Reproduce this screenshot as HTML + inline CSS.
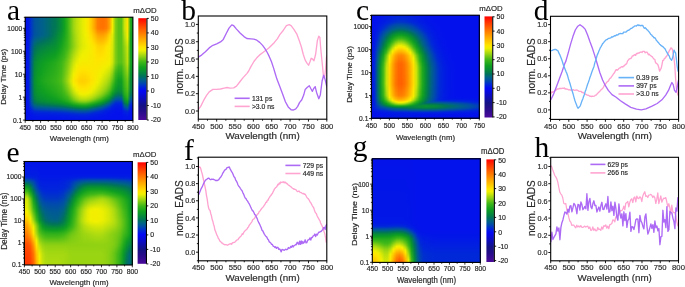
<!DOCTYPE html>
<html><head><meta charset="utf-8"><style>
html,body{margin:0;padding:0;background:#fff;}
body{width:685px;height:287px;position:relative;overflow:hidden;font-family:"Liberation Sans", sans-serif;}
.hm{position:absolute;overflow:hidden;}
.hm div{position:absolute;left:0;width:100%;height:1px;}
svg{position:absolute;left:0;top:0;will-change:transform;}
</style></head><body>
<div class="hm" style="left:25px;top:17px;width:108px;height:104px"><div style="top:0px;background:linear-gradient(90deg,#0311ec 0.5px,#0219e5 3.5px,#0039c3 6.5px,#0052a0 9.5px,#005996 12.5px,#005d8e 15.5px,#006287 18.5px,#00677a 21.5px,#006d6c 24.5px,#00725d 27.5px,#017853 30.5px,#048444 33.5px,#089034 36.5px,#11a120 39.5px,#34b21a 42.5px,#64c415 45.5px,#9ad512 48.5px,#badf0d 51.5px,#cfe608 54.5px,#e4ec03 57.5px,#f3ee00 60.5px,#ffe200 63.5px,#ffc800 66.5px,#ffa600 69.5px,#ff7e00 72.5px,#ff7300 75.5px,#ff7200 78.5px,#ff7c00 81.5px,#ffa100 84.5px,#f5ec00 87.5px,#83cd13 90.5px,#5ac016 93.5px,#59c016 96.5px,#c7e30a 99.5px,#ffe400 102.5px,#26ab1c 105.5px,#10a020 107.5px)"></div><div style="top:1px;background:linear-gradient(90deg,#0311ec 0.5px,#0219e5 3.5px,#0039c3 6.5px,#0052a0 9.5px,#005996 12.5px,#005d8e 15.5px,#006287 18.5px,#00677a 21.5px,#006d6c 24.5px,#00725d 27.5px,#017853 30.5px,#048444 33.5px,#089034 36.5px,#11a120 39.5px,#34b21a 42.5px,#64c415 45.5px,#9ad512 48.5px,#badf0d 51.5px,#cfe608 54.5px,#e4ec03 57.5px,#f3ee00 60.5px,#ffe200 63.5px,#ffc800 66.5px,#ffa600 69.5px,#ff7e00 72.5px,#ff7300 75.5px,#ff7200 78.5px,#ff7c00 81.5px,#ffa100 84.5px,#f5ec00 87.5px,#83cd13 90.5px,#5ac016 93.5px,#59c016 96.5px,#c7e30a 99.5px,#ffe400 102.5px,#26ab1c 105.5px,#10a020 107.5px)"></div><div style="top:2px;background:linear-gradient(90deg,#0311ec 0.5px,#0219e5 3.5px,#0039c3 6.5px,#0052a0 9.5px,#005996 12.5px,#005d8e 15.5px,#006287 18.5px,#00677a 21.5px,#006d6c 24.5px,#00725d 27.5px,#017853 30.5px,#048444 33.5px,#089034 36.5px,#11a120 39.5px,#34b21a 42.5px,#64c415 45.5px,#9ad512 48.5px,#badf0d 51.5px,#cfe608 54.5px,#e4ec03 57.5px,#f3ee00 60.5px,#ffe200 63.5px,#ffc800 66.5px,#ffa600 69.5px,#ff7e00 72.5px,#ff7300 75.5px,#ff7200 78.5px,#ff7c00 81.5px,#ffa100 84.5px,#f5ec00 87.5px,#83cd13 90.5px,#5ac016 93.5px,#59c016 96.5px,#c7e30a 99.5px,#ffe400 102.5px,#26ab1c 105.5px,#10a020 107.5px)"></div><div style="top:3px;background:linear-gradient(90deg,#0311ec 0.5px,#0219e5 3.5px,#0039c3 6.5px,#0052a0 9.5px,#005996 12.5px,#005d8e 15.5px,#006287 18.5px,#00677a 21.5px,#006d6c 24.5px,#00725d 27.5px,#017853 30.5px,#048444 33.5px,#089034 36.5px,#11a120 39.5px,#34b21a 42.5px,#64c415 45.5px,#9ad512 48.5px,#badf0d 51.5px,#cfe608 54.5px,#e4ec03 57.5px,#f3ee00 60.5px,#ffe200 63.5px,#ffc800 66.5px,#ffa600 69.5px,#ff7e00 72.5px,#ff7300 75.5px,#ff7200 78.5px,#ff7c00 81.5px,#ffa100 84.5px,#f5ec00 87.5px,#83cd13 90.5px,#5ac016 93.5px,#59c016 96.5px,#c7e30a 99.5px,#ffe400 102.5px,#26ab1c 105.5px,#10a020 107.5px)"></div><div style="top:4px;background:linear-gradient(90deg,#0311ec 0.5px,#0219e5 3.5px,#0039c3 6.5px,#0052a0 9.5px,#005996 12.5px,#005d8e 15.5px,#006287 18.5px,#00677a 21.5px,#006d6c 24.5px,#00725d 27.5px,#017853 30.5px,#048444 33.5px,#089034 36.5px,#11a120 39.5px,#34b21a 42.5px,#64c415 45.5px,#9ad512 48.5px,#badf0d 51.5px,#cfe608 54.5px,#e4ec03 57.5px,#f3ee00 60.5px,#ffe200 63.5px,#ffc800 66.5px,#ffa600 69.5px,#ff7e00 72.5px,#ff7300 75.5px,#ff7200 78.5px,#ff7c00 81.5px,#ffa100 84.5px,#f5ec00 87.5px,#83cd13 90.5px,#5ac016 93.5px,#59c016 96.5px,#c7e30a 99.5px,#ffe400 102.5px,#26ab1c 105.5px,#10a020 107.5px)"></div><div style="top:5px;background:linear-gradient(90deg,#0311ec 0.5px,#0219e5 3.5px,#0039c3 6.5px,#0052a0 9.5px,#005996 12.5px,#005d8e 15.5px,#006287 18.5px,#00677a 21.5px,#006d6c 24.5px,#00725d 27.5px,#017853 30.5px,#048444 33.5px,#089034 36.5px,#11a120 39.5px,#34b21a 42.5px,#64c415 45.5px,#9ad512 48.5px,#badf0d 51.5px,#cfe608 54.5px,#e4ec03 57.5px,#f3ee00 60.5px,#ffe200 63.5px,#ffc800 66.5px,#ffa600 69.5px,#ff7e00 72.5px,#ff7300 75.5px,#ff7200 78.5px,#ff7c00 81.5px,#ffa100 84.5px,#f5ec00 87.5px,#83cd13 90.5px,#5ac016 93.5px,#59c016 96.5px,#c7e30a 99.5px,#ffe400 102.5px,#26ab1c 105.5px,#10a020 107.5px)"></div><div style="top:6px;background:linear-gradient(90deg,#0311ec 0.5px,#0219e5 3.5px,#0039c3 6.5px,#0052a0 9.5px,#005996 12.5px,#005d8e 15.5px,#006287 18.5px,#00677a 21.5px,#006d6c 24.5px,#00725d 27.5px,#017853 30.5px,#048444 33.5px,#089034 36.5px,#11a120 39.5px,#34b21a 42.5px,#64c415 45.5px,#9ad512 48.5px,#badf0d 51.5px,#cfe608 54.5px,#e4ec03 57.5px,#f3ee00 60.5px,#ffe200 63.5px,#ffc800 66.5px,#ffa600 69.5px,#ff7e00 72.5px,#ff7300 75.5px,#ff7200 78.5px,#ff7c00 81.5px,#ffa100 84.5px,#f5ec00 87.5px,#83cd13 90.5px,#5ac016 93.5px,#59c016 96.5px,#c7e30a 99.5px,#ffe400 102.5px,#26ab1c 105.5px,#10a020 107.5px)"></div><div style="top:7px;background:linear-gradient(90deg,#0311ec 0.5px,#0219e5 3.5px,#0039c3 6.5px,#0052a0 9.5px,#005996 12.5px,#005d8e 15.5px,#006287 18.5px,#00677a 21.5px,#006d6c 24.5px,#00725d 27.5px,#017853 30.5px,#048444 33.5px,#089034 36.5px,#11a120 39.5px,#34b21a 42.5px,#64c415 45.5px,#9ad512 48.5px,#badf0d 51.5px,#cfe608 54.5px,#e4ec03 57.5px,#f3ee00 60.5px,#ffe200 63.5px,#ffc800 66.5px,#ffa600 69.5px,#ff7e00 72.5px,#ff7300 75.5px,#ff7200 78.5px,#ff7c00 81.5px,#ffa100 84.5px,#f5ec00 87.5px,#83cd13 90.5px,#5ac016 93.5px,#59c016 96.5px,#c7e30a 99.5px,#ffe400 102.5px,#26ab1c 105.5px,#10a020 107.5px)"></div><div style="top:8px;background:linear-gradient(90deg,#0311ec 0.5px,#0219e5 3.5px,#0039c3 6.5px,#0052a0 9.5px,#005996 12.5px,#005d8e 15.5px,#006287 18.5px,#00677a 21.5px,#006d6c 24.5px,#00725d 27.5px,#017853 30.5px,#048444 33.5px,#089034 36.5px,#11a120 39.5px,#34b21a 42.5px,#64c415 45.5px,#9ad512 48.5px,#badf0d 51.5px,#cfe608 54.5px,#e4ec03 57.5px,#f3ee00 60.5px,#ffe200 63.5px,#ffc800 66.5px,#ffa600 69.5px,#ff7e00 72.5px,#ff7300 75.5px,#ff7200 78.5px,#ff7c00 81.5px,#ffa100 84.5px,#f5ec00 87.5px,#83cd13 90.5px,#5ac016 93.5px,#59c016 96.5px,#c7e30a 99.5px,#ffe400 102.5px,#26ab1c 105.5px,#10a020 107.5px)"></div><div style="top:9px;background:linear-gradient(90deg,#0311ec 0.5px,#0219e5 3.5px,#0039c3 6.5px,#0052a0 9.5px,#005996 12.5px,#005d8e 15.5px,#006287 18.5px,#00677a 21.5px,#006d6c 24.5px,#00725d 27.5px,#017853 30.5px,#048444 33.5px,#089034 36.5px,#11a120 39.5px,#34b21a 42.5px,#64c415 45.5px,#9ad512 48.5px,#badf0d 51.5px,#cfe608 54.5px,#e4ec03 57.5px,#f3ee00 60.5px,#ffe200 63.5px,#ffc800 66.5px,#ffa600 69.5px,#ff7e00 72.5px,#ff7300 75.5px,#ff7200 78.5px,#ff7c00 81.5px,#ffa100 84.5px,#f5ec00 87.5px,#83cd13 90.5px,#5ac016 93.5px,#59c016 96.5px,#c7e30a 99.5px,#ffe400 102.5px,#25ab1c 105.5px,#10a020 107.5px)"></div><div style="top:10px;background:linear-gradient(90deg,#0311ec 0.5px,#0219e5 3.5px,#0039c3 6.5px,#0052a0 9.5px,#005996 12.5px,#005d8e 15.5px,#006287 18.5px,#00677a 21.5px,#006d6c 24.5px,#00725d 27.5px,#017853 30.5px,#048443 33.5px,#089034 36.5px,#11a120 39.5px,#34b21a 42.5px,#64c415 45.5px,#9ad512 48.5px,#badf0e 51.5px,#cfe608 54.5px,#e4ec03 57.5px,#f3ee00 60.5px,#ffe200 63.5px,#ffc800 66.5px,#ffa600 69.5px,#ff7e00 72.5px,#ff7400 75.5px,#ff7300 78.5px,#ff7d00 81.5px,#ffa200 84.5px,#f5ec00 87.5px,#83cd13 90.5px,#5ac016 93.5px,#59c016 96.5px,#c7e30a 99.5px,#ffe400 102.5px,#25ab1c 105.5px,#10a020 107.5px)"></div><div style="top:11px;background:linear-gradient(90deg,#0311ec 0.5px,#0219e5 3.5px,#0039c3 6.5px,#0052a0 9.5px,#005996 12.5px,#005d8e 15.5px,#006287 18.5px,#00677a 21.5px,#006d6c 24.5px,#00725c 27.5px,#027953 30.5px,#048443 33.5px,#089033 36.5px,#12a120 39.5px,#34b21a 42.5px,#64c315 45.5px,#9ad512 48.5px,#badf0e 51.5px,#cfe608 54.5px,#e3ec03 57.5px,#f3ee00 60.5px,#ffe200 63.5px,#ffc900 66.5px,#ffa800 69.5px,#ff8000 72.5px,#ff7600 75.5px,#ff7500 78.5px,#ff7f00 81.5px,#ffa500 84.5px,#f4ed00 87.5px,#83cd13 90.5px,#5ac016 93.5px,#59c016 96.5px,#c6e30b 99.5px,#fee500 102.5px,#25aa1d 105.5px,#10a020 107.5px)"></div><div style="top:12px;background:linear-gradient(90deg,#0311ec 0.5px,#0219e5 3.5px,#0039c3 6.5px,#0052a0 9.5px,#005996 12.5px,#005d8e 15.5px,#006287 18.5px,#00677a 21.5px,#006d6b 24.5px,#00725c 27.5px,#027a51 30.5px,#048541 33.5px,#089132 36.5px,#13a120 39.5px,#35b21a 42.5px,#63c315 45.5px,#98d412 48.5px,#b9df0e 51.5px,#cfe608 54.5px,#e3ec03 57.5px,#f3ee00 60.5px,#ffe300 63.5px,#ffcb00 66.5px,#ffab00 69.5px,#ff8500 72.5px,#ff7b00 75.5px,#ff7b00 78.5px,#ff8600 81.5px,#ffab00 84.5px,#f3ee00 87.5px,#83cd13 90.5px,#5ac016 93.5px,#59c016 96.5px,#c4e20b 99.5px,#fde600 102.5px,#23aa1d 105.5px,#109f21 107.5px)"></div><div style="top:13px;background:linear-gradient(90deg,#0311ec 0.5px,#0219e5 3.5px,#0039c3 6.5px,#0052a0 9.5px,#005996 12.5px,#005d8e 15.5px,#006287 18.5px,#00677a 21.5px,#006d6b 24.5px,#00735b 27.5px,#027b50 30.5px,#058640 33.5px,#099231 36.5px,#14a21f 39.5px,#35b21a 42.5px,#63c316 45.5px,#97d412 48.5px,#b8de0e 51.5px,#cee508 54.5px,#e3ec03 57.5px,#f2ee00 60.5px,#ffe400 63.5px,#ffce00 66.5px,#ffb000 69.5px,#ff8c00 72.5px,#ff8100 75.5px,#ff8200 78.5px,#ff8d00 81.5px,#ffb200 84.5px,#f2ef00 87.5px,#82cd13 90.5px,#5ac016 93.5px,#59c016 96.5px,#c1e10c 99.5px,#fbe700 102.5px,#22a91d 105.5px,#0f9e22 107.5px)"></div><div style="top:14px;background:linear-gradient(90deg,#0311ec 0.5px,#0219e5 3.5px,#0039c3 6.5px,#0052a0 9.5px,#005996 12.5px,#005d8e 15.5px,#006287 18.5px,#00677a 21.5px,#006d6b 24.5px,#00735a 27.5px,#027c4e 30.5px,#05883e 33.5px,#099330 36.5px,#15a21f 39.5px,#35b31a 42.5px,#62c316 45.5px,#96d412 48.5px,#b7de0e 51.5px,#cee509 54.5px,#e2ec03 57.5px,#f2ef00 60.5px,#fde500 63.5px,#ffd000 66.5px,#ffb400 69.5px,#ff9200 72.5px,#ff8800 75.5px,#ff8900 78.5px,#ff9500 81.5px,#ffba00 84.5px,#f0f000 87.5px,#82cd13 90.5px,#5ac016 93.5px,#59c016 96.5px,#bee00d 99.5px,#f9e900 102.5px,#20a81d 105.5px,#0f9d23 107.5px)"></div><div style="top:15px;background:linear-gradient(90deg,#0311ec 0.5px,#0219e5 3.5px,#0039c3 6.5px,#0052a0 9.5px,#005996 12.5px,#005d8e 15.5px,#006287 18.5px,#00677a 21.5px,#006d6b 24.5px,#007459 27.5px,#037d4d 30.5px,#05893c 33.5px,#0a942f 36.5px,#16a31f 39.5px,#35b31a 42.5px,#61c316 45.5px,#94d312 48.5px,#b6de0f 51.5px,#cee509 54.5px,#e2ec04 57.5px,#f1ef00 60.5px,#fce600 63.5px,#ffd300 66.5px,#ffb800 69.5px,#ff9800 72.5px,#ff8e00 75.5px,#ff9000 78.5px,#ff9d00 81.5px,#ffc100 84.5px,#ecef01 87.5px,#82cd13 90.5px,#5ac016 93.5px,#59c016 96.5px,#bbdf0d 99.5px,#f7ea00 102.5px,#1ea71e 105.5px,#0e9c25 107.5px)"></div><div style="top:16px;background:linear-gradient(90deg,#0311ec 0.5px,#0219e5 3.5px,#0039c3 6.5px,#0052a0 9.5px,#005996 12.5px,#005d8e 15.5px,#006287 18.5px,#00677a 21.5px,#006d6b 24.5px,#017459 27.5px,#037e4b 30.5px,#068a3b 33.5px,#0a952e 36.5px,#17a31f 39.5px,#36b31a 42.5px,#61c316 45.5px,#93d312 48.5px,#b5dd0f 51.5px,#cde509 54.5px,#e1eb04 57.5px,#f1ef00 60.5px,#fbe700 63.5px,#ffd500 66.5px,#ffbc00 69.5px,#ff9e00 72.5px,#ff9500 75.5px,#ff9700 78.5px,#ffa500 81.5px,#ffc800 84.5px,#e8ed02 87.5px,#82cd13 90.5px,#5ac016 93.5px,#59c016 96.5px,#b8de0e 99.5px,#f6ec00 102.5px,#1ca61e 105.5px,#0e9b26 107.5px)"></div><div style="top:17px;background:linear-gradient(90deg,#0311ec 0.5px,#0219e5 3.5px,#0039c2 6.5px,#0052a0 9.5px,#005995 12.5px,#005e8e 15.5px,#006287 18.5px,#00687a 21.5px,#006d6a 24.5px,#017558 27.5px,#037f4a 30.5px,#068b39 33.5px,#0b962c 36.5px,#18a41f 39.5px,#36b31a 42.5px,#60c216 45.5px,#92d212 48.5px,#b4dd0f 51.5px,#cde509 54.5px,#e1eb04 57.5px,#f0f000 60.5px,#fae800 63.5px,#ffd800 66.5px,#ffc000 69.5px,#ffa500 72.5px,#ff9b00 75.5px,#ff9e00 78.5px,#ffad00 81.5px,#ffcf00 84.5px,#e4ec03 87.5px,#82cd13 90.5px,#5ac016 93.5px,#59c016 96.5px,#b5de0f 99.5px,#f4ed00 102.5px,#1ba51e 105.5px,#0d9a27 107.5px)"></div><div style="top:18px;background:linear-gradient(90deg,#0311ec 0.5px,#0219e5 3.5px,#003ac1 6.5px,#00549e 9.5px,#005a93 12.5px,#005f8c 15.5px,#006484 18.5px,#006977 21.5px,#006e68 24.5px,#017656 27.5px,#038148 30.5px,#068d37 33.5px,#0b972b 36.5px,#19a51e 39.5px,#36b31a 42.5px,#60c216 45.5px,#91d212 48.5px,#b3dd0f 51.5px,#cde509 54.5px,#e0eb04 57.5px,#f0f000 60.5px,#fae800 63.5px,#ffda00 66.5px,#ffc300 69.5px,#ffaa00 72.5px,#ffa100 75.5px,#ffa400 78.5px,#ffb300 81.5px,#ffd400 84.5px,#e1eb04 87.5px,#82cd13 90.5px,#5ac016 93.5px,#59c016 96.5px,#b2dd0f 99.5px,#f2ee00 102.5px,#1aa51e 105.5px,#0d9a27 107.5px)"></div><div style="top:19px;background:linear-gradient(90deg,#0311ec 0.5px,#0219e5 3.5px,#003cbf 6.5px,#00569a 9.5px,#005d8f 12.5px,#006288 15.5px,#00667f 18.5px,#006b71 21.5px,#007063 24.5px,#017853 27.5px,#048246 30.5px,#078e36 33.5px,#0c982a 36.5px,#1ba51e 39.5px,#37b31a 42.5px,#60c216 45.5px,#90d212 48.5px,#b2dd0f 51.5px,#cde509 54.5px,#e0eb04 57.5px,#eff000 60.5px,#f9e900 63.5px,#ffdc00 66.5px,#ffc700 69.5px,#ffaf00 72.5px,#ffa600 75.5px,#ffa900 78.5px,#ffb800 81.5px,#ffd700 84.5px,#dfeb04 87.5px,#82cd13 90.5px,#5ac016 93.5px,#59c016 96.5px,#afdc10 99.5px,#f1ef00 102.5px,#19a51e 105.5px,#0d9a28 107.5px)"></div><div style="top:20px;background:linear-gradient(90deg,#0311ec 0.5px,#0219e5 3.5px,#003ebc 6.5px,#005896 9.5px,#00608a 12.5px,#006582 15.5px,#006878 18.5px,#006d6b 21.5px,#00725d 24.5px,#027a50 27.5px,#048443 30.5px,#078f35 33.5px,#0c9929 36.5px,#1ca61e 39.5px,#38b419 42.5px,#61c216 45.5px,#8fd112 48.5px,#b2dc10 51.5px,#cce509 54.5px,#e0eb04 57.5px,#eeef00 60.5px,#f8e900 63.5px,#ffde00 66.5px,#ffca00 69.5px,#ffb300 72.5px,#ffab00 75.5px,#ffae00 78.5px,#ffbd00 81.5px,#ffda00 84.5px,#deeb04 87.5px,#82cd13 90.5px,#5ac016 93.5px,#59c016 96.5px,#addb10 99.5px,#eeef01 102.5px,#19a51e 105.5px,#0d9a28 107.5px)"></div><div style="top:21px;background:linear-gradient(90deg,#0311ec 0.5px,#021ae5 3.5px,#0041b9 6.5px,#005b92 9.5px,#006385 12.5px,#00677b 15.5px,#006b71 18.5px,#006f64 21.5px,#017459 24.5px,#027d4d 27.5px,#048541 30.5px,#089033 33.5px,#0d9a27 36.5px,#1ea71e 39.5px,#38b419 42.5px,#61c316 45.5px,#8fd112 48.5px,#b1dc10 51.5px,#cce509 54.5px,#dfeb04 57.5px,#eeef01 60.5px,#f7ea00 63.5px,#ffe000 66.5px,#ffcc00 69.5px,#ffb700 72.5px,#ffaf00 75.5px,#ffb300 78.5px,#ffc100 81.5px,#ffdc00 84.5px,#deea05 87.5px,#82cd13 90.5px,#5ac016 93.5px,#59c016 96.5px,#aada10 99.5px,#eaee02 102.5px,#19a41f 105.5px,#0d9a28 107.5px)"></div><div style="top:22px;background:linear-gradient(90deg,#0311ec 0.5px,#021ae4 3.5px,#0043b6 6.5px,#005e8e 9.5px,#00667f 12.5px,#006a74 15.5px,#006d6a 18.5px,#00715e 21.5px,#017755 24.5px,#037f4a 27.5px,#05873f 30.5px,#099132 33.5px,#0e9b26 36.5px,#1fa81d 39.5px,#39b519 42.5px,#61c316 45.5px,#8ed112 48.5px,#b0dc10 51.5px,#cce509 54.5px,#dfeb04 57.5px,#edef01 60.5px,#f7eb00 63.5px,#ffe200 66.5px,#ffcf00 69.5px,#ffbb00 72.5px,#ffb400 75.5px,#ffb700 78.5px,#ffc500 81.5px,#ffde00 84.5px,#ddea05 87.5px,#82cd13 90.5px,#5ac016 93.5px,#59c016 96.5px,#a7d911 99.5px,#e5ed03 102.5px,#19a41f 105.5px,#0d9a28 107.5px)"></div><div style="top:23px;background:linear-gradient(90deg,#0311ec 0.5px,#021ae4 3.5px,#0045b3 6.5px,#00608a 9.5px,#006878 12.5px,#006c6d 15.5px,#006f63 18.5px,#007459 21.5px,#027a52 24.5px,#038148 27.5px,#05893d 30.5px,#099230 33.5px,#0e9c24 36.5px,#21a81d 39.5px,#3ab519 42.5px,#61c316 45.5px,#8dd112 48.5px,#b0dc10 51.5px,#cce509 54.5px,#dfeb04 57.5px,#ecef01 60.5px,#f6eb00 63.5px,#ffe300 66.5px,#ffd200 69.5px,#ffbf00 72.5px,#ffb800 75.5px,#ffbc00 78.5px,#ffca00 81.5px,#ffe100 84.5px,#dcea05 87.5px,#82cd13 90.5px,#5ac016 93.5px,#59c016 96.5px,#a4d811 99.5px,#e1eb04 102.5px,#19a41f 105.5px,#0d9a28 107.5px)"></div><div style="top:24px;background:linear-gradient(90deg,#0311ec 0.5px,#021ae4 3.5px,#0048b0 6.5px,#006385 9.5px,#006b71 12.5px,#006e66 15.5px,#00725c 18.5px,#017755 21.5px,#027c4e 24.5px,#048345 27.5px,#068a3a 30.5px,#0a942f 33.5px,#0f9d23 36.5px,#22a91d 39.5px,#3bb519 42.5px,#62c316 45.5px,#8dd113 48.5px,#afdc10 51.5px,#cce509 54.5px,#dfeb04 57.5px,#ebef01 60.5px,#f5ec00 63.5px,#fee500 66.5px,#ffd500 69.5px,#ffc300 72.5px,#ffbd00 75.5px,#ffc000 78.5px,#ffce00 81.5px,#ffe300 84.5px,#dbe905 87.5px,#82cd13 90.5px,#5ac016 93.5px,#59c016 96.5px,#a2d711 99.5px,#ddea05 102.5px,#19a41f 105.5px,#0d9a28 107.5px)"></div><div style="top:25px;background:linear-gradient(90deg,#0311ec 0.5px,#021be4 3.5px,#0049ae 6.5px,#006580 9.5px,#006d6a 12.5px,#00715f 15.5px,#017558 18.5px,#027a51 21.5px,#037f4a 24.5px,#048542 27.5px,#068c38 30.5px,#0a952e 33.5px,#0f9f22 36.5px,#24aa1d 39.5px,#3bb619 42.5px,#62c316 45.5px,#8cd013 48.5px,#aedb10 51.5px,#cce509 54.5px,#deea04 57.5px,#ebee01 60.5px,#f5ec00 63.5px,#fde600 66.5px,#ffd800 69.5px,#ffc700 72.5px,#ffc100 75.5px,#ffc500 78.5px,#ffd300 81.5px,#fee500 84.5px,#dae905 87.5px,#82cd13 90.5px,#5ac016 93.5px,#59c016 96.5px,#9fd611 99.5px,#d9e906 102.5px,#18a41f 105.5px,#0d9a28 107.5px)"></div><div style="top:26px;background:linear-gradient(90deg,#0311ec 0.5px,#021be4 3.5px,#004bac 6.5px,#00677b 9.5px,#006f63 12.5px,#00745a 15.5px,#017854 18.5px,#027d4d 21.5px,#048147 24.5px,#05873f 27.5px,#078d37 30.5px,#0b962c 33.5px,#10a020 36.5px,#25ab1c 39.5px,#3cb619 42.5px,#62c316 45.5px,#8bd013 48.5px,#aedb10 51.5px,#cbe509 54.5px,#deea05 57.5px,#eaee02 60.5px,#f4ed00 63.5px,#fbe700 66.5px,#ffdb00 69.5px,#ffcb00 72.5px,#ffc500 75.5px,#ffc900 78.5px,#ffd700 81.5px,#fce600 84.5px,#d9e906 87.5px,#82cd13 90.5px,#5ac016 93.5px,#59c016 96.5px,#9cd611 99.5px,#d5e807 102.5px,#18a41f 105.5px,#0d9a28 107.5px)"></div><div style="top:27px;background:linear-gradient(90deg,#0311ec 0.5px,#021be3 3.5px,#004caa 6.5px,#006975 9.5px,#00725d 12.5px,#017756 15.5px,#027b50 18.5px,#037f49 21.5px,#048443 24.5px,#05893c 27.5px,#078e35 30.5px,#0c972b 33.5px,#12a120 36.5px,#27ab1c 39.5px,#3db619 42.5px,#62c316 45.5px,#8bd013 48.5px,#addb10 51.5px,#cbe509 54.5px,#deea05 57.5px,#e9ee02 60.5px,#f3ed00 63.5px,#fae800 66.5px,#ffde00 69.5px,#ffcf00 72.5px,#ffca00 75.5px,#ffce00 78.5px,#ffdb00 81.5px,#fbe700 84.5px,#d8e906 87.5px,#82cd13 90.5px,#5ac016 93.5px,#59c016 96.5px,#99d512 99.5px,#d1e608 102.5px,#18a41f 105.5px,#0d9a28 107.5px)"></div><div style="top:28px;background:linear-gradient(90deg,#0311ec 0.5px,#021be3 3.5px,#004da8 6.5px,#006b6f 9.5px,#017558 12.5px,#027a51 15.5px,#037e4c 18.5px,#048245 21.5px,#05873f 24.5px,#068c39 27.5px,#089034 30.5px,#0c9829 33.5px,#14a21f 36.5px,#28ac1c 39.5px,#3db718 42.5px,#63c316 45.5px,#8ad013 48.5px,#addb10 51.5px,#cbe409 54.5px,#ddea05 57.5px,#e8ee02 60.5px,#f3ee00 63.5px,#f9e900 66.5px,#ffe100 69.5px,#ffd300 72.5px,#ffce00 75.5px,#ffd200 78.5px,#ffe000 81.5px,#f9e900 84.5px,#d7e806 87.5px,#82cd13 90.5px,#5ac016 93.5px,#59c016 96.5px,#96d412 99.5px,#cde509 102.5px,#18a41f 105.5px,#0d9a28 107.5px)"></div><div style="top:29px;background:linear-gradient(90deg,#0311ec 0.5px,#021ce3 3.5px,#004ea6 6.5px,#006d6a 9.5px,#017754 12.5px,#027c4e 15.5px,#038148 18.5px,#048542 21.5px,#05893c 24.5px,#078d36 27.5px,#099132 30.5px,#0d9928 33.5px,#16a31f 36.5px,#2aad1c 39.5px,#3eb718 42.5px,#64c315 45.5px,#8ad013 48.5px,#addb10 51.5px,#cce509 54.5px,#deea05 57.5px,#e8ee02 60.5px,#f2ee00 63.5px,#f8ea00 66.5px,#ffe300 69.5px,#ffd600 72.5px,#ffd200 75.5px,#ffd600 78.5px,#ffe300 81.5px,#f8ea00 84.5px,#d7e806 87.5px,#82cd13 90.5px,#5ac016 93.5px,#59c016 96.5px,#94d312 99.5px,#c9e40a 102.5px,#18a41f 105.5px,#0d9a28 107.5px)"></div><div style="top:30px;background:linear-gradient(90deg,#0311ec 0.5px,#021ce3 3.5px,#0050a4 6.5px,#006f65 9.5px,#027a51 12.5px,#037f4a 15.5px,#048344 18.5px,#05873e 21.5px,#068c39 24.5px,#078f34 27.5px,#099330 30.5px,#0d9b26 33.5px,#18a41f 36.5px,#2cae1b 39.5px,#40b818 42.5px,#66c415 45.5px,#8dd113 48.5px,#afdc10 51.5px,#cee509 54.5px,#dfeb04 57.5px,#e9ee02 60.5px,#f2ee00 63.5px,#f7ea00 66.5px,#ffe400 69.5px,#ffd800 72.5px,#ffd400 75.5px,#ffd800 78.5px,#fee500 81.5px,#f7ea00 84.5px,#d6e807 87.5px,#82cd13 90.5px,#5ac016 93.5px,#59c016 96.5px,#92d212 99.5px,#c7e30a 102.5px,#18a41f 105.5px,#0d9a28 107.5px)"></div><div style="top:31px;background:linear-gradient(90deg,#0311ec 0.5px,#021ce3 3.5px,#0051a3 6.5px,#007061 9.5px,#027c4f 12.5px,#038147 15.5px,#048541 18.5px,#058a3b 21.5px,#078d36 24.5px,#089132 27.5px,#0a942e 30.5px,#0e9c24 33.5px,#1aa51e 36.5px,#2eaf1b 39.5px,#43b918 42.5px,#6ac515 45.5px,#91d212 48.5px,#b2dd0f 51.5px,#d0e608 54.5px,#e1eb04 57.5px,#eaee01 60.5px,#f2ee00 63.5px,#f7ea00 66.5px,#ffe400 69.5px,#ffd900 72.5px,#ffd600 75.5px,#ffda00 78.5px,#fee500 81.5px,#f7eb00 84.5px,#d5e807 87.5px,#82cd13 90.5px,#5ac016 93.5px,#59c016 96.5px,#91d212 99.5px,#c6e30a 102.5px,#18a41f 105.5px,#0d9a28 107.5px)"></div><div style="top:32px;background:linear-gradient(90deg,#0311ec 0.5px,#021ce3 3.5px,#0051a1 6.5px,#00725d 9.5px,#037e4c 12.5px,#048345 15.5px,#05873e 18.5px,#068c38 21.5px,#088f34 24.5px,#099230 27.5px,#0b962c 30.5px,#0f9e23 33.5px,#1da61e 36.5px,#30b01b 39.5px,#47ba18 42.5px,#6ec715 45.5px,#95d312 48.5px,#b6de0f 51.5px,#d3e707 54.5px,#e3ec03 57.5px,#ecef01 60.5px,#f3ee00 63.5px,#f8ea00 66.5px,#fee500 69.5px,#ffda00 72.5px,#ffd700 75.5px,#ffdb00 78.5px,#fde600 81.5px,#f6eb00 84.5px,#d5e807 87.5px,#82cd13 90.5px,#5ac016 93.5px,#59c016 96.5px,#90d212 99.5px,#c5e30b 102.5px,#18a41f 105.5px,#0d9a28 107.5px)"></div><div style="top:33px;background:linear-gradient(90deg,#0311ec 0.5px,#021ce3 3.5px,#0052a0 6.5px,#00735a 9.5px,#037f49 12.5px,#048542 15.5px,#058a3b 18.5px,#078d36 21.5px,#089132 24.5px,#0a942e 27.5px,#0c972a 30.5px,#109f21 33.5px,#1fa71e 36.5px,#32b11a 39.5px,#4bbb17 42.5px,#71c814 45.5px,#99d512 48.5px,#b9df0e 51.5px,#d6e806 54.5px,#e6ed03 57.5px,#eeef01 60.5px,#f3ee00 63.5px,#f8ea00 66.5px,#fee500 69.5px,#ffdb00 72.5px,#ffd800 75.5px,#ffdd00 78.5px,#fde600 81.5px,#f6eb00 84.5px,#d4e707 87.5px,#82cd13 90.5px,#5ac016 93.5px,#59c016 96.5px,#8ed112 99.5px,#c4e20b 102.5px,#18a41f 105.5px,#0d9a28 107.5px)"></div><div style="top:34px;background:linear-gradient(90deg,#0311ec 0.5px,#021ce3 3.5px,#00539e 6.5px,#017558 9.5px,#048147 12.5px,#05873f 15.5px,#068c38 18.5px,#088f34 21.5px,#099230 24.5px,#0b962c 27.5px,#0d9928 30.5px,#11a120 33.5px,#21a91d 36.5px,#34b21a 39.5px,#4ebd17 42.5px,#75c914 45.5px,#9dd611 48.5px,#bde00d 51.5px,#d9e906 54.5px,#e8ed02 57.5px,#eff000 60.5px,#f3ed00 63.5px,#f8ea00 66.5px,#fee500 69.5px,#ffdc00 72.5px,#ffda00 75.5px,#ffde00 78.5px,#fce600 81.5px,#f6eb00 84.5px,#d4e707 87.5px,#82cd13 90.5px,#5ac016 93.5px,#59c016 96.5px,#8dd113 99.5px,#c3e20b 102.5px,#18a41f 105.5px,#0d9a28 107.5px)"></div><div style="top:35px;background:linear-gradient(90deg,#0311ec 0.5px,#021ce3 3.5px,#00549d 6.5px,#017756 9.5px,#048344 12.5px,#05893c 15.5px,#078d36 18.5px,#089132 21.5px,#0a942e 24.5px,#0c972a 27.5px,#0d9b26 30.5px,#14a21f 33.5px,#24aa1d 36.5px,#36b31a 39.5px,#52be17 42.5px,#79ca14 45.5px,#a1d711 48.5px,#c1e10c 51.5px,#dcea05 54.5px,#eaee01 57.5px,#f0f000 60.5px,#f4ed00 63.5px,#f8ea00 66.5px,#fee500 69.5px,#ffdd00 72.5px,#ffdb00 75.5px,#ffdf00 78.5px,#fbe700 81.5px,#f6ec00 84.5px,#d3e707 87.5px,#82cd13 90.5px,#5ac016 93.5px,#59c016 96.5px,#8cd013 99.5px,#c2e20b 102.5px,#18a41f 105.5px,#0d9a28 107.5px)"></div><div style="top:36px;background:linear-gradient(90deg,#0311ec 0.5px,#021ce3 3.5px,#00559b 6.5px,#017853 9.5px,#048542 12.5px,#068b39 15.5px,#088f34 18.5px,#099230 21.5px,#0b962c 24.5px,#0c9928 27.5px,#0e9c24 30.5px,#17a31f 33.5px,#26ab1c 36.5px,#38b419 39.5px,#55bf16 42.5px,#7dcb14 45.5px,#a5d811 48.5px,#c4e20b 51.5px,#dfeb04 54.5px,#ecef01 57.5px,#f1ef00 60.5px,#f4ed00 63.5px,#f8ea00 66.5px,#fde500 69.5px,#ffde00 72.5px,#ffdd00 75.5px,#ffe100 78.5px,#fbe700 81.5px,#f5ec00 84.5px,#d3e707 87.5px,#82cd13 90.5px,#5ac016 93.5px,#59c016 96.5px,#8ad013 99.5px,#c1e10c 102.5px,#18a41f 105.5px,#0d9a28 107.5px)"></div><div style="top:37px;background:linear-gradient(90deg,#0311ec 0.5px,#021ce3 3.5px,#00569a 6.5px,#027a51 9.5px,#05873f 12.5px,#068d37 15.5px,#089132 18.5px,#0a942e 21.5px,#0c972a 24.5px,#0d9b26 27.5px,#0f9e22 30.5px,#19a51e 33.5px,#28ac1c 36.5px,#3ab519 39.5px,#59c016 42.5px,#80cd13 45.5px,#a9da10 48.5px,#c8e30a 51.5px,#e2eb04 54.5px,#eff000 57.5px,#f1ef00 60.5px,#f4ed00 63.5px,#f8ea00 66.5px,#fde600 69.5px,#ffdf00 72.5px,#ffde00 75.5px,#ffe200 78.5px,#fae800 81.5px,#f5ec00 84.5px,#d2e707 87.5px,#82cd13 90.5px,#5ac016 93.5px,#59c016 96.5px,#89cf13 99.5px,#c0e10c 102.5px,#18a41f 105.5px,#0d9a28 107.5px)"></div><div style="top:38px;background:linear-gradient(90deg,#0311ec 0.5px,#021ce3 3.5px,#005798 6.5px,#027c4f 9.5px,#05893c 12.5px,#078e35 15.5px,#099230 18.5px,#0b962c 21.5px,#0c9928 24.5px,#0e9c25 27.5px,#10a020 30.5px,#1ca61e 33.5px,#2bad1c 36.5px,#3cb619 39.5px,#5dc116 42.5px,#84ce13 45.5px,#addb10 48.5px,#cbe409 51.5px,#e4ec03 54.5px,#f0f000 57.5px,#f2ee00 60.5px,#f5ec00 63.5px,#f8e900 66.5px,#fde600 69.5px,#ffe000 72.5px,#ffdf00 75.5px,#ffe300 78.5px,#fae800 81.5px,#f5ec00 84.5px,#d2e707 87.5px,#82cd13 90.5px,#5ac016 93.5px,#59c016 96.5px,#88cf13 99.5px,#bfe10c 102.5px,#18a41f 105.5px,#0d9a28 107.5px)"></div><div style="top:39px;background:linear-gradient(90deg,#0311ec 0.5px,#011ce2 3.5px,#005897 6.5px,#037d4c 9.5px,#068b3a 12.5px,#089033 15.5px,#0a942e 18.5px,#0c972a 21.5px,#0d9b26 24.5px,#0f9e23 27.5px,#13a120 30.5px,#1fa71e 33.5px,#2dae1b 36.5px,#3eb718 39.5px,#60c216 42.5px,#88cf13 45.5px,#b1dc10 48.5px,#cfe608 51.5px,#e7ed02 54.5px,#f1ef00 57.5px,#f3ee00 60.5px,#f5ec00 63.5px,#f8e900 66.5px,#fde600 69.5px,#ffe100 72.5px,#ffe100 75.5px,#ffe400 78.5px,#f9e800 81.5px,#f4ec00 84.5px,#d2e608 87.5px,#82cd13 90.5px,#5ac016 93.5px,#59c016 96.5px,#86cf13 99.5px,#bee00c 102.5px,#18a41f 105.5px,#0d9a28 107.5px)"></div><div style="top:40px;background:linear-gradient(90deg,#0311ec 0.5px,#011ce2 3.5px,#005995 6.5px,#037f4a 9.5px,#068c37 12.5px,#099132 15.5px,#0b962c 18.5px,#0d9928 21.5px,#0e9c24 24.5px,#10a021 27.5px,#15a31f 30.5px,#21a91d 33.5px,#2fb01b 36.5px,#41b818 39.5px,#64c315 42.5px,#8cd013 45.5px,#b5de0f 48.5px,#d2e707 51.5px,#eaee01 54.5px,#f2ef00 57.5px,#f3ee00 60.5px,#f5ec00 63.5px,#f8e900 66.5px,#fce600 69.5px,#ffe200 72.5px,#ffe200 75.5px,#fee500 78.5px,#f9e900 81.5px,#f4ed00 84.5px,#d1e608 87.5px,#82cd13 90.5px,#5ac016 93.5px,#59c016 96.5px,#85ce13 99.5px,#bde00d 102.5px,#18a41f 105.5px,#0d9a28 107.5px)"></div><div style="top:41px;background:linear-gradient(90deg,#0311ec 0.5px,#011ce2 3.5px,#005a94 6.5px,#038148 9.5px,#078e36 12.5px,#099330 15.5px,#0c972a 18.5px,#0d9b26 21.5px,#0f9e22 24.5px,#12a120 27.5px,#18a41f 30.5px,#24aa1d 33.5px,#32b11a 36.5px,#45ba18 39.5px,#67c515 42.5px,#8fd112 45.5px,#b9df0e 48.5px,#d6e807 51.5px,#edef01 54.5px,#f3ee00 57.5px,#f4ed00 60.5px,#f6eb00 63.5px,#f8e900 66.5px,#fce600 69.5px,#ffe300 72.5px,#ffe400 75.5px,#fde600 78.5px,#f8e900 81.5px,#f4ed00 84.5px,#d1e608 87.5px,#82cd13 90.5px,#5ac016 93.5px,#59c016 96.5px,#84ce13 99.5px,#bce00d 102.5px,#18a41f 105.5px,#0d9a28 107.5px)"></div><div style="top:42px;background:linear-gradient(90deg,#0311ec 0.5px,#011ce2 3.5px,#005b92 6.5px,#048245 9.5px,#088f34 12.5px,#0a952e 15.5px,#0c9928 18.5px,#0e9c24 21.5px,#10a020 24.5px,#15a31f 27.5px,#1ba61e 30.5px,#27ab1c 33.5px,#34b21a 36.5px,#49bb17 39.5px,#6bc615 42.5px,#93d312 45.5px,#bde00d 48.5px,#d9e906 51.5px,#f0f000 54.5px,#f3ed00 57.5px,#f4ed00 60.5px,#f6eb00 63.5px,#f9e900 66.5px,#fce700 69.5px,#ffe400 72.5px,#fee500 75.5px,#fce700 78.5px,#f8ea00 81.5px,#f4ed00 84.5px,#d0e608 87.5px,#82cd13 90.5px,#5ac016 93.5px,#59c016 96.5px,#83cd13 99.5px,#bbe00d 102.5px,#18a41f 105.5px,#0d9a28 107.5px)"></div><div style="top:43px;background:linear-gradient(90deg,#0311ec 0.5px,#011ce2 3.5px,#005c91 6.5px,#048443 9.5px,#089132 12.5px,#0b962c 15.5px,#0d9b26 18.5px,#0f9e22 21.5px,#12a120 24.5px,#18a41f 27.5px,#1ea71e 30.5px,#29ad1c 33.5px,#36b31a 36.5px,#4dbc17 39.5px,#6ec715 42.5px,#97d412 45.5px,#c1e10c 48.5px,#ddea05 51.5px,#f1ef00 54.5px,#f4ed00 57.5px,#f5ec00 60.5px,#f6eb00 63.5px,#f9e900 66.5px,#fce700 69.5px,#ffe400 72.5px,#fde500 75.5px,#fbe700 78.5px,#f7ea00 81.5px,#f3ed00 84.5px,#d0e608 87.5px,#82cd13 90.5px,#5ac016 93.5px,#59c016 96.5px,#81cd13 99.5px,#bbdf0d 102.5px,#18a41f 105.5px,#0d9a28 107.5px)"></div><div style="top:44px;background:linear-gradient(90deg,#0311ec 0.5px,#011ce2 3.5px,#005d8f 6.5px,#058641 9.5px,#099231 12.5px,#0c982a 15.5px,#0e9c25 18.5px,#10a020 21.5px,#15a31f 24.5px,#1ba61e 27.5px,#21a91d 30.5px,#2cae1b 33.5px,#39b419 36.5px,#51bd17 39.5px,#72c814 42.5px,#9ad512 45.5px,#c4e20b 48.5px,#e0eb04 51.5px,#f2ee00 54.5px,#f5ec00 57.5px,#f5ec00 60.5px,#f7eb00 63.5px,#f9e900 66.5px,#fbe700 69.5px,#fee500 72.5px,#fce600 75.5px,#fae800 78.5px,#f7eb00 81.5px,#f3ee00 84.5px,#cfe608 87.5px,#82cd13 90.5px,#5ac016 93.5px,#59c016 96.5px,#80cd13 99.5px,#badf0e 102.5px,#18a41f 105.5px,#0d9a28 107.5px)"></div><div style="top:45px;background:linear-gradient(90deg,#0311ec 0.5px,#011ce2 3.5px,#005e8e 6.5px,#05873f 9.5px,#0a942f 12.5px,#0c9928 15.5px,#0f9e23 18.5px,#12a120 21.5px,#18a41f 24.5px,#1ea71e 27.5px,#24aa1d 30.5px,#2eaf1b 33.5px,#3bb519 36.5px,#54be17 39.5px,#75c914 42.5px,#9ed611 45.5px,#c8e40a 48.5px,#e4ec03 51.5px,#f3ed00 54.5px,#f6eb00 57.5px,#f6eb00 60.5px,#f7ea00 63.5px,#f9e900 66.5px,#fbe700 69.5px,#fde500 72.5px,#fbe700 75.5px,#f9e900 78.5px,#f6eb00 81.5px,#f2ee00 84.5px,#cde509 87.5px,#81cd13 90.5px,#58c016 93.5px,#58c016 96.5px,#7ecc14 99.5px,#b8de0e 102.5px,#17a41f 105.5px,#0d9928 107.5px)"></div><div style="top:46px;background:linear-gradient(90deg,#0311ec 0.5px,#011ce2 3.5px,#005e8d 6.5px,#05883d 9.5px,#0a942e 12.5px,#0d9a27 15.5px,#0f9f22 18.5px,#14a21f 21.5px,#1aa51e 24.5px,#1fa81d 27.5px,#26ab1c 30.5px,#30b01b 33.5px,#3cb619 36.5px,#57bf16 39.5px,#78ca14 42.5px,#a1d711 45.5px,#cce509 48.5px,#e8ed02 51.5px,#f4ec00 54.5px,#f7ea00 57.5px,#f7ea00 60.5px,#f8ea00 63.5px,#f9e900 66.5px,#fbe700 69.5px,#fde600 72.5px,#fae800 75.5px,#f8ea00 78.5px,#f5ec00 81.5px,#f1ef00 84.5px,#cae40a 87.5px,#7dcc14 90.5px,#54be17 93.5px,#53be17 96.5px,#7ccb14 99.5px,#b5de0f 102.5px,#16a31f 105.5px,#0c9929 107.5px)"></div><div style="top:47px;background:linear-gradient(90deg,#0311ec 0.5px,#011ce2 3.5px,#005e8d 6.5px,#05893c 9.5px,#0a952d 12.5px,#0d9a27 15.5px,#109f21 18.5px,#15a21f 21.5px,#1ba51e 24.5px,#21a81d 27.5px,#27ab1c 30.5px,#31b01b 33.5px,#3db619 36.5px,#58c016 39.5px,#7bcb14 42.5px,#a4d811 45.5px,#cfe608 48.5px,#ebef01 51.5px,#f6eb00 54.5px,#f8e900 57.5px,#f8e900 60.5px,#f9e900 63.5px,#fae800 66.5px,#fbe700 69.5px,#fce600 72.5px,#fae800 75.5px,#f7eb00 78.5px,#f4ed00 81.5px,#eef000 84.5px,#c4e20b 87.5px,#77ca14 90.5px,#4ebc17 93.5px,#4dbc17 96.5px,#79ca14 99.5px,#b1dc10 102.5px,#14a21f 105.5px,#0c982a 107.5px)"></div><div style="top:48px;background:linear-gradient(90deg,#0311ec 0.5px,#011ce2 3.5px,#005e8d 6.5px,#05893c 9.5px,#0b962d 12.5px,#0e9b26 15.5px,#10a020 18.5px,#16a31f 21.5px,#1ca61e 24.5px,#22a91d 27.5px,#28ac1c 30.5px,#32b11a 33.5px,#3db718 36.5px,#5ac016 39.5px,#7dcc14 42.5px,#a7d911 45.5px,#d2e707 48.5px,#eff000 51.5px,#f7ea00 54.5px,#fae800 57.5px,#fae800 60.5px,#fae800 63.5px,#fae800 66.5px,#fbe700 69.5px,#fbe700 72.5px,#f9e900 75.5px,#f5ec00 78.5px,#f2ee00 81.5px,#e9ee02 84.5px,#bee10c 87.5px,#71c815 90.5px,#47ba18 93.5px,#47ba18 96.5px,#75c914 99.5px,#addb10 102.5px,#12a120 105.5px,#0b972b 107.5px)"></div><div style="top:49px;background:linear-gradient(90deg,#0311ec 0.5px,#011ce2 3.5px,#005f8c 6.5px,#068a3b 9.5px,#0b962c 12.5px,#0e9c25 15.5px,#11a020 18.5px,#17a31f 21.5px,#1da61e 24.5px,#23a91d 27.5px,#29ac1c 30.5px,#33b11a 33.5px,#3eb718 36.5px,#5cc116 39.5px,#7fcc13 42.5px,#aada10 45.5px,#d6e807 48.5px,#f1ef00 51.5px,#f9e900 54.5px,#fbe700 57.5px,#fbe700 60.5px,#fbe800 63.5px,#fbe800 66.5px,#fbe700 69.5px,#fbe700 72.5px,#f8ea00 75.5px,#f4ed00 78.5px,#f1ef00 81.5px,#e4ec03 84.5px,#b9df0e 87.5px,#6ac615 90.5px,#40b818 93.5px,#40b818 96.5px,#72c814 99.5px,#a9da11 102.5px,#10a020 105.5px,#0b952d 107.5px)"></div><div style="top:50px;background:linear-gradient(90deg,#0311ec 0.5px,#011ce2 3.5px,#005f8c 6.5px,#068a3a 9.5px,#0b972b 12.5px,#0e9c25 15.5px,#12a120 18.5px,#18a41f 21.5px,#1ea71e 24.5px,#24aa1d 27.5px,#2aad1c 30.5px,#34b21a 33.5px,#3fb718 36.5px,#5ec116 39.5px,#81cd13 42.5px,#addb10 45.5px,#d9e906 48.5px,#f2ee00 51.5px,#fae800 54.5px,#fde600 57.5px,#fce600 60.5px,#fce700 63.5px,#fbe700 66.5px,#fbe700 69.5px,#fae800 72.5px,#f7ea00 75.5px,#f3ed00 78.5px,#eeef00 81.5px,#dfeb04 84.5px,#b3dd0f 87.5px,#64c415 90.5px,#3cb619 93.5px,#3db619 96.5px,#6fc715 99.5px,#a4d811 102.5px,#0f9f22 105.5px,#0a942e 107.5px)"></div><div style="top:51px;background:linear-gradient(90deg,#0311ec 0.5px,#011ce2 3.5px,#005f8c 6.5px,#068b39 9.5px,#0c972b 12.5px,#0e9d24 15.5px,#13a120 18.5px,#19a41f 21.5px,#1fa71e 24.5px,#24aa1d 27.5px,#2bad1c 30.5px,#34b21a 33.5px,#3fb818 36.5px,#5fc216 39.5px,#84ce13 42.5px,#b0dc10 45.5px,#dcea05 48.5px,#f4ed00 51.5px,#fbe700 54.5px,#fee500 57.5px,#fde500 60.5px,#fce600 63.5px,#fbe700 66.5px,#fbe800 69.5px,#fae800 72.5px,#f6eb00 75.5px,#f2ee00 78.5px,#eaee01 81.5px,#dae905 84.5px,#addb10 87.5px,#5ec216 90.5px,#39b419 93.5px,#39b519 96.5px,#6cc615 99.5px,#a0d711 102.5px,#0f9d23 105.5px,#0a932f 107.5px)"></div><div style="top:52px;background:linear-gradient(90deg,#0311ec 0.5px,#011ce2 3.5px,#005f8c 6.5px,#068c39 9.5px,#0c982a 12.5px,#0f9d23 15.5px,#14a21f 18.5px,#1aa51e 21.5px,#20a81d 24.5px,#25ab1c 27.5px,#2cae1b 30.5px,#35b31a 33.5px,#40b818 36.5px,#61c316 39.5px,#86ce13 42.5px,#b2dd0f 45.5px,#e0eb04 48.5px,#f5ec00 51.5px,#fde600 54.5px,#ffe400 57.5px,#ffe400 60.5px,#fde500 63.5px,#fce700 66.5px,#fbe800 69.5px,#f9e900 72.5px,#f5ec00 75.5px,#f1ef00 78.5px,#e6ed02 81.5px,#d5e807 84.5px,#a7d911 87.5px,#57bf16 90.5px,#35b21a 93.5px,#36b31a 96.5px,#68c515 99.5px,#9cd511 102.5px,#0e9c24 105.5px,#099231 107.5px)"></div><div style="top:53px;background:linear-gradient(90deg,#0311ec 0.5px,#011ce2 3.5px,#005f8b 6.5px,#068c38 9.5px,#0c9829 12.5px,#0f9e23 15.5px,#15a21f 18.5px,#1ba51e 21.5px,#21a81d 24.5px,#26ab1c 27.5px,#2dae1b 30.5px,#36b31a 33.5px,#42b918 36.5px,#63c316 39.5px,#88cf13 42.5px,#b5de0f 45.5px,#e3ec03 48.5px,#f6eb00 51.5px,#fee500 54.5px,#ffe200 57.5px,#ffe300 60.5px,#fee500 63.5px,#fce600 66.5px,#fae800 69.5px,#f8e900 72.5px,#f4ed00 75.5px,#eff000 78.5px,#e2ec03 81.5px,#d0e608 84.5px,#a1d711 87.5px,#51bd17 90.5px,#31b11a 93.5px,#32b11a 96.5px,#65c415 99.5px,#97d412 102.5px,#0e9b26 105.5px,#099132 107.5px)"></div><div style="top:54px;background:linear-gradient(90deg,#0311ec 0.5px,#011ce2 3.5px,#005f8b 6.5px,#068c37 9.5px,#0c9929 12.5px,#0f9e22 15.5px,#15a31f 18.5px,#1ca61e 21.5px,#22a91d 24.5px,#27ac1c 27.5px,#2eaf1b 30.5px,#37b31a 33.5px,#43b918 36.5px,#64c415 39.5px,#8bd013 42.5px,#b8de0e 45.5px,#e6ed02 48.5px,#f7ea00 51.5px,#ffe300 54.5px,#ffe000 57.5px,#ffe100 60.5px,#ffe400 63.5px,#fde600 66.5px,#fae800 69.5px,#f8ea00 72.5px,#f3ed00 75.5px,#ecef01 78.5px,#deea04 81.5px,#cbe509 84.5px,#9bd512 87.5px,#4bbb17 90.5px,#2daf1b 93.5px,#2faf1b 96.5px,#62c316 99.5px,#93d312 102.5px,#0d9a27 105.5px,#089033 107.5px)"></div><div style="top:55px;background:linear-gradient(90deg,#0311ec 0.5px,#011ce2 3.5px,#00608b 6.5px,#068d37 9.5px,#0d9928 12.5px,#0f9f21 15.5px,#16a31f 18.5px,#1da61e 21.5px,#23a91d 24.5px,#28ac1c 27.5px,#2eaf1b 30.5px,#38b419 33.5px,#44b918 36.5px,#66c415 39.5px,#8dd113 42.5px,#bbdf0d 45.5px,#e9ee02 48.5px,#f9e900 51.5px,#ffe100 54.5px,#ffde00 57.5px,#ffdf00 60.5px,#ffe200 63.5px,#fde500 66.5px,#fae800 69.5px,#f7ea00 72.5px,#f2ee00 75.5px,#e9ee02 78.5px,#dae905 81.5px,#c6e30a 84.5px,#95d312 87.5px,#44b918 90.5px,#2aad1c 93.5px,#2bae1b 96.5px,#5fc216 99.5px,#8fd112 102.5px,#0c9929 105.5px,#078f35 107.5px)"></div><div style="top:56px;background:linear-gradient(90deg,#0311ec 0.5px,#011ce2 3.5px,#00608b 6.5px,#078d36 9.5px,#0d9a27 12.5px,#109f21 15.5px,#17a41f 18.5px,#1ea71e 21.5px,#24aa1d 24.5px,#29ad1c 27.5px,#2fb01b 30.5px,#39b419 33.5px,#46ba18 36.5px,#68c515 39.5px,#8fd112 42.5px,#bde00d 45.5px,#edef01 48.5px,#fae800 51.5px,#ffdf00 54.5px,#ffdc00 57.5px,#ffde00 60.5px,#ffe100 63.5px,#fee500 66.5px,#fae800 69.5px,#f7eb00 72.5px,#f2ef00 75.5px,#e5ed03 78.5px,#d6e806 81.5px,#c1e10c 84.5px,#8fd112 87.5px,#3fb718 90.5px,#26ab1c 93.5px,#27ac1c 96.5px,#5bc116 99.5px,#8ad013 102.5px,#0c972a 105.5px,#078e36 107.5px)"></div><div style="top:57px;background:linear-gradient(90deg,#0311ec 0.5px,#011ce2 3.5px,#00608a 6.5px,#078e36 9.5px,#0d9a27 12.5px,#10a020 15.5px,#18a41f 18.5px,#1fa71e 21.5px,#25aa1d 24.5px,#2aad1c 27.5px,#30b01b 30.5px,#39b519 33.5px,#47ba18 36.5px,#69c515 39.5px,#91d212 42.5px,#c0e10c 45.5px,#f0f000 48.5px,#fbe700 51.5px,#ffde00 54.5px,#ffda00 57.5px,#ffdc00 60.5px,#ffe000 63.5px,#fee500 66.5px,#fae800 69.5px,#f6eb00 72.5px,#f1ef00 75.5px,#e2ec03 78.5px,#d2e708 81.5px,#bce00d 84.5px,#89cf13 87.5px,#3bb619 90.5px,#22a91d 93.5px,#24aa1d 96.5px,#58c016 99.5px,#86cf13 102.5px,#0b962c 105.5px,#068d37 107.5px)"></div><div style="top:58px;background:linear-gradient(90deg,#0311ec 0.5px,#011ce2 3.5px,#00608a 6.5px,#078e35 9.5px,#0d9b26 12.5px,#11a020 15.5px,#19a51e 18.5px,#20a81d 21.5px,#25ab1c 24.5px,#2bae1b 27.5px,#31b11a 30.5px,#3ab519 33.5px,#48bb17 36.5px,#6bc615 39.5px,#94d312 42.5px,#c3e20b 45.5px,#f1ef00 48.5px,#fde600 51.5px,#ffdc00 54.5px,#ffd800 57.5px,#ffda00 60.5px,#ffde00 63.5px,#fee400 66.5px,#fae800 69.5px,#f6ec00 72.5px,#f0f000 75.5px,#dfeb04 78.5px,#cee509 81.5px,#b7de0e 84.5px,#82cd13 87.5px,#38b419 90.5px,#1ea71e 93.5px,#20a81d 96.5px,#55bf17 99.5px,#82cd13 102.5px,#0b952d 105.5px,#068b39 107.5px)"></div><div style="top:59px;background:linear-gradient(90deg,#0311ec 0.5px,#011ce2 3.5px,#00608a 6.5px,#078f35 9.5px,#0e9b26 12.5px,#12a120 15.5px,#1aa51e 18.5px,#21a81d 21.5px,#26ab1c 24.5px,#2cae1b 27.5px,#32b11a 30.5px,#3bb619 33.5px,#49bb17 36.5px,#6dc615 39.5px,#96d412 42.5px,#c6e30b 45.5px,#f2ee00 48.5px,#fee500 51.5px,#ffda00 54.5px,#ffd600 57.5px,#ffd800 60.5px,#ffdd00 63.5px,#ffe400 66.5px,#fae800 69.5px,#f5ec00 72.5px,#edef01 75.5px,#dcea05 78.5px,#cae40a 81.5px,#b2dd0f 84.5px,#7ccb14 87.5px,#35b21a 90.5px,#1ba51e 93.5px,#1da61e 96.5px,#52be17 99.5px,#7dcc14 102.5px,#0a942f 105.5px,#068a3b 107.5px)"></div><div style="top:60px;background:linear-gradient(90deg,#0311ec 0.5px,#011ce2 3.5px,#006189 6.5px,#078f34 9.5px,#0e9c25 12.5px,#13a120 15.5px,#1ba61e 18.5px,#22a91d 21.5px,#27ac1c 24.5px,#2daf1b 27.5px,#33b21a 30.5px,#3cb619 33.5px,#4bbb17 36.5px,#6ec715 39.5px,#98d412 42.5px,#c8e40a 45.5px,#f3ed00 48.5px,#ffe400 51.5px,#ffd800 54.5px,#ffd500 57.5px,#ffd700 60.5px,#ffdc00 63.5px,#ffe400 66.5px,#fae800 69.5px,#f4ed00 72.5px,#eaee01 75.5px,#d8e906 78.5px,#c6e30b 81.5px,#addb10 84.5px,#76c914 87.5px,#31b11a 90.5px,#17a31f 93.5px,#19a51e 96.5px,#4ebd17 99.5px,#79ca14 102.5px,#099330 105.5px,#05893d 107.5px)"></div><div style="top:61px;background:linear-gradient(90deg,#0311ec 0.5px,#011ce2 3.5px,#006189 6.5px,#088f34 9.5px,#0e9c24 12.5px,#14a21f 15.5px,#1ca61e 18.5px,#23a91d 21.5px,#28ac1c 24.5px,#2eaf1b 27.5px,#34b21a 30.5px,#3db619 33.5px,#4cbc17 36.5px,#70c715 39.5px,#9ad512 42.5px,#cbe409 45.5px,#f5ec00 48.5px,#ffe200 51.5px,#ffd600 54.5px,#ffd300 57.5px,#ffd500 60.5px,#ffdb00 63.5px,#ffe300 66.5px,#fae800 69.5px,#f4ed00 72.5px,#e8ed02 75.5px,#d5e807 78.5px,#c2e20c 81.5px,#a8d911 84.5px,#70c715 87.5px,#2eaf1b 90.5px,#13a21f 93.5px,#16a31f 96.5px,#4bbc17 99.5px,#75c914 102.5px,#099131 105.5px,#05873f 107.5px)"></div><div style="top:62px;background:linear-gradient(90deg,#0311ec 0.5px,#011ce2 3.5px,#006189 6.5px,#089033 9.5px,#0e9d24 12.5px,#15a21f 15.5px,#1da71e 18.5px,#24aa1d 21.5px,#29ad1c 24.5px,#2fb01b 27.5px,#35b31a 30.5px,#3eb718 33.5px,#4dbc17 36.5px,#72c814 39.5px,#9dd611 42.5px,#cee509 45.5px,#f6eb00 48.5px,#ffe000 51.5px,#ffd400 54.5px,#ffd100 57.5px,#ffd300 60.5px,#ffd900 63.5px,#ffe200 66.5px,#fae800 69.5px,#f3ee00 72.5px,#e5ed03 75.5px,#d2e708 78.5px,#bde00d 81.5px,#a2d811 84.5px,#6ac515 87.5px,#2aad1c 90.5px,#10a020 93.5px,#12a120 96.5px,#48bb17 99.5px,#70c815 102.5px,#089033 105.5px,#058641 107.5px)"></div><div style="top:63px;background:linear-gradient(90deg,#0311ec 0.5px,#011ce2 3.5px,#006189 6.5px,#089033 9.5px,#0f9d23 12.5px,#15a31f 15.5px,#1ea71e 18.5px,#24aa1d 21.5px,#2aad1c 24.5px,#30b01b 27.5px,#36b31a 30.5px,#3eb718 33.5px,#4ebd17 36.5px,#73c814 39.5px,#9ed611 42.5px,#cfe608 45.5px,#f7eb00 48.5px,#ffdf00 51.5px,#ffd300 54.5px,#ffd000 57.5px,#ffd200 60.5px,#ffd900 63.5px,#ffe200 66.5px,#f9e800 69.5px,#f2ee00 72.5px,#e3ec03 75.5px,#cee508 78.5px,#b9df0e 81.5px,#9dd611 84.5px,#63c315 87.5px,#27ab1c 90.5px,#0f9e23 93.5px,#109f21 96.5px,#45b918 99.5px,#6cc615 102.5px,#088f34 105.5px,#048443 107.5px)"></div><div style="top:64px;background:linear-gradient(90deg,#0311ec 0.5px,#011ce2 3.5px,#006189 6.5px,#089033 9.5px,#0f9d23 12.5px,#15a31f 15.5px,#1ea71e 18.5px,#24aa1d 21.5px,#2aad1c 24.5px,#30b01b 27.5px,#36b31a 30.5px,#3eb718 33.5px,#4ebc17 36.5px,#72c814 39.5px,#9dd611 42.5px,#cfe608 45.5px,#f6eb00 48.5px,#ffdf00 51.5px,#ffd300 54.5px,#ffd000 57.5px,#ffd200 60.5px,#ffd900 63.5px,#ffe300 66.5px,#f9e900 69.5px,#f1ef00 72.5px,#dfeb04 75.5px,#cae409 78.5px,#b5dd0f 81.5px,#97d412 84.5px,#5cc116 87.5px,#23aa1d 90.5px,#0e9c25 93.5px,#0f9e23 96.5px,#41b818 99.5px,#69c515 102.5px,#078e35 105.5px,#048344 107.5px)"></div><div style="top:65px;background:linear-gradient(90deg,#0311ec 0.5px,#011ce2 3.5px,#006189 6.5px,#089034 9.5px,#0e9d24 12.5px,#14a21f 15.5px,#1da61e 18.5px,#23a91d 21.5px,#29ac1c 24.5px,#2faf1b 27.5px,#35b21a 30.5px,#3db619 33.5px,#4bbc17 36.5px,#6fc715 39.5px,#9ad512 42.5px,#cbe409 45.5px,#f5ec00 48.5px,#ffe200 51.5px,#ffd500 54.5px,#ffd200 57.5px,#ffd400 60.5px,#ffdb00 63.5px,#ffe400 66.5px,#f7ea00 69.5px,#f0f000 72.5px,#dbea05 75.5px,#c6e30a 78.5px,#b0dc10 81.5px,#91d212 84.5px,#55bf17 87.5px,#20a81d 90.5px,#0d9a27 93.5px,#0e9c24 96.5px,#3fb818 99.5px,#66c415 102.5px,#078e36 105.5px,#048245 107.5px)"></div><div style="top:66px;background:linear-gradient(90deg,#0311ec 0.5px,#011ce2 3.5px,#006189 6.5px,#088f34 9.5px,#0e9c25 12.5px,#13a21f 15.5px,#1ba61e 18.5px,#21a91d 21.5px,#27ac1c 24.5px,#2daf1b 27.5px,#33b21a 30.5px,#3bb619 33.5px,#48bb17 36.5px,#6bc615 39.5px,#95d312 42.5px,#c5e30b 45.5px,#f3ee00 48.5px,#ffe400 51.5px,#ffd800 54.5px,#ffd500 57.5px,#ffd700 60.5px,#ffdd00 63.5px,#fde600 66.5px,#f6eb00 69.5px,#ecef01 72.5px,#d7e806 75.5px,#c2e20c 78.5px,#abda10 81.5px,#8bd013 84.5px,#4dbc17 87.5px,#1da61e 90.5px,#0c9928 93.5px,#0e9b26 96.5px,#3db718 99.5px,#64c315 102.5px,#068d37 105.5px,#048246 107.5px)"></div><div style="top:67px;background:linear-gradient(90deg,#0311ec 0.5px,#011ce2 3.5px,#00608a 6.5px,#078f35 9.5px,#0e9c25 12.5px,#12a120 15.5px,#1aa51e 18.5px,#20a81d 21.5px,#26ab1c 24.5px,#2cae1b 27.5px,#32b11a 30.5px,#3ab519 33.5px,#45ba18 36.5px,#68c515 39.5px,#90d212 42.5px,#c0e10c 45.5px,#f1f000 48.5px,#fce600 51.5px,#ffdb00 54.5px,#ffd800 57.5px,#ffda00 60.5px,#ffe000 63.5px,#fbe700 66.5px,#f4ec00 69.5px,#e8ed02 72.5px,#d3e707 75.5px,#bde00d 78.5px,#a5d911 81.5px,#85ce13 84.5px,#45ba18 87.5px,#19a51e 90.5px,#0c982a 93.5px,#0d9a27 96.5px,#3cb619 99.5px,#61c316 102.5px,#068c38 105.5px,#038147 107.5px)"></div><div style="top:68px;background:linear-gradient(90deg,#0311ec 0.5px,#011ce2 3.5px,#00608a 6.5px,#078e35 9.5px,#0d9b26 12.5px,#10a020 15.5px,#18a41f 18.5px,#1ea71e 21.5px,#24aa1d 24.5px,#2aad1c 27.5px,#30b01b 30.5px,#38b419 33.5px,#42b918 36.5px,#64c415 39.5px,#8bd013 42.5px,#bbdf0d 45.5px,#ecef01 48.5px,#fae800 51.5px,#ffde00 54.5px,#ffdb00 57.5px,#ffdc00 60.5px,#ffe200 63.5px,#fae800 66.5px,#f3ee00 69.5px,#e3ec03 72.5px,#cee608 75.5px,#b8df0e 78.5px,#a0d711 81.5px,#7ecc14 84.5px,#3eb718 87.5px,#16a31f 90.5px,#0b962c 93.5px,#0c9929 96.5px,#3ab519 99.5px,#5fc216 102.5px,#068c38 105.5px,#038049 107.5px)"></div><div style="top:69px;background:linear-gradient(90deg,#0311ec 0.5px,#011ce2 3.5px,#00608a 6.5px,#078e36 9.5px,#0d9a27 12.5px,#109f21 15.5px,#17a31f 18.5px,#1da61e 21.5px,#23a91d 24.5px,#28ac1c 27.5px,#2eaf1b 30.5px,#36b31a 33.5px,#40b818 36.5px,#60c216 39.5px,#87cf13 42.5px,#b5de0f 45.5px,#e6ed03 48.5px,#f8ea00 51.5px,#ffe100 54.5px,#ffde00 57.5px,#ffdf00 60.5px,#fee500 63.5px,#f8e900 66.5px,#f1ef00 69.5px,#dfeb04 72.5px,#cae40a 75.5px,#b4dd0f 78.5px,#9ad512 81.5px,#77ca14 84.5px,#3ab519 87.5px,#12a120 90.5px,#0a942e 93.5px,#0c972a 96.5px,#38b419 99.5px,#5cc116 102.5px,#068b3a 105.5px,#037f4a 107.5px)"></div><div style="top:70px;background:linear-gradient(90deg,#0311ec 0.5px,#011ce2 3.5px,#00608b 6.5px,#078d37 9.5px,#0d9a28 12.5px,#0f9f22 15.5px,#15a21f 18.5px,#1ba61e 21.5px,#21a81d 24.5px,#27ab1c 27.5px,#2dae1b 30.5px,#35b21a 33.5px,#3eb718 36.5px,#5cc116 39.5px,#82cd13 42.5px,#b0dc10 45.5px,#dfeb04 48.5px,#f6eb00 51.5px,#ffe400 54.5px,#ffe100 57.5px,#ffe200 60.5px,#fce600 63.5px,#f7eb00 66.5px,#eff000 69.5px,#dae905 72.5px,#c5e30b 75.5px,#aedb10 78.5px,#94d312 81.5px,#70c715 84.5px,#35b21a 87.5px,#0f9f22 90.5px,#099230 93.5px,#0b962c 96.5px,#36b31a 99.5px,#59c016 102.5px,#058a3b 105.5px,#037e4c 107.5px)"></div><div style="top:71px;background:linear-gradient(90deg,#0311ec 0.5px,#011ce2 3.5px,#005f8b 6.5px,#068d37 9.5px,#0c9929 12.5px,#0f9e23 15.5px,#13a21f 18.5px,#19a51e 21.5px,#1fa81d 24.5px,#25ab1c 27.5px,#2bae1b 30.5px,#33b21a 33.5px,#3cb619 36.5px,#58c016 39.5px,#7dcb14 42.5px,#aada10 45.5px,#d9e906 48.5px,#f3ed00 51.5px,#fde600 54.5px,#ffe400 57.5px,#fee500 60.5px,#fbe800 63.5px,#f5ec00 66.5px,#ebee01 69.5px,#d5e807 72.5px,#c0e10c 75.5px,#a9da11 78.5px,#8dd112 81.5px,#68c515 84.5px,#2fb01b 87.5px,#0e9c25 90.5px,#089033 93.5px,#0a942f 96.5px,#34b21a 99.5px,#56bf16 102.5px,#05883d 105.5px,#027d4d 107.5px)"></div><div style="top:72px;background:linear-gradient(90deg,#0311ec 0.5px,#011ce2 3.5px,#005f8c 6.5px,#068c38 9.5px,#0c9829 12.5px,#0e9d24 15.5px,#12a120 18.5px,#18a41f 21.5px,#1da71e 24.5px,#23aa1d 27.5px,#29ad1c 30.5px,#31b11a 33.5px,#3bb519 36.5px,#54be17 39.5px,#77ca14 42.5px,#a4d811 45.5px,#d3e707 48.5px,#f1ef00 51.5px,#fae800 54.5px,#fde600 57.5px,#fce600 60.5px,#f9e900 63.5px,#f3ee00 66.5px,#e6ed03 69.5px,#d0e608 72.5px,#bbdf0d 75.5px,#a2d811 78.5px,#86ce13 81.5px,#60c216 84.5px,#29ad1c 87.5px,#0c9929 90.5px,#078e36 93.5px,#099231 96.5px,#32b11a 99.5px,#53be17 102.5px,#05873f 105.5px,#027b50 107.5px)"></div><div style="top:73px;background:linear-gradient(90deg,#0311ec 0.5px,#011ce2 3.5px,#005f8c 6.5px,#068b39 9.5px,#0c972a 12.5px,#0e9c25 15.5px,#10a020 18.5px,#16a31f 21.5px,#1ca61e 24.5px,#21a91d 27.5px,#27ac1c 30.5px,#30b01b 33.5px,#39b419 36.5px,#50bd17 39.5px,#72c814 42.5px,#9ed611 45.5px,#cce509 48.5px,#ecef01 51.5px,#f8ea00 54.5px,#fbe800 57.5px,#fae800 60.5px,#f6eb00 63.5px,#f1ef00 66.5px,#e0eb04 69.5px,#cbe409 72.5px,#b5de0f 75.5px,#9cd511 78.5px,#7ecc14 81.5px,#56bf16 84.5px,#23a91d 87.5px,#0b952d 90.5px,#068b3a 93.5px,#088f34 96.5px,#30b01b 99.5px,#4fbd17 102.5px,#048542 105.5px,#027952 107.5px)"></div><div style="top:74px;background:linear-gradient(90deg,#0311ec 0.5px,#011ce2 3.5px,#005f8d 6.5px,#068a3a 9.5px,#0b972b 12.5px,#0e9b26 15.5px,#0f9f21 18.5px,#14a21f 21.5px,#1aa51e 24.5px,#20a81d 27.5px,#25ab1c 30.5px,#2eaf1b 33.5px,#37b31a 36.5px,#4bbc17 39.5px,#6cc615 42.5px,#97d412 45.5px,#c5e30b 48.5px,#e5ed03 51.5px,#f5ec00 54.5px,#f8ea00 57.5px,#f7ea00 60.5px,#f4ed00 63.5px,#edef01 66.5px,#dae905 69.5px,#c4e20b 72.5px,#aedb10 75.5px,#94d312 78.5px,#75c914 81.5px,#4bbc17 84.5px,#1ca61e 87.5px,#099132 90.5px,#058640 93.5px,#068c38 96.5px,#2dae1b 99.5px,#4bbc17 102.5px,#048345 105.5px,#017755 107.5px)"></div><div style="top:75px;background:linear-gradient(90deg,#0311ec 0.5px,#011ce2 3.5px,#005e8d 6.5px,#05893b 9.5px,#0b962c 12.5px,#0d9a27 15.5px,#0f9e23 18.5px,#12a120 21.5px,#18a41f 24.5px,#1da71e 27.5px,#23aa1d 30.5px,#2bae1b 33.5px,#34b21a 36.5px,#46ba18 39.5px,#66c415 42.5px,#90d212 45.5px,#bee00d 48.5px,#ddea05 51.5px,#f2ee00 54.5px,#f5ec00 57.5px,#f5ec00 60.5px,#f2ef00 63.5px,#e6ed02 66.5px,#d4e707 69.5px,#bde00d 72.5px,#a7d911 75.5px,#8bd013 78.5px,#6ac615 81.5px,#3fb818 84.5px,#13a21f 87.5px,#068d37 90.5px,#048147 93.5px,#05873f 96.5px,#2aad1c 99.5px,#47ba18 102.5px,#038049 105.5px,#007459 107.5px)"></div><div style="top:76px;background:linear-gradient(90deg,#0311ec 0.5px,#011ce2 3.5px,#005e8e 6.5px,#05883d 9.5px,#0a952e 12.5px,#0c9928 15.5px,#0e9d24 18.5px,#10a020 21.5px,#15a31f 24.5px,#1ba61e 27.5px,#21a91d 30.5px,#29ad1c 33.5px,#32b11a 36.5px,#41b818 39.5px,#60c216 42.5px,#89cf13 45.5px,#b6de0f 48.5px,#d5e807 51.5px,#eef000 54.5px,#f3ee00 57.5px,#f2ee00 60.5px,#edef01 63.5px,#dfeb04 66.5px,#cce509 69.5px,#b5de0f 72.5px,#9ed611 75.5px,#81cd13 78.5px,#5ec216 81.5px,#37b419 84.5px,#0e9c24 87.5px,#058640 90.5px,#027b4f 93.5px,#048147 96.5px,#26ab1c 99.5px,#41b818 102.5px,#027c4d 105.5px,#007160 107.5px)"></div><div style="top:77px;background:linear-gradient(90deg,#0311ec 0.5px,#011ce2 3.5px,#005d8f 6.5px,#05873f 9.5px,#0a942f 12.5px,#0c982a 15.5px,#0e9b26 18.5px,#0f9e22 21.5px,#13a120 24.5px,#19a41f 27.5px,#1ea71e 30.5px,#26ab1c 33.5px,#2fb01b 36.5px,#3db718 39.5px,#58c016 42.5px,#81cd13 45.5px,#addb10 48.5px,#cce509 51.5px,#e5ed03 54.5px,#eeef00 57.5px,#edef01 60.5px,#e5ec03 63.5px,#d6e806 66.5px,#c3e20b 69.5px,#acdb10 72.5px,#93d312 75.5px,#75c914 78.5px,#50bd17 81.5px,#2eaf1b 84.5px,#0b962b 87.5px,#037e4b 90.5px,#017558 93.5px,#027b50 96.5px,#21a91d 99.5px,#3db718 102.5px,#017853 105.5px,#006d69 107.5px)"></div><div style="top:78px;background:linear-gradient(90deg,#0311ec 0.5px,#021ce3 3.5px,#005c90 6.5px,#058641 9.5px,#099231 12.5px,#0b962c 15.5px,#0d9a28 18.5px,#0e9d24 21.5px,#10a020 24.5px,#16a31f 27.5px,#1ba61e 30.5px,#23aa1d 33.5px,#2cae1b 36.5px,#3ab519 39.5px,#50bd17 42.5px,#78ca14 45.5px,#a3d811 48.5px,#c2e20c 51.5px,#dbe905 54.5px,#e4ec03 57.5px,#e3ec03 60.5px,#dbe905 63.5px,#cde509 66.5px,#b9df0e 69.5px,#a0d711 72.5px,#87cf13 75.5px,#67c515 78.5px,#3fb818 81.5px,#24aa1d 84.5px,#089034 87.5px,#017657 90.5px,#006e67 93.5px,#00735b 96.5px,#1ca61e 99.5px,#39b519 102.5px,#00735a 105.5px,#006975 107.5px)"></div><div style="top:79px;background:linear-gradient(90deg,#0311ec 0.5px,#021ce3 3.5px,#005c91 6.5px,#048443 9.5px,#089132 12.5px,#0a952e 15.5px,#0c982a 18.5px,#0e9b26 21.5px,#0f9e22 24.5px,#12a120 27.5px,#18a41f 30.5px,#20a81d 33.5px,#29ac1c 36.5px,#35b31a 39.5px,#48ba17 42.5px,#6ec715 45.5px,#98d412 48.5px,#b7de0e 51.5px,#d0e608 54.5px,#d9e906 57.5px,#d9e906 60.5px,#d0e608 63.5px,#c1e10c 66.5px,#addb10 69.5px,#93d312 72.5px,#78ca14 75.5px,#57bf16 78.5px,#35b21a 81.5px,#17a41f 84.5px,#05873f 87.5px,#006e68 90.5px,#00687a 93.5px,#006c6d 96.5px,#16a31f 99.5px,#34b21a 102.5px,#006f66 105.5px,#006582 107.5px)"></div><div style="top:80px;background:linear-gradient(90deg,#0311ec 0.5px,#021ce3 3.5px,#005b93 6.5px,#048245 9.5px,#088f34 12.5px,#0a9330 15.5px,#0b962c 18.5px,#0d9928 21.5px,#0e9c25 24.5px,#109f21 27.5px,#14a21f 30.5px,#1ca61e 33.5px,#25aa1d 36.5px,#31b11a 39.5px,#3fb818 42.5px,#64c415 45.5px,#8dd112 48.5px,#acdb10 51.5px,#c5e20b 54.5px,#cee509 57.5px,#cee509 60.5px,#c5e20b 63.5px,#b5de0f 66.5px,#9fd711 69.5px,#84ce13 72.5px,#68c515 75.5px,#44b918 78.5px,#29ac1c 81.5px,#0e9d24 84.5px,#037d4d 87.5px,#00667e 90.5px,#00608a 93.5px,#006580 96.5px,#109f21 99.5px,#2eaf1b 102.5px,#006a74 105.5px,#005e8d 107.5px)"></div><div style="top:81px;background:linear-gradient(90deg,#0311ec 0.5px,#021be3 3.5px,#005a94 6.5px,#038148 9.5px,#078d36 12.5px,#099132 15.5px,#0a942e 18.5px,#0c972b 21.5px,#0d9a27 24.5px,#0f9d23 27.5px,#11a020 30.5px,#18a41f 33.5px,#21a81d 36.5px,#2dae1b 39.5px,#3bb519 42.5px,#5ac016 45.5px,#82cd13 48.5px,#a1d711 51.5px,#b9df0e 54.5px,#c2e20b 57.5px,#c2e20b 60.5px,#b9df0e 63.5px,#a7d911 66.5px,#90d212 69.5px,#73c814 72.5px,#56bf16 75.5px,#37b419 78.5px,#1ca61e 81.5px,#0a952d 84.5px,#00735a 87.5px,#005d8f 90.5px,#005798 93.5px,#005c90 96.5px,#0d9b26 99.5px,#28ac1c 102.5px,#006484 105.5px,#005798 107.5px)"></div><div style="top:82px;background:linear-gradient(90deg,#0311ec 0.5px,#021be3 3.5px,#005897 6.5px,#037e4b 9.5px,#068b39 12.5px,#078f34 15.5px,#099231 18.5px,#0a952d 21.5px,#0c982a 24.5px,#0d9b26 27.5px,#0f9e23 30.5px,#13a21f 33.5px,#1ba61e 36.5px,#27ac1c 39.5px,#35b21a 42.5px,#4ebd17 45.5px,#76c914 48.5px,#93d312 51.5px,#acdb10 54.5px,#b4dd0f 57.5px,#b4dd0f 60.5px,#aada10 63.5px,#96d412 66.5px,#7dcb14 69.5px,#5ec216 72.5px,#40b818 75.5px,#2aad1c 78.5px,#0f9e22 81.5px,#068c38 84.5px,#006b71 87.5px,#00549e 90.5px,#004fa6 93.5px,#00539e 96.5px,#0b952d 99.5px,#1fa81d 102.5px,#005c90 105.5px,#0050a3 107.5px)"></div><div style="top:83px;background:linear-gradient(90deg,#0311ec 0.5px,#021be4 3.5px,#00569a 6.5px,#027b50 9.5px,#05883e 12.5px,#068c38 15.5px,#078f34 18.5px,#099231 21.5px,#0a952e 24.5px,#0c972a 27.5px,#0d9a27 30.5px,#0f9e22 33.5px,#15a21f 36.5px,#20a81d 39.5px,#2daf1b 42.5px,#40b818 45.5px,#65c415 48.5px,#82cd13 51.5px,#9ad512 54.5px,#a2d811 57.5px,#a2d811 60.5px,#96d412 63.5px,#80cd13 66.5px,#65c415 69.5px,#45ba18 72.5px,#31b11a 75.5px,#1aa51e 78.5px,#0a952d 81.5px,#038049 84.5px,#006287 87.5px,#004bac 90.5px,#0046b3 93.5px,#004bac 96.5px,#088f34 99.5px,#15a21f 102.5px,#00549d 105.5px,#0049af 107.5px)"></div><div style="top:84px;background:linear-gradient(90deg,#0311ec 0.5px,#021ae4 3.5px,#00549d 6.5px,#017755 9.5px,#048344 12.5px,#05883e 15.5px,#068b39 18.5px,#078e36 21.5px,#089132 24.5px,#0a932f 27.5px,#0b962c 30.5px,#0d9a27 33.5px,#0f9e22 36.5px,#18a41f 39.5px,#24aa1d 42.5px,#36b31a 45.5px,#51bd17 48.5px,#6cc615 51.5px,#83cd13 54.5px,#8bd013 57.5px,#8bd013 60.5px,#7ecc14 63.5px,#66c415 66.5px,#48bb17 69.5px,#32b11a 72.5px,#20a81d 75.5px,#0e9c25 78.5px,#068a3a 81.5px,#00735b 84.5px,#005798 87.5px,#003fbb 90.5px,#0039c3 93.5px,#003fbb 96.5px,#05873f 99.5px,#0e9c25 102.5px,#004ca9 105.5px,#003ebd 107.5px)"></div><div style="top:85px;background:linear-gradient(90deg,#0311ec 0.5px,#021ae4 3.5px,#0051a2 6.5px,#00725b 9.5px,#037e4c 12.5px,#048246 15.5px,#048541 18.5px,#05893d 21.5px,#068c38 24.5px,#078e35 27.5px,#099132 30.5px,#0a952e 33.5px,#0c9929 36.5px,#0f9e22 39.5px,#19a41f 42.5px,#29ad1c 45.5px,#3cb619 48.5px,#52be17 51.5px,#67c515 54.5px,#6fc715 57.5px,#6fc715 60.5px,#60c216 63.5px,#46ba18 66.5px,#32b11a 69.5px,#20a81d 72.5px,#0f9e22 75.5px,#089132 78.5px,#027c4e 81.5px,#006977 84.5px,#004da8 87.5px,#0033ca 90.5px,#002ed0 93.5px,#0033ca 96.5px,#037d4d 99.5px,#0a942e 102.5px,#0043b7 105.5px,#0033ca 107.5px)"></div><div style="top:86px;background:linear-gradient(90deg,#0311ec 0.5px,#0219e5 3.5px,#004ea7 6.5px,#006e68 9.5px,#017755 12.5px,#027b4f 15.5px,#037e4b 18.5px,#048147 21.5px,#048443 24.5px,#05873e 27.5px,#068b3a 30.5px,#078e35 33.5px,#099231 36.5px,#0c972a 39.5px,#0f9d23 42.5px,#1ba51e 45.5px,#2cae1b 48.5px,#38b419 51.5px,#46ba18 54.5px,#4dbc17 57.5px,#4dbc17 60.5px,#3eb718 63.5px,#2fb01b 66.5px,#1ea71e 69.5px,#0f9d23 72.5px,#099330 75.5px,#048443 78.5px,#006f64 81.5px,#005d8e 84.5px,#0042b8 87.5px,#0029d7 90.5px,#0026da 93.5px,#0029d7 96.5px,#00725b 99.5px,#068b3a 102.5px,#0037c5 105.5px,#0029d6 107.5px)"></div><div style="top:87px;background:linear-gradient(90deg,#0311ec 0.5px,#0218e6 3.5px,#004aad 6.5px,#006877 9.5px,#007061 12.5px,#00735a 15.5px,#017656 18.5px,#027952 21.5px,#027c4e 24.5px,#037f4b 27.5px,#048247 30.5px,#048541 33.5px,#058a3b 36.5px,#088f34 39.5px,#0a952e 42.5px,#0e9c24 45.5px,#19a51e 48.5px,#25aa1d 51.5px,#2faf1b 54.5px,#32b11a 57.5px,#32b11a 60.5px,#29ac1c 63.5px,#19a51e 66.5px,#0e9b26 69.5px,#089132 72.5px,#058641 75.5px,#017558 78.5px,#006582 81.5px,#0052a1 84.5px,#0035c8 87.5px,#0123dc 90.5px,#0121de 93.5px,#0123dc 96.5px,#006a74 99.5px,#037e4b 102.5px,#002dd2 105.5px,#0124dc 107.5px)"></div><div style="top:88px;background:linear-gradient(90deg,#0311ec 0.5px,#0218e6 3.5px,#0043b6 6.5px,#006287 9.5px,#006a74 12.5px,#006c6d 15.5px,#006e67 18.5px,#007061 21.5px,#00725c 24.5px,#017558 27.5px,#017755 30.5px,#027b50 33.5px,#037f4a 36.5px,#048442 39.5px,#068b3a 42.5px,#099231 45.5px,#0d9a27 48.5px,#10a020 51.5px,#18a41f 54.5px,#1ba61e 57.5px,#1ba61e 60.5px,#12a120 63.5px,#0c982a 66.5px,#078e35 69.5px,#048246 72.5px,#017656 75.5px,#006976 78.5px,#005897 81.5px,#0047b1 84.5px,#002ad6 87.5px,#011fe0 90.5px,#011de2 93.5px,#011fe0 96.5px,#00608b 99.5px,#00725d 102.5px,#0026da 105.5px,#011fe0 107.5px)"></div><div style="top:89px;background:linear-gradient(90deg,#0311ec 0.5px,#0217e7 3.5px,#003cc0 6.5px,#005a94 9.5px,#006287 12.5px,#006582 15.5px,#00667d 18.5px,#006878 21.5px,#006a73 24.5px,#006c6e 27.5px,#006e68 30.5px,#007061 33.5px,#00735a 36.5px,#017854 39.5px,#037e4c 42.5px,#058641 45.5px,#078e36 48.5px,#099330 51.5px,#0c972b 54.5px,#0c9929 57.5px,#0c9929 60.5px,#0a932f 63.5px,#068a3b 66.5px,#037e4b 69.5px,#00725b 72.5px,#006974 75.5px,#005d8f 78.5px,#004ca9 81.5px,#0039c3 84.5px,#0123dc 87.5px,#021be3 90.5px,#021ae4 93.5px,#021be3 96.5px,#00559c 99.5px,#00687a 102.5px,#0121de 105.5px,#021ce3 107.5px)"></div><div style="top:90px;background:linear-gradient(90deg,#0311ed 0.5px,#0216e8 3.5px,#0034ca 6.5px,#0052a1 9.5px,#005896 12.5px,#005b92 15.5px,#005d8f 18.5px,#005f8c 21.5px,#006189 24.5px,#006385 27.5px,#006581 30.5px,#00677b 33.5px,#006975 36.5px,#006d6b 39.5px,#007160 42.5px,#017755 45.5px,#037f4b 48.5px,#048443 51.5px,#05893c 54.5px,#068b3a 57.5px,#068a3a 60.5px,#048443 63.5px,#027952 66.5px,#006f64 69.5px,#00667d 72.5px,#005d8f 75.5px,#0051a3 78.5px,#003fbb 81.5px,#002dd2 84.5px,#011fe0 87.5px,#0218e6 90.5px,#0218e6 93.5px,#0219e6 96.5px,#004bab 99.5px,#005c91 102.5px,#011de2 105.5px,#0219e5 107.5px)"></div><div style="top:91px;background:linear-gradient(90deg,#0311ed 0.5px,#0215e9 3.5px,#002cd3 6.5px,#0049ae 9.5px,#004fa5 12.5px,#0051a1 15.5px,#00539f 18.5px,#00559c 21.5px,#005699 24.5px,#005897 27.5px,#005a94 30.5px,#005c90 33.5px,#005f8c 36.5px,#006386 39.5px,#00667e 42.5px,#006b71 45.5px,#007062 48.5px,#007459 51.5px,#017854 54.5px,#027952 57.5px,#027952 60.5px,#00735a 63.5px,#006b70 66.5px,#006385 69.5px,#005995 72.5px,#0051a3 75.5px,#0045b4 78.5px,#0032cc 81.5px,#0025db 84.5px,#021be3 87.5px,#0216e7 90.5px,#0216e8 93.5px,#0217e7 96.5px,#003ebc 99.5px,#0051a3 102.5px,#021ae4 105.5px,#0217e7 107.5px)"></div><div style="top:92px;background:linear-gradient(90deg,#0311ed 0.5px,#0214e9 3.5px,#0026da 6.5px,#003ebd 9.5px,#0046b3 12.5px,#0048af 15.5px,#004aad 18.5px,#004bab 21.5px,#004da9 24.5px,#004ea7 27.5px,#004fa4 30.5px,#0051a1 33.5px,#00539e 36.5px,#005699 39.5px,#005a94 42.5px,#005f8c 45.5px,#006483 48.5px,#00677a 51.5px,#006a73 54.5px,#006b70 57.5px,#006b70 60.5px,#00677d 63.5px,#005e8d 66.5px,#00559b 69.5px,#004da8 72.5px,#0045b4 75.5px,#0036c6 78.5px,#0027d9 81.5px,#0120df 84.5px,#0219e6 87.5px,#0215e9 90.5px,#0214e9 93.5px,#0215e9 96.5px,#0032cc 99.5px,#0046b3 102.5px,#0218e6 105.5px,#0215e8 107.5px)"></div><div style="top:93px;background:linear-gradient(90deg,#0311ed 0.5px,#0313ea 3.5px,#0121de 6.5px,#0032cb 9.5px,#0039c3 12.5px,#003bc0 15.5px,#003dbe 18.5px,#003fbb 21.5px,#0041b9 24.5px,#0043b7 27.5px,#0045b4 30.5px,#0047b1 33.5px,#0049ae 36.5px,#004caa 39.5px,#004fa6 42.5px,#0052a0 45.5px,#005799 48.5px,#005a93 51.5px,#005d8f 54.5px,#005e8e 57.5px,#005e8e 60.5px,#005995 63.5px,#0051a2 66.5px,#004aad 69.5px,#0040ba 72.5px,#0036c7 75.5px,#002ad5 78.5px,#0122dd 81.5px,#021ce3 84.5px,#0217e7 87.5px,#0314ea 90.5px,#0313ea 93.5px,#0314ea 96.5px,#0028d8 99.5px,#0037c5 102.5px,#0216e8 105.5px,#0214e9 107.5px)"></div><div style="top:94px;background:linear-gradient(90deg,#0311ed 0.5px,#0313eb 3.5px,#011ee1 6.5px,#0029d7 9.5px,#002ed1 12.5px,#002fcf 15.5px,#0031cd 18.5px,#0032cb 21.5px,#0034c9 24.5px,#0035c7 27.5px,#0037c5 30.5px,#0039c3 33.5px,#003bc0 36.5px,#003fbc 39.5px,#0042b7 42.5px,#0048b0 45.5px,#004bab 48.5px,#004ea7 51.5px,#0050a3 54.5px,#0051a2 57.5px,#0051a2 60.5px,#004da9 63.5px,#0045b4 66.5px,#003bc0 69.5px,#0032cc 72.5px,#002ad5 75.5px,#0123dc 78.5px,#011de1 81.5px,#0219e5 84.5px,#0215e9 87.5px,#0313ea 90.5px,#0313eb 93.5px,#0313ea 96.5px,#0122dd 99.5px,#002bd4 102.5px,#0214e9 105.5px,#0313ea 107.5px)"></div><div style="top:95px;background:linear-gradient(90deg,#0311ed 0.5px,#0312eb 3.5px,#021be4 6.5px,#0123dc 9.5px,#0026da 12.5px,#0027d9 15.5px,#0027d9 18.5px,#0028d8 21.5px,#0029d6 24.5px,#002ad5 27.5px,#002cd4 30.5px,#002dd2 33.5px,#002fcf 36.5px,#0032cc 39.5px,#0034c8 42.5px,#0039c3 45.5px,#003dbe 48.5px,#0041b9 51.5px,#0043b6 54.5px,#0044b4 57.5px,#0044b5 60.5px,#003fbc 63.5px,#0036c6 66.5px,#002ed0 69.5px,#0027d9 72.5px,#0123dc 75.5px,#011fe0 78.5px,#021ae4 81.5px,#0217e7 84.5px,#0314ea 87.5px,#0312eb 90.5px,#0312eb 93.5px,#0312eb 96.5px,#011ee1 99.5px,#0024db 102.5px,#0313ea 105.5px,#0312eb 107.5px)"></div><div style="top:96px;background:linear-gradient(90deg,#0311ed 0.5px,#0312eb 3.5px,#0218e6 6.5px,#011fe0 9.5px,#0121de 12.5px,#0121de 15.5px,#0122dd 18.5px,#0122dd 21.5px,#0123dc 24.5px,#0124dc 27.5px,#0024db 30.5px,#0025db 33.5px,#0026da 36.5px,#0027d9 39.5px,#0029d7 42.5px,#002cd3 45.5px,#0030ce 48.5px,#0032cb 51.5px,#0035c8 54.5px,#0035c7 57.5px,#0035c7 60.5px,#0031cd 63.5px,#002ad5 66.5px,#0025da 69.5px,#0122de 72.5px,#011fe0 75.5px,#021be3 78.5px,#0218e6 81.5px,#0215e8 84.5px,#0313ea 87.5px,#0312eb 90.5px,#0312ec 93.5px,#0312eb 96.5px,#021be4 99.5px,#011fe0 102.5px,#0313eb 105.5px,#0312eb 107.5px)"></div><div style="top:97px;background:linear-gradient(90deg,#0311ed 0.5px,#0312ec 3.5px,#0216e7 6.5px,#021be3 9.5px,#011de2 12.5px,#011de1 15.5px,#011ee1 18.5px,#011ee1 21.5px,#011fe0 24.5px,#011fe0 27.5px,#011fdf 30.5px,#0120df 33.5px,#0121de 36.5px,#0122dd 39.5px,#0123dc 42.5px,#0024db 45.5px,#0026da 48.5px,#0028d8 51.5px,#0029d7 54.5px,#002ad6 57.5px,#002ad6 60.5px,#0027d9 63.5px,#0123dc 66.5px,#0120df 69.5px,#011de1 72.5px,#021be3 75.5px,#0218e6 78.5px,#0216e8 81.5px,#0314ea 84.5px,#0312eb 87.5px,#0311ec 90.5px,#0311ec 93.5px,#0311ec 96.5px,#0218e6 99.5px,#021ce3 102.5px,#0312eb 105.5px,#0312ec 107.5px)"></div><div style="top:98px;background:linear-gradient(90deg,#0311ed 0.5px,#0311ec 3.5px,#0215e9 6.5px,#0219e6 9.5px,#021ae5 12.5px,#021ae4 15.5px,#021ae4 18.5px,#021be4 21.5px,#021be3 24.5px,#021be3 27.5px,#021ce3 30.5px,#011ce2 33.5px,#011de2 36.5px,#011de1 39.5px,#011ee0 42.5px,#011fdf 45.5px,#0121de 48.5px,#0122dd 51.5px,#0123dd 54.5px,#0123dc 57.5px,#0123dc 60.5px,#0121de 63.5px,#011ee0 66.5px,#011ce2 69.5px,#021ae4 72.5px,#0218e6 75.5px,#0216e7 78.5px,#0214e9 81.5px,#0313ea 84.5px,#0312eb 87.5px,#0311ec 90.5px,#0311ec 93.5px,#0311ec 96.5px,#0216e8 99.5px,#0219e5 102.5px,#0312ec 105.5px,#0311ec 107.5px)"></div><div style="top:99px;background:linear-gradient(90deg,#0311ed 0.5px,#0311ec 3.5px,#0314ea 6.5px,#0216e7 9.5px,#0217e7 12.5px,#0218e6 15.5px,#0218e6 18.5px,#0218e6 21.5px,#0218e6 24.5px,#0219e5 27.5px,#0219e5 30.5px,#0219e5 33.5px,#021ae5 36.5px,#021ae4 39.5px,#021be4 42.5px,#021ce3 45.5px,#011de2 48.5px,#011de1 51.5px,#011ee1 54.5px,#011ee1 57.5px,#011ee1 60.5px,#011de2 63.5px,#021be3 66.5px,#0219e5 69.5px,#0218e6 72.5px,#0216e8 75.5px,#0215e9 78.5px,#0313ea 81.5px,#0312eb 84.5px,#0311ec 87.5px,#0311ec 90.5px,#0311ec 93.5px,#0311ec 96.5px,#0215e9 99.5px,#0217e7 102.5px,#0311ec 105.5px,#0311ec 107.5px)"></div><div style="top:100px;background:linear-gradient(90deg,#0311ed 0.5px,#0311ec 3.5px,#0313ea 6.5px,#0215e9 9.5px,#0216e8 12.5px,#0216e8 15.5px,#0216e8 18.5px,#0216e8 21.5px,#0216e7 24.5px,#0217e7 27.5px,#0217e7 30.5px,#0217e7 33.5px,#0217e7 36.5px,#0218e6 39.5px,#0218e6 42.5px,#0219e5 45.5px,#021ae5 48.5px,#021ae4 51.5px,#021be4 54.5px,#021be4 57.5px,#021be4 60.5px,#021ae4 63.5px,#0218e6 66.5px,#0217e7 69.5px,#0216e8 72.5px,#0215e9 75.5px,#0314ea 78.5px,#0313eb 81.5px,#0312eb 84.5px,#0311ec 87.5px,#0311ec 90.5px,#0311ec 93.5px,#0311ec 96.5px,#0314ea 99.5px,#0215e9 102.5px,#0311ec 105.5px,#0311ec 107.5px)"></div><div style="top:101px;background:linear-gradient(90deg,#0311ed 0.5px,#0311ec 3.5px,#0312eb 6.5px,#0314ea 9.5px,#0214e9 12.5px,#0214e9 15.5px,#0215e9 18.5px,#0215e9 21.5px,#0215e9 24.5px,#0215e9 27.5px,#0215e9 30.5px,#0215e8 33.5px,#0216e8 36.5px,#0216e8 39.5px,#0216e8 42.5px,#0217e7 45.5px,#0217e7 48.5px,#0218e6 51.5px,#0218e6 54.5px,#0218e6 57.5px,#0218e6 60.5px,#0217e7 63.5px,#0216e8 66.5px,#0215e8 69.5px,#0214e9 72.5px,#0314ea 75.5px,#0313eb 78.5px,#0312eb 81.5px,#0312ec 84.5px,#0311ec 87.5px,#0311ec 90.5px,#0311ec 93.5px,#0311ec 96.5px,#0313eb 99.5px,#0314ea 102.5px,#0311ec 105.5px,#0311ec 107.5px)"></div><div style="top:102px;background:linear-gradient(90deg,#0311ed 0.5px,#0311ec 3.5px,#0312eb 6.5px,#0313ea 9.5px,#0313ea 12.5px,#0313ea 15.5px,#0314ea 18.5px,#0314ea 21.5px,#0314ea 24.5px,#0314ea 27.5px,#0314ea 30.5px,#0214e9 33.5px,#0214e9 36.5px,#0214e9 39.5px,#0215e9 42.5px,#0215e9 45.5px,#0215e8 48.5px,#0216e8 51.5px,#0216e8 54.5px,#0216e8 57.5px,#0216e8 60.5px,#0216e8 63.5px,#0215e9 66.5px,#0314ea 69.5px,#0313ea 72.5px,#0313eb 75.5px,#0312eb 78.5px,#0312ec 81.5px,#0311ec 84.5px,#0311ec 87.5px,#0311ec 90.5px,#0311ec 93.5px,#0311ec 96.5px,#0312eb 99.5px,#0313ea 102.5px,#0311ec 105.5px,#0311ec 107.5px)"></div><div style="top:103px;background:linear-gradient(90deg,#0311ed 0.5px,#0311ec 3.5px,#0312ec 6.5px,#0312eb 9.5px,#0313eb 12.5px,#0313eb 15.5px,#0313eb 18.5px,#0313eb 21.5px,#0313ea 24.5px,#0313ea 27.5px,#0313ea 30.5px,#0313ea 33.5px,#0313ea 36.5px,#0313ea 39.5px,#0314ea 42.5px,#0314ea 45.5px,#0214e9 48.5px,#0214e9 51.5px,#0215e9 54.5px,#0215e9 57.5px,#0215e9 60.5px,#0214e9 63.5px,#0314ea 66.5px,#0313ea 69.5px,#0313eb 72.5px,#0312eb 75.5px,#0312eb 78.5px,#0311ec 81.5px,#0311ec 84.5px,#0311ec 87.5px,#0311ec 90.5px,#0311ec 93.5px,#0311ec 96.5px,#0312eb 99.5px,#0312eb 102.5px,#0311ec 105.5px,#0311ec 107.5px)"></div></div><div class="hm" style="left:371px;top:15px;width:109px;height:104px"><div style="top:0px;background:linear-gradient(90deg,#0311ec 0.5px,#0311ec 3.5px,#0312eb 6.5px,#0214e9 9.5px,#0217e7 12.5px,#0219e5 15.5px,#021ce3 18.5px,#011ee1 21.5px,#0120df 24.5px,#0121de 27.5px,#0121de 30.5px,#0121de 33.5px,#011fe0 36.5px,#011de1 39.5px,#021be3 42.5px,#0219e5 45.5px,#0217e7 48.5px,#0215e8 51.5px,#0314ea 54.5px,#0313eb 57.5px,#0312eb 60.5px,#0311ec 63.5px,#0311ec 66.5px,#0311ec 69.5px,#0311ec 72.5px,#0311ec 75.5px,#0311ed 78.5px,#0311ed 81.5px,#0311ed 84.5px,#0311ed 87.5px,#0311ed 90.5px,#0311ed 93.5px,#0311ed 96.5px,#0311ed 99.5px,#0311ed 102.5px,#0311ed 105.5px,#0311ed 108.5px)"></div><div style="top:1px;background:linear-gradient(90deg,#0311ec 0.5px,#0311ec 3.5px,#0313eb 6.5px,#0215e9 9.5px,#0217e7 12.5px,#021ae4 15.5px,#011de2 18.5px,#0120df 21.5px,#0122dd 24.5px,#0123dc 27.5px,#0123dc 30.5px,#0123dd 33.5px,#0121de 36.5px,#011fe0 39.5px,#011de2 42.5px,#021ae4 45.5px,#0218e6 48.5px,#0216e8 51.5px,#0214e9 54.5px,#0313ea 57.5px,#0312eb 60.5px,#0312ec 63.5px,#0311ec 66.5px,#0311ec 69.5px,#0311ec 72.5px,#0311ec 75.5px,#0311ec 78.5px,#0311ed 81.5px,#0311ed 84.5px,#0311ed 87.5px,#0311ed 90.5px,#0311ed 93.5px,#0311ed 96.5px,#0311ed 99.5px,#0311ed 102.5px,#0311ed 105.5px,#0311ed 108.5px)"></div><div style="top:2px;background:linear-gradient(90deg,#0311ec 0.5px,#0311ec 3.5px,#0313ea 6.5px,#0215e8 9.5px,#0218e6 12.5px,#021be3 15.5px,#011ee0 18.5px,#0122de 21.5px,#0024db 24.5px,#0026da 27.5px,#0026da 30.5px,#0025db 33.5px,#0123dc 36.5px,#0121de 39.5px,#011ee1 42.5px,#021be3 45.5px,#0219e5 48.5px,#0217e7 51.5px,#0215e9 54.5px,#0313ea 57.5px,#0312eb 60.5px,#0312ec 63.5px,#0311ec 66.5px,#0311ec 69.5px,#0311ec 72.5px,#0311ec 75.5px,#0311ec 78.5px,#0311ed 81.5px,#0311ed 84.5px,#0311ed 87.5px,#0311ed 90.5px,#0311ed 93.5px,#0311ed 96.5px,#0311ed 99.5px,#0311ed 102.5px,#0311ed 105.5px,#0311ed 108.5px)"></div><div style="top:3px;background:linear-gradient(90deg,#0311ec 0.5px,#0311ec 3.5px,#0313ea 6.5px,#0216e8 9.5px,#0219e5 12.5px,#011ce2 15.5px,#0120df 18.5px,#0123dc 21.5px,#0026da 24.5px,#0028d8 27.5px,#0028d8 30.5px,#0027d9 33.5px,#0025db 36.5px,#0122dd 39.5px,#0120df 42.5px,#011de2 45.5px,#021ae4 48.5px,#0217e7 51.5px,#0215e8 54.5px,#0314ea 57.5px,#0313eb 60.5px,#0312eb 63.5px,#0311ec 66.5px,#0311ec 69.5px,#0311ec 72.5px,#0311ec 75.5px,#0311ec 78.5px,#0311ed 81.5px,#0311ed 84.5px,#0311ed 87.5px,#0311ed 90.5px,#0311ed 93.5px,#0311ed 96.5px,#0311ed 99.5px,#0311ed 102.5px,#0311ed 105.5px,#0311ed 108.5px)"></div><div style="top:4px;background:linear-gradient(90deg,#0311ec 0.5px,#0311ec 3.5px,#0314ea 6.5px,#0217e7 9.5px,#021ae4 12.5px,#011de1 15.5px,#0121de 18.5px,#0025da 21.5px,#0028d8 24.5px,#002bd4 27.5px,#002bd4 30.5px,#002ad6 33.5px,#0027d9 36.5px,#0024db 39.5px,#0121de 42.5px,#011ee1 45.5px,#021be4 48.5px,#0218e6 51.5px,#0216e8 54.5px,#0314ea 57.5px,#0313eb 60.5px,#0312eb 63.5px,#0311ec 66.5px,#0311ec 69.5px,#0311ec 72.5px,#0311ec 75.5px,#0311ec 78.5px,#0311ed 81.5px,#0311ed 84.5px,#0311ed 87.5px,#0311ed 90.5px,#0311ed 93.5px,#0311ed 96.5px,#0311ed 99.5px,#0311ed 102.5px,#0311ed 105.5px,#0311ed 108.5px)"></div><div style="top:5px;background:linear-gradient(90deg,#0311ec 0.5px,#0311ec 3.5px,#0314ea 6.5px,#0217e7 9.5px,#021be4 12.5px,#011fe0 15.5px,#0123dc 18.5px,#0027d9 21.5px,#002bd4 24.5px,#002ed0 27.5px,#002ed0 30.5px,#002dd2 33.5px,#0029d6 36.5px,#0026da 39.5px,#0122dd 42.5px,#011fe0 45.5px,#021be3 48.5px,#0219e6 51.5px,#0216e8 54.5px,#0214e9 57.5px,#0313ea 60.5px,#0312eb 63.5px,#0311ec 66.5px,#0311ec 69.5px,#0311ec 72.5px,#0311ec 75.5px,#0311ec 78.5px,#0311ed 81.5px,#0311ed 84.5px,#0311ed 87.5px,#0311ed 90.5px,#0311ed 93.5px,#0311ed 96.5px,#0311ed 99.5px,#0311ed 102.5px,#0311ed 105.5px,#0311ed 108.5px)"></div><div style="top:6px;background:linear-gradient(90deg,#0311ec 0.5px,#0311ec 3.5px,#0214e9 6.5px,#0218e6 9.5px,#021be3 12.5px,#0120df 15.5px,#0024db 18.5px,#0029d6 21.5px,#002fd0 24.5px,#0032cc 27.5px,#0032cc 30.5px,#0030ce 33.5px,#002cd2 36.5px,#0028d8 39.5px,#0124dc 42.5px,#0120df 45.5px,#011ce2 48.5px,#0219e5 51.5px,#0217e7 54.5px,#0215e9 57.5px,#0313ea 60.5px,#0312eb 63.5px,#0311ec 66.5px,#0311ec 69.5px,#0311ec 72.5px,#0311ec 75.5px,#0311ec 78.5px,#0311ed 81.5px,#0311ed 84.5px,#0311ed 87.5px,#0311ed 90.5px,#0311ed 93.5px,#0311ed 96.5px,#0311ed 99.5px,#0311ed 102.5px,#0311ed 105.5px,#0311ed 108.5px)"></div><div style="top:7px;background:linear-gradient(90deg,#0311ec 0.5px,#0311ec 3.5px,#0215e9 6.5px,#0218e6 9.5px,#011de2 12.5px,#0122de 15.5px,#0027d9 18.5px,#002ed1 21.5px,#0034c9 24.5px,#0037c5 27.5px,#0037c5 30.5px,#0035c7 33.5px,#0031cc 36.5px,#002cd3 39.5px,#0026da 42.5px,#0122dd 45.5px,#011ee1 48.5px,#021ae4 51.5px,#0217e7 54.5px,#0215e9 57.5px,#0313ea 60.5px,#0312eb 63.5px,#0312ec 66.5px,#0311ec 69.5px,#0311ec 72.5px,#0311ec 75.5px,#0311ec 78.5px,#0311ed 81.5px,#0311ed 84.5px,#0311ed 87.5px,#0311ed 90.5px,#0311ed 93.5px,#0311ed 96.5px,#0311ed 99.5px,#0311ed 102.5px,#0311ed 105.5px,#0311ed 108.5px)"></div><div style="top:8px;background:linear-gradient(90deg,#0311ec 0.5px,#0312ec 3.5px,#0215e8 6.5px,#021ae4 9.5px,#011fe0 12.5px,#0025db 15.5px,#002dd2 18.5px,#0036c6 21.5px,#003dbd 24.5px,#0041b8 27.5px,#0042b8 30.5px,#003fbb 33.5px,#003ac1 36.5px,#0034c9 39.5px,#002cd3 42.5px,#0026da 45.5px,#0121de 48.5px,#011ce2 51.5px,#0219e5 54.5px,#0216e8 57.5px,#0214e9 60.5px,#0313eb 63.5px,#0312eb 66.5px,#0311ec 69.5px,#0311ec 72.5px,#0311ec 75.5px,#0311ec 78.5px,#0311ec 81.5px,#0311ed 84.5px,#0311ed 87.5px,#0311ed 90.5px,#0311ed 93.5px,#0311ed 96.5px,#0311ed 99.5px,#0311ed 102.5px,#0311ed 105.5px,#0311ed 108.5px)"></div><div style="top:9px;background:linear-gradient(90deg,#0311ec 0.5px,#0312eb 3.5px,#0216e7 6.5px,#021ce3 9.5px,#0122dd 12.5px,#002ad6 15.5px,#0035c8 18.5px,#003fbb 21.5px,#0048b0 24.5px,#004bac 27.5px,#004bab 30.5px,#0049ae 33.5px,#0044b4 36.5px,#003dbe 39.5px,#0034ca 42.5px,#002ad5 45.5px,#0124dc 48.5px,#011fe0 51.5px,#021ae4 54.5px,#0217e7 57.5px,#0215e9 60.5px,#0313ea 63.5px,#0312eb 66.5px,#0311ec 69.5px,#0311ec 72.5px,#0311ec 75.5px,#0311ec 78.5px,#0311ec 81.5px,#0311ed 84.5px,#0311ed 87.5px,#0311ed 90.5px,#0311ed 93.5px,#0311ed 96.5px,#0311ed 99.5px,#0311ed 102.5px,#0311ed 105.5px,#0311ed 108.5px)"></div><div style="top:10px;background:linear-gradient(90deg,#0311ec 0.5px,#0312eb 3.5px,#0217e7 6.5px,#011ee1 9.5px,#0025db 12.5px,#0030cf 15.5px,#003dbe 18.5px,#0048af 21.5px,#004ea6 24.5px,#0051a1 27.5px,#0052a1 30.5px,#0050a4 33.5px,#004caa 36.5px,#0046b3 39.5px,#003bc0 42.5px,#0030ce 45.5px,#0027d9 48.5px,#0121de 51.5px,#021ce3 54.5px,#0218e6 57.5px,#0215e8 60.5px,#0314ea 63.5px,#0312eb 66.5px,#0312ec 69.5px,#0311ec 72.5px,#0311ec 75.5px,#0311ec 78.5px,#0311ec 81.5px,#0311ed 84.5px,#0311ed 87.5px,#0311ed 90.5px,#0311ed 93.5px,#0311ed 96.5px,#0311ed 99.5px,#0311ed 102.5px,#0311ed 105.5px,#0311ed 108.5px)"></div><div style="top:11px;background:linear-gradient(90deg,#0311ec 0.5px,#0312eb 3.5px,#0218e6 6.5px,#0120df 9.5px,#0028d8 12.5px,#0035c7 15.5px,#0044b5 18.5px,#004ea7 21.5px,#00549c 24.5px,#005897 27.5px,#005996 30.5px,#00569a 33.5px,#0052a1 36.5px,#004caa 39.5px,#0043b7 42.5px,#0036c6 45.5px,#002bd4 48.5px,#0123dc 51.5px,#011ee1 54.5px,#0219e5 57.5px,#0216e8 60.5px,#0314ea 63.5px,#0313eb 66.5px,#0312ec 69.5px,#0311ec 72.5px,#0311ec 75.5px,#0311ec 78.5px,#0311ec 81.5px,#0311ed 84.5px,#0311ed 87.5px,#0311ed 90.5px,#0311ed 93.5px,#0311ed 96.5px,#0311ed 99.5px,#0311ed 102.5px,#0311ed 105.5px,#0311ed 108.5px)"></div><div style="top:12px;background:linear-gradient(90deg,#0311ec 0.5px,#0313eb 3.5px,#0219e5 6.5px,#0122de 9.5px,#002cd3 12.5px,#003bc0 15.5px,#004aac 18.5px,#00539e 21.5px,#005b93 24.5px,#005f8c 27.5px,#005f8b 30.5px,#005d90 33.5px,#005897 36.5px,#0051a2 39.5px,#0049ae 42.5px,#003cbf 45.5px,#002fcf 48.5px,#0025da 51.5px,#011fe0 54.5px,#021ae4 57.5px,#0217e7 60.5px,#0214e9 63.5px,#0313eb 66.5px,#0312eb 69.5px,#0311ec 72.5px,#0311ec 75.5px,#0311ec 78.5px,#0311ec 81.5px,#0311ed 84.5px,#0311ed 87.5px,#0311ed 90.5px,#0311ed 93.5px,#0311ed 96.5px,#0311ed 99.5px,#0311ed 102.5px,#0311ed 105.5px,#0311ed 108.5px)"></div><div style="top:13px;background:linear-gradient(90deg,#0311ec 0.5px,#0313eb 3.5px,#021ae4 6.5px,#0123dc 9.5px,#0030ce 12.5px,#0041b8 15.5px,#004fa5 18.5px,#005995 21.5px,#006188 24.5px,#006580 27.5px,#00667f 30.5px,#006385 33.5px,#005e8e 36.5px,#005699 39.5px,#004ea7 42.5px,#0043b7 45.5px,#0034c9 48.5px,#0028d8 51.5px,#0121de 54.5px,#021be3 57.5px,#0218e6 60.5px,#0215e9 63.5px,#0313ea 66.5px,#0312eb 69.5px,#0311ec 72.5px,#0311ec 75.5px,#0311ec 78.5px,#0311ec 81.5px,#0311ec 84.5px,#0311ed 87.5px,#0311ed 90.5px,#0311ed 93.5px,#0311ed 96.5px,#0311ed 99.5px,#0311ed 102.5px,#0311ed 105.5px,#0311ed 108.5px)"></div><div style="top:14px;background:linear-gradient(90deg,#0311ec 0.5px,#0313ea 3.5px,#021be3 6.5px,#0026da 9.5px,#0036c7 12.5px,#0048af 15.5px,#00549c 18.5px,#00608b 21.5px,#00687a 24.5px,#006b6f 27.5px,#006c6e 30.5px,#006974 33.5px,#006582 36.5px,#005d8f 39.5px,#00539f 42.5px,#0049ae 45.5px,#003ac2 48.5px,#002cd3 51.5px,#0123dd 54.5px,#011de2 57.5px,#0218e6 60.5px,#0215e8 63.5px,#0313ea 66.5px,#0312eb 69.5px,#0311ec 72.5px,#0311ec 75.5px,#0311ec 78.5px,#0311ec 81.5px,#0311ec 84.5px,#0311ed 87.5px,#0311ed 90.5px,#0311ed 93.5px,#0311ed 96.5px,#0311ed 99.5px,#0311ed 102.5px,#0311ed 105.5px,#0311ed 108.5px)"></div><div style="top:15px;background:linear-gradient(90deg,#0311ec 0.5px,#0314ea 3.5px,#011de2 6.5px,#0029d7 9.5px,#003cbe 12.5px,#004ea7 15.5px,#005c91 18.5px,#00677a 21.5px,#006f64 24.5px,#007459 27.5px,#017459 30.5px,#00715e 33.5px,#006c6d 36.5px,#006582 39.5px,#005a93 42.5px,#004fa5 45.5px,#0042b8 48.5px,#0031cc 51.5px,#0025da 54.5px,#011fe0 57.5px,#021ae5 60.5px,#0216e8 63.5px,#0314ea 66.5px,#0312eb 69.5px,#0312ec 72.5px,#0311ec 75.5px,#0311ec 78.5px,#0311ec 81.5px,#0311ec 84.5px,#0311ed 87.5px,#0311ed 90.5px,#0311ed 93.5px,#0311ed 96.5px,#0311ed 99.5px,#0311ed 102.5px,#0311ed 105.5px,#0311ed 108.5px)"></div><div style="top:16px;background:linear-gradient(90deg,#0311ec 0.5px,#0314ea 3.5px,#011ee0 6.5px,#002ed1 9.5px,#0044b5 12.5px,#00549d 15.5px,#006385 18.5px,#006e66 21.5px,#017853 24.5px,#037e4b 27.5px,#037f4a 30.5px,#027b4f 33.5px,#007459 36.5px,#006b6f 39.5px,#006288 42.5px,#00559c 45.5px,#0049af 48.5px,#0037c5 51.5px,#0028d8 54.5px,#0120df 57.5px,#021be4 60.5px,#0217e7 63.5px,#0214e9 66.5px,#0313eb 69.5px,#0312ec 72.5px,#0311ec 75.5px,#0311ec 78.5px,#0311ec 81.5px,#0311ec 84.5px,#0311ed 87.5px,#0311ed 90.5px,#0311ed 93.5px,#0311ed 96.5px,#0311ed 99.5px,#0311ed 102.5px,#0311ed 105.5px,#0311ed 108.5px)"></div><div style="top:17px;background:linear-gradient(90deg,#0311ec 0.5px,#0214e9 3.5px,#0120df 6.5px,#0033cb 9.5px,#004aad 12.5px,#005a94 15.5px,#006975 18.5px,#017656 21.5px,#048246 24.5px,#05893c 27.5px,#058a3b 30.5px,#048541 33.5px,#037d4c 36.5px,#00725c 39.5px,#006879 42.5px,#005b92 45.5px,#004da7 48.5px,#003dbe 51.5px,#002cd2 54.5px,#0122dd 57.5px,#011ce2 60.5px,#0218e6 63.5px,#0215e9 66.5px,#0313ea 69.5px,#0312eb 72.5px,#0311ec 75.5px,#0311ec 78.5px,#0311ec 81.5px,#0311ec 84.5px,#0311ed 87.5px,#0311ed 90.5px,#0311ed 93.5px,#0311ed 96.5px,#0311ed 99.5px,#0311ed 102.5px,#0311ed 105.5px,#0311ed 108.5px)"></div><div style="top:18px;background:linear-gradient(90deg,#0311ec 0.5px,#0215e9 3.5px,#0122dd 6.5px,#0038c5 9.5px,#004ea7 12.5px,#00608b 15.5px,#006f65 18.5px,#037f4a 21.5px,#068c38 24.5px,#099231 27.5px,#099230 30.5px,#078f35 33.5px,#05873f 36.5px,#027a50 39.5px,#006d69 42.5px,#006189 45.5px,#0052a0 48.5px,#0043b6 51.5px,#0031cd 54.5px,#0024db 57.5px,#011de1 60.5px,#0218e6 63.5px,#0215e8 66.5px,#0313ea 69.5px,#0312eb 72.5px,#0311ec 75.5px,#0311ec 78.5px,#0311ec 81.5px,#0311ec 84.5px,#0311ed 87.5px,#0311ed 90.5px,#0311ed 93.5px,#0311ed 96.5px,#0311ed 99.5px,#0311ed 102.5px,#0311ed 105.5px,#0311ed 108.5px)"></div><div style="top:19px;background:linear-gradient(90deg,#0311ec 0.5px,#0215e9 3.5px,#0123dc 6.5px,#003cbf 9.5px,#0052a0 12.5px,#006580 15.5px,#017557 18.5px,#05883e 21.5px,#0a942f 24.5px,#0d9a27 27.5px,#0d9b27 30.5px,#0b972b 33.5px,#088f34 36.5px,#048345 39.5px,#00735a 42.5px,#00667e 45.5px,#005799 48.5px,#0049af 51.5px,#0035c8 54.5px,#0026da 57.5px,#011ee0 60.5px,#0219e5 63.5px,#0216e8 66.5px,#0313ea 69.5px,#0312eb 72.5px,#0311ec 75.5px,#0311ec 78.5px,#0311ec 81.5px,#0311ec 84.5px,#0311ed 87.5px,#0311ed 90.5px,#0311ed 93.5px,#0311ed 96.5px,#0311ed 99.5px,#0311ed 102.5px,#0311ed 105.5px,#0311ed 108.5px)"></div><div style="top:20px;background:linear-gradient(90deg,#0311ec 0.5px,#0216e8 3.5px,#0025db 6.5px,#0041b8 9.5px,#005799 12.5px,#006a74 15.5px,#027d4d 18.5px,#088f34 21.5px,#0e9b26 24.5px,#14a21f 27.5px,#15a21f 30.5px,#0f9e22 33.5px,#0b962c 36.5px,#068b3a 39.5px,#027a51 42.5px,#006b71 45.5px,#005b91 48.5px,#004caa 51.5px,#0039c3 54.5px,#0028d8 57.5px,#0120df 60.5px,#021ae4 63.5px,#0216e8 66.5px,#0314ea 69.5px,#0312eb 72.5px,#0311ec 75.5px,#0311ec 78.5px,#0311ec 81.5px,#0311ec 84.5px,#0311ec 87.5px,#0311ed 90.5px,#0311ed 93.5px,#0311ed 96.5px,#0311ed 99.5px,#0311ed 102.5px,#0311ed 105.5px,#0311ed 108.5px)"></div><div style="top:21px;background:linear-gradient(90deg,#0311ec 0.5px,#0216e8 3.5px,#0027d9 6.5px,#0046b3 9.5px,#005b93 12.5px,#006e67 15.5px,#048344 18.5px,#0b962c 21.5px,#15a21f 24.5px,#22a91d 27.5px,#23aa1d 30.5px,#1ba51e 33.5px,#0f9d23 36.5px,#099132 39.5px,#038147 42.5px,#006f64 45.5px,#00608a 48.5px,#004fa4 51.5px,#003dbe 54.5px,#002bd4 57.5px,#0121de 60.5px,#021be4 63.5px,#0217e7 66.5px,#0314ea 69.5px,#0312eb 72.5px,#0311ec 75.5px,#0311ec 78.5px,#0311ec 81.5px,#0311ec 84.5px,#0311ec 87.5px,#0311ed 90.5px,#0311ed 93.5px,#0311ed 96.5px,#0311ed 99.5px,#0311ed 102.5px,#0311ed 105.5px,#0311ed 108.5px)"></div><div style="top:22px;background:linear-gradient(90deg,#0311ec 0.5px,#0216e7 3.5px,#0028d7 6.5px,#0049ae 9.5px,#005f8c 12.5px,#00725c 15.5px,#068a3b 18.5px,#0e9c25 21.5px,#21a91d 24.5px,#2fb01b 27.5px,#31b01b 30.5px,#28ac1c 33.5px,#17a41f 36.5px,#0c972b 39.5px,#05873e 42.5px,#00745a 45.5px,#006483 48.5px,#00539f 51.5px,#0041b9 54.5px,#002ed1 57.5px,#0122dd 60.5px,#021be3 63.5px,#0217e7 66.5px,#0214e9 69.5px,#0313eb 72.5px,#0312ec 75.5px,#0311ec 78.5px,#0311ec 81.5px,#0311ec 84.5px,#0311ec 87.5px,#0311ed 90.5px,#0311ed 93.5px,#0311ed 96.5px,#0311ed 99.5px,#0311ed 102.5px,#0311ed 105.5px,#0311ed 108.5px)"></div><div style="top:23px;background:linear-gradient(90deg,#0311ec 0.5px,#0217e7 3.5px,#002bd5 6.5px,#004caa 9.5px,#006386 12.5px,#017755 15.5px,#089034 18.5px,#14a21f 21.5px,#2eaf1b 24.5px,#3db619 27.5px,#3eb718 30.5px,#35b21a 33.5px,#23aa1d 36.5px,#0f9d24 39.5px,#078d36 42.5px,#027952 45.5px,#00687a 48.5px,#00569a 51.5px,#0045b4 54.5px,#0030ce 57.5px,#0123dc 60.5px,#011ce2 63.5px,#0217e7 66.5px,#0214e9 69.5px,#0313eb 72.5px,#0312ec 75.5px,#0311ec 78.5px,#0311ec 81.5px,#0311ec 84.5px,#0311ec 87.5px,#0311ed 90.5px,#0311ed 93.5px,#0311ed 96.5px,#0311ed 99.5px,#0311ed 102.5px,#0311ed 105.5px,#0311ed 108.5px)"></div><div style="top:24px;background:linear-gradient(90deg,#0311ec 0.5px,#0217e7 3.5px,#002dd2 6.5px,#004fa5 9.5px,#00667e 12.5px,#027c4e 15.5px,#0a952e 18.5px,#1fa71e 21.5px,#3ab519 24.5px,#53be17 27.5px,#56bf16 30.5px,#44b918 33.5px,#2faf1b 36.5px,#15a31f 39.5px,#099230 42.5px,#037e4b 45.5px,#006b70 48.5px,#005995 51.5px,#0049af 54.5px,#0033ca 57.5px,#0024db 60.5px,#011de2 63.5px,#0218e6 66.5px,#0215e9 69.5px,#0313eb 72.5px,#0312ec 75.5px,#0311ec 78.5px,#0311ec 81.5px,#0311ec 84.5px,#0311ec 87.5px,#0311ed 90.5px,#0311ed 93.5px,#0311ed 96.5px,#0311ed 99.5px,#0311ed 102.5px,#0311ed 105.5px,#0311ed 108.5px)"></div><div style="top:25px;background:linear-gradient(90deg,#0311ec 0.5px,#0217e6 3.5px,#002fcf 6.5px,#0051a1 9.5px,#006975 12.5px,#048246 15.5px,#0d9a27 18.5px,#2aad1c 21.5px,#4dbc17 24.5px,#6cc615 27.5px,#6fc715 30.5px,#5cc116 33.5px,#3bb519 36.5px,#20a81d 39.5px,#0c972a 42.5px,#048344 45.5px,#006e67 48.5px,#005c90 51.5px,#004bab 54.5px,#0036c7 57.5px,#0026da 60.5px,#011ee1 63.5px,#0218e6 66.5px,#0215e9 69.5px,#0313ea 72.5px,#0312eb 75.5px,#0311ec 78.5px,#0311ec 81.5px,#0311ec 84.5px,#0311ec 87.5px,#0311ed 90.5px,#0311ed 93.5px,#0311ed 96.5px,#0311ed 99.5px,#0311ed 102.5px,#0311ed 105.5px,#0311ed 108.5px)"></div><div style="top:26px;background:linear-gradient(90deg,#0311ec 0.5px,#0218e6 3.5px,#0032cc 6.5px,#00549d 9.5px,#006c6d 12.5px,#05873f 15.5px,#0f9f21 18.5px,#35b21a 21.5px,#65c415 24.5px,#85ce13 27.5px,#88cf13 30.5px,#74c914 33.5px,#4dbc17 36.5px,#2aad1c 39.5px,#0e9c24 42.5px,#05893d 45.5px,#00715e 48.5px,#00608b 51.5px,#004da8 54.5px,#0038c3 57.5px,#0027d9 60.5px,#011ee0 63.5px,#0219e5 66.5px,#0215e8 69.5px,#0313ea 72.5px,#0312eb 75.5px,#0311ec 78.5px,#0311ec 81.5px,#0311ec 84.5px,#0311ec 87.5px,#0311ed 90.5px,#0311ed 93.5px,#0311ed 96.5px,#0311ed 99.5px,#0311ed 102.5px,#0311ed 105.5px,#0311ed 108.5px)"></div><div style="top:27px;background:linear-gradient(90deg,#0311ec 0.5px,#0218e6 3.5px,#0034c9 6.5px,#005799 9.5px,#006f64 12.5px,#068c38 15.5px,#17a41f 18.5px,#40b818 21.5px,#7ccb14 24.5px,#9ed611 27.5px,#a1d711 30.5px,#8cd013 33.5px,#63c315 36.5px,#35b21a 39.5px,#12a120 42.5px,#078d36 45.5px,#017557 48.5px,#006386 51.5px,#0050a4 54.5px,#003bc0 57.5px,#0028d8 60.5px,#011fe0 63.5px,#0219e5 66.5px,#0215e8 69.5px,#0313ea 72.5px,#0312eb 75.5px,#0311ec 78.5px,#0311ec 81.5px,#0311ec 84.5px,#0311ec 87.5px,#0311ed 90.5px,#0311ed 93.5px,#0311ed 96.5px,#0311ed 99.5px,#0311ed 102.5px,#0311ed 105.5px,#0311ed 108.5px)"></div><div style="top:28px;background:linear-gradient(90deg,#0311ec 0.5px,#0219e5 3.5px,#0037c6 6.5px,#005a94 9.5px,#00725c 12.5px,#089033 15.5px,#20a81d 18.5px,#54bf17 21.5px,#93d312 24.5px,#b7de0e 27.5px,#badf0d 30.5px,#a4d811 33.5px,#79ca14 36.5px,#3fb818 39.5px,#1ba61e 42.5px,#099131 45.5px,#027952 48.5px,#00667f 51.5px,#0052a0 54.5px,#003ebd 57.5px,#002ad6 60.5px,#0120df 63.5px,#021ae5 66.5px,#0216e8 69.5px,#0313ea 72.5px,#0312eb 75.5px,#0311ec 78.5px,#0311ec 81.5px,#0311ec 84.5px,#0311ec 87.5px,#0311ed 90.5px,#0311ed 93.5px,#0311ed 96.5px,#0311ed 99.5px,#0311ed 102.5px,#0311ed 105.5px,#0311ed 108.5px)"></div><div style="top:29px;background:linear-gradient(90deg,#0311ec 0.5px,#0219e5 3.5px,#0039c3 6.5px,#005c90 9.5px,#017656 12.5px,#0a942e 15.5px,#2aad1c 18.5px,#69c515 21.5px,#abda10 24.5px,#cfe608 27.5px,#d2e707 30.5px,#bce00d 33.5px,#90d212 36.5px,#53be17 39.5px,#24aa1d 42.5px,#0b962d 45.5px,#037e4c 48.5px,#006878 51.5px,#00549d 54.5px,#0041b9 57.5px,#002cd3 60.5px,#0121de 63.5px,#021ae4 66.5px,#0216e8 69.5px,#0314ea 72.5px,#0312eb 75.5px,#0311ec 78.5px,#0311ec 81.5px,#0311ec 84.5px,#0311ec 87.5px,#0311ed 90.5px,#0311ed 93.5px,#0311ed 96.5px,#0311ed 99.5px,#0311ed 102.5px,#0311ed 105.5px,#0311ed 108.5px)"></div><div style="top:30px;background:linear-gradient(90deg,#0311ec 0.5px,#021ae5 3.5px,#003cbf 6.5px,#00608b 9.5px,#027a50 12.5px,#0c9829 15.5px,#33b21a 18.5px,#7fcc14 21.5px,#c2e20c 24.5px,#e7ed02 27.5px,#eaee01 30.5px,#d3e707 33.5px,#a7d911 36.5px,#67c515 39.5px,#2eaf1b 42.5px,#0d9a27 45.5px,#048245 48.5px,#006b70 51.5px,#005798 54.5px,#0044b4 57.5px,#002ed0 60.5px,#0122dd 63.5px,#021be3 66.5px,#0216e7 69.5px,#0314ea 72.5px,#0312eb 75.5px,#0311ec 78.5px,#0311ec 81.5px,#0311ec 84.5px,#0311ec 87.5px,#0311ed 90.5px,#0311ed 93.5px,#0311ed 96.5px,#0311ed 99.5px,#0311ed 102.5px,#0311ed 105.5px,#0311ed 108.5px)"></div><div style="top:31px;background:linear-gradient(90deg,#0312ec 0.5px,#021ae4 3.5px,#0040ba 6.5px,#006385 9.5px,#037f4a 12.5px,#0e9d24 15.5px,#3eb718 18.5px,#94d312 21.5px,#d9e906 24.5px,#f5ec00 27.5px,#f6eb00 30.5px,#ebee01 33.5px,#bde00d 36.5px,#7ccb14 39.5px,#38b419 42.5px,#0f9f21 45.5px,#05873e 48.5px,#006e66 51.5px,#005b93 54.5px,#0048af 57.5px,#0031cc 60.5px,#0123dc 63.5px,#021ce3 66.5px,#0217e7 69.5px,#0214e9 72.5px,#0312eb 75.5px,#0311ec 78.5px,#0311ec 81.5px,#0311ec 84.5px,#0311ec 87.5px,#0311ec 90.5px,#0311ed 93.5px,#0311ed 96.5px,#0311ed 99.5px,#0311ed 102.5px,#0311ed 105.5px,#0311ed 108.5px)"></div><div style="top:32px;background:linear-gradient(90deg,#0312ec 0.5px,#021be3 3.5px,#0044b5 6.5px,#00667d 9.5px,#048443 12.5px,#13a21f 15.5px,#4fbd17 18.5px,#aada10 21.5px,#f0f000 24.5px,#fee500 27.5px,#ffe400 30.5px,#f6eb00 33.5px,#d3e707 36.5px,#92d212 39.5px,#44b918 42.5px,#17a31f 45.5px,#068c37 48.5px,#00725d 51.5px,#005e8d 54.5px,#004bab 57.5px,#0034c8 60.5px,#0025db 63.5px,#011de2 66.5px,#0218e6 69.5px,#0214e9 72.5px,#0313eb 75.5px,#0312ec 78.5px,#0311ec 81.5px,#0311ec 84.5px,#0311ec 87.5px,#0311ec 90.5px,#0311ed 93.5px,#0311ed 96.5px,#0311ed 99.5px,#0311ed 102.5px,#0311ed 105.5px,#0311ed 108.5px)"></div><div style="top:33px;background:linear-gradient(90deg,#0312ec 0.5px,#021ce3 3.5px,#0047b1 6.5px,#006975 9.5px,#05893c 12.5px,#1ca61e 15.5px,#62c316 18.5px,#c0e10c 21.5px,#f8ea00 24.5px,#ffda00 27.5px,#ffd900 30.5px,#ffe400 33.5px,#e9ee02 36.5px,#a7d911 39.5px,#57bf16 42.5px,#1fa81d 45.5px,#089133 48.5px,#017656 51.5px,#006288 54.5px,#004ea7 57.5px,#0038c4 60.5px,#0026da 63.5px,#011ee1 66.5px,#0218e6 69.5px,#0215e9 72.5px,#0313ea 75.5px,#0312eb 78.5px,#0311ec 81.5px,#0311ec 84.5px,#0311ec 87.5px,#0311ec 90.5px,#0311ed 93.5px,#0311ed 96.5px,#0311ed 99.5px,#0311ed 102.5px,#0311ed 105.5px,#0311ed 108.5px)"></div><div style="top:34px;background:linear-gradient(90deg,#0312eb 0.5px,#011ce2 3.5px,#004aad 6.5px,#006c6c 9.5px,#078e36 12.5px,#25aa1d 15.5px,#75c914 18.5px,#d5e707 21.5px,#ffe300 24.5px,#ffcf00 27.5px,#ffcd00 30.5px,#ffd900 33.5px,#f5ec00 36.5px,#bce00d 39.5px,#6ac515 42.5px,#28ac1c 45.5px,#0a952e 48.5px,#027a50 51.5px,#006581 54.5px,#0050a3 57.5px,#003bc0 60.5px,#0028d8 63.5px,#011fe0 66.5px,#0219e5 69.5px,#0215e8 72.5px,#0313ea 75.5px,#0312eb 78.5px,#0311ec 81.5px,#0311ec 84.5px,#0311ec 87.5px,#0311ec 90.5px,#0311ed 93.5px,#0311ed 96.5px,#0311ed 99.5px,#0311ed 102.5px,#0311ed 105.5px,#0311ed 108.5px)"></div><div style="top:35px;background:linear-gradient(90deg,#0312eb 0.5px,#011de1 3.5px,#004ca9 6.5px,#006f64 9.5px,#099231 12.5px,#2daf1b 15.5px,#89cf13 18.5px,#eaee02 21.5px,#ffd800 24.5px,#ffc300 27.5px,#ffc100 30.5px,#ffce00 33.5px,#fde500 36.5px,#d0e608 39.5px,#7dcc14 42.5px,#31b11a 45.5px,#0c9929 48.5px,#037f4a 51.5px,#006879 54.5px,#00539e 57.5px,#003fbc 60.5px,#002ad6 63.5px,#0120df 66.5px,#021ae5 69.5px,#0216e8 72.5px,#0313ea 75.5px,#0312eb 78.5px,#0311ec 81.5px,#0311ec 84.5px,#0311ec 87.5px,#0311ec 90.5px,#0311ed 93.5px,#0311ed 96.5px,#0311ed 99.5px,#0311ed 102.5px,#0311ed 105.5px,#0311ed 108.5px)"></div><div style="top:36px;background:linear-gradient(90deg,#0312eb 0.5px,#011ee1 3.5px,#004fa5 6.5px,#00735b 9.5px,#0b962c 12.5px,#36b31a 15.5px,#9dd611 18.5px,#f5ec00 21.5px,#ffcd00 24.5px,#ffb800 27.5px,#ffb600 30.5px,#ffc300 33.5px,#ffdc00 36.5px,#e5ec03 39.5px,#90d212 42.5px,#3ab519 45.5px,#0f9d23 48.5px,#048344 51.5px,#006b71 54.5px,#00569a 57.5px,#0042b7 60.5px,#002dd2 63.5px,#0121de 66.5px,#021ae4 69.5px,#0216e8 72.5px,#0314ea 75.5px,#0312eb 78.5px,#0311ec 81.5px,#0311ec 84.5px,#0311ec 87.5px,#0311ec 90.5px,#0311ed 93.5px,#0311ed 96.5px,#0311ed 99.5px,#0311ed 102.5px,#0311ed 105.5px,#0311ed 108.5px)"></div><div style="top:37px;background:linear-gradient(90deg,#0312eb 0.5px,#011fe0 3.5px,#0051a1 6.5px,#017756 9.5px,#0d9a28 12.5px,#3fb818 15.5px,#b0dc10 18.5px,#fde600 21.5px,#ffc100 24.5px,#ffac00 27.5px,#ffaa00 30.5px,#ffb700 33.5px,#ffd100 36.5px,#f3ed00 39.5px,#a4d811 42.5px,#46ba18 45.5px,#13a120 48.5px,#05883e 51.5px,#006e68 54.5px,#005995 57.5px,#0046b2 60.5px,#002fcf 63.5px,#0122dd 66.5px,#021be3 69.5px,#0217e7 72.5px,#0314ea 75.5px,#0312eb 78.5px,#0311ec 81.5px,#0311ec 84.5px,#0311ec 87.5px,#0311ec 90.5px,#0311ec 93.5px,#0311ed 96.5px,#0311ed 99.5px,#0311ed 102.5px,#0311ed 105.5px,#0311ed 108.5px)"></div><div style="top:38px;background:linear-gradient(90deg,#0312eb 0.5px,#0120df 3.5px,#00549d 6.5px,#027b50 9.5px,#0f9e23 12.5px,#50bd17 15.5px,#c3e20b 18.5px,#ffdd00 21.5px,#ffb600 24.5px,#ff9f00 27.5px,#ff9d00 30.5px,#ffac00 33.5px,#ffc600 36.5px,#fae800 39.5px,#b7de0e 42.5px,#57c016 45.5px,#1aa51e 48.5px,#068c37 51.5px,#007160 54.5px,#005c90 57.5px,#0049ae 60.5px,#0032cc 63.5px,#0123dc 66.5px,#021ce3 69.5px,#0217e7 72.5px,#0214e9 75.5px,#0313eb 78.5px,#0312ec 81.5px,#0311ec 84.5px,#0311ec 87.5px,#0311ec 90.5px,#0311ec 93.5px,#0311ed 96.5px,#0311ed 99.5px,#0311ed 102.5px,#0311ed 105.5px,#0311ed 108.5px)"></div><div style="top:39px;background:linear-gradient(90deg,#0312eb 0.5px,#0120df 3.5px,#005699 6.5px,#037f4b 9.5px,#13a21f 12.5px,#61c316 15.5px,#d6e807 18.5px,#ffd300 21.5px,#ffab00 24.5px,#ff9300 27.5px,#ff9100 30.5px,#ffa000 33.5px,#ffbc00 36.5px,#ffe000 39.5px,#c9e40a 42.5px,#68c515 45.5px,#22a91d 48.5px,#089033 51.5px,#007459 54.5px,#005f8b 57.5px,#004bab 60.5px,#0035c8 63.5px,#0025db 66.5px,#011de2 69.5px,#0218e6 72.5px,#0215e9 75.5px,#0313eb 78.5px,#0312ec 81.5px,#0311ec 84.5px,#0311ec 87.5px,#0311ec 90.5px,#0311ec 93.5px,#0311ed 96.5px,#0311ed 99.5px,#0311ed 102.5px,#0311ed 105.5px,#0311ed 108.5px)"></div><div style="top:40px;background:linear-gradient(90deg,#0312eb 0.5px,#0121de 3.5px,#005996 6.5px,#048246 9.5px,#1aa51e 12.5px,#6fc715 15.5px,#e5ed03 18.5px,#ffcb00 21.5px,#ffa200 24.5px,#ff8a00 27.5px,#ff8700 30.5px,#ff9600 33.5px,#ffb300 36.5px,#ffd800 39.5px,#d9e906 42.5px,#77ca14 45.5px,#29ac1c 48.5px,#0a932f 51.5px,#017755 54.5px,#006287 57.5px,#004ea7 60.5px,#0037c5 63.5px,#0026da 66.5px,#011ee1 69.5px,#0218e6 72.5px,#0215e9 75.5px,#0313ea 78.5px,#0312eb 81.5px,#0311ec 84.5px,#0311ec 87.5px,#0311ec 90.5px,#0311ec 93.5px,#0311ed 96.5px,#0311ed 99.5px,#0311ed 102.5px,#0311ed 105.5px,#0311ed 108.5px)"></div><div style="top:41px;background:linear-gradient(90deg,#0312eb 0.5px,#0122dd 3.5px,#005b93 6.5px,#048542 9.5px,#1ea71e 12.5px,#78ca14 15.5px,#eeef00 18.5px,#ffc600 21.5px,#ff9d00 24.5px,#ff8500 27.5px,#ff8200 30.5px,#ff9100 33.5px,#ffae00 36.5px,#ffd400 39.5px,#e2ec04 42.5px,#80cc13 45.5px,#2daf1b 48.5px,#0b952d 51.5px,#027a51 54.5px,#006484 57.5px,#004fa5 60.5px,#003ac2 63.5px,#0027d9 66.5px,#011ee0 69.5px,#0219e5 72.5px,#0215e8 75.5px,#0313ea 78.5px,#0312eb 81.5px,#0311ec 84.5px,#0311ec 87.5px,#0311ec 90.5px,#0311ec 93.5px,#0311ed 96.5px,#0311ed 99.5px,#0311ed 102.5px,#0311ed 105.5px,#0311ed 108.5px)"></div><div style="top:42px;background:linear-gradient(90deg,#0312eb 0.5px,#0122dd 3.5px,#005c90 6.5px,#05873f 9.5px,#22a91d 12.5px,#80cc13 15.5px,#f2ee00 18.5px,#ffc200 21.5px,#ff9900 24.5px,#ff8100 27.5px,#ff7e00 30.5px,#ff8d00 33.5px,#ffaa00 36.5px,#ffd000 39.5px,#e9ee02 42.5px,#87cf13 45.5px,#31b11a 48.5px,#0c972a 51.5px,#027c4e 54.5px,#00667f 57.5px,#0051a2 60.5px,#003cbf 63.5px,#0028d8 66.5px,#011fe0 69.5px,#0219e5 72.5px,#0216e8 75.5px,#0313ea 78.5px,#0312eb 81.5px,#0311ec 84.5px,#0311ec 87.5px,#0311ec 90.5px,#0311ec 93.5px,#0311ed 96.5px,#0311ed 99.5px,#0311ed 102.5px,#0311ed 105.5px,#0311ed 108.5px)"></div><div style="top:43px;background:linear-gradient(90deg,#0313eb 0.5px,#0123dc 3.5px,#005e8e 6.5px,#05893c 9.5px,#26ab1c 12.5px,#87cf13 15.5px,#f5ec00 18.5px,#ffbe00 21.5px,#ff9500 24.5px,#ff7d00 27.5px,#ff7a00 30.5px,#ff8900 33.5px,#ffa600 36.5px,#ffcc00 39.5px,#f0f000 42.5px,#8fd212 45.5px,#35b31a 48.5px,#0d9928 51.5px,#037e4b 54.5px,#00677b 57.5px,#0052a0 60.5px,#003ebd 63.5px,#002ad6 66.5px,#0120df 69.5px,#021ae5 72.5px,#0216e8 75.5px,#0313ea 78.5px,#0312eb 81.5px,#0311ec 84.5px,#0311ec 87.5px,#0311ec 90.5px,#0311ec 93.5px,#0311ec 96.5px,#0311ed 99.5px,#0311ed 102.5px,#0311ed 105.5px,#0311ed 108.5px)"></div><div style="top:44px;background:linear-gradient(90deg,#0313eb 0.5px,#0124dc 3.5px,#00608b 6.5px,#068c38 9.5px,#29ad1c 12.5px,#8fd212 15.5px,#f8ea00 18.5px,#ffbb00 21.5px,#ff9100 24.5px,#ff7900 27.5px,#ff7700 30.5px,#ff8500 33.5px,#ffa200 36.5px,#ffc800 39.5px,#f3ed00 42.5px,#97d412 45.5px,#39b519 48.5px,#0e9b26 51.5px,#038048 54.5px,#006977 57.5px,#00549d 60.5px,#0040ba 63.5px,#002bd4 66.5px,#0121df 69.5px,#021ae4 72.5px,#0216e8 75.5px,#0314ea 78.5px,#0312eb 81.5px,#0311ec 84.5px,#0311ec 87.5px,#0311ec 90.5px,#0311ec 93.5px,#0311ec 96.5px,#0311ed 99.5px,#0311ed 102.5px,#0311ed 105.5px,#0311ed 108.5px)"></div><div style="top:45px;background:linear-gradient(90deg,#0313eb 0.5px,#0024db 3.5px,#006188 6.5px,#078e36 9.5px,#2daf1b 12.5px,#97d412 15.5px,#fae800 18.5px,#ffb700 21.5px,#ff8d00 24.5px,#ff7500 27.5px,#ff7300 30.5px,#ff8100 33.5px,#ff9e00 36.5px,#ffc500 39.5px,#f6eb00 42.5px,#9fd711 45.5px,#3db718 48.5px,#0f9d23 51.5px,#048345 54.5px,#006a72 57.5px,#00569a 60.5px,#0042b7 63.5px,#002dd2 66.5px,#0121de 69.5px,#021be4 72.5px,#0217e7 75.5px,#0314ea 78.5px,#0312eb 81.5px,#0312ec 84.5px,#0311ec 87.5px,#0311ec 90.5px,#0311ec 93.5px,#0311ec 96.5px,#0311ed 99.5px,#0311ed 102.5px,#0311ed 105.5px,#0311ed 108.5px)"></div><div style="top:46px;background:linear-gradient(90deg,#0313eb 0.5px,#0025db 3.5px,#006386 6.5px,#088f34 9.5px,#31b11a 12.5px,#9fd711 15.5px,#fde600 18.5px,#ffb300 21.5px,#ff8900 24.5px,#ff7100 27.5px,#ff6f00 30.5px,#ff7d00 33.5px,#ff9a00 36.5px,#ffc100 39.5px,#f9e900 42.5px,#a7d911 45.5px,#42b918 48.5px,#109f21 51.5px,#048542 54.5px,#006c6e 57.5px,#005798 60.5px,#0044b5 63.5px,#002ed0 66.5px,#0122dd 69.5px,#021be3 72.5px,#0217e7 75.5px,#0214e9 78.5px,#0313eb 81.5px,#0312ec 84.5px,#0311ec 87.5px,#0311ec 90.5px,#0311ec 93.5px,#0311ec 96.5px,#0311ed 99.5px,#0311ed 102.5px,#0311ed 105.5px,#0311ed 108.5px)"></div><div style="top:47px;background:linear-gradient(90deg,#0313ea 0.5px,#0025da 3.5px,#006483 6.5px,#099132 9.5px,#35b31a 12.5px,#a7d911 15.5px,#ffe300 18.5px,#ffaf00 21.5px,#ff8500 24.5px,#ff6d00 27.5px,#ff6b00 30.5px,#ff7900 33.5px,#ff9600 36.5px,#ffbd00 39.5px,#fbe700 42.5px,#afdc10 45.5px,#4abb17 48.5px,#12a120 51.5px,#05873e 54.5px,#006d69 57.5px,#005995 60.5px,#0047b2 63.5px,#0030ce 66.5px,#0123dc 69.5px,#021ce3 72.5px,#0217e7 75.5px,#0214e9 78.5px,#0313eb 81.5px,#0312ec 84.5px,#0311ec 87.5px,#0311ec 90.5px,#0311ec 93.5px,#0311ec 96.5px,#0311ed 99.5px,#0311ed 102.5px,#0311ed 105.5px,#0311ed 108.5px)"></div><div style="top:48px;background:linear-gradient(90deg,#0313ea 0.5px,#0026da 3.5px,#00667f 6.5px,#0a9330 9.5px,#39b419 12.5px,#aedc10 15.5px,#ffdf00 18.5px,#ffac00 21.5px,#ff8100 24.5px,#ff6900 27.5px,#ff6700 30.5px,#ff7600 33.5px,#ff9200 36.5px,#ffba00 39.5px,#fee500 42.5px,#b6de0e 45.5px,#51bd17 48.5px,#16a31f 51.5px,#058a3b 54.5px,#006f65 57.5px,#005b92 60.5px,#0049af 63.5px,#0032cc 66.5px,#0124dc 69.5px,#011ce2 72.5px,#0218e6 75.5px,#0215e9 78.5px,#0313eb 81.5px,#0312eb 84.5px,#0311ec 87.5px,#0311ec 90.5px,#0311ec 93.5px,#0311ec 96.5px,#0311ed 99.5px,#0311ed 102.5px,#0311ed 105.5px,#0311ed 108.5px)"></div><div style="top:49px;background:linear-gradient(90deg,#0313ea 0.5px,#0027d9 3.5px,#00677c 6.5px,#0a942e 9.5px,#3cb619 12.5px,#b3dd0f 15.5px,#ffdd00 18.5px,#ffa900 21.5px,#ff7f00 24.5px,#ff6800 27.5px,#ff6600 30.5px,#ff7400 33.5px,#ff9100 36.5px,#ffb800 39.5px,#ffe300 42.5px,#bbdf0d 45.5px,#56bf16 48.5px,#19a41f 51.5px,#068b39 54.5px,#007061 57.5px,#005c90 60.5px,#004aad 63.5px,#0033ca 66.5px,#0025db 69.5px,#011de2 72.5px,#0218e6 75.5px,#0215e9 78.5px,#0313ea 81.5px,#0312eb 84.5px,#0311ec 87.5px,#0311ec 90.5px,#0311ec 93.5px,#0311ec 96.5px,#0311ed 99.5px,#0311ed 102.5px,#0311ed 105.5px,#0311ed 108.5px)"></div><div style="top:50px;background:linear-gradient(90deg,#0313ea 0.5px,#0027d9 3.5px,#006879 6.5px,#0b962c 9.5px,#3eb718 12.5px,#b7de0e 15.5px,#ffdc00 18.5px,#ffa800 21.5px,#ff7f00 24.5px,#ff6700 27.5px,#ff6500 30.5px,#ff7400 33.5px,#ff9000 36.5px,#ffb600 39.5px,#ffe200 42.5px,#bfe10c 45.5px,#5ac016 48.5px,#1ba51e 51.5px,#068d37 54.5px,#00715e 57.5px,#005e8e 60.5px,#004bac 63.5px,#0035c8 66.5px,#0025da 69.5px,#011de1 72.5px,#0218e6 75.5px,#0215e9 78.5px,#0313ea 81.5px,#0312eb 84.5px,#0311ec 87.5px,#0311ec 90.5px,#0311ec 93.5px,#0311ec 96.5px,#0311ec 99.5px,#0311ed 102.5px,#0311ed 105.5px,#0311ed 108.5px)"></div><div style="top:51px;background:linear-gradient(90deg,#0313ea 0.5px,#0028d8 3.5px,#006977 6.5px,#0b972b 9.5px,#40b818 12.5px,#badf0d 15.5px,#ffdb00 18.5px,#ffa700 21.5px,#ff7e00 24.5px,#ff6700 27.5px,#ff6500 30.5px,#ff7300 33.5px,#ff8f00 36.5px,#ffb500 39.5px,#ffe100 42.5px,#c2e20c 45.5px,#5ec216 48.5px,#1da71e 51.5px,#078e36 54.5px,#00735b 57.5px,#005f8c 60.5px,#004caa 63.5px,#0036c6 66.5px,#0026da 69.5px,#011ee1 72.5px,#0219e5 75.5px,#0215e8 78.5px,#0313ea 81.5px,#0312eb 84.5px,#0311ec 87.5px,#0311ec 90.5px,#0311ec 93.5px,#0311ec 96.5px,#0311ec 99.5px,#0311ed 102.5px,#0311ed 105.5px,#0311ed 108.5px)"></div><div style="top:52px;background:linear-gradient(90deg,#0313ea 0.5px,#0028d8 3.5px,#006975 6.5px,#0c982a 9.5px,#44b918 12.5px,#bde00d 15.5px,#ffd900 18.5px,#ffa700 21.5px,#ff7d00 24.5px,#ff6700 27.5px,#ff6500 30.5px,#ff7300 33.5px,#ff8e00 36.5px,#ffb400 39.5px,#ffdf00 42.5px,#c5e30b 45.5px,#61c316 48.5px,#1fa81d 51.5px,#088f34 54.5px,#007459 57.5px,#00608a 60.5px,#004da8 63.5px,#0038c4 66.5px,#0027d9 69.5px,#011fe0 72.5px,#0219e5 75.5px,#0216e8 78.5px,#0313ea 81.5px,#0312eb 84.5px,#0311ec 87.5px,#0311ec 90.5px,#0311ec 93.5px,#0311ec 96.5px,#0311ec 99.5px,#0311ed 102.5px,#0311ed 105.5px,#0311ed 108.5px)"></div><div style="top:53px;background:linear-gradient(90deg,#0313ea 0.5px,#0028d8 3.5px,#006a73 6.5px,#0c9829 9.5px,#45ba18 12.5px,#bfe10c 15.5px,#ffd900 18.5px,#ffa600 21.5px,#ff7d00 24.5px,#ff6600 27.5px,#ff6400 30.5px,#ff7200 33.5px,#ff8e00 36.5px,#ffb400 39.5px,#ffdf00 42.5px,#c7e30a 45.5px,#63c315 48.5px,#20a81d 51.5px,#089034 54.5px,#017558 57.5px,#006189 60.5px,#004da7 63.5px,#0038c3 66.5px,#0027d9 69.5px,#011fe0 72.5px,#0219e5 75.5px,#0216e8 78.5px,#0313ea 81.5px,#0312eb 84.5px,#0311ec 87.5px,#0311ec 90.5px,#0311ec 93.5px,#0311ec 96.5px,#0311ec 99.5px,#0311ed 102.5px,#0311ed 105.5px,#0311ed 108.5px)"></div><div style="top:54px;background:linear-gradient(90deg,#0313ea 0.5px,#0028d8 3.5px,#006a73 6.5px,#0c9929 9.5px,#46ba18 12.5px,#c0e10c 15.5px,#ffd800 18.5px,#ffa600 21.5px,#ff7d00 24.5px,#ff6600 27.5px,#ff6400 30.5px,#ff7200 33.5px,#ff8e00 36.5px,#ffb400 39.5px,#ffde00 42.5px,#c7e30a 45.5px,#64c415 48.5px,#20a81d 51.5px,#089034 54.5px,#017558 57.5px,#006189 60.5px,#004ea7 63.5px,#0039c3 66.5px,#0027d9 69.5px,#011fe0 72.5px,#0219e5 75.5px,#0216e8 78.5px,#0314ea 81.5px,#0312eb 84.5px,#0311ec 87.5px,#0311ec 90.5px,#0311ec 93.5px,#0311ec 96.5px,#0311ec 99.5px,#0311ed 102.5px,#0311ed 105.5px,#0311ed 108.5px)"></div><div style="top:55px;background:linear-gradient(90deg,#0313ea 0.5px,#0028d8 3.5px,#006a73 6.5px,#0c9929 9.5px,#46ba18 12.5px,#c0e10c 15.5px,#ffd800 18.5px,#ffa500 21.5px,#ff7d00 24.5px,#ff6600 27.5px,#ff6400 30.5px,#ff7200 33.5px,#ff8d00 36.5px,#ffb300 39.5px,#ffde00 42.5px,#c7e30a 45.5px,#64c415 48.5px,#20a81d 51.5px,#089033 54.5px,#017558 57.5px,#006189 60.5px,#004ea7 63.5px,#0039c3 66.5px,#0027d9 69.5px,#011fe0 72.5px,#0219e5 75.5px,#0216e8 78.5px,#0314ea 81.5px,#0312eb 84.5px,#0311ec 87.5px,#0311ec 90.5px,#0311ec 93.5px,#0311ec 96.5px,#0311ec 99.5px,#0311ed 102.5px,#0311ed 105.5px,#0311ed 108.5px)"></div><div style="top:56px;background:linear-gradient(90deg,#0313ea 0.5px,#0028d8 3.5px,#006a73 6.5px,#0c9929 9.5px,#46ba18 12.5px,#c0e10c 15.5px,#ffd800 18.5px,#ffa500 21.5px,#ff7c00 24.5px,#ff6600 27.5px,#ff6300 30.5px,#ff7100 33.5px,#ff8d00 36.5px,#ffb300 39.5px,#ffde00 42.5px,#c8e30a 45.5px,#64c415 48.5px,#21a81d 51.5px,#089033 54.5px,#017558 57.5px,#006189 60.5px,#004ea7 63.5px,#0039c3 66.5px,#0027d9 69.5px,#011fe0 72.5px,#0219e5 75.5px,#0216e8 78.5px,#0314ea 81.5px,#0312eb 84.5px,#0311ec 87.5px,#0311ec 90.5px,#0311ec 93.5px,#0311ec 96.5px,#0311ec 99.5px,#0311ed 102.5px,#0311ed 105.5px,#0311ed 108.5px)"></div><div style="top:57px;background:linear-gradient(90deg,#0313ea 0.5px,#0028d8 3.5px,#006a73 6.5px,#0c9929 9.5px,#47ba18 12.5px,#c0e10c 15.5px,#ffd800 18.5px,#ffa500 21.5px,#ff7c00 24.5px,#ff6500 27.5px,#ff6300 30.5px,#ff7100 33.5px,#ff8d00 36.5px,#ffb300 39.5px,#ffde00 42.5px,#c8e40a 45.5px,#65c415 48.5px,#21a81d 51.5px,#089033 54.5px,#017558 57.5px,#006189 60.5px,#004ea7 63.5px,#0039c3 66.5px,#0027d9 69.5px,#011fe0 72.5px,#0219e5 75.5px,#0216e8 78.5px,#0314ea 81.5px,#0312eb 84.5px,#0311ec 87.5px,#0311ec 90.5px,#0311ec 93.5px,#0311ec 96.5px,#0311ec 99.5px,#0311ed 102.5px,#0311ed 105.5px,#0311ed 108.5px)"></div><div style="top:58px;background:linear-gradient(90deg,#0313ea 0.5px,#0028d8 3.5px,#006a73 6.5px,#0c9929 9.5px,#47ba18 12.5px,#c1e10c 15.5px,#ffd800 18.5px,#ffa500 21.5px,#ff7c00 24.5px,#ff6500 27.5px,#ff6300 30.5px,#ff7100 33.5px,#ff8d00 36.5px,#ffb300 39.5px,#ffde00 42.5px,#c8e40a 45.5px,#65c415 48.5px,#21a81d 51.5px,#089033 54.5px,#017558 57.5px,#006189 60.5px,#004ea7 63.5px,#0039c3 66.5px,#0027d9 69.5px,#011fe0 72.5px,#0219e5 75.5px,#0216e8 78.5px,#0314ea 81.5px,#0312eb 84.5px,#0311ec 87.5px,#0311ec 90.5px,#0311ec 93.5px,#0311ec 96.5px,#0311ec 99.5px,#0311ed 102.5px,#0311ed 105.5px,#0311ed 108.5px)"></div><div style="top:59px;background:linear-gradient(90deg,#0313ea 0.5px,#0028d8 3.5px,#006a73 6.5px,#0c9929 9.5px,#47ba17 12.5px,#c1e10c 15.5px,#ffd700 18.5px,#ffa500 21.5px,#ff7b00 24.5px,#ff6500 27.5px,#ff6300 30.5px,#ff7100 33.5px,#ff8c00 36.5px,#ffb300 39.5px,#ffdd00 42.5px,#c9e40a 45.5px,#65c415 48.5px,#21a81d 51.5px,#089033 54.5px,#017558 57.5px,#006189 60.5px,#004ea7 63.5px,#0039c3 66.5px,#0027d9 69.5px,#011fe0 72.5px,#0219e5 75.5px,#0216e8 78.5px,#0314ea 81.5px,#0312eb 84.5px,#0311ec 87.5px,#0311ec 90.5px,#0311ec 93.5px,#0311ec 96.5px,#0311ec 99.5px,#0311ed 102.5px,#0311ed 105.5px,#0311ed 108.5px)"></div><div style="top:60px;background:linear-gradient(90deg,#0313ea 0.5px,#0028d7 3.5px,#006a73 6.5px,#0c9929 9.5px,#48ba17 12.5px,#c1e10c 15.5px,#ffd700 18.5px,#ffa400 21.5px,#ff7b00 24.5px,#ff6400 27.5px,#ff6200 30.5px,#ff7000 33.5px,#ff8c00 36.5px,#ffb200 39.5px,#ffdd00 42.5px,#c9e40a 45.5px,#66c415 48.5px,#21a91d 51.5px,#089033 54.5px,#017558 57.5px,#006189 60.5px,#004ea7 63.5px,#0039c3 66.5px,#0027d9 69.5px,#011fe0 72.5px,#0219e5 75.5px,#0216e8 78.5px,#0314ea 81.5px,#0312eb 84.5px,#0311ec 87.5px,#0311ec 90.5px,#0311ec 93.5px,#0311ec 96.5px,#0311ec 99.5px,#0311ed 102.5px,#0311ed 105.5px,#0311ed 108.5px)"></div><div style="top:61px;background:linear-gradient(90deg,#0313ea 0.5px,#0028d7 3.5px,#006a72 6.5px,#0c9928 9.5px,#48ba17 12.5px,#c2e20c 15.5px,#ffd700 18.5px,#ffa400 21.5px,#ff7b00 24.5px,#ff6400 27.5px,#ff6200 30.5px,#ff7000 33.5px,#ff8c00 36.5px,#ffb200 39.5px,#ffdd00 42.5px,#c9e40a 45.5px,#66c415 48.5px,#21a91d 51.5px,#089033 54.5px,#017558 57.5px,#006189 60.5px,#004ea7 63.5px,#0039c3 66.5px,#0027d9 69.5px,#011fe0 72.5px,#0219e5 75.5px,#0216e8 78.5px,#0314ea 81.5px,#0312eb 84.5px,#0311ec 87.5px,#0311ec 90.5px,#0311ec 93.5px,#0311ec 96.5px,#0311ec 99.5px,#0311ed 102.5px,#0311ed 105.5px,#0311ed 108.5px)"></div><div style="top:62px;background:linear-gradient(90deg,#0313ea 0.5px,#0028d7 3.5px,#006a72 6.5px,#0c9928 9.5px,#48bb17 12.5px,#c2e20b 15.5px,#ffd700 18.5px,#ffa400 21.5px,#ff7b00 24.5px,#ff6400 27.5px,#ff6200 30.5px,#ff7000 33.5px,#ff8b00 36.5px,#ffb200 39.5px,#ffdd00 42.5px,#cae40a 45.5px,#66c415 48.5px,#21a91d 51.5px,#089033 54.5px,#017558 57.5px,#006188 60.5px,#004ea7 63.5px,#0039c3 66.5px,#0027d9 69.5px,#011fe0 72.5px,#0219e5 75.5px,#0216e8 78.5px,#0314ea 81.5px,#0312eb 84.5px,#0311ec 87.5px,#0311ec 90.5px,#0311ec 93.5px,#0311ec 96.5px,#0311ec 99.5px,#0311ed 102.5px,#0311ed 105.5px,#0311ed 108.5px)"></div><div style="top:63px;background:linear-gradient(90deg,#0313ea 0.5px,#0028d7 3.5px,#006a72 6.5px,#0d9928 9.5px,#48bb17 12.5px,#c2e20b 15.5px,#ffd700 18.5px,#ffa400 21.5px,#ff7a00 24.5px,#ff6400 27.5px,#ff6200 30.5px,#ff7000 33.5px,#ff8b00 36.5px,#ffb200 39.5px,#ffdd00 42.5px,#cae40a 45.5px,#66c415 48.5px,#21a91d 51.5px,#089033 54.5px,#017558 57.5px,#006188 60.5px,#004ea7 63.5px,#0039c3 66.5px,#0027d9 69.5px,#011fe0 72.5px,#0219e5 75.5px,#0216e8 78.5px,#0314ea 81.5px,#0312eb 84.5px,#0311ec 87.5px,#0311ec 90.5px,#0311ec 93.5px,#0311ec 96.5px,#0311ec 99.5px,#0311ed 102.5px,#0311ed 105.5px,#0311ed 108.5px)"></div><div style="top:64px;background:linear-gradient(90deg,#0313ea 0.5px,#0029d7 3.5px,#006a72 6.5px,#0d9928 9.5px,#49bb17 12.5px,#c3e20b 15.5px,#ffd700 18.5px,#ffa300 21.5px,#ff7a00 24.5px,#ff6300 27.5px,#ff6100 30.5px,#ff6f00 33.5px,#ff8b00 36.5px,#ffb200 39.5px,#ffdd00 42.5px,#cae409 45.5px,#67c415 48.5px,#22a91d 51.5px,#089033 54.5px,#017558 57.5px,#006188 60.5px,#004ea7 63.5px,#0039c3 66.5px,#0027d9 69.5px,#011fe0 72.5px,#0219e5 75.5px,#0216e8 78.5px,#0314ea 81.5px,#0312eb 84.5px,#0311ec 87.5px,#0311ec 90.5px,#0311ec 93.5px,#0311ec 96.5px,#0311ec 99.5px,#0311ed 102.5px,#0311ed 105.5px,#0311ed 108.5px)"></div><div style="top:65px;background:linear-gradient(90deg,#0313ea 0.5px,#0029d7 3.5px,#006a72 6.5px,#0d9928 9.5px,#49bb17 12.5px,#c3e20b 15.5px,#ffd600 18.5px,#ffa300 21.5px,#ff7a00 24.5px,#ff6300 27.5px,#ff6100 30.5px,#ff6f00 33.5px,#ff8b00 36.5px,#ffb100 39.5px,#ffdc00 42.5px,#cbe409 45.5px,#67c515 48.5px,#22a91d 51.5px,#089033 54.5px,#017558 57.5px,#006188 60.5px,#004ea7 63.5px,#0039c3 66.5px,#0027d9 69.5px,#011fe0 72.5px,#0219e5 75.5px,#0216e8 78.5px,#0314ea 81.5px,#0312eb 84.5px,#0311ec 87.5px,#0311ec 90.5px,#0311ec 93.5px,#0311ec 96.5px,#0311ec 99.5px,#0311ed 102.5px,#0311ed 105.5px,#0311ed 108.5px)"></div><div style="top:66px;background:linear-gradient(90deg,#0313ea 0.5px,#0029d7 3.5px,#006a72 6.5px,#0d9928 9.5px,#49bb17 12.5px,#c3e20b 15.5px,#ffd600 18.5px,#ffa300 21.5px,#ff7a00 24.5px,#ff6300 27.5px,#ff6100 30.5px,#ff6f00 33.5px,#ff8a00 36.5px,#ffb100 39.5px,#ffdc00 42.5px,#cbe409 45.5px,#67c515 48.5px,#22a91d 51.5px,#089033 54.5px,#017557 57.5px,#006188 60.5px,#004ea7 63.5px,#0039c3 66.5px,#0027d9 69.5px,#011fe0 72.5px,#0219e5 75.5px,#0216e8 78.5px,#0314ea 81.5px,#0312eb 84.5px,#0311ec 87.5px,#0311ec 90.5px,#0311ec 93.5px,#0311ec 96.5px,#0311ec 99.5px,#0311ed 102.5px,#0311ed 105.5px,#0311ed 108.5px)"></div><div style="top:67px;background:linear-gradient(90deg,#0313ea 0.5px,#0029d7 3.5px,#006a72 6.5px,#0d9928 9.5px,#49bb17 12.5px,#c4e20b 15.5px,#ffd600 18.5px,#ffa300 21.5px,#ff7900 24.5px,#ff6300 27.5px,#ff6000 30.5px,#ff6f00 33.5px,#ff8a00 36.5px,#ffb100 39.5px,#ffdc00 42.5px,#cbe509 45.5px,#67c515 48.5px,#22a91d 51.5px,#089033 54.5px,#017557 57.5px,#006188 60.5px,#004ea7 63.5px,#0039c3 66.5px,#0027d9 69.5px,#011fe0 72.5px,#0219e5 75.5px,#0216e8 78.5px,#0314ea 81.5px,#0312eb 84.5px,#0311ec 87.5px,#0311ec 90.5px,#0311ec 93.5px,#0311ec 96.5px,#0311ec 99.5px,#0311ed 102.5px,#0311ed 105.5px,#0311ed 108.5px)"></div><div style="top:68px;background:linear-gradient(90deg,#0313ea 0.5px,#0029d7 3.5px,#006a72 6.5px,#0d9928 9.5px,#49bb17 12.5px,#c4e20b 15.5px,#ffd600 18.5px,#ffa300 21.5px,#ff7900 24.5px,#ff6300 27.5px,#ff6000 30.5px,#ff6e00 33.5px,#ff8a00 36.5px,#ffb100 39.5px,#ffdc00 42.5px,#cbe509 45.5px,#68c515 48.5px,#22a91d 51.5px,#089033 54.5px,#017557 57.5px,#006188 60.5px,#004ea7 63.5px,#0039c3 66.5px,#0027d9 69.5px,#011fe0 72.5px,#0219e5 75.5px,#0216e8 78.5px,#0314ea 81.5px,#0312eb 84.5px,#0311ec 87.5px,#0311ec 90.5px,#0311ec 93.5px,#0311ec 96.5px,#0311ec 99.5px,#0311ed 102.5px,#0311ed 105.5px,#0311ed 108.5px)"></div><div style="top:69px;background:linear-gradient(90deg,#0313ea 0.5px,#0028d7 3.5px,#006a72 6.5px,#0d9928 9.5px,#48bb17 12.5px,#c2e20b 15.5px,#ffd700 18.5px,#ffa400 21.5px,#ff7a00 24.5px,#ff6400 27.5px,#ff6100 30.5px,#ff7000 33.5px,#ff8b00 36.5px,#ffb200 39.5px,#ffdd00 42.5px,#cae409 45.5px,#66c415 48.5px,#21a91d 51.5px,#089033 54.5px,#017558 57.5px,#006188 60.5px,#004ea7 63.5px,#0039c3 66.5px,#0027d9 69.5px,#011fe0 72.5px,#0219e5 75.5px,#0216e8 78.5px,#0314ea 81.5px,#0312eb 84.5px,#0311ec 87.5px,#0311ec 90.5px,#0311ec 93.5px,#0311ec 96.5px,#0311ec 99.5px,#0311ed 102.5px,#0311ed 105.5px,#0311ed 108.5px)"></div><div style="top:70px;background:linear-gradient(90deg,#0313ea 0.5px,#0028d8 3.5px,#006a73 6.5px,#0c9929 9.5px,#46ba18 12.5px,#c0e10c 15.5px,#ffd800 18.5px,#ffa500 21.5px,#ff7c00 24.5px,#ff6600 27.5px,#ff6400 30.5px,#ff7200 33.5px,#ff8d00 36.5px,#ffb300 39.5px,#ffde00 42.5px,#c8e30a 45.5px,#64c415 48.5px,#20a81d 51.5px,#089033 54.5px,#017558 57.5px,#006189 60.5px,#004ea7 63.5px,#0039c3 66.5px,#0027d9 69.5px,#011fe0 72.5px,#0219e5 75.5px,#0216e8 78.5px,#0314ea 81.5px,#0312eb 84.5px,#0311ec 87.5px,#0311ec 90.5px,#0311ec 93.5px,#0311ec 96.5px,#0311ec 99.5px,#0311ed 102.5px,#0311ed 105.5px,#0311ed 108.5px)"></div><div style="top:71px;background:linear-gradient(90deg,#0313ea 0.5px,#0028d8 3.5px,#006a74 6.5px,#0c9829 9.5px,#44b918 12.5px,#bde00d 15.5px,#ffda00 18.5px,#ffa700 21.5px,#ff7f00 24.5px,#ff6800 27.5px,#ff6600 30.5px,#ff7400 33.5px,#ff8f00 36.5px,#ffb500 39.5px,#ffe000 42.5px,#c5e20b 45.5px,#62c316 48.5px,#1fa81d 51.5px,#088f34 54.5px,#017459 57.5px,#006189 60.5px,#004da8 63.5px,#0038c4 66.5px,#0027d9 69.5px,#011fe0 72.5px,#0219e5 75.5px,#0216e8 78.5px,#0313ea 81.5px,#0312eb 84.5px,#0311ec 87.5px,#0311ec 90.5px,#0311ec 93.5px,#0311ec 96.5px,#0311ec 99.5px,#0311ed 102.5px,#0311ed 105.5px,#0311ed 108.5px)"></div><div style="top:72px;background:linear-gradient(90deg,#0313ea 0.5px,#0028d8 3.5px,#006975 6.5px,#0c982a 9.5px,#42b918 12.5px,#badf0d 15.5px,#ffdb00 18.5px,#ffaa00 21.5px,#ff8100 24.5px,#ff6b00 27.5px,#ff6900 30.5px,#ff7600 33.5px,#ff9200 36.5px,#ffb700 39.5px,#ffe100 42.5px,#c2e20c 45.5px,#5fc216 48.5px,#1ea71e 51.5px,#078f35 54.5px,#007459 57.5px,#00608a 60.5px,#004da8 63.5px,#0038c4 66.5px,#0027d9 69.5px,#011fe0 72.5px,#0219e5 75.5px,#0216e8 78.5px,#0313ea 81.5px,#0312eb 84.5px,#0311ec 87.5px,#0311ec 90.5px,#0311ec 93.5px,#0311ec 96.5px,#0311ec 99.5px,#0311ed 102.5px,#0311ed 105.5px,#0311ed 108.5px)"></div><div style="top:73px;background:linear-gradient(90deg,#0313ea 0.5px,#0028d8 3.5px,#006976 6.5px,#0c972b 9.5px,#40b818 12.5px,#b8de0e 15.5px,#ffdd00 18.5px,#ffac00 21.5px,#ff8300 24.5px,#ff6d00 27.5px,#ff6b00 30.5px,#ff7900 33.5px,#ff9400 36.5px,#ffb900 39.5px,#ffe300 42.5px,#bfe10c 45.5px,#5dc116 48.5px,#1da71e 51.5px,#078e35 54.5px,#00735a 57.5px,#00608a 60.5px,#004da8 63.5px,#0038c4 66.5px,#0027d9 69.5px,#011fe0 72.5px,#0219e5 75.5px,#0216e8 78.5px,#0313ea 81.5px,#0312eb 84.5px,#0311ec 87.5px,#0311ec 90.5px,#0311ec 93.5px,#0311ec 96.5px,#0311ec 99.5px,#0311ed 102.5px,#0311ed 105.5px,#0311ed 108.5px)"></div><div style="top:74px;background:linear-gradient(90deg,#0313ea 0.5px,#0028d8 3.5px,#006976 6.5px,#0b972b 9.5px,#3eb718 12.5px,#b5dd0f 15.5px,#ffdf00 18.5px,#ffae00 21.5px,#ff8600 24.5px,#ff6f00 27.5px,#ff6d00 30.5px,#ff7b00 33.5px,#ff9600 36.5px,#ffbb00 39.5px,#fee400 42.5px,#bce00d 45.5px,#5ac016 48.5px,#1ca61e 51.5px,#078e36 54.5px,#00735b 57.5px,#00608b 60.5px,#004da9 63.5px,#0038c5 66.5px,#0027d9 69.5px,#011fe0 72.5px,#0219e5 75.5px,#0216e8 78.5px,#0313ea 81.5px,#0312eb 84.5px,#0311ec 87.5px,#0311ec 90.5px,#0311ec 93.5px,#0311ec 96.5px,#0311ec 99.5px,#0311ed 102.5px,#0311ed 105.5px,#0311ed 108.5px)"></div><div style="top:75px;background:linear-gradient(90deg,#0313ea 0.5px,#0028d8 3.5px,#006877 6.5px,#0b962c 9.5px,#3db718 12.5px,#b2dd10 15.5px,#ffe000 18.5px,#ffb000 21.5px,#ff8800 24.5px,#ff7200 27.5px,#ff7000 30.5px,#ff7d00 33.5px,#ff9800 36.5px,#ffbd00 39.5px,#fde500 42.5px,#b9df0e 45.5px,#58c016 48.5px,#1ba61e 51.5px,#078e36 54.5px,#00735b 57.5px,#005f8c 60.5px,#004ca9 63.5px,#0037c5 66.5px,#0027d9 69.5px,#011ee0 72.5px,#0219e5 75.5px,#0216e8 78.5px,#0313ea 81.5px,#0312eb 84.5px,#0311ec 87.5px,#0311ec 90.5px,#0311ec 93.5px,#0311ec 96.5px,#0311ec 99.5px,#0311ed 102.5px,#0311ed 105.5px,#0311ed 108.5px)"></div><div style="top:76px;background:linear-gradient(90deg,#0313ea 0.5px,#0027d8 3.5px,#006878 6.5px,#0b962c 9.5px,#3cb619 12.5px,#afdc10 15.5px,#ffe200 18.5px,#ffb200 21.5px,#ff8a00 24.5px,#ff7400 27.5px,#ff7200 30.5px,#ff8000 33.5px,#ff9a00 36.5px,#ffbf00 39.5px,#fce600 42.5px,#b6de0e 45.5px,#55bf16 48.5px,#1aa51e 51.5px,#078d37 54.5px,#00725c 57.5px,#005f8c 60.5px,#004caa 63.5px,#0037c5 66.5px,#0026d9 69.5px,#011ee0 72.5px,#0219e5 75.5px,#0216e8 78.5px,#0313ea 81.5px,#0312eb 84.5px,#0311ec 87.5px,#0311ec 90.5px,#0311ec 93.5px,#0311ec 96.5px,#0311ec 99.5px,#0311ed 102.5px,#0311ed 105.5px,#0311ed 108.5px)"></div><div style="top:77px;background:linear-gradient(90deg,#0313ea 0.5px,#0027d9 3.5px,#006879 6.5px,#0b952d 9.5px,#3bb519 12.5px,#acdb10 15.5px,#ffe400 18.5px,#ffb400 21.5px,#ff8d00 24.5px,#ff7700 27.5px,#ff7500 30.5px,#ff8200 33.5px,#ff9d00 36.5px,#ffc000 39.5px,#fbe700 42.5px,#b4dd0f 45.5px,#53be17 48.5px,#19a51e 51.5px,#068d37 54.5px,#00725d 57.5px,#005f8d 60.5px,#004caa 63.5px,#0037c6 66.5px,#0026d9 69.5px,#011ee0 72.5px,#0219e5 75.5px,#0216e8 78.5px,#0313ea 81.5px,#0312eb 84.5px,#0311ec 87.5px,#0311ec 90.5px,#0311ec 93.5px,#0311ec 96.5px,#0311ec 99.5px,#0311ed 102.5px,#0311ed 105.5px,#0311ed 108.5px)"></div><div style="top:78px;background:linear-gradient(90deg,#0313ea 0.5px,#0027d9 3.5px,#00687a 6.5px,#0a952e 9.5px,#39b519 12.5px,#a9da10 15.5px,#fee500 18.5px,#ffb600 21.5px,#ff8f00 24.5px,#ff7900 27.5px,#ff7700 30.5px,#ff8400 33.5px,#ff9f00 36.5px,#ffc200 39.5px,#fae800 42.5px,#b1dc10 45.5px,#51bd17 48.5px,#18a41f 51.5px,#068c38 54.5px,#00715e 57.5px,#005e8d 60.5px,#004caa 63.5px,#0036c6 66.5px,#0026da 69.5px,#011ee1 72.5px,#0219e5 75.5px,#0215e8 78.5px,#0313ea 81.5px,#0312eb 84.5px,#0311ec 87.5px,#0311ec 90.5px,#0311ec 93.5px,#0311ec 96.5px,#0311ec 99.5px,#0311ed 102.5px,#0311ed 105.5px,#0311ed 108.5px)"></div><div style="top:79px;background:linear-gradient(90deg,#0313ea 0.5px,#0027d9 3.5px,#00677b 6.5px,#0a942e 9.5px,#38b419 12.5px,#a6d911 15.5px,#fde600 18.5px,#ffb800 21.5px,#ff9100 24.5px,#ff7c00 27.5px,#ff7a00 30.5px,#ff8700 33.5px,#ffa100 36.5px,#ffc400 39.5px,#f9e900 42.5px,#aedb10 45.5px,#4ebd17 48.5px,#17a41f 51.5px,#068c38 54.5px,#00715f 57.5px,#005e8e 60.5px,#004bab 63.5px,#0036c6 66.5px,#0026da 69.5px,#011ee1 72.5px,#0219e5 75.5px,#0215e8 78.5px,#0313ea 81.5px,#0312eb 84.5px,#0311ec 87.5px,#0311ec 90.5px,#0311ec 93.5px,#0311ec 96.5px,#0311ec 99.5px,#0311ec 102.5px,#0311ec 105.5px,#0311ec 108.5px)"></div><div style="top:80px;background:linear-gradient(90deg,#0313ea 0.5px,#0027d9 3.5px,#00677c 6.5px,#0a932f 9.5px,#36b31a 12.5px,#a1d711 15.5px,#fbe700 18.5px,#ffbb00 21.5px,#ff9500 24.5px,#ff8000 27.5px,#ff7e00 30.5px,#ff8b00 33.5px,#ffa500 36.5px,#ffc700 39.5px,#f7eb00 42.5px,#a9da11 45.5px,#4abb17 48.5px,#15a31f 51.5px,#068b3a 54.5px,#007060 57.5px,#005d8f 60.5px,#004bab 63.5px,#0036c7 66.5px,#0026da 69.5px,#011ee1 72.5px,#0219e5 75.5px,#0215e8 78.5px,#0313ea 81.5px,#0312eb 84.5px,#0311ec 87.5px,#0311ec 90.5px,#0311ec 93.5px,#0311ec 96.5px,#0311ec 99.5px,#0311ec 102.5px,#0311ec 105.5px,#0311ec 108.5px)"></div><div style="top:81px;background:linear-gradient(90deg,#0313ea 0.5px,#0026d9 3.5px,#006580 6.5px,#099132 9.5px,#31b01b 12.5px,#94d312 15.5px,#f6ec00 18.5px,#ffc300 21.5px,#ff9f00 24.5px,#ff8a00 27.5px,#ff8800 30.5px,#ff9500 33.5px,#ffae00 36.5px,#ffcf00 39.5px,#f2ef00 42.5px,#9cd511 45.5px,#40b818 48.5px,#11a020 51.5px,#05883d 54.5px,#006f65 57.5px,#005c91 60.5px,#004aad 63.5px,#0035c8 66.5px,#0025da 69.5px,#011ee1 72.5px,#0219e5 75.5px,#0215e8 78.5px,#0313ea 81.5px,#0312eb 84.5px,#0312ec 87.5px,#0311ec 90.5px,#0311ec 93.5px,#0311ec 96.5px,#0311ec 99.5px,#0311ec 102.5px,#0311ec 105.5px,#0311ec 108.5px)"></div><div style="top:82px;background:linear-gradient(90deg,#0313ea 0.5px,#0026da 3.5px,#006484 6.5px,#078f35 9.5px,#2bad1c 12.5px,#86ce13 15.5px,#eff000 18.5px,#ffcd00 21.5px,#ffaa00 24.5px,#ff9600 27.5px,#ff9400 30.5px,#ffa100 33.5px,#ffb900 36.5px,#ffd900 39.5px,#e4ec03 42.5px,#8dd113 45.5px,#39b519 48.5px,#0f9d23 51.5px,#048541 54.5px,#006d6a 57.5px,#005a94 60.5px,#0049af 63.5px,#0033ca 66.5px,#0025db 69.5px,#011de1 72.5px,#0218e6 75.5px,#0215e8 78.5px,#0314ea 81.5px,#0313ea 84.5px,#0313eb 87.5px,#0312eb 90.5px,#0312eb 93.5px,#0312eb 96.5px,#0312eb 99.5px,#0312eb 102.5px,#0312ec 105.5px,#0312ec 108.5px)"></div><div style="top:83px;background:linear-gradient(90deg,#0313ea 0.5px,#0025db 3.5px,#006287 6.5px,#068c38 9.5px,#24aa1d 12.5px,#77ca14 15.5px,#deea05 18.5px,#ffd600 21.5px,#ffb500 24.5px,#ffa200 27.5px,#ffa000 30.5px,#ffac00 33.5px,#ffc300 36.5px,#ffe200 39.5px,#d3e707 42.5px,#7ecc14 45.5px,#32b11a 48.5px,#0d9b27 51.5px,#048245 54.5px,#006b6f 57.5px,#005896 60.5px,#0047b1 63.5px,#0032cc 66.5px,#0024db 69.5px,#011de2 72.5px,#0219e5 75.5px,#0216e7 78.5px,#0216e8 81.5px,#0215e8 84.5px,#0215e9 87.5px,#0215e9 90.5px,#0214e9 93.5px,#0214e9 96.5px,#0314ea 99.5px,#0313ea 102.5px,#0313ea 105.5px,#0313eb 108.5px)"></div><div style="top:84px;background:linear-gradient(90deg,#0313eb 0.5px,#0024db 3.5px,#00608b 6.5px,#05893d 9.5px,#1ea71e 12.5px,#67c415 15.5px,#cbe409 18.5px,#ffe100 21.5px,#ffc100 24.5px,#ffaf00 27.5px,#ffae00 30.5px,#ffb900 33.5px,#ffce00 36.5px,#f9e900 39.5px,#c0e10c 42.5px,#6dc715 45.5px,#2bae1b 48.5px,#0c972a 51.5px,#037f4a 54.5px,#006a74 57.5px,#005799 60.5px,#0045b4 63.5px,#0030ce 66.5px,#0024db 69.5px,#011ee0 72.5px,#011ce2 75.5px,#021be3 78.5px,#021be4 81.5px,#021ae4 84.5px,#0219e5 87.5px,#0219e5 90.5px,#0218e6 93.5px,#0217e7 96.5px,#0217e7 99.5px,#0216e8 102.5px,#0215e8 105.5px,#0215e9 108.5px)"></div><div style="top:85px;background:linear-gradient(90deg,#0313eb 0.5px,#0123dc 3.5px,#005d90 6.5px,#048444 9.5px,#14a21f 12.5px,#4fbd17 15.5px,#afdc10 18.5px,#f6eb00 21.5px,#ffd200 24.5px,#ffc100 27.5px,#ffc000 30.5px,#ffca00 33.5px,#ffdf00 36.5px,#ebef01 39.5px,#a5d811 42.5px,#55bf16 45.5px,#21a81d 48.5px,#099330 51.5px,#027a50 54.5px,#00677c 57.5px,#00549d 60.5px,#0043b6 63.5px,#0032cb 66.5px,#002ad5 69.5px,#0027d9 72.5px,#0025da 75.5px,#0024db 78.5px,#0123dc 81.5px,#0122dd 84.5px,#0121df 87.5px,#011fe0 90.5px,#011ee1 93.5px,#011de2 96.5px,#021ce3 99.5px,#021ae4 102.5px,#0219e5 105.5px,#0218e6 108.5px)"></div><div style="top:86px;background:linear-gradient(90deg,#0313eb 0.5px,#0122dd 3.5px,#005897 6.5px,#027c4e 9.5px,#0d9a27 12.5px,#36b31a 15.5px,#87cf13 18.5px,#d4e707 21.5px,#fae800 24.5px,#ffdb00 27.5px,#ffd900 30.5px,#ffe300 33.5px,#f2ee00 36.5px,#c0e10c 39.5px,#7dcc14 42.5px,#39b519 45.5px,#12a120 48.5px,#068c38 51.5px,#007459 54.5px,#006286 57.5px,#00539f 60.5px,#0049ae 63.5px,#0044b5 66.5px,#0040bb 69.5px,#003cbf 72.5px,#0038c4 75.5px,#0035c8 78.5px,#0032cb 81.5px,#002fcf 84.5px,#002cd3 87.5px,#0029d7 90.5px,#0027d9 93.5px,#0025db 96.5px,#0123dd 99.5px,#0120df 102.5px,#011ee0 105.5px,#011de2 108.5px)"></div><div style="top:87px;background:linear-gradient(90deg,#0312eb 0.5px,#0121df 3.5px,#00539e 6.5px,#017558 9.5px,#099231 12.5px,#23aa1d 15.5px,#5cc116 18.5px,#a4d811 21.5px,#d9e906 24.5px,#f2ee00 27.5px,#f3ed00 30.5px,#e7ed02 33.5px,#c4e20b 36.5px,#91d212 39.5px,#53be17 42.5px,#26ab1c 45.5px,#0c9829 48.5px,#048344 51.5px,#006f64 54.5px,#006288 57.5px,#005c90 60.5px,#005a94 63.5px,#005798 66.5px,#00549d 69.5px,#0051a2 72.5px,#004ea7 75.5px,#004bab 78.5px,#0048b0 81.5px,#0044b5 84.5px,#0040ba 87.5px,#003bc0 90.5px,#0037c6 93.5px,#0032cb 96.5px,#002dd1 99.5px,#0028d7 102.5px,#0025da 105.5px,#0123dc 108.5px)"></div><div style="top:88px;background:linear-gradient(90deg,#0312eb 0.5px,#0120df 3.5px,#004fa6 6.5px,#006e68 9.5px,#05893c 12.5px,#10a020 15.5px,#38b419 18.5px,#72c814 21.5px,#a4d811 24.5px,#bfe10c 27.5px,#c2e20c 30.5px,#b1dc10 33.5px,#90d212 36.5px,#61c316 39.5px,#34b21a 42.5px,#13a120 45.5px,#088f34 48.5px,#027d4d 51.5px,#00725c 54.5px,#006e66 57.5px,#006d6b 60.5px,#006b6f 63.5px,#006975 66.5px,#00667e 69.5px,#006287 72.5px,#005e8e 75.5px,#005a94 78.5px,#005799 81.5px,#00539f 84.5px,#0050a4 87.5px,#004caa 90.5px,#0048af 93.5px,#0043b7 96.5px,#003cbf 99.5px,#0035c7 102.5px,#002fcf 105.5px,#002bd4 108.5px)"></div><div style="top:89px;background:linear-gradient(90deg,#0312eb 0.5px,#0121df 3.5px,#004aae 6.5px,#00677b 9.5px,#037e4c 12.5px,#0a952d 15.5px,#1fa71e 18.5px,#3eb718 21.5px,#69c515 24.5px,#82cd13 27.5px,#84ce13 30.5px,#75c914 33.5px,#57bf16 36.5px,#36b31a 39.5px,#1ba61e 42.5px,#0b972b 45.5px,#05883d 48.5px,#048246 51.5px,#038147 54.5px,#037f4a 57.5px,#037d4c 60.5px,#027b4f 63.5px,#017854 66.5px,#00735b 69.5px,#006e66 72.5px,#006a72 75.5px,#00677c 78.5px,#006485 81.5px,#005f8c 84.5px,#005b93 87.5px,#005699 90.5px,#0052a0 93.5px,#004ea7 96.5px,#0049af 99.5px,#0041b9 102.5px,#0039c2 105.5px,#0034c9 108.5px)"></div><div style="top:90px;background:linear-gradient(90deg,#0312eb 0.5px,#0122dd 3.5px,#0041b9 6.5px,#005d90 9.5px,#007063 12.5px,#048442 15.5px,#0b972b 18.5px,#19a51e 21.5px,#2daf1b 24.5px,#38b419 27.5px,#39b519 30.5px,#32b11a 33.5px,#25aa1d 36.5px,#12a120 39.5px,#0b972b 42.5px,#078d36 45.5px,#068b39 48.5px,#068c38 51.5px,#078d37 54.5px,#068b39 57.5px,#05893c 60.5px,#05873f 63.5px,#048345 66.5px,#037d4d 69.5px,#017755 72.5px,#00725d 75.5px,#006e68 78.5px,#006a72 81.5px,#00667d 84.5px,#006287 87.5px,#005d8e 90.5px,#005896 93.5px,#00539e 96.5px,#004ea6 99.5px,#0049af 102.5px,#0040ba 105.5px,#003bc1 108.5px)"></div><div style="top:91px;background:linear-gradient(90deg,#0312eb 0.5px,#0123dd 3.5px,#003bc0 6.5px,#0051a2 9.5px,#006288 12.5px,#007062 15.5px,#038048 18.5px,#078e35 21.5px,#0c972b 24.5px,#0e9c25 27.5px,#0e9c24 30.5px,#0d9928 33.5px,#0a942e 36.5px,#078e35 39.5px,#068c38 42.5px,#068c38 45.5px,#078d37 48.5px,#078e35 51.5px,#089034 54.5px,#078e36 57.5px,#068c38 60.5px,#058a3b 63.5px,#058641 66.5px,#038049 69.5px,#027a51 72.5px,#007459 75.5px,#007063 78.5px,#006c6e 81.5px,#006879 84.5px,#006484 87.5px,#005f8c 90.5px,#005a94 93.5px,#00559c 96.5px,#004fa4 99.5px,#004aad 102.5px,#0042b8 105.5px,#003cbf 108.5px)"></div><div style="top:92px;background:linear-gradient(90deg,#0312eb 0.5px,#0121de 3.5px,#0037c6 6.5px,#0048b0 9.5px,#0051a1 12.5px,#005e8d 15.5px,#006975 18.5px,#00725c 21.5px,#027a50 24.5px,#037f4a 27.5px,#038049 30.5px,#037e4b 33.5px,#037e4b 36.5px,#048147 39.5px,#048344 42.5px,#048542 45.5px,#05873f 48.5px,#05883d 51.5px,#058a3b 54.5px,#05883e 57.5px,#048541 60.5px,#048344 63.5px,#037f49 66.5px,#027a51 69.5px,#017459 72.5px,#006f63 75.5px,#006c6e 78.5px,#006878 81.5px,#006582 84.5px,#00608a 87.5px,#005b92 90.5px,#005699 93.5px,#0052a1 96.5px,#004ca9 99.5px,#0046b2 102.5px,#003ebc 105.5px,#0039c3 108.5px)"></div><div style="top:93px;background:linear-gradient(90deg,#0312eb 0.5px,#011fe0 3.5px,#002fcf 6.5px,#003dbe 9.5px,#0047b1 12.5px,#004ea7 15.5px,#00569a 18.5px,#005f8d 21.5px,#006582 24.5px,#00677a 27.5px,#006976 30.5px,#006c6e 33.5px,#006f65 36.5px,#00735a 39.5px,#017558 42.5px,#017756 45.5px,#017854 48.5px,#027a52 51.5px,#027b50 54.5px,#027952 57.5px,#017755 60.5px,#017558 63.5px,#00725c 66.5px,#006e67 69.5px,#006a72 72.5px,#00667d 75.5px,#006386 78.5px,#005f8c 81.5px,#005b92 84.5px,#005799 87.5px,#00539f 90.5px,#004fa6 93.5px,#004bac 96.5px,#0045b4 99.5px,#003dbe 102.5px,#0036c7 105.5px,#0031cd 108.5px)"></div><div style="top:94px;background:linear-gradient(90deg,#0311ec 0.5px,#021ce3 3.5px,#0027d9 6.5px,#0031cd 9.5px,#0038c4 12.5px,#0040bb 15.5px,#004aad 18.5px,#0050a3 21.5px,#00559b 24.5px,#005897 27.5px,#005996 30.5px,#005c90 33.5px,#00608a 36.5px,#006483 39.5px,#00667f 42.5px,#00677c 45.5px,#00687a 48.5px,#006877 51.5px,#006975 54.5px,#006879 57.5px,#00677c 60.5px,#00667f 63.5px,#006485 66.5px,#00608b 69.5px,#005c91 72.5px,#005897 75.5px,#00549d 78.5px,#0051a2 81.5px,#004ea7 84.5px,#004bac 87.5px,#0047b1 90.5px,#0042b8 93.5px,#003cbe 96.5px,#0037c6 99.5px,#0030cd 102.5px,#002bd4 105.5px,#0027d8 108.5px)"></div><div style="top:95px;background:linear-gradient(90deg,#0311ec 0.5px,#0219e6 3.5px,#0120df 6.5px,#0025da 9.5px,#0029d7 12.5px,#0030ce 15.5px,#0039c3 18.5px,#0041b8 21.5px,#0048b1 24.5px,#004aad 27.5px,#004aad 30.5px,#004bab 33.5px,#004ea7 36.5px,#0051a2 39.5px,#0052a0 42.5px,#00539f 45.5px,#00549e 48.5px,#00559c 51.5px,#00559b 54.5px,#00549d 57.5px,#00539f 60.5px,#0052a0 63.5px,#0050a3 66.5px,#004da8 69.5px,#004aac 72.5px,#0047b1 75.5px,#0043b6 78.5px,#0040bb 81.5px,#003cbf 84.5px,#0038c4 87.5px,#0034c9 90.5px,#0030ce 93.5px,#002cd3 96.5px,#0028d8 99.5px,#0025da 102.5px,#0123dd 105.5px,#0121de 108.5px)"></div><div style="top:96px;background:linear-gradient(90deg,#0311ec 0.5px,#0216e8 3.5px,#021be4 6.5px,#011ee1 9.5px,#0120df 12.5px,#0123dc 15.5px,#0027d8 18.5px,#002cd2 21.5px,#0031cd 24.5px,#0033ca 27.5px,#0033ca 30.5px,#0034ca 33.5px,#0037c6 36.5px,#003ac2 39.5px,#003bc0 42.5px,#003cbf 45.5px,#003dbd 48.5px,#003ebc 51.5px,#003fbb 54.5px,#003ebd 57.5px,#003cbe 60.5px,#003bc0 63.5px,#0039c3 66.5px,#0036c6 69.5px,#0033ca 72.5px,#0030ce 75.5px,#002dd1 78.5px,#002bd5 81.5px,#0028d8 84.5px,#0026d9 87.5px,#0025db 90.5px,#0123dc 93.5px,#0122de 96.5px,#0120df 99.5px,#011ee1 102.5px,#011ce2 105.5px,#021be3 108.5px)"></div><div style="top:97px;background:linear-gradient(90deg,#0311ec 0.5px,#0314ea 3.5px,#0216e7 6.5px,#0218e6 9.5px,#021ae4 12.5px,#021be3 15.5px,#011de2 18.5px,#011fe0 21.5px,#0120df 24.5px,#0121de 27.5px,#0122dd 30.5px,#0123dc 33.5px,#0024db 36.5px,#0025da 39.5px,#0026da 42.5px,#0026d9 45.5px,#0027d9 48.5px,#0027d9 51.5px,#0027d9 54.5px,#0027d9 57.5px,#0026d9 60.5px,#0026da 63.5px,#0025db 66.5px,#0124dc 69.5px,#0123dd 72.5px,#0121de 75.5px,#0120df 78.5px,#011fe0 81.5px,#011ee0 84.5px,#011de1 87.5px,#011ce2 90.5px,#021be3 93.5px,#021be4 96.5px,#0219e5 99.5px,#0218e6 102.5px,#0217e7 105.5px,#0217e7 108.5px)"></div><div style="top:98px;background:linear-gradient(90deg,#0311ec 0.5px,#0312eb 3.5px,#0314ea 6.5px,#0215e9 9.5px,#0216e8 12.5px,#0217e7 15.5px,#0218e6 18.5px,#021ae5 21.5px,#021ae4 24.5px,#021be3 27.5px,#021be3 30.5px,#021be3 33.5px,#021ce3 36.5px,#011ce2 39.5px,#011ce2 42.5px,#011ce2 45.5px,#011ce2 48.5px,#011de2 51.5px,#011de2 54.5px,#011ce2 57.5px,#011ce2 60.5px,#021ce3 63.5px,#021ce3 66.5px,#021be3 69.5px,#021ae4 72.5px,#021ae5 75.5px,#0219e5 78.5px,#0219e6 81.5px,#0218e6 84.5px,#0217e6 87.5px,#0217e7 90.5px,#0216e7 93.5px,#0216e8 96.5px,#0215e8 99.5px,#0215e9 102.5px,#0214e9 105.5px,#0314ea 108.5px)"></div><div style="top:99px;background:linear-gradient(90deg,#0311ec 0.5px,#0311ec 3.5px,#0312eb 6.5px,#0314ea 9.5px,#0215e9 12.5px,#0216e8 15.5px,#0217e7 18.5px,#0218e6 21.5px,#0219e5 24.5px,#0219e5 27.5px,#0219e5 30.5px,#0219e5 33.5px,#0219e5 36.5px,#0218e6 39.5px,#0218e6 42.5px,#0217e7 45.5px,#0217e7 48.5px,#0217e7 51.5px,#0217e7 54.5px,#0216e7 57.5px,#0216e8 60.5px,#0216e8 63.5px,#0216e8 66.5px,#0216e8 69.5px,#0215e8 72.5px,#0215e9 75.5px,#0215e9 78.5px,#0214e9 81.5px,#0214e9 84.5px,#0314ea 87.5px,#0314ea 90.5px,#0313ea 93.5px,#0313ea 96.5px,#0313ea 99.5px,#0313eb 102.5px,#0312eb 105.5px,#0312eb 108.5px)"></div><div style="top:100px;background:linear-gradient(90deg,#0311ec 0.5px,#0311ec 3.5px,#0312eb 6.5px,#0313ea 9.5px,#0214e9 12.5px,#0215e8 15.5px,#0216e7 18.5px,#0217e7 21.5px,#0218e6 24.5px,#0218e6 27.5px,#0218e6 30.5px,#0218e6 33.5px,#0218e6 36.5px,#0217e7 39.5px,#0216e8 42.5px,#0215e8 45.5px,#0215e9 48.5px,#0214e9 51.5px,#0313ea 54.5px,#0313ea 57.5px,#0313ea 60.5px,#0313ea 63.5px,#0313ea 66.5px,#0313eb 69.5px,#0313eb 72.5px,#0312eb 75.5px,#0312eb 78.5px,#0312eb 81.5px,#0312eb 84.5px,#0312eb 87.5px,#0312eb 90.5px,#0312eb 93.5px,#0312ec 96.5px,#0312ec 99.5px,#0311ec 102.5px,#0311ec 105.5px,#0311ec 108.5px)"></div><div style="top:101px;background:linear-gradient(90deg,#0311ec 0.5px,#0311ec 3.5px,#0312eb 6.5px,#0313ea 9.5px,#0314ea 12.5px,#0215e9 15.5px,#0216e8 18.5px,#0216e7 21.5px,#0217e7 24.5px,#0217e7 27.5px,#0217e7 30.5px,#0217e7 33.5px,#0217e7 36.5px,#0216e8 39.5px,#0215e8 42.5px,#0215e9 45.5px,#0314ea 48.5px,#0313ea 51.5px,#0313eb 54.5px,#0312eb 57.5px,#0312eb 60.5px,#0312ec 63.5px,#0312ec 66.5px,#0311ec 69.5px,#0311ec 72.5px,#0311ec 75.5px,#0311ec 78.5px,#0311ec 81.5px,#0311ec 84.5px,#0311ec 87.5px,#0311ec 90.5px,#0311ec 93.5px,#0311ec 96.5px,#0311ec 99.5px,#0311ec 102.5px,#0311ec 105.5px,#0311ec 108.5px)"></div><div style="top:102px;background:linear-gradient(90deg,#0311ed 0.5px,#0311ec 3.5px,#0312ec 6.5px,#0313eb 9.5px,#0313ea 12.5px,#0214e9 15.5px,#0215e9 18.5px,#0215e8 21.5px,#0216e8 24.5px,#0216e8 27.5px,#0216e8 30.5px,#0216e8 33.5px,#0216e8 36.5px,#0215e8 39.5px,#0215e9 42.5px,#0214e9 45.5px,#0313ea 48.5px,#0313eb 51.5px,#0312eb 54.5px,#0312eb 57.5px,#0311ec 60.5px,#0311ec 63.5px,#0311ec 66.5px,#0311ec 69.5px,#0311ec 72.5px,#0311ec 75.5px,#0311ec 78.5px,#0311ec 81.5px,#0311ec 84.5px,#0311ec 87.5px,#0311ec 90.5px,#0311ec 93.5px,#0311ec 96.5px,#0311ec 99.5px,#0311ec 102.5px,#0311ec 105.5px,#0311ec 108.5px)"></div><div style="top:103px;background:linear-gradient(90deg,#0311ed 0.5px,#0311ec 3.5px,#0311ec 6.5px,#0312eb 9.5px,#0313eb 12.5px,#0313ea 15.5px,#0214e9 18.5px,#0215e9 21.5px,#0215e9 24.5px,#0215e8 27.5px,#0215e8 30.5px,#0215e9 33.5px,#0215e9 36.5px,#0214e9 39.5px,#0314ea 42.5px,#0313ea 45.5px,#0313ea 48.5px,#0312eb 51.5px,#0312eb 54.5px,#0312ec 57.5px,#0311ec 60.5px,#0311ec 63.5px,#0311ec 66.5px,#0311ec 69.5px,#0311ec 72.5px,#0311ec 75.5px,#0311ec 78.5px,#0311ec 81.5px,#0311ec 84.5px,#0311ec 87.5px,#0311ec 90.5px,#0311ec 93.5px,#0311ec 96.5px,#0311ec 99.5px,#0311ec 102.5px,#0311ec 105.5px,#0311ed 108.5px)"></div></div><div class="hm" style="left:24px;top:161px;width:109px;height:104px"><div style="top:0px;background:linear-gradient(90deg,#0314ea 0.5px,#0314ea 3.5px,#0314ea 6.5px,#0314ea 9.5px,#0314ea 12.5px,#0313ea 15.5px,#0313ea 18.5px,#0313ea 21.5px,#0313ea 24.5px,#0313ea 27.5px,#0313ea 30.5px,#0313ea 33.5px,#0313ea 36.5px,#0313ea 39.5px,#0313ea 42.5px,#0313ea 45.5px,#0313ea 48.5px,#0313ea 51.5px,#0313ea 54.5px,#0313ea 57.5px,#0313ea 60.5px,#0313ea 63.5px,#0313ea 66.5px,#0313ea 69.5px,#0313ea 72.5px,#0313ea 75.5px,#0313ea 78.5px,#0313ea 81.5px,#0313ea 84.5px,#0313ea 87.5px,#0313ea 90.5px,#0313ea 93.5px,#0313ea 96.5px,#0313ea 99.5px,#0313ea 102.5px,#0313ea 105.5px,#0313ea 108.5px)"></div><div style="top:1px;background:linear-gradient(90deg,#0215e9 0.5px,#0215e9 3.5px,#0215e9 6.5px,#0215e9 9.5px,#0214e9 12.5px,#0314ea 15.5px,#0314ea 18.5px,#0314ea 21.5px,#0314ea 24.5px,#0314ea 27.5px,#0314ea 30.5px,#0314ea 33.5px,#0314ea 36.5px,#0314ea 39.5px,#0314ea 42.5px,#0314ea 45.5px,#0314ea 48.5px,#0314ea 51.5px,#0314ea 54.5px,#0314ea 57.5px,#0314ea 60.5px,#0314ea 63.5px,#0314ea 66.5px,#0314ea 69.5px,#0314ea 72.5px,#0314ea 75.5px,#0314ea 78.5px,#0314ea 81.5px,#0314ea 84.5px,#0314ea 87.5px,#0314ea 90.5px,#0314ea 93.5px,#0314ea 96.5px,#0314ea 99.5px,#0314ea 102.5px,#0314ea 105.5px,#0314ea 108.5px)"></div><div style="top:2px;background:linear-gradient(90deg,#0215e9 0.5px,#0215e9 3.5px,#0215e9 6.5px,#0215e9 9.5px,#0215e9 12.5px,#0214e9 15.5px,#0314ea 18.5px,#0314ea 21.5px,#0314ea 24.5px,#0314ea 27.5px,#0314ea 30.5px,#0314ea 33.5px,#0314ea 36.5px,#0314ea 39.5px,#0314ea 42.5px,#0314ea 45.5px,#0314ea 48.5px,#0314ea 51.5px,#0314ea 54.5px,#0314ea 57.5px,#0314ea 60.5px,#0314ea 63.5px,#0314ea 66.5px,#0314ea 69.5px,#0314ea 72.5px,#0314ea 75.5px,#0314ea 78.5px,#0314ea 81.5px,#0314ea 84.5px,#0314ea 87.5px,#0314ea 90.5px,#0314ea 93.5px,#0314ea 96.5px,#0314ea 99.5px,#0314ea 102.5px,#0314ea 105.5px,#0314ea 108.5px)"></div><div style="top:3px;background:linear-gradient(90deg,#0216e8 0.5px,#0216e8 3.5px,#0216e8 6.5px,#0216e8 9.5px,#0216e8 12.5px,#0215e9 15.5px,#0214e9 18.5px,#0214e9 21.5px,#0214e9 24.5px,#0214e9 27.5px,#0214e9 30.5px,#0214e9 33.5px,#0214e9 36.5px,#0214e9 39.5px,#0214e9 42.5px,#0214e9 45.5px,#0214e9 48.5px,#0214e9 51.5px,#0214e9 54.5px,#0214e9 57.5px,#0214e9 60.5px,#0214e9 63.5px,#0214e9 66.5px,#0214e9 69.5px,#0214e9 72.5px,#0214e9 75.5px,#0214e9 78.5px,#0214e9 81.5px,#0214e9 84.5px,#0214e9 87.5px,#0214e9 90.5px,#0214e9 93.5px,#0214e9 96.5px,#0214e9 99.5px,#0214e9 102.5px,#0214e9 105.5px,#0214e9 108.5px)"></div><div style="top:4px;background:linear-gradient(90deg,#0216e7 0.5px,#0216e7 3.5px,#0216e7 6.5px,#0216e7 9.5px,#0216e8 12.5px,#0215e9 15.5px,#0215e9 18.5px,#0214e9 21.5px,#0214e9 24.5px,#0214e9 27.5px,#0214e9 30.5px,#0214e9 33.5px,#0214e9 36.5px,#0214e9 39.5px,#0214e9 42.5px,#0214e9 45.5px,#0214e9 48.5px,#0214e9 51.5px,#0214e9 54.5px,#0214e9 57.5px,#0214e9 60.5px,#0214e9 63.5px,#0214e9 66.5px,#0214e9 69.5px,#0214e9 72.5px,#0214e9 75.5px,#0214e9 78.5px,#0214e9 81.5px,#0214e9 84.5px,#0214e9 87.5px,#0214e9 90.5px,#0214e9 93.5px,#0214e9 96.5px,#0214e9 99.5px,#0214e9 102.5px,#0214e9 105.5px,#0214e9 108.5px)"></div><div style="top:5px;background:linear-gradient(90deg,#0217e7 0.5px,#0217e7 3.5px,#0217e7 6.5px,#0217e7 9.5px,#0217e7 12.5px,#0215e8 15.5px,#0215e9 18.5px,#0215e9 21.5px,#0215e9 24.5px,#0215e9 27.5px,#0215e9 30.5px,#0215e9 33.5px,#0215e9 36.5px,#0215e9 39.5px,#0215e9 42.5px,#0215e9 45.5px,#0215e9 48.5px,#0215e9 51.5px,#0215e9 54.5px,#0215e9 57.5px,#0215e9 60.5px,#0215e9 63.5px,#0215e9 66.5px,#0215e9 69.5px,#0215e9 72.5px,#0215e9 75.5px,#0215e9 78.5px,#0215e9 81.5px,#0215e9 84.5px,#0215e9 87.5px,#0215e9 90.5px,#0215e9 93.5px,#0215e9 96.5px,#0215e9 99.5px,#0215e9 102.5px,#0215e9 105.5px,#0215e9 108.5px)"></div><div style="top:6px;background:linear-gradient(90deg,#0218e6 0.5px,#0218e6 3.5px,#0218e6 6.5px,#0218e6 9.5px,#0217e6 12.5px,#0216e8 15.5px,#0215e9 18.5px,#0215e9 21.5px,#0215e9 24.5px,#0215e9 27.5px,#0215e9 30.5px,#0215e9 33.5px,#0215e9 36.5px,#0215e9 39.5px,#0215e9 42.5px,#0215e9 45.5px,#0215e9 48.5px,#0215e9 51.5px,#0215e9 54.5px,#0215e9 57.5px,#0215e9 60.5px,#0215e9 63.5px,#0215e9 66.5px,#0215e9 69.5px,#0215e9 72.5px,#0215e9 75.5px,#0215e9 78.5px,#0215e9 81.5px,#0215e9 84.5px,#0215e9 87.5px,#0215e9 90.5px,#0215e9 93.5px,#0215e9 96.5px,#0215e9 99.5px,#0215e9 102.5px,#0215e9 105.5px,#0215e9 108.5px)"></div><div style="top:7px;background:linear-gradient(90deg,#0218e6 0.5px,#0218e6 3.5px,#0218e6 6.5px,#0218e6 9.5px,#0218e6 12.5px,#0216e8 15.5px,#0215e8 18.5px,#0215e8 21.5px,#0215e8 24.5px,#0215e8 27.5px,#0215e8 30.5px,#0215e8 33.5px,#0215e8 36.5px,#0215e8 39.5px,#0215e8 42.5px,#0215e8 45.5px,#0215e8 48.5px,#0215e8 51.5px,#0215e8 54.5px,#0215e8 57.5px,#0215e8 60.5px,#0215e8 63.5px,#0215e8 66.5px,#0215e8 69.5px,#0215e8 72.5px,#0215e8 75.5px,#0215e8 78.5px,#0215e8 81.5px,#0215e8 84.5px,#0215e8 87.5px,#0215e8 90.5px,#0215e8 93.5px,#0215e8 96.5px,#0215e8 99.5px,#0215e8 102.5px,#0215e8 105.5px,#0215e8 108.5px)"></div><div style="top:8px;background:linear-gradient(90deg,#0219e5 0.5px,#0219e5 3.5px,#0219e5 6.5px,#0219e5 9.5px,#0219e5 12.5px,#0216e7 15.5px,#0216e8 18.5px,#0216e8 21.5px,#0216e8 24.5px,#0216e8 27.5px,#0216e8 30.5px,#0216e8 33.5px,#0216e8 36.5px,#0216e8 39.5px,#0216e8 42.5px,#0216e8 45.5px,#0216e8 48.5px,#0216e8 51.5px,#0216e8 54.5px,#0216e8 57.5px,#0216e8 60.5px,#0216e8 63.5px,#0216e8 66.5px,#0216e8 69.5px,#0216e8 72.5px,#0216e8 75.5px,#0216e8 78.5px,#0216e8 81.5px,#0216e8 84.5px,#0216e8 87.5px,#0216e8 90.5px,#0216e8 93.5px,#0216e8 96.5px,#0216e8 99.5px,#0216e8 102.5px,#0216e8 105.5px,#0216e8 108.5px)"></div><div style="top:9px;background:linear-gradient(90deg,#0219e5 0.5px,#0219e5 3.5px,#0219e5 6.5px,#0219e5 9.5px,#0219e5 12.5px,#0217e7 15.5px,#0216e8 18.5px,#0216e8 21.5px,#0216e8 24.5px,#0216e8 27.5px,#0216e8 30.5px,#0216e8 33.5px,#0216e8 36.5px,#0216e8 39.5px,#0216e8 42.5px,#0216e8 45.5px,#0216e8 48.5px,#0216e8 51.5px,#0216e8 54.5px,#0216e8 57.5px,#0216e8 60.5px,#0216e8 63.5px,#0216e8 66.5px,#0216e8 69.5px,#0216e8 72.5px,#0216e8 75.5px,#0216e8 78.5px,#0216e8 81.5px,#0216e8 84.5px,#0216e8 87.5px,#0216e8 90.5px,#0216e8 93.5px,#0216e8 96.5px,#0216e8 99.5px,#0216e8 102.5px,#0216e8 105.5px,#0216e8 108.5px)"></div><div style="top:10px;background:linear-gradient(90deg,#021ae4 0.5px,#021ae4 3.5px,#021ae4 6.5px,#021ae4 9.5px,#021ae4 12.5px,#0217e7 15.5px,#0216e7 18.5px,#0216e7 21.5px,#0216e7 24.5px,#0216e7 27.5px,#0216e7 30.5px,#0216e7 33.5px,#0216e7 36.5px,#0216e7 39.5px,#0216e7 42.5px,#0216e7 45.5px,#0216e7 48.5px,#0216e7 51.5px,#0216e7 54.5px,#0216e7 57.5px,#0216e7 60.5px,#0216e7 63.5px,#0216e7 66.5px,#0216e7 69.5px,#0216e7 72.5px,#0216e7 75.5px,#0216e7 78.5px,#0216e7 81.5px,#0216e7 84.5px,#0216e7 87.5px,#0216e7 90.5px,#0216e7 93.5px,#0216e7 96.5px,#0216e7 99.5px,#0216e7 102.5px,#0216e7 105.5px,#0216e7 108.5px)"></div><div style="top:11px;background:linear-gradient(90deg,#021be4 0.5px,#021be4 3.5px,#021be4 6.5px,#021be4 9.5px,#021ae4 12.5px,#0218e6 15.5px,#0217e7 18.5px,#0217e7 21.5px,#0217e7 24.5px,#0217e7 27.5px,#0217e7 30.5px,#0217e7 33.5px,#0217e7 36.5px,#0217e7 39.5px,#0217e7 42.5px,#0217e7 45.5px,#0217e7 48.5px,#0217e7 51.5px,#0217e7 54.5px,#0217e7 57.5px,#0217e7 60.5px,#0217e7 63.5px,#0217e7 66.5px,#0217e7 69.5px,#0217e7 72.5px,#0217e7 75.5px,#0217e7 78.5px,#0217e7 81.5px,#0217e7 84.5px,#0217e7 87.5px,#0217e7 90.5px,#0217e7 93.5px,#0217e7 96.5px,#0217e7 99.5px,#0217e7 102.5px,#0217e7 105.5px,#0217e7 108.5px)"></div><div style="top:12px;background:linear-gradient(90deg,#021be3 0.5px,#021be3 3.5px,#021be3 6.5px,#021be3 9.5px,#021be3 12.5px,#0218e6 15.5px,#0217e7 18.5px,#0217e7 21.5px,#0217e7 24.5px,#0217e7 27.5px,#0217e7 30.5px,#0217e7 33.5px,#0217e7 36.5px,#0217e7 39.5px,#0217e7 42.5px,#0217e7 45.5px,#0217e7 48.5px,#0217e7 51.5px,#0217e7 54.5px,#0217e7 57.5px,#0217e7 60.5px,#0217e7 63.5px,#0217e7 66.5px,#0217e7 69.5px,#0217e7 72.5px,#0217e7 75.5px,#0217e7 78.5px,#0217e7 81.5px,#0217e7 84.5px,#0217e7 87.5px,#0217e7 90.5px,#0217e7 93.5px,#0217e7 96.5px,#0217e7 99.5px,#0217e7 102.5px,#0217e7 105.5px,#0217e7 108.5px)"></div><div style="top:13px;background:linear-gradient(90deg,#011ce2 0.5px,#011ce2 3.5px,#011ce2 6.5px,#011ce2 9.5px,#021ce3 12.5px,#0218e6 15.5px,#0217e7 18.5px,#0217e7 21.5px,#0217e7 24.5px,#0217e7 27.5px,#0217e7 30.5px,#0217e7 33.5px,#0217e7 36.5px,#0217e7 39.5px,#0217e7 42.5px,#0217e7 45.5px,#0217e6 48.5px,#0218e6 51.5px,#0218e6 54.5px,#0218e6 57.5px,#0218e6 60.5px,#0218e6 63.5px,#0218e6 66.5px,#0218e6 69.5px,#0218e6 72.5px,#0218e6 75.5px,#0218e6 78.5px,#0218e6 81.5px,#0218e6 84.5px,#0218e6 87.5px,#0218e6 90.5px,#0218e6 93.5px,#0218e6 96.5px,#0218e6 99.5px,#0218e6 102.5px,#0218e6 105.5px,#0218e6 108.5px)"></div><div style="top:14px;background:linear-gradient(90deg,#011ee1 0.5px,#011ee1 3.5px,#011ee1 6.5px,#011de1 9.5px,#011de2 12.5px,#0219e5 15.5px,#0218e6 18.5px,#0218e6 21.5px,#0218e6 24.5px,#0218e6 27.5px,#0218e6 30.5px,#0218e6 33.5px,#0218e6 36.5px,#0218e6 39.5px,#0218e6 42.5px,#0218e6 45.5px,#0218e6 48.5px,#0219e5 51.5px,#0219e5 54.5px,#0219e5 57.5px,#0219e5 60.5px,#021ae5 63.5px,#021ae5 66.5px,#021ae5 69.5px,#021ae5 72.5px,#021ae5 75.5px,#021ae5 78.5px,#021ae5 81.5px,#021ae5 84.5px,#0219e5 87.5px,#0219e5 90.5px,#0219e5 93.5px,#0219e5 96.5px,#0219e5 99.5px,#0219e5 102.5px,#0219e5 105.5px,#0219e5 108.5px)"></div><div style="top:15px;background:linear-gradient(90deg,#0122dd 0.5px,#0122dd 3.5px,#0121de 6.5px,#0120df 9.5px,#011ee1 12.5px,#021ae5 15.5px,#0218e6 18.5px,#0218e6 21.5px,#0218e6 24.5px,#0218e6 27.5px,#0218e6 30.5px,#0218e6 33.5px,#0218e6 36.5px,#0219e5 39.5px,#0219e5 42.5px,#021ae5 45.5px,#021ae4 48.5px,#021be3 51.5px,#021ce3 54.5px,#011de2 57.5px,#011de2 60.5px,#011de1 63.5px,#011de1 66.5px,#011de1 69.5px,#011de1 72.5px,#011de1 75.5px,#011de1 78.5px,#011de1 81.5px,#011de1 84.5px,#011de2 87.5px,#011de2 90.5px,#011de2 93.5px,#011ce2 96.5px,#011ce2 99.5px,#021ce3 102.5px,#021be3 105.5px,#021be3 108.5px)"></div><div style="top:16px;background:linear-gradient(90deg,#0029d7 0.5px,#0028d8 3.5px,#0026d9 6.5px,#0123dc 9.5px,#0120df 12.5px,#021ae4 15.5px,#0219e5 18.5px,#0219e5 21.5px,#0219e5 24.5px,#0219e5 27.5px,#0219e5 30.5px,#0219e5 33.5px,#0219e5 36.5px,#021ae4 39.5px,#021be3 42.5px,#021ce3 45.5px,#011de1 48.5px,#011fe0 51.5px,#0121de 54.5px,#0122dd 57.5px,#0123dc 60.5px,#0024db 63.5px,#0024db 66.5px,#0024db 69.5px,#0024db 72.5px,#0024db 75.5px,#0024db 78.5px,#0024db 81.5px,#0024db 84.5px,#0124dc 87.5px,#0123dc 90.5px,#0123dd 93.5px,#0122dd 96.5px,#0121de 99.5px,#0121de 102.5px,#0120df 105.5px,#0120df 108.5px)"></div><div style="top:17px;background:linear-gradient(90deg,#0036c6 0.5px,#0036c7 3.5px,#0031cd 6.5px,#0029d7 9.5px,#0123dd 12.5px,#021ce3 15.5px,#021ae4 18.5px,#021ae4 21.5px,#021ae4 24.5px,#021ae4 27.5px,#021ae4 30.5px,#021ae4 33.5px,#021be4 36.5px,#021ce3 39.5px,#011de1 42.5px,#011fe0 45.5px,#0122dd 48.5px,#0025db 51.5px,#0028d8 54.5px,#002cd3 57.5px,#002fcf 60.5px,#0030ce 63.5px,#0031cd 66.5px,#0031cd 69.5px,#0031cd 72.5px,#0031cd 75.5px,#0031cd 78.5px,#0031cd 81.5px,#0031cd 84.5px,#002fcf 87.5px,#002ed1 90.5px,#002cd3 93.5px,#002bd4 96.5px,#0029d6 99.5px,#0028d8 102.5px,#0026da 105.5px,#0026da 108.5px)"></div><div style="top:18px;background:linear-gradient(90deg,#0047b1 0.5px,#0046b3 3.5px,#003fbc 6.5px,#0032cc 9.5px,#0026da 12.5px,#011de2 15.5px,#021be3 18.5px,#021be3 21.5px,#021be3 24.5px,#021be3 27.5px,#021be3 30.5px,#021be3 33.5px,#011ce2 36.5px,#011ee1 39.5px,#0120df 42.5px,#0123dc 45.5px,#0027d9 48.5px,#002dd1 51.5px,#0034c9 54.5px,#003bc0 57.5px,#003fbb 60.5px,#0042b8 63.5px,#0043b6 66.5px,#0043b6 69.5px,#0043b6 72.5px,#0043b6 75.5px,#0043b6 78.5px,#0043b6 81.5px,#0042b7 84.5px,#0040ba 87.5px,#003ebd 90.5px,#003bc0 93.5px,#0039c2 96.5px,#0037c5 99.5px,#0034c9 102.5px,#0031cd 105.5px,#0030ce 108.5px)"></div><div style="top:19px;background:linear-gradient(90deg,#0052a0 0.5px,#0052a1 3.5px,#004bab 6.5px,#003bc0 9.5px,#0029d6 12.5px,#011fe0 15.5px,#011ce2 18.5px,#011ce2 21.5px,#011ce2 24.5px,#011ce2 27.5px,#011ce2 30.5px,#011ce2 33.5px,#011ee1 36.5px,#011fdf 39.5px,#0123dd 42.5px,#0027d9 45.5px,#002ed1 48.5px,#0038c4 51.5px,#0041b8 54.5px,#004aae 57.5px,#004da8 60.5px,#004fa5 63.5px,#0050a3 66.5px,#0050a3 69.5px,#0050a3 72.5px,#0050a3 75.5px,#0050a3 78.5px,#0050a3 81.5px,#004fa4 84.5px,#004ea7 87.5px,#004caa 90.5px,#004aad 93.5px,#0048af 96.5px,#0046b3 99.5px,#0042b8 102.5px,#003dbe 105.5px,#003cbf 108.5px)"></div><div style="top:20px;background:linear-gradient(90deg,#005e8d 0.5px,#005d8f 3.5px,#00549c 6.5px,#0045b4 9.5px,#002ed1 12.5px,#0120df 15.5px,#011de1 18.5px,#011de1 21.5px,#011de1 24.5px,#011de1 27.5px,#011de1 30.5px,#011de1 33.5px,#011fe0 36.5px,#0121de 39.5px,#0025db 42.5px,#002ad5 45.5px,#0035c8 48.5px,#0042b8 51.5px,#004caa 54.5px,#00539f 57.5px,#005897 60.5px,#005a93 63.5px,#005c91 66.5px,#005c91 69.5px,#005c91 72.5px,#005c91 75.5px,#005c91 78.5px,#005b92 81.5px,#005a93 84.5px,#005897 87.5px,#00569a 90.5px,#00549e 93.5px,#0051a1 96.5px,#004fa5 99.5px,#004ca9 102.5px,#0049af 105.5px,#0048b0 108.5px)"></div><div style="top:21px;background:linear-gradient(90deg,#006a74 0.5px,#006877 3.5px,#005e8e 6.5px,#004caa 9.5px,#0032cb 12.5px,#0122de 15.5px,#011ee0 18.5px,#011ee1 21.5px,#011ee1 24.5px,#011ee1 27.5px,#011ee1 30.5px,#011ee1 33.5px,#0120df 36.5px,#0122dd 39.5px,#0027d9 42.5px,#002dd1 45.5px,#003ac1 48.5px,#004aad 51.5px,#00539f 54.5px,#005c91 57.5px,#006287 60.5px,#006581 63.5px,#00667d 66.5px,#00667d 69.5px,#00667d 72.5px,#00667d 75.5px,#00667e 78.5px,#006680 81.5px,#006483 84.5px,#006287 87.5px,#005f8b 90.5px,#005d8f 93.5px,#005a93 96.5px,#005898 99.5px,#00549d 102.5px,#0050a3 105.5px,#004ea6 108.5px)"></div><div style="top:22px;background:linear-gradient(90deg,#017459 0.5px,#00725b 3.5px,#00677c 6.5px,#0051a2 9.5px,#0036c7 12.5px,#0123dc 15.5px,#011fe0 18.5px,#011fe0 21.5px,#011fe0 24.5px,#011fe0 27.5px,#011fe0 30.5px,#011fe0 33.5px,#0121de 36.5px,#0124dc 39.5px,#0028d8 42.5px,#0030cf 45.5px,#003fbb 48.5px,#004fa6 51.5px,#005a94 54.5px,#006483 57.5px,#006a73 60.5px,#006d6a 63.5px,#006f65 66.5px,#006f64 69.5px,#006f64 72.5px,#006f64 75.5px,#006f66 78.5px,#006e69 81.5px,#006c6d 84.5px,#006a73 87.5px,#00687a 90.5px,#006580 93.5px,#006386 96.5px,#00608b 99.5px,#005c90 102.5px,#005798 105.5px,#00549d 108.5px)"></div><div style="top:23px;background:linear-gradient(90deg,#038147 0.5px,#037f4a 3.5px,#006e67 6.5px,#00569a 9.5px,#003ac2 12.5px,#0025db 15.5px,#0120df 18.5px,#0120df 21.5px,#0120df 24.5px,#0120df 27.5px,#0120df 30.5px,#0120df 33.5px,#0122dd 36.5px,#0024db 39.5px,#0029d7 42.5px,#0031cd 45.5px,#0043b6 48.5px,#00539e 51.5px,#006189 54.5px,#006b71 57.5px,#00715f 60.5px,#017656 63.5px,#027953 66.5px,#027952 69.5px,#027952 72.5px,#027952 75.5px,#017853 78.5px,#017656 81.5px,#007459 84.5px,#00715f 87.5px,#006e66 90.5px,#006c6d 93.5px,#006974 96.5px,#00677c 99.5px,#006484 102.5px,#005e8e 105.5px,#005a94 108.5px)"></div><div style="top:24px;background:linear-gradient(90deg,#078e36 0.5px,#068c39 3.5px,#017656 6.5px,#005b92 9.5px,#003dbd 12.5px,#0026d9 15.5px,#0121de 18.5px,#0121de 21.5px,#0121de 24.5px,#0121de 27.5px,#0121de 30.5px,#0121de 33.5px,#0123dd 36.5px,#0025da 39.5px,#002ad5 42.5px,#0033cb 45.5px,#0047b1 48.5px,#005897 51.5px,#00667d 54.5px,#00715f 57.5px,#027a51 60.5px,#038049 63.5px,#048344 66.5px,#048344 69.5px,#048344 72.5px,#048344 75.5px,#048245 78.5px,#038049 81.5px,#037d4d 84.5px,#027a52 87.5px,#017656 90.5px,#00735b 93.5px,#007062 96.5px,#006d6a 99.5px,#006a74 102.5px,#006582 105.5px,#00608a 108.5px)"></div><div style="top:25px;background:linear-gradient(90deg,#0c972a 0.5px,#0b952d 3.5px,#037f4a 6.5px,#006189 9.5px,#0041b8 12.5px,#0028d8 15.5px,#0123dd 18.5px,#0122de 21.5px,#0122de 24.5px,#0122de 27.5px,#0122de 30.5px,#0122de 33.5px,#0124dc 36.5px,#0026da 39.5px,#002cd3 42.5px,#0035c8 45.5px,#004aad 48.5px,#005d8f 51.5px,#006b6f 54.5px,#017854 57.5px,#048345 60.5px,#058a3b 63.5px,#068d37 66.5px,#078d37 69.5px,#078d37 72.5px,#078d37 75.5px,#068c38 78.5px,#05893c 81.5px,#058640 84.5px,#048246 87.5px,#037e4b 90.5px,#027b50 93.5px,#017755 96.5px,#00735a 99.5px,#006f64 102.5px,#006a74 105.5px,#006581 108.5px)"></div><div style="top:26px;background:linear-gradient(90deg,#11a020 0.5px,#0f9e23 3.5px,#05883e 6.5px,#00667f 9.5px,#0046b2 12.5px,#002bd4 15.5px,#0124dc 18.5px,#0123dd 21.5px,#0123dd 24.5px,#0123dd 27.5px,#0123dd 30.5px,#0123dd 33.5px,#0025db 36.5px,#0027d9 39.5px,#002ed0 42.5px,#0038c4 45.5px,#004da8 48.5px,#006287 51.5px,#007060 54.5px,#037f49 57.5px,#068b3a 60.5px,#089132 63.5px,#0a942e 66.5px,#0a942e 69.5px,#0a952e 72.5px,#0a952e 75.5px,#0a942f 78.5px,#099132 81.5px,#078e35 84.5px,#068b3a 87.5px,#058740 90.5px,#048245 93.5px,#037e4b 96.5px,#027a51 99.5px,#017558 102.5px,#006e67 105.5px,#006976 108.5px)"></div><div style="top:27px;background:linear-gradient(90deg,#1fa81d 0.5px,#1aa51e 3.5px,#088f34 6.5px,#006a73 9.5px,#004bac 12.5px,#002fcf 15.5px,#0025da 18.5px,#0124dc 21.5px,#0124dc 24.5px,#0124dc 27.5px,#0124dc 30.5px,#0124dc 33.5px,#0026da 36.5px,#0029d7 39.5px,#0031cc 42.5px,#003cbe 45.5px,#0051a1 48.5px,#00677c 51.5px,#017656 54.5px,#058640 57.5px,#099132 60.5px,#0c972b 63.5px,#0d9b26 66.5px,#0e9b26 69.5px,#0e9b26 72.5px,#0e9c25 75.5px,#0d9b26 78.5px,#0c982a 81.5px,#0a952e 84.5px,#099132 87.5px,#078e36 90.5px,#058a3b 93.5px,#048541 96.5px,#038048 99.5px,#027b50 102.5px,#00725c 105.5px,#006c6c 108.5px)"></div><div style="top:28px;background:linear-gradient(90deg,#2cae1b 0.5px,#27ac1c 3.5px,#0b952d 6.5px,#006f65 9.5px,#004fa5 12.5px,#0033ca 15.5px,#0027d9 18.5px,#0025da 21.5px,#0025db 24.5px,#0025db 27.5px,#0025db 30.5px,#0025da 33.5px,#0027d9 36.5px,#002cd4 39.5px,#0035c7 42.5px,#0042b7 45.5px,#00569a 48.5px,#006b6f 51.5px,#027d4d 54.5px,#068d37 57.5px,#0b962b 60.5px,#0e9d24 63.5px,#11a020 66.5px,#12a120 69.5px,#13a120 72.5px,#14a21f 75.5px,#12a120 78.5px,#0f9e22 81.5px,#0d9b26 84.5px,#0c972b 87.5px,#0a932f 90.5px,#089033 93.5px,#068c38 96.5px,#058640 99.5px,#038048 102.5px,#017755 105.5px,#006f63 108.5px)"></div><div style="top:29px;background:linear-gradient(90deg,#38b419 0.5px,#33b11a 3.5px,#0d9b26 6.5px,#007459 9.5px,#00539e 12.5px,#0038c4 15.5px,#002ad6 18.5px,#0027d9 21.5px,#0026d9 24.5px,#0026d9 27.5px,#0026d9 30.5px,#0027d9 33.5px,#0029d7 36.5px,#002ed0 39.5px,#003ac2 42.5px,#0049af 45.5px,#005b92 48.5px,#007062 51.5px,#048345 54.5px,#099231 57.5px,#0e9c25 60.5px,#14a21f 63.5px,#1ba51e 66.5px,#1ca61e 69.5px,#1ea71e 72.5px,#1fa71e 75.5px,#1ea71e 78.5px,#18a41f 81.5px,#12a120 84.5px,#0e9d24 87.5px,#0c9928 90.5px,#0a952d 93.5px,#089132 96.5px,#068c38 99.5px,#048542 102.5px,#027b50 105.5px,#00725b 108.5px)"></div><div style="top:30px;background:linear-gradient(90deg,#45ba18 0.5px,#3eb718 3.5px,#11a120 6.5px,#027a51 9.5px,#005896 12.5px,#003dbe 15.5px,#002dd2 18.5px,#0028d8 21.5px,#0028d8 24.5px,#0028d8 27.5px,#0028d8 30.5px,#0028d8 33.5px,#002cd4 36.5px,#0031cd 39.5px,#003ebc 42.5px,#004da8 45.5px,#006189 48.5px,#017557 51.5px,#05893c 54.5px,#0b972b 57.5px,#11a020 60.5px,#1da61e 63.5px,#24aa1d 66.5px,#26ab1c 69.5px,#28ac1c 72.5px,#2aad1c 75.5px,#29ac1c 78.5px,#23aa1d 81.5px,#1da61e 84.5px,#15a21f 87.5px,#0f9e22 90.5px,#0d9a27 93.5px,#0b962c 96.5px,#089033 99.5px,#058a3b 102.5px,#037f4a 105.5px,#017657 108.5px)"></div><div style="top:31px;background:linear-gradient(90deg,#5ac016 0.5px,#51bd17 3.5px,#1ca61e 6.5px,#038048 9.5px,#005d8f 12.5px,#0042b8 15.5px,#0030ce 18.5px,#002bd5 21.5px,#002ad6 24.5px,#002ad6 27.5px,#002ad6 30.5px,#002ad5 33.5px,#002ed0 36.5px,#0034c9 39.5px,#0043b6 42.5px,#0052a1 45.5px,#00667f 48.5px,#027b4f 51.5px,#078f35 54.5px,#0e9c25 57.5px,#1aa51e 60.5px,#25ab1c 63.5px,#2dae1b 66.5px,#2fb01b 69.5px,#32b11a 72.5px,#34b21a 75.5px,#34b21a 78.5px,#2eaf1b 81.5px,#27ac1c 84.5px,#1fa81d 87.5px,#17a31f 90.5px,#109f21 93.5px,#0d9a27 96.5px,#0a942e 99.5px,#078e36 102.5px,#048345 105.5px,#027952 108.5px)"></div><div style="top:32px;background:linear-gradient(90deg,#6ec715 0.5px,#65c415 3.5px,#26ab1c 6.5px,#058640 9.5px,#006287 12.5px,#0047b2 15.5px,#0033ca 18.5px,#002dd2 21.5px,#002cd3 24.5px,#002cd3 27.5px,#002cd3 30.5px,#002cd3 33.5px,#0030cd 36.5px,#0037c6 39.5px,#0048b0 42.5px,#00569a 45.5px,#006a73 48.5px,#048147 51.5px,#0a942f 54.5px,#11a120 57.5px,#22a91d 60.5px,#2eaf1b 63.5px,#36b31a 66.5px,#39b419 69.5px,#3cb619 72.5px,#3fb718 75.5px,#3fb718 78.5px,#39b419 81.5px,#32b11a 84.5px,#29ad1c 87.5px,#21a81d 90.5px,#18a41f 93.5px,#109f21 96.5px,#0c9929 99.5px,#099131 102.5px,#05873f 105.5px,#027c4e 108.5px)"></div><div style="top:33px;background:linear-gradient(90deg,#83cd13 0.5px,#79ca14 3.5px,#30b01b 6.5px,#068c37 9.5px,#00667e 12.5px,#004aad 15.5px,#0036c6 18.5px,#002fcf 21.5px,#002ed0 24.5px,#002ed0 27.5px,#002ed0 30.5px,#002fd0 33.5px,#0033ca 36.5px,#003ac2 39.5px,#004bab 42.5px,#005b93 45.5px,#006e67 48.5px,#05873f 51.5px,#0c9829 54.5px,#1aa51e 57.5px,#2bae1b 60.5px,#37b31a 63.5px,#3fb718 66.5px,#45b918 69.5px,#4bbc17 72.5px,#52be17 75.5px,#52be17 78.5px,#47ba17 81.5px,#3db619 84.5px,#34b21a 87.5px,#2aad1c 90.5px,#21a91d 93.5px,#17a31f 96.5px,#0e9d24 99.5px,#0b952d 102.5px,#068b3a 105.5px,#037f49 108.5px)"></div><div style="top:34px;background:linear-gradient(90deg,#97d412 0.5px,#8ed112 3.5px,#3ab519 6.5px,#099132 9.5px,#006a73 12.5px,#004da8 15.5px,#003ac2 18.5px,#0032cc 21.5px,#0031cd 24.5px,#0031cd 27.5px,#0031cd 30.5px,#0031cd 33.5px,#0035c7 36.5px,#003cbe 39.5px,#004ea7 42.5px,#005f8c 45.5px,#00735b 48.5px,#068d37 51.5px,#0f9d23 54.5px,#23a91d 57.5px,#34b21a 60.5px,#40b818 63.5px,#4fbd17 66.5px,#56bf16 69.5px,#5ec216 72.5px,#65c415 75.5px,#66c415 78.5px,#5cc116 81.5px,#4ebd17 84.5px,#3eb718 87.5px,#34b21a 90.5px,#2aad1c 93.5px,#1fa81d 96.5px,#12a120 99.5px,#0c9929 102.5px,#078e36 105.5px,#048345 108.5px)"></div><div style="top:35px;background:linear-gradient(90deg,#abda10 0.5px,#a1d711 3.5px,#48ba17 6.5px,#0b962c 9.5px,#006e69 12.5px,#0050a4 15.5px,#003dbe 18.5px,#0034c9 21.5px,#0033ca 24.5px,#0033ca 27.5px,#0033ca 30.5px,#0033ca 33.5px,#0038c4 36.5px,#003fbb 39.5px,#0051a3 42.5px,#006385 45.5px,#017854 48.5px,#099131 51.5px,#14a21f 54.5px,#2bae1b 57.5px,#3db619 60.5px,#50bd17 63.5px,#5fc216 66.5px,#68c515 69.5px,#70c815 72.5px,#79ca14 75.5px,#7acb14 78.5px,#70c715 81.5px,#62c316 84.5px,#4fbd17 87.5px,#3eb718 90.5px,#33b21a 93.5px,#28ac1c 96.5px,#19a51e 99.5px,#0e9c25 102.5px,#089132 105.5px,#058641 108.5px)"></div><div style="top:36px;background:linear-gradient(90deg,#bce00d 0.5px,#b3dd0f 3.5px,#59c016 6.5px,#0d9a27 9.5px,#00715e 12.5px,#00539f 15.5px,#0040ba 18.5px,#0037c5 21.5px,#0035c7 24.5px,#0035c7 27.5px,#0035c8 30.5px,#0035c7 33.5px,#003bc1 36.5px,#0042b7 39.5px,#00539e 42.5px,#00677c 45.5px,#027d4d 48.5px,#0b962c 51.5px,#1ca61e 54.5px,#33b21a 57.5px,#49bb17 60.5px,#5fc216 63.5px,#6fc715 66.5px,#79ca14 69.5px,#82cd13 72.5px,#8bd013 75.5px,#8dd113 78.5px,#82cd13 81.5px,#74c914 84.5px,#60c216 87.5px,#4cbc17 90.5px,#3cb619 93.5px,#2fb01b 96.5px,#20a81d 99.5px,#109f21 102.5px,#0a942f 105.5px,#05893d 108.5px)"></div><div style="top:37px;background:linear-gradient(90deg,#cbe409 0.5px,#c1e10c 3.5px,#68c515 6.5px,#0f9e22 9.5px,#017557 12.5px,#00569a 15.5px,#0044b5 18.5px,#003ac2 21.5px,#0038c4 24.5px,#0038c4 27.5px,#0038c4 30.5px,#0038c4 33.5px,#003dbd 36.5px,#0046b3 39.5px,#005699 42.5px,#006a73 45.5px,#048247 48.5px,#0d9a27 51.5px,#23aa1d 54.5px,#3bb519 57.5px,#57bf16 60.5px,#6ec715 63.5px,#7ecc14 66.5px,#88cf13 69.5px,#92d212 72.5px,#9bd512 75.5px,#9dd611 78.5px,#92d312 81.5px,#84ce13 84.5px,#70c715 87.5px,#5bc116 90.5px,#45ba18 93.5px,#36b31a 96.5px,#26ab1c 99.5px,#14a21f 102.5px,#0b962c 105.5px,#068b39 108.5px)"></div><div style="top:38px;background:linear-gradient(90deg,#d5e807 0.5px,#cbe509 3.5px,#73c814 6.5px,#14a21f 9.5px,#027a51 12.5px,#005995 15.5px,#0048b0 18.5px,#003dbd 21.5px,#003bc0 24.5px,#003bc0 27.5px,#003bc1 30.5px,#003bc0 33.5px,#0041b9 36.5px,#0049af 39.5px,#005995 42.5px,#006d6a 45.5px,#058640 48.5px,#0f9d23 51.5px,#2aad1c 54.5px,#42b918 57.5px,#63c315 60.5px,#7acb14 63.5px,#8bd013 66.5px,#95d312 69.5px,#9fd711 72.5px,#a8d911 75.5px,#aada10 78.5px,#9fd711 81.5px,#91d212 84.5px,#7ccb14 87.5px,#66c415 90.5px,#50bd17 93.5px,#3bb619 96.5px,#2bad1c 99.5px,#18a41f 102.5px,#0c982a 105.5px,#068d37 108.5px)"></div><div style="top:39px;background:linear-gradient(90deg,#dbea05 0.5px,#d1e608 3.5px,#7bcb14 6.5px,#19a51e 9.5px,#037e4c 12.5px,#005d90 15.5px,#004bab 18.5px,#0041b8 21.5px,#003fbb 24.5px,#003ebc 27.5px,#003ebc 30.5px,#003ebc 33.5px,#0044b5 36.5px,#004bab 39.5px,#005c90 42.5px,#007061 45.5px,#068a3b 48.5px,#11a020 51.5px,#2fb01b 54.5px,#4dbc17 57.5px,#6ec715 60.5px,#86ce13 63.5px,#97d412 66.5px,#a1d711 69.5px,#aada10 72.5px,#b2dd0f 75.5px,#b4dd0f 78.5px,#a9da10 81.5px,#9bd512 84.5px,#86ce13 87.5px,#6fc715 90.5px,#58c016 93.5px,#3fb818 96.5px,#2eaf1b 99.5px,#1ba61e 102.5px,#0c9929 105.5px,#078e36 108.5px)"></div><div style="top:40px;background:linear-gradient(90deg,#dfeb04 0.5px,#d5e707 3.5px,#81cd13 6.5px,#1ea71e 9.5px,#048246 12.5px,#00608a 15.5px,#004ea7 18.5px,#0046b3 21.5px,#0043b7 24.5px,#0042b8 27.5px,#0042b8 30.5px,#0042b8 33.5px,#0048b0 36.5px,#004da7 39.5px,#005f8b 42.5px,#00745a 45.5px,#078d36 48.5px,#16a31f 51.5px,#34b21a 54.5px,#56bf16 57.5px,#78ca14 60.5px,#90d212 63.5px,#a2d711 66.5px,#abdb10 69.5px,#b4dd0f 72.5px,#badf0d 75.5px,#bbdf0d 78.5px,#b1dc10 81.5px,#a2d811 84.5px,#8dd113 87.5px,#76ca14 90.5px,#5ec216 93.5px,#44b918 96.5px,#31b01b 99.5px,#1ea71e 102.5px,#0d9a27 105.5px,#078f35 108.5px)"></div><div style="top:41px;background:linear-gradient(90deg,#e1eb04 0.5px,#d7e806 3.5px,#86cf13 6.5px,#23a91d 9.5px,#058641 12.5px,#006485 15.5px,#0051a2 18.5px,#0049ae 21.5px,#0047b2 24.5px,#0046b3 27.5px,#0045b4 30.5px,#0046b3 33.5px,#004aad 36.5px,#0050a3 39.5px,#006386 42.5px,#017755 45.5px,#089033 48.5px,#1ba51e 51.5px,#39b419 54.5px,#5ec216 57.5px,#81cd13 60.5px,#9ad512 63.5px,#acdb10 66.5px,#b5de0f 69.5px,#bce00d 72.5px,#c1e10c 75.5px,#c1e10c 78.5px,#b7de0e 81.5px,#a9da11 84.5px,#94d312 87.5px,#7dcc14 90.5px,#64c315 93.5px,#48bb17 96.5px,#33b21a 99.5px,#20a81d 102.5px,#0d9a27 105.5px,#088f34 108.5px)"></div><div style="top:42px;background:linear-gradient(90deg,#e3ec03 0.5px,#d8e906 3.5px,#8bd013 6.5px,#28ac1c 9.5px,#058a3b 12.5px,#00667d 15.5px,#00549d 18.5px,#004caa 21.5px,#004aad 24.5px,#0049af 27.5px,#0048af 30.5px,#0049af 33.5px,#004ca9 36.5px,#0052a0 39.5px,#006580 42.5px,#027b50 45.5px,#0a932f 48.5px,#1fa81d 51.5px,#3db718 54.5px,#66c415 57.5px,#89d013 60.5px,#a4d811 63.5px,#b6de0f 66.5px,#bee00c 69.5px,#c4e20b 72.5px,#c8e40a 75.5px,#c7e30a 78.5px,#bde00d 81.5px,#afdc10 84.5px,#9ad512 87.5px,#83cd13 90.5px,#69c515 93.5px,#4dbc17 96.5px,#35b31a 99.5px,#22a91d 102.5px,#0e9b26 105.5px,#089033 108.5px)"></div><div style="top:43px;background:linear-gradient(90deg,#e5ed03 0.5px,#dae906 3.5px,#90d212 6.5px,#2cae1b 9.5px,#078d37 12.5px,#006976 15.5px,#005799 18.5px,#004fa6 21.5px,#004caa 24.5px,#004bab 27.5px,#004bac 30.5px,#004bac 33.5px,#004fa5 36.5px,#00559c 39.5px,#00687a 42.5px,#037f4b 45.5px,#0b962c 48.5px,#24aa1d 51.5px,#43b918 54.5px,#6fc715 57.5px,#92d212 60.5px,#addb10 63.5px,#bfe10c 66.5px,#c7e30a 69.5px,#cde509 72.5px,#cfe608 75.5px,#cde509 78.5px,#c3e20b 81.5px,#b5de0f 84.5px,#a0d711 87.5px,#89cf13 90.5px,#6dc715 93.5px,#51bd17 96.5px,#38b419 99.5px,#24aa1d 102.5px,#0e9c25 105.5px,#089132 108.5px)"></div><div style="top:44px;background:linear-gradient(90deg,#e7ed02 0.5px,#dbe905 3.5px,#94d312 6.5px,#31b01b 9.5px,#089033 12.5px,#006c6e 15.5px,#005a94 18.5px,#0051a2 21.5px,#004ea6 24.5px,#004da8 27.5px,#004da9 30.5px,#004da8 33.5px,#0051a2 36.5px,#005798 39.5px,#006a73 42.5px,#048246 45.5px,#0c9928 48.5px,#28ac1c 51.5px,#4bbc17 54.5px,#77ca14 57.5px,#9bd512 60.5px,#b7de0e 63.5px,#c9e40a 66.5px,#d0e608 69.5px,#d5e807 72.5px,#d6e807 75.5px,#d3e707 78.5px,#c9e40a 81.5px,#bbdf0d 84.5px,#a6d911 87.5px,#8ed112 90.5px,#72c814 93.5px,#55bf17 96.5px,#3ab519 99.5px,#26ab1c 102.5px,#0e9c24 105.5px,#099132 108.5px)"></div><div style="top:45px;background:linear-gradient(90deg,#e9ee02 0.5px,#dcea05 3.5px,#99d512 6.5px,#35b31a 9.5px,#0a932f 12.5px,#006e66 15.5px,#005d8f 18.5px,#00549d 21.5px,#0051a2 24.5px,#004fa5 27.5px,#004fa5 30.5px,#004fa5 33.5px,#00539e 36.5px,#005a94 39.5px,#006c6c 42.5px,#058641 45.5px,#0e9c25 48.5px,#2daf1b 51.5px,#53be17 54.5px,#7fcc14 57.5px,#a3d811 60.5px,#c0e10c 63.5px,#d2e707 66.5px,#d9e906 69.5px,#ddea05 72.5px,#ddea05 75.5px,#d9e906 78.5px,#cee608 81.5px,#c1e10c 84.5px,#acdb10 87.5px,#94d312 90.5px,#77ca14 93.5px,#59c016 96.5px,#3cb619 99.5px,#28ac1c 102.5px,#0f9d23 105.5px,#099231 108.5px)"></div><div style="top:46px;background:linear-gradient(90deg,#ecef01 0.5px,#deea04 3.5px,#9dd611 6.5px,#3ab519 9.5px,#0b962c 12.5px,#00715f 15.5px,#00608a 18.5px,#005699 21.5px,#00539f 24.5px,#0051a1 27.5px,#0051a2 30.5px,#0051a2 33.5px,#00569b 36.5px,#005c90 39.5px,#006f66 42.5px,#05893c 45.5px,#0f9f22 48.5px,#32b11a 51.5px,#5bc116 54.5px,#87cf13 57.5px,#acdb10 60.5px,#c9e40a 63.5px,#dbe905 66.5px,#e2ec04 69.5px,#e5ec03 72.5px,#e3ec03 75.5px,#deea04 78.5px,#d4e707 81.5px,#c6e30a 84.5px,#b2dd10 87.5px,#9ad512 90.5px,#7ccb14 93.5px,#5dc116 96.5px,#3eb718 99.5px,#2aad1c 102.5px,#0f9e23 105.5px,#099330 108.5px)"></div><div style="top:47px;background:linear-gradient(90deg,#eff000 0.5px,#e1eb04 3.5px,#a3d811 6.5px,#3eb718 9.5px,#0d9928 12.5px,#017459 15.5px,#006386 18.5px,#005995 21.5px,#00559b 24.5px,#00549e 27.5px,#00539f 30.5px,#00539e 33.5px,#005897 36.5px,#005f8c 39.5px,#00715f 42.5px,#068d37 45.5px,#12a120 48.5px,#36b31a 51.5px,#63c316 54.5px,#8ed112 57.5px,#b3dd0f 60.5px,#d1e608 63.5px,#e3ec03 66.5px,#eaee02 69.5px,#ecef01 72.5px,#e9ee02 75.5px,#e3ec03 78.5px,#d9e906 81.5px,#cbe509 84.5px,#b7de0e 87.5px,#9fd711 90.5px,#80cd13 93.5px,#61c316 96.5px,#40b818 99.5px,#2bae1b 102.5px,#0f9e22 105.5px,#0a932f 108.5px)"></div><div style="top:48px;background:linear-gradient(90deg,#f1ef00 0.5px,#e5ed03 3.5px,#a9da11 6.5px,#46ba18 9.5px,#0e9c25 12.5px,#017854 15.5px,#006580 18.5px,#005b92 21.5px,#005898 24.5px,#00559b 27.5px,#00559c 30.5px,#00559b 33.5px,#005a94 36.5px,#006188 39.5px,#00735a 42.5px,#078f34 45.5px,#16a31f 48.5px,#39b519 51.5px,#69c515 54.5px,#95d312 57.5px,#badf0e 60.5px,#d7e806 63.5px,#eaee01 66.5px,#f0f000 69.5px,#f1f000 72.5px,#eeef01 75.5px,#e7ed02 78.5px,#ddea05 81.5px,#d0e608 84.5px,#bbe00d 87.5px,#a4d811 90.5px,#84ce13 93.5px,#65c415 96.5px,#44b918 99.5px,#2daf1b 102.5px,#109f21 105.5px,#0a942f 108.5px)"></div><div style="top:49px;background:linear-gradient(90deg,#f4ed00 0.5px,#ebef01 3.5px,#afdc10 6.5px,#4ebc17 9.5px,#0f9f21 12.5px,#027b50 15.5px,#00687a 18.5px,#005e8e 21.5px,#005995 24.5px,#005798 27.5px,#005799 30.5px,#005799 33.5px,#005c91 36.5px,#006484 39.5px,#017657 42.5px,#089132 45.5px,#1aa51e 48.5px,#3cb619 51.5px,#6ec715 54.5px,#99d512 57.5px,#bee00c 60.5px,#dcea05 63.5px,#eef000 66.5px,#f1ef00 69.5px,#f2ee00 72.5px,#f0f000 75.5px,#eaee01 78.5px,#e0eb04 81.5px,#d2e707 84.5px,#bee00c 87.5px,#a7d911 90.5px,#88cf13 93.5px,#68c515 96.5px,#47ba18 99.5px,#2faf1b 102.5px,#10a020 105.5px,#0a942e 108.5px)"></div><div style="top:50px;background:linear-gradient(90deg,#f7ea00 0.5px,#f1ef00 3.5px,#b7de0e 6.5px,#56bf16 9.5px,#13a21f 12.5px,#037e4b 15.5px,#006a74 18.5px,#00608b 21.5px,#005b92 24.5px,#005996 27.5px,#005897 30.5px,#005896 33.5px,#005e8e 36.5px,#00667f 39.5px,#017854 42.5px,#099330 45.5px,#1ca61e 48.5px,#3eb718 51.5px,#71c814 54.5px,#9dd611 57.5px,#c1e10c 60.5px,#deeb04 63.5px,#f0f000 66.5px,#f2ee00 69.5px,#f3ee00 72.5px,#f1ef00 75.5px,#ecef01 78.5px,#e1eb04 81.5px,#d4e707 84.5px,#c0e10c 87.5px,#a9da10 90.5px,#8ad013 93.5px,#6ac615 96.5px,#49bb17 99.5px,#30b01b 102.5px,#11a020 105.5px,#0a952d 108.5px)"></div><div style="top:51px;background:linear-gradient(90deg,#fbe700 0.5px,#f5ec00 3.5px,#bfe10c 6.5px,#5ec216 9.5px,#18a41f 12.5px,#048147 15.5px,#006c6e 18.5px,#006288 21.5px,#005d8f 24.5px,#005a94 27.5px,#005995 30.5px,#005a94 33.5px,#00608b 36.5px,#00677a 39.5px,#027a51 42.5px,#0a942e 45.5px,#1ea71e 48.5px,#40b818 51.5px,#74c914 54.5px,#a0d711 57.5px,#c3e20b 60.5px,#e0eb04 63.5px,#f1f000 66.5px,#f3ee00 69.5px,#f3ee00 72.5px,#f1ef00 75.5px,#ecef01 78.5px,#e2ec04 81.5px,#d5e707 84.5px,#c1e10c 87.5px,#abda10 90.5px,#8cd013 93.5px,#6cc615 96.5px,#4cbc17 99.5px,#31b11a 102.5px,#12a120 105.5px,#0b962c 108.5px)"></div><div style="top:52px;background:linear-gradient(90deg,#ffe400 0.5px,#f9e900 3.5px,#c8e30a 6.5px,#67c415 9.5px,#1da71e 12.5px,#048542 15.5px,#006e68 18.5px,#006385 21.5px,#005e8d 24.5px,#005b91 27.5px,#005b93 30.5px,#005b92 33.5px,#006188 36.5px,#006975 39.5px,#027c4e 42.5px,#0b952d 45.5px,#20a81d 48.5px,#43b918 51.5px,#76c914 54.5px,#a2d711 57.5px,#c5e30b 60.5px,#e1eb04 63.5px,#f1ef00 66.5px,#f3ee00 69.5px,#f3ee00 72.5px,#f1ef00 75.5px,#ecef01 78.5px,#e2ec03 81.5px,#d5e807 84.5px,#c2e20b 87.5px,#acdb10 90.5px,#8ed112 93.5px,#6ec715 96.5px,#4ebc17 99.5px,#32b11a 102.5px,#13a120 105.5px,#0b962c 108.5px)"></div><div style="top:53px;background:linear-gradient(90deg,#ffde00 0.5px,#fce600 3.5px,#d1e608 6.5px,#6fc715 9.5px,#22a91d 12.5px,#05883e 15.5px,#007063 18.5px,#006581 21.5px,#00608a 24.5px,#005d8f 27.5px,#005c91 30.5px,#005c90 33.5px,#006386 36.5px,#006b70 39.5px,#037e4b 42.5px,#0b972b 45.5px,#22a91d 48.5px,#45ba18 51.5px,#78ca14 54.5px,#a4d811 57.5px,#c6e30a 60.5px,#e1eb04 63.5px,#f1ef00 66.5px,#f3ee00 69.5px,#f3ee00 72.5px,#f1ef00 75.5px,#ecef01 78.5px,#e2ec03 81.5px,#d5e807 84.5px,#c3e20b 87.5px,#addb10 90.5px,#8fd112 93.5px,#70c815 96.5px,#50bd17 99.5px,#33b21a 102.5px,#14a21f 105.5px,#0b972b 108.5px)"></div><div style="top:54px;background:linear-gradient(90deg,#ffd900 0.5px,#ffe300 3.5px,#d9e906 6.5px,#77ca14 9.5px,#27ab1c 12.5px,#068b39 15.5px,#00725d 18.5px,#00667d 21.5px,#006188 24.5px,#005e8d 27.5px,#005d8f 30.5px,#005e8e 33.5px,#006582 36.5px,#006d6b 39.5px,#038148 42.5px,#0c9829 45.5px,#24aa1d 48.5px,#48ba17 51.5px,#7acb14 54.5px,#a6d911 57.5px,#c8e30a 60.5px,#e2ec04 63.5px,#f1ef00 66.5px,#f3ee00 69.5px,#f3ee00 72.5px,#f1ef00 75.5px,#ecef01 78.5px,#e2ec03 81.5px,#d5e807 84.5px,#c3e20b 87.5px,#aedb10 90.5px,#91d212 93.5px,#72c814 96.5px,#52be17 99.5px,#34b21a 102.5px,#15a31f 105.5px,#0c972a 108.5px)"></div><div style="top:55px;background:linear-gradient(90deg,#ffd300 0.5px,#ffdd00 3.5px,#e2ec04 6.5px,#7fcc13 9.5px,#2cae1b 12.5px,#078e36 15.5px,#007459 18.5px,#006879 21.5px,#006386 24.5px,#00608b 27.5px,#005f8d 30.5px,#005f8c 33.5px,#00667f 36.5px,#006e66 39.5px,#048345 42.5px,#0d9928 45.5px,#26ab1c 48.5px,#4abb17 51.5px,#7ccb14 54.5px,#a8d911 57.5px,#c9e40a 60.5px,#e2ec03 63.5px,#f1ef00 66.5px,#f3ee00 69.5px,#f3ee00 72.5px,#f1ef00 75.5px,#ecef01 78.5px,#e2ec03 81.5px,#d5e807 84.5px,#c4e20b 87.5px,#afdc10 90.5px,#93d312 93.5px,#74c914 96.5px,#54be17 99.5px,#36b31a 102.5px,#16a31f 105.5px,#0c982a 108.5px)"></div><div style="top:56px;background:linear-gradient(90deg,#ffcd00 0.5px,#ffd800 3.5px,#ebee01 6.5px,#88cf13 9.5px,#31b01b 12.5px,#089033 15.5px,#017756 18.5px,#006975 21.5px,#006483 24.5px,#006189 27.5px,#00608b 30.5px,#00608a 33.5px,#00677b 36.5px,#007061 39.5px,#048542 42.5px,#0d9b26 45.5px,#28ac1c 48.5px,#4dbc17 51.5px,#7ecc14 54.5px,#aada10 57.5px,#cbe409 60.5px,#e3ec03 63.5px,#f1ef00 66.5px,#f3ee00 69.5px,#f3ee00 72.5px,#f1ef00 75.5px,#ecef01 78.5px,#e2ec04 81.5px,#d5e807 84.5px,#c5e20b 87.5px,#b0dc10 90.5px,#94d312 93.5px,#76c914 96.5px,#56bf16 99.5px,#37b31a 102.5px,#17a41f 105.5px,#0c9929 108.5px)"></div><div style="top:57px;background:linear-gradient(90deg,#ffc800 0.5px,#ffd300 3.5px,#f1ef00 6.5px,#90d212 9.5px,#36b31a 12.5px,#0a932f 15.5px,#027952 18.5px,#006b70 21.5px,#00667f 24.5px,#006286 27.5px,#006188 30.5px,#006287 33.5px,#006977 36.5px,#00725c 39.5px,#05873f 42.5px,#0e9c25 45.5px,#2aad1c 48.5px,#4fbd17 51.5px,#80cd13 54.5px,#acdb10 57.5px,#cce509 60.5px,#e3ec03 63.5px,#f1f000 66.5px,#f2ee00 69.5px,#f3ee00 72.5px,#f1ef00 75.5px,#ecef01 78.5px,#e2ec04 81.5px,#d5e807 84.5px,#c5e30b 87.5px,#b1dc10 90.5px,#96d412 93.5px,#78ca14 96.5px,#58c016 99.5px,#38b419 102.5px,#18a41f 105.5px,#0d9928 108.5px)"></div><div style="top:58px;background:linear-gradient(90deg,#ffc200 0.5px,#ffcd00 3.5px,#f5ec00 6.5px,#99d512 9.5px,#3bb619 12.5px,#0b962c 15.5px,#027c4e 18.5px,#006d6b 21.5px,#00677a 24.5px,#006483 27.5px,#006385 30.5px,#006484 33.5px,#006a72 36.5px,#017459 39.5px,#05893c 42.5px,#0f9e23 45.5px,#2cae1b 48.5px,#51be17 51.5px,#82cd13 54.5px,#addb10 57.5px,#cce509 60.5px,#e2ec03 63.5px,#f0f000 66.5px,#f2ee00 69.5px,#f3ee00 72.5px,#f1ef00 75.5px,#ebef01 78.5px,#e1eb04 81.5px,#d5e807 84.5px,#c5e30b 87.5px,#b2dd0f 90.5px,#97d412 93.5px,#7acb14 96.5px,#5ac016 99.5px,#39b419 102.5px,#19a51e 105.5px,#0d9a28 108.5px)"></div><div style="top:59px;background:linear-gradient(90deg,#ffbc00 0.5px,#ffc800 3.5px,#f8e900 6.5px,#a4d811 9.5px,#43b918 12.5px,#0d9a28 15.5px,#038049 18.5px,#006f64 21.5px,#006a74 24.5px,#00677d 27.5px,#00667f 30.5px,#00667e 33.5px,#006d6c 36.5px,#017755 39.5px,#068c38 42.5px,#109f21 45.5px,#2eaf1b 48.5px,#53be17 51.5px,#83ce13 54.5px,#addb10 57.5px,#cce509 60.5px,#e1eb04 63.5px,#eef000 66.5px,#f1ef00 69.5px,#f2ef00 72.5px,#f0f000 75.5px,#eaee02 78.5px,#e0eb04 81.5px,#d4e707 84.5px,#c4e20b 87.5px,#b2dd0f 90.5px,#98d412 93.5px,#7bcb14 96.5px,#5bc116 99.5px,#39b519 102.5px,#1aa51e 105.5px,#0d9a27 108.5px)"></div><div style="top:60px;background:linear-gradient(90deg,#ffb500 0.5px,#ffc100 3.5px,#fce600 6.5px,#b0dc10 9.5px,#50bd17 12.5px,#0f9e23 15.5px,#048542 18.5px,#00735b 21.5px,#006d6b 24.5px,#006a74 27.5px,#006976 30.5px,#006975 33.5px,#006f63 36.5px,#027b50 39.5px,#078e36 42.5px,#11a120 45.5px,#2fb01b 48.5px,#55bf16 51.5px,#83ce13 54.5px,#acdb10 57.5px,#c9e40a 60.5px,#ddea05 63.5px,#eaee01 66.5px,#f0f000 69.5px,#f0f000 72.5px,#edef01 75.5px,#e7ed02 78.5px,#ddea05 81.5px,#d1e608 84.5px,#c3e20b 87.5px,#b1dc10 90.5px,#98d412 93.5px,#7ccb14 96.5px,#5cc116 99.5px,#3ab519 102.5px,#1ba51e 105.5px,#0d9a27 108.5px)"></div><div style="top:61px;background:linear-gradient(90deg,#ffae00 0.5px,#ffbb00 3.5px,#ffe100 6.5px,#bde00d 9.5px,#5dc116 12.5px,#15a21f 15.5px,#068a3b 18.5px,#017854 21.5px,#00715f 24.5px,#006e69 27.5px,#006d6b 30.5px,#006d6a 33.5px,#00735a 36.5px,#037e4b 39.5px,#089033 42.5px,#14a21f 45.5px,#31b11a 48.5px,#57bf16 51.5px,#83cd13 54.5px,#a9da10 57.5px,#c6e30b 60.5px,#d8e906 63.5px,#e5ed03 66.5px,#eaee01 69.5px,#ecef01 72.5px,#e9ee02 75.5px,#e3ec03 78.5px,#d9e906 81.5px,#cee509 84.5px,#c0e10c 87.5px,#b0dc10 90.5px,#97d412 93.5px,#7dcb14 96.5px,#5cc116 99.5px,#3ab519 102.5px,#1ba51e 105.5px,#0d9b27 108.5px)"></div><div style="top:62px;background:linear-gradient(90deg,#ffa700 0.5px,#ffb400 3.5px,#ffdb00 6.5px,#cae40a 9.5px,#6bc615 12.5px,#1ea71e 15.5px,#078f34 18.5px,#037d4c 21.5px,#017656 24.5px,#00725c 27.5px,#00715e 30.5px,#00725d 33.5px,#017853 36.5px,#048345 39.5px,#099330 42.5px,#18a41f 45.5px,#34b21a 48.5px,#58c016 51.5px,#82cd13 54.5px,#a6d911 57.5px,#c1e10c 60.5px,#d3e707 63.5px,#dfeb04 66.5px,#e4ec03 69.5px,#e6ed02 72.5px,#e4ec03 75.5px,#dfeb04 78.5px,#d5e707 81.5px,#cae40a 84.5px,#bde00d 87.5px,#aedb10 90.5px,#96d412 93.5px,#7ccb14 96.5px,#5cc116 99.5px,#3ab519 102.5px,#1ba51e 105.5px,#0d9b27 108.5px)"></div><div style="top:63px;background:linear-gradient(90deg,#ffa000 0.5px,#ffae00 3.5px,#ffd400 6.5px,#d7e806 9.5px,#78ca14 12.5px,#26ab1c 15.5px,#0a942f 18.5px,#048344 21.5px,#027c4e 24.5px,#017853 27.5px,#017755 30.5px,#017854 33.5px,#037e4b 36.5px,#05883e 39.5px,#0b962c 42.5px,#1ca61e 45.5px,#36b31a 48.5px,#5ac016 51.5px,#81cd13 54.5px,#a3d811 57.5px,#bce00d 60.5px,#cde509 63.5px,#d8e806 66.5px,#ddea05 69.5px,#e0eb04 72.5px,#dfeb04 75.5px,#dae905 78.5px,#d0e608 81.5px,#c5e30b 84.5px,#badf0e 87.5px,#abda10 90.5px,#95d312 93.5px,#7ccb14 96.5px,#5cc116 99.5px,#3ab519 102.5px,#1ba51e 105.5px,#0d9a27 108.5px)"></div><div style="top:64px;background:linear-gradient(90deg,#ff9b00 0.5px,#ffa800 3.5px,#ffce00 6.5px,#e2eb04 9.5px,#82cd13 12.5px,#2daf1b 15.5px,#0c9829 18.5px,#058a3b 21.5px,#048345 24.5px,#037f4a 27.5px,#037e4b 30.5px,#037f4b 33.5px,#048443 36.5px,#068d37 39.5px,#0d9928 42.5px,#20a81d 45.5px,#39b419 48.5px,#5dc116 51.5px,#81cd13 54.5px,#a1d711 57.5px,#b8de0e 60.5px,#c7e30a 63.5px,#d2e708 66.5px,#d7e806 69.5px,#dae906 72.5px,#d9e906 75.5px,#d5e807 78.5px,#cbe409 81.5px,#c1e10c 84.5px,#b6de0f 87.5px,#a8d911 90.5px,#93d312 93.5px,#7bcb14 96.5px,#5bc116 99.5px,#39b519 102.5px,#1ba51e 105.5px,#0d9a27 108.5px)"></div><div style="top:65px;background:linear-gradient(90deg,#ff9600 0.5px,#ffa200 3.5px,#ffc900 6.5px,#ebee01 9.5px,#8ad013 12.5px,#33b21a 15.5px,#0e9d24 18.5px,#088f34 21.5px,#058a3b 24.5px,#058640 27.5px,#048541 30.5px,#058641 33.5px,#068b39 36.5px,#099231 39.5px,#0f9d23 42.5px,#26ab1c 45.5px,#3cb619 48.5px,#60c216 51.5px,#81cd13 54.5px,#9ed611 57.5px,#b4dd0f 60.5px,#c2e20b 63.5px,#cce509 66.5px,#d2e608 69.5px,#d5e707 72.5px,#d4e707 75.5px,#d0e608 78.5px,#c6e30a 81.5px,#bce00d 84.5px,#b1dc10 87.5px,#a4d811 90.5px,#90d212 93.5px,#79ca14 96.5px,#59c016 99.5px,#39b419 102.5px,#1aa51e 105.5px,#0d9a28 108.5px)"></div><div style="top:66px;background:linear-gradient(90deg,#ff9100 0.5px,#ff9e00 3.5px,#ffc400 6.5px,#f1ef00 9.5px,#8fd112 12.5px,#38b419 15.5px,#11a120 18.5px,#0a942e 21.5px,#089033 24.5px,#078e36 27.5px,#068d37 30.5px,#078d37 33.5px,#099132 36.5px,#0b972b 39.5px,#13a21f 42.5px,#2bae1b 45.5px,#41b818 48.5px,#64c315 51.5px,#82cd13 54.5px,#9dd611 57.5px,#b1dc10 60.5px,#bee00d 63.5px,#c7e30a 66.5px,#cce509 69.5px,#cfe608 72.5px,#cfe608 75.5px,#cce509 78.5px,#c1e10c 81.5px,#b7de0e 84.5px,#acdb10 87.5px,#9fd711 90.5px,#8dd113 93.5px,#76c914 96.5px,#57bf16 99.5px,#38b419 102.5px,#1aa51e 105.5px,#0d9928 108.5px)"></div><div style="top:67px;background:linear-gradient(90deg,#ff8d00 0.5px,#ff9a00 3.5px,#ffbf00 6.5px,#f3ed00 9.5px,#94d312 12.5px,#3cb619 15.5px,#19a41f 18.5px,#0d9928 21.5px,#0b952d 24.5px,#0a932f 27.5px,#099330 30.5px,#0a932f 33.5px,#0b972b 36.5px,#0e9c25 39.5px,#1ba61e 42.5px,#32b11a 45.5px,#48bb17 48.5px,#68c515 51.5px,#83ce13 54.5px,#9bd511 57.5px,#aedb10 60.5px,#b9df0e 63.5px,#c2e20b 66.5px,#c7e30a 69.5px,#cae409 72.5px,#cae409 75.5px,#c7e30a 78.5px,#bde00d 81.5px,#b2dd0f 84.5px,#a7d911 87.5px,#9bd512 90.5px,#89d013 93.5px,#74c914 96.5px,#54be17 99.5px,#37b31a 102.5px,#1aa51e 105.5px,#0c9829 108.5px)"></div><div style="top:68px;background:linear-gradient(90deg,#ff8900 0.5px,#ff9500 3.5px,#ffba00 6.5px,#f6eb00 9.5px,#98d412 12.5px,#40b818 15.5px,#20a81d 18.5px,#0f9f22 21.5px,#0d9b26 24.5px,#0d9928 27.5px,#0c9928 30.5px,#0d9928 33.5px,#0e9d24 36.5px,#13a120 39.5px,#23aa1d 42.5px,#38b419 45.5px,#50bd17 48.5px,#6cc615 51.5px,#84ce13 54.5px,#9ad512 57.5px,#aada10 60.5px,#b5de0f 63.5px,#bde00d 66.5px,#c2e20b 69.5px,#c6e30b 72.5px,#c6e30b 75.5px,#c2e20c 78.5px,#b8de0e 81.5px,#addb10 84.5px,#a2d811 87.5px,#96d412 90.5px,#86ce13 93.5px,#71c814 96.5px,#52be17 99.5px,#36b31a 102.5px,#19a51e 105.5px,#0c982a 108.5px)"></div><div style="top:69px;background:linear-gradient(90deg,#ff8500 0.5px,#ff9100 3.5px,#ffb600 6.5px,#f8e900 9.5px,#9cd511 12.5px,#47ba18 15.5px,#28ac1c 18.5px,#17a31f 21.5px,#11a120 24.5px,#109f21 27.5px,#109f21 30.5px,#109f21 33.5px,#14a21f 36.5px,#1da61e 39.5px,#2bae1b 42.5px,#3eb718 45.5px,#58c016 48.5px,#70c715 51.5px,#85ce13 54.5px,#99d512 57.5px,#a7d911 60.5px,#b1dc10 63.5px,#b8df0e 66.5px,#bee00d 69.5px,#c1e10c 72.5px,#c1e10c 75.5px,#bde00d 78.5px,#b3dd0f 81.5px,#a8d911 84.5px,#9dd611 87.5px,#91d212 90.5px,#82cd13 93.5px,#6fc715 96.5px,#4fbd17 99.5px,#34b21a 102.5px,#19a41f 105.5px,#0b972b 108.5px)"></div><div style="top:70px;background:linear-gradient(90deg,#ff8200 0.5px,#ff8d00 3.5px,#ffb100 6.5px,#fbe700 9.5px,#a0d711 12.5px,#4ebc17 15.5px,#2fb01b 18.5px,#20a81d 21.5px,#1ba61e 24.5px,#19a51e 27.5px,#19a41f 30.5px,#19a51e 33.5px,#1ea71e 36.5px,#26ab1c 39.5px,#34b21a 42.5px,#48ba17 45.5px,#60c216 48.5px,#74c914 51.5px,#86cf13 54.5px,#97d412 57.5px,#a4d811 60.5px,#addb10 63.5px,#b4dd0f 66.5px,#b9df0e 69.5px,#bce00d 72.5px,#bce00d 75.5px,#b8df0e 78.5px,#aedb10 81.5px,#a3d811 84.5px,#98d412 87.5px,#8cd113 90.5px,#7fcc14 93.5px,#6cc615 96.5px,#4cbc17 99.5px,#33b21a 102.5px,#18a41f 105.5px,#0b962c 108.5px)"></div><div style="top:71px;background:linear-gradient(90deg,#ff7e00 0.5px,#ff8900 3.5px,#ffac00 6.5px,#fde500 9.5px,#a5d811 12.5px,#55bf16 15.5px,#36b31a 18.5px,#29ac1c 21.5px,#25aa1d 24.5px,#24aa1d 27.5px,#23aa1d 30.5px,#23aa1d 33.5px,#28ac1c 36.5px,#2fb01b 39.5px,#3bb619 42.5px,#52be17 45.5px,#67c515 48.5px,#78ca14 51.5px,#88cf13 54.5px,#96d412 57.5px,#a1d711 60.5px,#a9da11 63.5px,#afdc10 66.5px,#b4dd0f 69.5px,#b7de0e 72.5px,#b7de0e 75.5px,#b4dd0f 78.5px,#a9da10 81.5px,#9fd611 84.5px,#94d312 87.5px,#88cf13 90.5px,#7bcb14 93.5px,#69c515 96.5px,#49bb17 99.5px,#32b11a 102.5px,#17a41f 105.5px,#0b962d 108.5px)"></div><div style="top:72px;background:linear-gradient(90deg,#ff7a00 0.5px,#ff8500 3.5px,#ffa700 6.5px,#ffe200 9.5px,#aada10 12.5px,#5dc116 15.5px,#3db619 18.5px,#31b01b 21.5px,#2daf1b 24.5px,#2dae1b 27.5px,#2cae1b 30.5px,#2dae1b 33.5px,#31b01b 36.5px,#37b419 39.5px,#44b918 42.5px,#5cc116 45.5px,#6ec715 48.5px,#7bcb14 51.5px,#89cf13 54.5px,#95d312 57.5px,#9fd611 60.5px,#a5d811 63.5px,#abda10 66.5px,#b0dc10 69.5px,#b3dd0f 72.5px,#b3dd0f 75.5px,#afdc10 78.5px,#a5d911 81.5px,#9bd512 84.5px,#90d212 87.5px,#85ce13 90.5px,#78ca14 93.5px,#67c415 96.5px,#46ba18 99.5px,#30b01b 102.5px,#16a31f 105.5px,#0a952e 108.5px)"></div><div style="top:73px;background:linear-gradient(90deg,#ff7600 0.5px,#ff8000 3.5px,#ffa100 6.5px,#ffdd00 9.5px,#b2dd10 12.5px,#65c415 15.5px,#45ba18 18.5px,#38b419 21.5px,#35b21a 24.5px,#34b21a 27.5px,#34b21a 30.5px,#35b21a 33.5px,#38b419 36.5px,#3eb718 39.5px,#4ebd17 42.5px,#63c315 45.5px,#73c814 48.5px,#7ecc14 51.5px,#89d013 54.5px,#94d312 57.5px,#9cd611 60.5px,#a2d711 63.5px,#a7d911 66.5px,#acdb10 69.5px,#afdc10 72.5px,#afdc10 75.5px,#acdb10 78.5px,#a2d711 81.5px,#98d412 84.5px,#8dd112 87.5px,#82cd13 90.5px,#76c914 93.5px,#64c415 96.5px,#42b918 99.5px,#2dae1b 102.5px,#13a21f 105.5px,#0a942f 108.5px)"></div><div style="top:74px;background:linear-gradient(90deg,#ff7200 0.5px,#ff7b00 3.5px,#ff9a00 6.5px,#ffd700 9.5px,#bbdf0d 12.5px,#6dc615 15.5px,#4fbd17 18.5px,#3eb718 21.5px,#3bb519 24.5px,#3bb519 27.5px,#3bb519 30.5px,#3bb619 33.5px,#3eb718 36.5px,#47ba18 39.5px,#56bf16 42.5px,#69c515 45.5px,#77ca14 48.5px,#80cd13 51.5px,#8ad013 54.5px,#93d312 57.5px,#9bd512 60.5px,#9fd711 63.5px,#a4d811 66.5px,#a9da11 69.5px,#abdb10 72.5px,#abdb10 75.5px,#a8d911 78.5px,#9fd711 81.5px,#96d412 84.5px,#8cd013 87.5px,#81cd13 90.5px,#74c914 93.5px,#61c316 96.5px,#3eb718 99.5px,#29ad1c 102.5px,#10a020 105.5px,#099230 108.5px)"></div><div style="top:75px;background:linear-gradient(90deg,#ff6e00 0.5px,#ff7600 3.5px,#ff9400 6.5px,#ffd000 9.5px,#c5e20b 12.5px,#75c914 15.5px,#58c016 18.5px,#45ba18 21.5px,#41b818 24.5px,#41b818 27.5px,#41b818 30.5px,#41b818 33.5px,#47ba18 36.5px,#4fbd17 39.5px,#5dc116 42.5px,#6ec715 45.5px,#7acb14 48.5px,#82cd13 51.5px,#8ad013 54.5px,#93d312 57.5px,#99d512 60.5px,#9dd611 63.5px,#a2d711 66.5px,#a6d911 69.5px,#a8d911 72.5px,#a8d911 75.5px,#a5d911 78.5px,#9dd611 81.5px,#94d312 84.5px,#8bd013 87.5px,#80cd13 90.5px,#73c814 93.5px,#5fc216 96.5px,#3cb619 99.5px,#25ab1c 102.5px,#0f9d23 105.5px,#099132 108.5px)"></div><div style="top:76px;background:linear-gradient(90deg,#ff6a00 0.5px,#ff7100 3.5px,#ff8d00 6.5px,#ffc900 9.5px,#cfe608 12.5px,#7ecc14 15.5px,#60c216 18.5px,#4fbd17 21.5px,#4abb17 24.5px,#4abb17 27.5px,#4abb17 30.5px,#4bbb17 33.5px,#50bd17 36.5px,#57bf16 39.5px,#63c315 42.5px,#72c814 45.5px,#7ccb14 48.5px,#84ce13 51.5px,#8bd013 54.5px,#92d212 57.5px,#98d412 60.5px,#9cd511 63.5px,#9fd711 66.5px,#a3d811 69.5px,#a5d811 72.5px,#a5d811 75.5px,#a2d811 78.5px,#9bd511 81.5px,#93d312 84.5px,#8ad013 87.5px,#80cc13 90.5px,#71c814 93.5px,#5cc116 96.5px,#39b419 99.5px,#21a81d 102.5px,#0d9b26 105.5px,#089034 108.5px)"></div><div style="top:77px;background:linear-gradient(90deg,#ff6600 0.5px,#ff6c00 3.5px,#ff8600 6.5px,#ffc300 9.5px,#d9e906 12.5px,#87cf13 15.5px,#69c515 18.5px,#58c016 21.5px,#54be17 24.5px,#54be17 27.5px,#54be17 30.5px,#54be17 33.5px,#58c016 36.5px,#5fc216 39.5px,#69c515 42.5px,#76c914 45.5px,#7fcc14 48.5px,#85ce13 51.5px,#8bd013 54.5px,#92d212 57.5px,#97d412 60.5px,#9ad512 63.5px,#9dd611 66.5px,#a0d711 69.5px,#a2d711 72.5px,#a2d711 75.5px,#a0d711 78.5px,#99d512 81.5px,#92d212 84.5px,#8ad013 87.5px,#7fcc13 90.5px,#70c715 93.5px,#59c016 96.5px,#36b31a 99.5px,#1ca61e 102.5px,#0c9829 105.5px,#078e35 108.5px)"></div><div style="top:78px;background:linear-gradient(90deg,#ff6100 0.5px,#ff6700 3.5px,#ff8000 6.5px,#ffbc00 9.5px,#e4ec03 12.5px,#8fd112 15.5px,#71c815 18.5px,#61c216 21.5px,#5dc116 24.5px,#5dc116 27.5px,#5dc116 30.5px,#5dc116 33.5px,#61c316 36.5px,#66c415 39.5px,#6fc715 42.5px,#7acb14 45.5px,#81cd13 48.5px,#87cf13 51.5px,#8cd013 54.5px,#91d212 57.5px,#95d312 60.5px,#98d412 63.5px,#9bd512 66.5px,#9dd611 69.5px,#9fd711 72.5px,#9fd711 75.5px,#9dd611 78.5px,#98d412 81.5px,#91d212 84.5px,#89d013 87.5px,#7fcc14 90.5px,#6fc715 93.5px,#56bf16 96.5px,#33b11a 99.5px,#18a41f 102.5px,#0b952d 105.5px,#068d37 108.5px)"></div><div style="top:79px;background:linear-gradient(90deg,#ff5d00 0.5px,#ff6200 3.5px,#ff7900 6.5px,#ffb500 9.5px,#eff000 12.5px,#98d412 15.5px,#79ca14 18.5px,#6ac515 21.5px,#66c415 24.5px,#66c415 27.5px,#66c415 30.5px,#66c415 33.5px,#69c515 36.5px,#6ec715 39.5px,#75c914 42.5px,#7ecc14 45.5px,#84ce13 48.5px,#88cf13 51.5px,#8cd113 54.5px,#91d212 57.5px,#94d312 60.5px,#96d412 63.5px,#98d412 66.5px,#9bd512 69.5px,#9cd611 72.5px,#9cd611 75.5px,#9ad512 78.5px,#96d412 81.5px,#91d212 84.5px,#89cf13 87.5px,#7fcc14 90.5px,#6ec715 93.5px,#54be17 96.5px,#30b01b 99.5px,#13a21f 102.5px,#099330 105.5px,#068b39 108.5px)"></div><div style="top:80px;background:linear-gradient(90deg,#ff5900 0.5px,#ff5d00 3.5px,#ff7200 6.5px,#ffae00 9.5px,#f3ed00 12.5px,#a1d711 15.5px,#81cd13 18.5px,#72c814 21.5px,#6fc715 24.5px,#6fc715 27.5px,#6fc715 30.5px,#6fc715 33.5px,#72c814 36.5px,#75c914 39.5px,#7bcb14 42.5px,#81cd13 45.5px,#86cf13 48.5px,#89d013 51.5px,#8dd113 54.5px,#90d212 57.5px,#93d312 60.5px,#94d312 63.5px,#96d412 66.5px,#98d412 69.5px,#99d512 72.5px,#99d512 75.5px,#98d412 78.5px,#94d312 81.5px,#90d212 84.5px,#89cf13 87.5px,#7ecc14 90.5px,#6cc615 93.5px,#51bd17 96.5px,#2dae1b 99.5px,#109f21 102.5px,#089033 105.5px,#05893b 108.5px)"></div><div style="top:81px;background:linear-gradient(90deg,#ff5500 0.5px,#ff5800 3.5px,#ff6b00 6.5px,#ffa600 9.5px,#f7ea00 12.5px,#a9da10 15.5px,#89d013 18.5px,#7bcb14 21.5px,#78ca14 24.5px,#78ca14 27.5px,#78ca14 30.5px,#78ca14 33.5px,#7acb14 36.5px,#7ccb14 39.5px,#80cd13 42.5px,#85ce13 45.5px,#88cf13 48.5px,#8bd013 51.5px,#8dd112 54.5px,#90d212 57.5px,#92d212 60.5px,#93d312 63.5px,#94d312 66.5px,#95d312 69.5px,#96d412 72.5px,#96d412 75.5px,#95d312 78.5px,#93d312 81.5px,#8fd112 84.5px,#88cf13 87.5px,#7ecc14 90.5px,#6bc615 93.5px,#4ebd17 96.5px,#2aad1c 99.5px,#0e9d24 102.5px,#078d36 105.5px,#05883e 108.5px)"></div><div style="top:82px;background:linear-gradient(90deg,#ff5100 0.5px,#ff5300 3.5px,#ff6500 6.5px,#ff9f00 9.5px,#fae800 12.5px,#b1dc10 15.5px,#91d212 18.5px,#83ce13 21.5px,#80cd13 24.5px,#80cd13 27.5px,#80cd13 30.5px,#81cd13 33.5px,#82cd13 36.5px,#83ce13 39.5px,#86ce13 42.5px,#89cf13 45.5px,#8bd013 48.5px,#8cd113 51.5px,#8ed112 54.5px,#8fd212 57.5px,#91d212 60.5px,#91d212 63.5px,#92d212 66.5px,#93d312 69.5px,#93d312 72.5px,#93d312 75.5px,#93d312 78.5px,#91d212 81.5px,#8ed112 84.5px,#88cf13 87.5px,#7dcc14 90.5px,#6ac515 93.5px,#4bbc17 96.5px,#27ab1c 99.5px,#0d9a27 102.5px,#068b3a 105.5px,#058640 108.5px)"></div><div style="top:83px;background:linear-gradient(90deg,#ff4e00 0.5px,#ff4f00 3.5px,#ff6000 6.5px,#ff9900 9.5px,#fee500 12.5px,#b9df0e 15.5px,#98d412 18.5px,#8bd013 21.5px,#88cf13 24.5px,#88cf13 27.5px,#88cf13 30.5px,#88cf13 33.5px,#88cf13 36.5px,#89d013 39.5px,#8ad013 42.5px,#8cd013 45.5px,#8dd113 48.5px,#8ed112 51.5px,#8fd112 54.5px,#8fd212 57.5px,#90d212 60.5px,#91d212 63.5px,#91d212 66.5px,#91d212 69.5px,#92d212 72.5px,#92d212 75.5px,#91d212 78.5px,#90d212 81.5px,#8dd112 84.5px,#87cf13 87.5px,#7ccb14 90.5px,#67c515 93.5px,#48ba17 96.5px,#24aa1d 99.5px,#0c982a 102.5px,#05873f 105.5px,#048443 108.5px)"></div><div style="top:84px;background:linear-gradient(90deg,#ff4c00 0.5px,#ff4c00 3.5px,#ff5b00 6.5px,#ff9300 9.5px,#ffe100 12.5px,#c0e10c 15.5px,#9ed611 18.5px,#90d212 21.5px,#8dd112 24.5px,#8dd112 27.5px,#8dd112 30.5px,#8dd112 33.5px,#8ed112 36.5px,#8ed112 39.5px,#8ed112 42.5px,#8ed112 45.5px,#8fd112 48.5px,#8fd112 51.5px,#8fd212 54.5px,#90d212 57.5px,#90d212 60.5px,#90d212 63.5px,#91d212 66.5px,#91d212 69.5px,#91d212 72.5px,#91d212 75.5px,#91d212 78.5px,#90d212 81.5px,#8dd113 84.5px,#86ce13 87.5px,#7bcb14 90.5px,#65c415 93.5px,#44b918 96.5px,#20a81d 99.5px,#0b962d 102.5px,#048443 105.5px,#048345 108.5px)"></div><div style="top:85px;background:linear-gradient(90deg,#ff4a00 0.5px,#ff4a00 3.5px,#ff5800 6.5px,#ff8e00 9.5px,#ffdd00 12.5px,#c6e30b 15.5px,#a3d811 18.5px,#95d312 21.5px,#92d212 24.5px,#92d212 27.5px,#92d212 30.5px,#92d212 33.5px,#92d212 36.5px,#92d212 39.5px,#91d212 42.5px,#91d212 45.5px,#90d212 48.5px,#90d212 51.5px,#91d212 54.5px,#91d212 57.5px,#91d212 60.5px,#91d212 63.5px,#91d212 66.5px,#91d212 69.5px,#91d212 72.5px,#91d212 75.5px,#91d212 78.5px,#8fd212 81.5px,#8cd013 84.5px,#85ce13 87.5px,#78ca14 90.5px,#61c316 93.5px,#3fb818 96.5px,#1da71e 99.5px,#0a932f 102.5px,#038048 105.5px,#048147 108.5px)"></div><div style="top:86px;background:linear-gradient(90deg,#ff4800 0.5px,#ff4800 3.5px,#ff5600 6.5px,#ff8a00 9.5px,#ffd900 12.5px,#cbe509 15.5px,#a8d911 18.5px,#98d412 21.5px,#95d312 24.5px,#95d312 27.5px,#95d312 30.5px,#95d312 33.5px,#95d312 36.5px,#95d312 39.5px,#94d312 42.5px,#92d212 45.5px,#92d212 48.5px,#92d212 51.5px,#92d212 54.5px,#92d212 57.5px,#92d212 60.5px,#92d212 63.5px,#92d212 66.5px,#92d212 69.5px,#92d212 72.5px,#92d212 75.5px,#91d212 78.5px,#90d212 81.5px,#8cd013 84.5px,#83ce13 87.5px,#76c914 90.5px,#5ec116 93.5px,#3db619 96.5px,#1aa51e 99.5px,#089132 102.5px,#037d4d 105.5px,#038049 108.5px)"></div><div style="top:87px;background:linear-gradient(90deg,#ff4700 0.5px,#ff4700 3.5px,#ff5300 6.5px,#ff8600 9.5px,#ffd500 12.5px,#d1e608 15.5px,#acdb10 18.5px,#9bd511 21.5px,#98d412 24.5px,#98d412 27.5px,#98d412 30.5px,#98d412 33.5px,#98d412 36.5px,#98d412 39.5px,#96d412 42.5px,#94d312 45.5px,#93d312 48.5px,#93d312 51.5px,#93d312 54.5px,#93d312 57.5px,#93d312 60.5px,#93d312 63.5px,#93d312 66.5px,#93d312 69.5px,#93d312 72.5px,#93d312 75.5px,#92d212 78.5px,#90d212 81.5px,#8bd013 84.5px,#82cd13 87.5px,#73c814 90.5px,#5ac016 93.5px,#3ab519 96.5px,#16a31f 99.5px,#078e35 102.5px,#027a51 105.5px,#037f4a 108.5px)"></div><div style="top:88px;background:linear-gradient(90deg,#ff4500 0.5px,#ff4500 3.5px,#ff5100 6.5px,#ff8200 9.5px,#ffd100 12.5px,#d6e807 15.5px,#b0dc10 18.5px,#9ed611 21.5px,#9ad512 24.5px,#9ad512 27.5px,#9ad512 30.5px,#9ad512 33.5px,#9ad512 36.5px,#9ad512 39.5px,#98d412 42.5px,#95d312 45.5px,#94d312 48.5px,#94d312 51.5px,#94d312 54.5px,#94d312 57.5px,#94d312 60.5px,#94d312 63.5px,#94d312 66.5px,#94d312 69.5px,#94d312 72.5px,#94d312 75.5px,#93d312 78.5px,#90d212 81.5px,#8bd013 84.5px,#80cd13 87.5px,#70c715 90.5px,#55bf16 93.5px,#37b419 96.5px,#13a120 99.5px,#068c38 102.5px,#017656 105.5px,#037d4c 108.5px)"></div><div style="top:89px;background:linear-gradient(90deg,#ff4400 0.5px,#ff4400 3.5px,#ff4f00 6.5px,#ff7e00 9.5px,#ffcd00 12.5px,#dbea05 15.5px,#b4dd0f 18.5px,#a1d711 21.5px,#9dd611 24.5px,#9dd611 27.5px,#9dd611 30.5px,#9dd611 33.5px,#9dd611 36.5px,#9dd611 39.5px,#9ad512 42.5px,#97d412 45.5px,#96d412 48.5px,#96d312 51.5px,#96d312 54.5px,#96d412 57.5px,#96d412 60.5px,#96d412 63.5px,#96d412 66.5px,#96d412 69.5px,#96d412 72.5px,#96d312 75.5px,#94d312 78.5px,#91d212 81.5px,#8bd013 84.5px,#7ecc14 87.5px,#6dc715 90.5px,#51be17 93.5px,#34b21a 96.5px,#109f21 99.5px,#05893c 102.5px,#00735b 105.5px,#027c4e 108.5px)"></div><div style="top:90px;background:linear-gradient(90deg,#ff4300 0.5px,#ff4300 3.5px,#ff4d00 6.5px,#ff7a00 9.5px,#ffc900 12.5px,#e0eb04 15.5px,#b7de0e 18.5px,#a4d811 21.5px,#9fd711 24.5px,#9fd711 27.5px,#9fd711 30.5px,#9fd711 33.5px,#9fd711 36.5px,#9fd711 39.5px,#9cd611 42.5px,#98d412 45.5px,#97d412 48.5px,#97d412 51.5px,#97d412 54.5px,#97d412 57.5px,#97d412 60.5px,#97d412 63.5px,#97d412 66.5px,#97d412 69.5px,#97d412 72.5px,#97d412 75.5px,#95d312 78.5px,#91d212 81.5px,#8ad013 84.5px,#7dcc14 87.5px,#6bc615 90.5px,#4ebc17 93.5px,#31b11a 96.5px,#0f9e23 99.5px,#058641 102.5px,#007061 105.5px,#027b50 108.5px)"></div><div style="top:91px;background:linear-gradient(90deg,#ff4200 0.5px,#ff4200 3.5px,#ff4b00 6.5px,#ff7600 9.5px,#ffc500 12.5px,#e5ed03 15.5px,#bbdf0d 18.5px,#a6d911 21.5px,#a2d711 24.5px,#a1d711 27.5px,#a1d711 30.5px,#a1d711 33.5px,#a1d711 36.5px,#a1d711 39.5px,#9ed611 42.5px,#9ad512 45.5px,#98d412 48.5px,#98d412 51.5px,#98d412 54.5px,#98d412 57.5px,#98d412 60.5px,#98d412 63.5px,#98d412 66.5px,#98d412 69.5px,#98d412 72.5px,#98d412 75.5px,#96d412 78.5px,#92d212 81.5px,#8ad013 84.5px,#7ccb14 87.5px,#68c515 90.5px,#4abb17 93.5px,#2fb01b 96.5px,#0e9c25 99.5px,#048345 102.5px,#006e68 105.5px,#027a51 108.5px)"></div><div style="top:92px;background:linear-gradient(90deg,#ff4000 0.5px,#ff4100 3.5px,#ff4900 6.5px,#ff7300 9.5px,#ffc200 12.5px,#e9ee02 15.5px,#bee00d 18.5px,#a8da11 21.5px,#a3d811 24.5px,#a3d811 27.5px,#a3d811 30.5px,#a3d811 33.5px,#a3d811 36.5px,#a3d811 39.5px,#a0d711 42.5px,#9bd512 45.5px,#99d512 48.5px,#99d512 51.5px,#99d512 54.5px,#99d512 57.5px,#99d512 60.5px,#99d512 63.5px,#99d512 66.5px,#99d512 69.5px,#99d512 72.5px,#99d512 75.5px,#97d412 78.5px,#92d212 81.5px,#8ad013 84.5px,#7acb14 87.5px,#66c415 90.5px,#47ba17 93.5px,#2daf1b 96.5px,#0d9a27 99.5px,#038048 102.5px,#006c6d 105.5px,#027952 108.5px)"></div><div style="top:93px;background:linear-gradient(90deg,#ff3f00 0.5px,#ff3f00 3.5px,#ff4800 6.5px,#ff7100 9.5px,#ffbf00 12.5px,#edef01 15.5px,#c0e10c 18.5px,#aada10 21.5px,#a5d811 24.5px,#a5d811 27.5px,#a5d811 30.5px,#a5d811 33.5px,#a5d811 36.5px,#a4d811 39.5px,#a0d711 42.5px,#9bd511 45.5px,#99d512 48.5px,#99d512 51.5px,#99d512 54.5px,#99d512 57.5px,#99d512 60.5px,#99d512 63.5px,#99d512 66.5px,#99d512 69.5px,#99d512 72.5px,#99d512 75.5px,#97d412 78.5px,#92d212 81.5px,#89d013 84.5px,#7acb14 87.5px,#65c415 90.5px,#46ba18 93.5px,#2cae1b 96.5px,#0d9928 99.5px,#037f4b 102.5px,#006b71 105.5px,#017853 108.5px)"></div><div style="top:94px;background:linear-gradient(90deg,#ff3e00 0.5px,#ff3e00 3.5px,#ff4700 6.5px,#ff6f00 9.5px,#ffbd00 12.5px,#eff000 15.5px,#c1e10c 18.5px,#abda10 21.5px,#a6d911 24.5px,#a6d911 27.5px,#a6d911 30.5px,#a6d911 33.5px,#a6d911 36.5px,#a5d811 39.5px,#a1d711 42.5px,#9cd511 45.5px,#99d512 48.5px,#99d512 51.5px,#99d512 54.5px,#99d512 57.5px,#99d512 60.5px,#99d512 63.5px,#99d512 66.5px,#99d512 69.5px,#99d512 72.5px,#99d512 75.5px,#98d412 78.5px,#92d212 81.5px,#89d013 84.5px,#79ca14 87.5px,#65c415 90.5px,#45ba18 93.5px,#2bae1b 96.5px,#0c9829 99.5px,#037d4d 102.5px,#006a74 105.5px,#017854 108.5px)"></div><div style="top:95px;background:linear-gradient(90deg,#ff3d00 0.5px,#ff3d00 3.5px,#ff4600 6.5px,#ff6e00 9.5px,#ffbc00 12.5px,#f1f000 15.5px,#c2e20b 18.5px,#acdb10 21.5px,#a7d911 24.5px,#a7d911 27.5px,#a7d911 30.5px,#a7d911 33.5px,#a6d911 36.5px,#a5d811 39.5px,#a1d711 42.5px,#9cd511 45.5px,#9ad512 48.5px,#9ad512 51.5px,#9ad512 54.5px,#9ad512 57.5px,#9ad512 60.5px,#9ad512 63.5px,#9ad512 66.5px,#9ad512 69.5px,#9ad512 72.5px,#9ad512 75.5px,#98d412 78.5px,#92d212 81.5px,#89d013 84.5px,#79ca14 87.5px,#64c415 90.5px,#45b918 93.5px,#2bad1c 96.5px,#0c982a 99.5px,#027c4f 102.5px,#006976 105.5px,#017854 108.5px)"></div><div style="top:96px;background:linear-gradient(90deg,#ff3c00 0.5px,#ff3c00 3.5px,#ff4500 6.5px,#ff6d00 9.5px,#ffba00 12.5px,#f1ef00 15.5px,#c3e20b 18.5px,#addb10 21.5px,#a8d911 24.5px,#a8d911 27.5px,#a8d911 30.5px,#a8d911 33.5px,#a7d911 36.5px,#a5d911 39.5px,#a1d711 42.5px,#9cd511 45.5px,#9ad512 48.5px,#9ad512 51.5px,#9ad512 54.5px,#9ad512 57.5px,#9ad512 60.5px,#9ad512 63.5px,#9ad512 66.5px,#9ad512 69.5px,#9ad512 72.5px,#9ad512 75.5px,#98d412 78.5px,#92d212 81.5px,#89d013 84.5px,#79ca14 87.5px,#64c415 90.5px,#44b918 93.5px,#2aad1c 96.5px,#0c972b 99.5px,#027b50 102.5px,#006877 105.5px,#017854 108.5px)"></div><div style="top:97px;background:linear-gradient(90deg,#ff3b00 0.5px,#ff3b00 3.5px,#ff4400 6.5px,#ff6c00 9.5px,#ffb900 12.5px,#f2ee00 15.5px,#c4e20b 18.5px,#aedb10 21.5px,#a9da11 24.5px,#a9da11 27.5px,#a9da11 30.5px,#a9da11 33.5px,#a7d911 36.5px,#a5d911 39.5px,#a1d711 42.5px,#9cd511 45.5px,#9ad512 48.5px,#9ad512 51.5px,#9ad512 54.5px,#9ad512 57.5px,#9ad512 60.5px,#9ad512 63.5px,#9ad512 66.5px,#9ad512 69.5px,#9ad512 72.5px,#9ad512 75.5px,#98d412 78.5px,#92d212 81.5px,#89d013 84.5px,#79ca14 87.5px,#64c415 90.5px,#44b918 93.5px,#2aad1c 96.5px,#0b962b 99.5px,#027952 102.5px,#006879 105.5px,#017854 108.5px)"></div><div style="top:98px;background:linear-gradient(90deg,#ff3a00 0.5px,#ff3a00 3.5px,#ff4300 6.5px,#ff6a00 9.5px,#ffb700 12.5px,#f3ee00 15.5px,#c5e30b 18.5px,#afdc10 21.5px,#aada10 24.5px,#aada10 27.5px,#aada10 30.5px,#aada10 33.5px,#a8d911 36.5px,#a6d911 39.5px,#a1d711 42.5px,#9cd511 45.5px,#9ad512 48.5px,#9ad512 51.5px,#9ad512 54.5px,#9ad512 57.5px,#9ad512 60.5px,#9ad512 63.5px,#9ad512 66.5px,#9ad512 69.5px,#9ad512 72.5px,#9ad512 75.5px,#98d412 78.5px,#92d212 81.5px,#89d013 84.5px,#79ca14 87.5px,#64c415 90.5px,#44b918 93.5px,#2aad1c 96.5px,#0b962c 99.5px,#017853 102.5px,#00687a 105.5px,#017854 108.5px)"></div><div style="top:99px;background:linear-gradient(90deg,#ff3900 0.5px,#ff3900 3.5px,#ff4300 6.5px,#ff6900 9.5px,#ffb500 12.5px,#f3ed00 15.5px,#c6e30a 18.5px,#b0dc10 21.5px,#abda10 24.5px,#abda10 27.5px,#abda10 30.5px,#abda10 33.5px,#a9da11 36.5px,#a6d911 39.5px,#a1d711 42.5px,#9cd511 45.5px,#9ad512 48.5px,#9ad512 51.5px,#9ad512 54.5px,#9ad512 57.5px,#9ad512 60.5px,#9ad512 63.5px,#9ad512 66.5px,#9ad512 69.5px,#9ad512 72.5px,#9ad512 75.5px,#98d412 78.5px,#92d212 81.5px,#89d013 84.5px,#79ca14 87.5px,#64c415 90.5px,#44b918 93.5px,#2aad1c 96.5px,#0b952d 99.5px,#017755 102.5px,#00677b 105.5px,#017854 108.5px)"></div><div style="top:100px;background:linear-gradient(90deg,#ff3800 0.5px,#ff3800 3.5px,#ff4200 6.5px,#ff6800 9.5px,#ffb400 12.5px,#f4ed00 15.5px,#c7e30a 18.5px,#b1dc10 21.5px,#acdb10 24.5px,#abdb10 27.5px,#abdb10 30.5px,#abdb10 33.5px,#a9da10 36.5px,#a6d911 39.5px,#a1d711 42.5px,#9cd511 45.5px,#9ad512 48.5px,#9ad512 51.5px,#9ad512 54.5px,#9ad512 57.5px,#9ad512 60.5px,#9ad512 63.5px,#9ad512 66.5px,#9ad512 69.5px,#9ad512 72.5px,#9ad512 75.5px,#98d412 78.5px,#92d212 81.5px,#89d013 84.5px,#79ca14 87.5px,#64c415 90.5px,#44b918 93.5px,#29ad1c 96.5px,#0a952e 99.5px,#017656 102.5px,#00677d 105.5px,#017854 108.5px)"></div><div style="top:101px;background:linear-gradient(90deg,#ff3700 0.5px,#ff3700 3.5px,#ff4100 6.5px,#ff6700 9.5px,#ffb200 12.5px,#f5ec00 15.5px,#c8e40a 18.5px,#b1dc10 21.5px,#acdb10 24.5px,#acdb10 27.5px,#acdb10 30.5px,#acdb10 33.5px,#aada10 36.5px,#a6d911 39.5px,#a1d711 42.5px,#9cd511 45.5px,#9ad512 48.5px,#9ad512 51.5px,#9ad512 54.5px,#9ad512 57.5px,#9ad512 60.5px,#9ad512 63.5px,#9ad512 66.5px,#9ad512 69.5px,#9ad512 72.5px,#9ad512 75.5px,#98d412 78.5px,#92d212 81.5px,#89d013 84.5px,#79ca14 87.5px,#64c415 90.5px,#44b918 93.5px,#29ad1c 96.5px,#0a942e 99.5px,#017558 102.5px,#00667e 105.5px,#017854 108.5px)"></div><div style="top:102px;background:linear-gradient(90deg,#ff3600 0.5px,#ff3700 3.5px,#ff4000 6.5px,#ff6600 9.5px,#ffb100 12.5px,#f5ec00 15.5px,#c9e40a 18.5px,#b2dd0f 21.5px,#addb10 24.5px,#addb10 27.5px,#addb10 30.5px,#addb10 33.5px,#aada10 36.5px,#a6d911 39.5px,#a1d711 42.5px,#9cd511 45.5px,#9ad512 48.5px,#9ad512 51.5px,#9ad512 54.5px,#9ad512 57.5px,#9ad512 60.5px,#9ad512 63.5px,#9ad512 66.5px,#9ad512 69.5px,#9ad512 72.5px,#9ad512 75.5px,#98d412 78.5px,#92d212 81.5px,#89d013 84.5px,#79ca14 87.5px,#64c415 90.5px,#44b918 93.5px,#29ad1c 96.5px,#0a942f 99.5px,#00745a 102.5px,#00667f 105.5px,#017754 108.5px)"></div><div style="top:103px;background:linear-gradient(90deg,#ff3500 0.5px,#ff3600 3.5px,#ff3f00 6.5px,#ff6500 9.5px,#ffaf00 12.5px,#f6eb00 15.5px,#cae409 18.5px,#b3dd0f 21.5px,#aedb10 24.5px,#aedb10 27.5px,#aedb10 30.5px,#aedb10 33.5px,#abda10 36.5px,#a6d911 39.5px,#a1d711 42.5px,#9cd511 45.5px,#9ad512 48.5px,#9ad512 51.5px,#9ad512 54.5px,#9ad512 57.5px,#9ad512 60.5px,#9ad512 63.5px,#9ad512 66.5px,#9ad512 69.5px,#9ad512 72.5px,#9ad512 75.5px,#98d412 78.5px,#92d212 81.5px,#89d013 84.5px,#79ca14 87.5px,#64c415 90.5px,#44b918 93.5px,#29ac1c 96.5px,#0a9330 99.5px,#00735b 102.5px,#006581 105.5px,#017755 108.5px)"></div></div><div class="hm" style="left:372px;top:158px;width:109px;height:105px"><div style="top:0px;background:linear-gradient(90deg,#0313ea 0.5px,#0313ea 3.5px,#0313ea 6.5px,#0313ea 9.5px,#0313ea 12.5px,#0313ea 15.5px,#0313ea 18.5px,#0313ea 21.5px,#0313ea 24.5px,#0313ea 27.5px,#0313ea 30.5px,#0313ea 33.5px,#0313eb 36.5px,#0313eb 39.5px,#0313eb 42.5px,#0313eb 45.5px,#0313eb 48.5px,#0313eb 51.5px,#0313eb 54.5px,#0313eb 57.5px,#0313eb 60.5px,#0313eb 63.5px,#0313eb 66.5px,#0313eb 69.5px,#0313eb 72.5px,#0313eb 75.5px,#0313eb 78.5px,#0313eb 81.5px,#0313eb 84.5px,#0313eb 87.5px,#0313eb 90.5px,#0313eb 93.5px,#0313eb 96.5px,#0313eb 99.5px,#0313eb 102.5px,#0313eb 105.5px,#0313eb 108.5px)"></div><div style="top:1px;background:linear-gradient(90deg,#0313ea 0.5px,#0313ea 3.5px,#0313ea 6.5px,#0313ea 9.5px,#0313ea 12.5px,#0313ea 15.5px,#0313ea 18.5px,#0313ea 21.5px,#0313ea 24.5px,#0313ea 27.5px,#0313ea 30.5px,#0313ea 33.5px,#0313ea 36.5px,#0313eb 39.5px,#0313eb 42.5px,#0313eb 45.5px,#0313eb 48.5px,#0313eb 51.5px,#0313eb 54.5px,#0313eb 57.5px,#0313eb 60.5px,#0313eb 63.5px,#0313eb 66.5px,#0313eb 69.5px,#0313eb 72.5px,#0313eb 75.5px,#0313eb 78.5px,#0313eb 81.5px,#0313eb 84.5px,#0313eb 87.5px,#0313eb 90.5px,#0313eb 93.5px,#0313eb 96.5px,#0313eb 99.5px,#0313eb 102.5px,#0313eb 105.5px,#0313eb 108.5px)"></div><div style="top:2px;background:linear-gradient(90deg,#0313ea 0.5px,#0313ea 3.5px,#0313ea 6.5px,#0313ea 9.5px,#0313ea 12.5px,#0313ea 15.5px,#0313ea 18.5px,#0313ea 21.5px,#0313ea 24.5px,#0313ea 27.5px,#0313ea 30.5px,#0313ea 33.5px,#0313ea 36.5px,#0313eb 39.5px,#0313eb 42.5px,#0313eb 45.5px,#0313eb 48.5px,#0313eb 51.5px,#0313eb 54.5px,#0313eb 57.5px,#0313eb 60.5px,#0313eb 63.5px,#0313eb 66.5px,#0313eb 69.5px,#0313eb 72.5px,#0313eb 75.5px,#0313eb 78.5px,#0313eb 81.5px,#0313eb 84.5px,#0313eb 87.5px,#0313eb 90.5px,#0313eb 93.5px,#0313eb 96.5px,#0313eb 99.5px,#0313eb 102.5px,#0313eb 105.5px,#0313eb 108.5px)"></div><div style="top:3px;background:linear-gradient(90deg,#0313ea 0.5px,#0313ea 3.5px,#0313ea 6.5px,#0313ea 9.5px,#0313ea 12.5px,#0313ea 15.5px,#0313ea 18.5px,#0313ea 21.5px,#0313ea 24.5px,#0313ea 27.5px,#0313ea 30.5px,#0313ea 33.5px,#0313ea 36.5px,#0313ea 39.5px,#0313eb 42.5px,#0313eb 45.5px,#0313eb 48.5px,#0313eb 51.5px,#0313eb 54.5px,#0313eb 57.5px,#0313eb 60.5px,#0313eb 63.5px,#0313eb 66.5px,#0313eb 69.5px,#0313eb 72.5px,#0313eb 75.5px,#0313eb 78.5px,#0313eb 81.5px,#0313eb 84.5px,#0313eb 87.5px,#0313eb 90.5px,#0313eb 93.5px,#0313eb 96.5px,#0313eb 99.5px,#0313eb 102.5px,#0313eb 105.5px,#0313eb 108.5px)"></div><div style="top:4px;background:linear-gradient(90deg,#0313ea 0.5px,#0313ea 3.5px,#0313ea 6.5px,#0313ea 9.5px,#0313ea 12.5px,#0313ea 15.5px,#0313ea 18.5px,#0313ea 21.5px,#0313ea 24.5px,#0313ea 27.5px,#0313ea 30.5px,#0313ea 33.5px,#0313ea 36.5px,#0313ea 39.5px,#0313eb 42.5px,#0313eb 45.5px,#0313eb 48.5px,#0313eb 51.5px,#0313eb 54.5px,#0313eb 57.5px,#0313eb 60.5px,#0313eb 63.5px,#0313eb 66.5px,#0313eb 69.5px,#0313eb 72.5px,#0313eb 75.5px,#0313eb 78.5px,#0313eb 81.5px,#0313eb 84.5px,#0313eb 87.5px,#0313eb 90.5px,#0313eb 93.5px,#0313eb 96.5px,#0313eb 99.5px,#0313eb 102.5px,#0313eb 105.5px,#0313eb 108.5px)"></div><div style="top:5px;background:linear-gradient(90deg,#0313ea 0.5px,#0313ea 3.5px,#0313ea 6.5px,#0313ea 9.5px,#0313ea 12.5px,#0313ea 15.5px,#0313ea 18.5px,#0313ea 21.5px,#0313ea 24.5px,#0313ea 27.5px,#0313ea 30.5px,#0313ea 33.5px,#0313ea 36.5px,#0313ea 39.5px,#0313eb 42.5px,#0313eb 45.5px,#0313eb 48.5px,#0313eb 51.5px,#0313eb 54.5px,#0313eb 57.5px,#0313eb 60.5px,#0313eb 63.5px,#0313eb 66.5px,#0313eb 69.5px,#0313eb 72.5px,#0313eb 75.5px,#0313eb 78.5px,#0313eb 81.5px,#0313eb 84.5px,#0313eb 87.5px,#0313eb 90.5px,#0313eb 93.5px,#0313eb 96.5px,#0313eb 99.5px,#0313eb 102.5px,#0313eb 105.5px,#0313eb 108.5px)"></div><div style="top:6px;background:linear-gradient(90deg,#0313ea 0.5px,#0313ea 3.5px,#0313ea 6.5px,#0313ea 9.5px,#0313ea 12.5px,#0313ea 15.5px,#0313ea 18.5px,#0313ea 21.5px,#0313ea 24.5px,#0313ea 27.5px,#0313ea 30.5px,#0313ea 33.5px,#0313ea 36.5px,#0313ea 39.5px,#0313eb 42.5px,#0313eb 45.5px,#0313eb 48.5px,#0313eb 51.5px,#0313eb 54.5px,#0313eb 57.5px,#0313eb 60.5px,#0313eb 63.5px,#0313eb 66.5px,#0313eb 69.5px,#0313eb 72.5px,#0313eb 75.5px,#0313eb 78.5px,#0313eb 81.5px,#0313eb 84.5px,#0313eb 87.5px,#0313eb 90.5px,#0313eb 93.5px,#0313eb 96.5px,#0313eb 99.5px,#0313eb 102.5px,#0313eb 105.5px,#0313eb 108.5px)"></div><div style="top:7px;background:linear-gradient(90deg,#0313ea 0.5px,#0313ea 3.5px,#0313ea 6.5px,#0313ea 9.5px,#0313ea 12.5px,#0313ea 15.5px,#0313ea 18.5px,#0313ea 21.5px,#0313ea 24.5px,#0313ea 27.5px,#0313ea 30.5px,#0313ea 33.5px,#0313ea 36.5px,#0313ea 39.5px,#0313eb 42.5px,#0313eb 45.5px,#0313eb 48.5px,#0313eb 51.5px,#0313eb 54.5px,#0313eb 57.5px,#0313eb 60.5px,#0313eb 63.5px,#0313eb 66.5px,#0313eb 69.5px,#0313eb 72.5px,#0313eb 75.5px,#0313eb 78.5px,#0313eb 81.5px,#0313eb 84.5px,#0313eb 87.5px,#0313eb 90.5px,#0313eb 93.5px,#0313eb 96.5px,#0313eb 99.5px,#0313eb 102.5px,#0313eb 105.5px,#0313eb 108.5px)"></div><div style="top:8px;background:linear-gradient(90deg,#0314ea 0.5px,#0314ea 3.5px,#0314ea 6.5px,#0314ea 9.5px,#0314ea 12.5px,#0314ea 15.5px,#0314ea 18.5px,#0314ea 21.5px,#0314ea 24.5px,#0314ea 27.5px,#0314ea 30.5px,#0313ea 33.5px,#0313ea 36.5px,#0313ea 39.5px,#0313eb 42.5px,#0313eb 45.5px,#0313eb 48.5px,#0313eb 51.5px,#0313eb 54.5px,#0313eb 57.5px,#0313eb 60.5px,#0313eb 63.5px,#0313eb 66.5px,#0313eb 69.5px,#0313eb 72.5px,#0313eb 75.5px,#0313eb 78.5px,#0313eb 81.5px,#0313eb 84.5px,#0313eb 87.5px,#0313eb 90.5px,#0313eb 93.5px,#0313eb 96.5px,#0313eb 99.5px,#0313eb 102.5px,#0313eb 105.5px,#0313eb 108.5px)"></div><div style="top:9px;background:linear-gradient(90deg,#0314ea 0.5px,#0314ea 3.5px,#0314ea 6.5px,#0314ea 9.5px,#0314ea 12.5px,#0314ea 15.5px,#0314ea 18.5px,#0314ea 21.5px,#0314ea 24.5px,#0314ea 27.5px,#0314ea 30.5px,#0314ea 33.5px,#0313ea 36.5px,#0313ea 39.5px,#0313eb 42.5px,#0313eb 45.5px,#0313eb 48.5px,#0313eb 51.5px,#0313eb 54.5px,#0313eb 57.5px,#0313eb 60.5px,#0313eb 63.5px,#0313eb 66.5px,#0313eb 69.5px,#0313eb 72.5px,#0313eb 75.5px,#0313eb 78.5px,#0313eb 81.5px,#0313eb 84.5px,#0313eb 87.5px,#0313eb 90.5px,#0313eb 93.5px,#0313eb 96.5px,#0313eb 99.5px,#0313eb 102.5px,#0313eb 105.5px,#0313eb 108.5px)"></div><div style="top:10px;background:linear-gradient(90deg,#0314ea 0.5px,#0314ea 3.5px,#0314ea 6.5px,#0314ea 9.5px,#0314ea 12.5px,#0314ea 15.5px,#0314ea 18.5px,#0314ea 21.5px,#0314ea 24.5px,#0314ea 27.5px,#0314ea 30.5px,#0314ea 33.5px,#0313ea 36.5px,#0313ea 39.5px,#0313eb 42.5px,#0313eb 45.5px,#0313eb 48.5px,#0313eb 51.5px,#0313eb 54.5px,#0313eb 57.5px,#0313eb 60.5px,#0313eb 63.5px,#0313eb 66.5px,#0313eb 69.5px,#0313eb 72.5px,#0313eb 75.5px,#0313eb 78.5px,#0313eb 81.5px,#0313eb 84.5px,#0313eb 87.5px,#0313eb 90.5px,#0313eb 93.5px,#0313eb 96.5px,#0313eb 99.5px,#0313eb 102.5px,#0313eb 105.5px,#0313eb 108.5px)"></div><div style="top:11px;background:linear-gradient(90deg,#0314ea 0.5px,#0314ea 3.5px,#0314ea 6.5px,#0314ea 9.5px,#0314ea 12.5px,#0314ea 15.5px,#0314ea 18.5px,#0314ea 21.5px,#0314ea 24.5px,#0314ea 27.5px,#0314ea 30.5px,#0314ea 33.5px,#0313ea 36.5px,#0313ea 39.5px,#0313eb 42.5px,#0313eb 45.5px,#0313eb 48.5px,#0313eb 51.5px,#0313eb 54.5px,#0313eb 57.5px,#0313eb 60.5px,#0313eb 63.5px,#0313eb 66.5px,#0313eb 69.5px,#0313eb 72.5px,#0313eb 75.5px,#0313eb 78.5px,#0313eb 81.5px,#0313eb 84.5px,#0313eb 87.5px,#0313eb 90.5px,#0313eb 93.5px,#0313eb 96.5px,#0313eb 99.5px,#0313eb 102.5px,#0313eb 105.5px,#0313eb 108.5px)"></div><div style="top:12px;background:linear-gradient(90deg,#0314ea 0.5px,#0314ea 3.5px,#0314ea 6.5px,#0314ea 9.5px,#0314ea 12.5px,#0314ea 15.5px,#0314ea 18.5px,#0314ea 21.5px,#0314ea 24.5px,#0314ea 27.5px,#0314ea 30.5px,#0314ea 33.5px,#0314ea 36.5px,#0313ea 39.5px,#0313eb 42.5px,#0313eb 45.5px,#0313eb 48.5px,#0313eb 51.5px,#0313eb 54.5px,#0313eb 57.5px,#0313eb 60.5px,#0313eb 63.5px,#0313eb 66.5px,#0313eb 69.5px,#0313eb 72.5px,#0313eb 75.5px,#0313eb 78.5px,#0313eb 81.5px,#0313eb 84.5px,#0313eb 87.5px,#0313eb 90.5px,#0313eb 93.5px,#0313eb 96.5px,#0313eb 99.5px,#0313eb 102.5px,#0313eb 105.5px,#0313eb 108.5px)"></div><div style="top:13px;background:linear-gradient(90deg,#0314ea 0.5px,#0314ea 3.5px,#0314ea 6.5px,#0314ea 9.5px,#0314ea 12.5px,#0314ea 15.5px,#0314ea 18.5px,#0314ea 21.5px,#0314ea 24.5px,#0314ea 27.5px,#0314ea 30.5px,#0314ea 33.5px,#0314ea 36.5px,#0313ea 39.5px,#0313ea 42.5px,#0313eb 45.5px,#0313eb 48.5px,#0313eb 51.5px,#0313eb 54.5px,#0313eb 57.5px,#0313eb 60.5px,#0313eb 63.5px,#0313eb 66.5px,#0313eb 69.5px,#0313eb 72.5px,#0313eb 75.5px,#0313eb 78.5px,#0313eb 81.5px,#0313eb 84.5px,#0313eb 87.5px,#0313eb 90.5px,#0313eb 93.5px,#0313eb 96.5px,#0313eb 99.5px,#0313eb 102.5px,#0313eb 105.5px,#0313eb 108.5px)"></div><div style="top:14px;background:linear-gradient(90deg,#0214e9 0.5px,#0214e9 3.5px,#0214e9 6.5px,#0214e9 9.5px,#0214e9 12.5px,#0214e9 15.5px,#0214e9 18.5px,#0214e9 21.5px,#0214e9 24.5px,#0214e9 27.5px,#0214e9 30.5px,#0314ea 33.5px,#0314ea 36.5px,#0313ea 39.5px,#0313ea 42.5px,#0313eb 45.5px,#0313eb 48.5px,#0313eb 51.5px,#0313eb 54.5px,#0313eb 57.5px,#0313eb 60.5px,#0313eb 63.5px,#0313eb 66.5px,#0313eb 69.5px,#0313eb 72.5px,#0313eb 75.5px,#0313eb 78.5px,#0313eb 81.5px,#0313eb 84.5px,#0313eb 87.5px,#0313eb 90.5px,#0313eb 93.5px,#0313eb 96.5px,#0313eb 99.5px,#0313eb 102.5px,#0313eb 105.5px,#0313eb 108.5px)"></div><div style="top:15px;background:linear-gradient(90deg,#0214e9 0.5px,#0214e9 3.5px,#0214e9 6.5px,#0214e9 9.5px,#0214e9 12.5px,#0214e9 15.5px,#0214e9 18.5px,#0214e9 21.5px,#0214e9 24.5px,#0214e9 27.5px,#0214e9 30.5px,#0214e9 33.5px,#0314ea 36.5px,#0313ea 39.5px,#0313ea 42.5px,#0313eb 45.5px,#0313eb 48.5px,#0313eb 51.5px,#0313eb 54.5px,#0313eb 57.5px,#0313eb 60.5px,#0313eb 63.5px,#0313eb 66.5px,#0313eb 69.5px,#0313eb 72.5px,#0313eb 75.5px,#0313eb 78.5px,#0313eb 81.5px,#0313eb 84.5px,#0313eb 87.5px,#0313eb 90.5px,#0313eb 93.5px,#0313eb 96.5px,#0313eb 99.5px,#0313eb 102.5px,#0313eb 105.5px,#0313eb 108.5px)"></div><div style="top:16px;background:linear-gradient(90deg,#0214e9 0.5px,#0214e9 3.5px,#0214e9 6.5px,#0214e9 9.5px,#0214e9 12.5px,#0214e9 15.5px,#0214e9 18.5px,#0214e9 21.5px,#0214e9 24.5px,#0214e9 27.5px,#0214e9 30.5px,#0214e9 33.5px,#0314ea 36.5px,#0313ea 39.5px,#0313ea 42.5px,#0313eb 45.5px,#0313eb 48.5px,#0313eb 51.5px,#0313eb 54.5px,#0313eb 57.5px,#0313eb 60.5px,#0313eb 63.5px,#0313eb 66.5px,#0313eb 69.5px,#0313eb 72.5px,#0313eb 75.5px,#0313eb 78.5px,#0313eb 81.5px,#0313eb 84.5px,#0313eb 87.5px,#0313eb 90.5px,#0313eb 93.5px,#0313eb 96.5px,#0313eb 99.5px,#0313eb 102.5px,#0313eb 105.5px,#0313eb 108.5px)"></div><div style="top:17px;background:linear-gradient(90deg,#0214e9 0.5px,#0214e9 3.5px,#0214e9 6.5px,#0214e9 9.5px,#0214e9 12.5px,#0214e9 15.5px,#0214e9 18.5px,#0214e9 21.5px,#0214e9 24.5px,#0214e9 27.5px,#0214e9 30.5px,#0214e9 33.5px,#0314ea 36.5px,#0313ea 39.5px,#0313ea 42.5px,#0313eb 45.5px,#0313eb 48.5px,#0313eb 51.5px,#0313eb 54.5px,#0313eb 57.5px,#0313eb 60.5px,#0313eb 63.5px,#0313eb 66.5px,#0313eb 69.5px,#0313eb 72.5px,#0313eb 75.5px,#0313eb 78.5px,#0313eb 81.5px,#0313eb 84.5px,#0313eb 87.5px,#0313eb 90.5px,#0313eb 93.5px,#0313eb 96.5px,#0313eb 99.5px,#0313eb 102.5px,#0313eb 105.5px,#0313eb 108.5px)"></div><div style="top:18px;background:linear-gradient(90deg,#0214e9 0.5px,#0214e9 3.5px,#0214e9 6.5px,#0214e9 9.5px,#0214e9 12.5px,#0214e9 15.5px,#0214e9 18.5px,#0214e9 21.5px,#0214e9 24.5px,#0214e9 27.5px,#0214e9 30.5px,#0214e9 33.5px,#0314ea 36.5px,#0313ea 39.5px,#0313ea 42.5px,#0313eb 45.5px,#0313eb 48.5px,#0313eb 51.5px,#0313eb 54.5px,#0313eb 57.5px,#0313eb 60.5px,#0313eb 63.5px,#0313eb 66.5px,#0313eb 69.5px,#0313eb 72.5px,#0313eb 75.5px,#0313eb 78.5px,#0313eb 81.5px,#0313eb 84.5px,#0313eb 87.5px,#0313eb 90.5px,#0313eb 93.5px,#0313eb 96.5px,#0313eb 99.5px,#0313eb 102.5px,#0313eb 105.5px,#0313eb 108.5px)"></div><div style="top:19px;background:linear-gradient(90deg,#0214e9 0.5px,#0214e9 3.5px,#0214e9 6.5px,#0214e9 9.5px,#0214e9 12.5px,#0214e9 15.5px,#0214e9 18.5px,#0214e9 21.5px,#0214e9 24.5px,#0214e9 27.5px,#0214e9 30.5px,#0214e9 33.5px,#0314ea 36.5px,#0313ea 39.5px,#0313ea 42.5px,#0313eb 45.5px,#0313eb 48.5px,#0313eb 51.5px,#0313eb 54.5px,#0313eb 57.5px,#0313eb 60.5px,#0313eb 63.5px,#0313eb 66.5px,#0313eb 69.5px,#0313eb 72.5px,#0313eb 75.5px,#0313eb 78.5px,#0313eb 81.5px,#0313eb 84.5px,#0313eb 87.5px,#0313eb 90.5px,#0313eb 93.5px,#0313eb 96.5px,#0313eb 99.5px,#0313eb 102.5px,#0313eb 105.5px,#0313eb 108.5px)"></div><div style="top:20px;background:linear-gradient(90deg,#0214e9 0.5px,#0214e9 3.5px,#0214e9 6.5px,#0214e9 9.5px,#0214e9 12.5px,#0214e9 15.5px,#0214e9 18.5px,#0214e9 21.5px,#0214e9 24.5px,#0214e9 27.5px,#0214e9 30.5px,#0214e9 33.5px,#0314ea 36.5px,#0313ea 39.5px,#0313ea 42.5px,#0313eb 45.5px,#0313eb 48.5px,#0313eb 51.5px,#0313eb 54.5px,#0313eb 57.5px,#0313eb 60.5px,#0313eb 63.5px,#0313eb 66.5px,#0313eb 69.5px,#0313eb 72.5px,#0313eb 75.5px,#0313eb 78.5px,#0313eb 81.5px,#0313eb 84.5px,#0313eb 87.5px,#0313eb 90.5px,#0313eb 93.5px,#0313eb 96.5px,#0313eb 99.5px,#0313eb 102.5px,#0313eb 105.5px,#0313eb 108.5px)"></div><div style="top:21px;background:linear-gradient(90deg,#0215e9 0.5px,#0215e9 3.5px,#0215e9 6.5px,#0215e9 9.5px,#0215e9 12.5px,#0215e9 15.5px,#0215e9 18.5px,#0215e9 21.5px,#0215e9 24.5px,#0215e9 27.5px,#0215e9 30.5px,#0214e9 33.5px,#0214e9 36.5px,#0314ea 39.5px,#0313ea 42.5px,#0313eb 45.5px,#0313eb 48.5px,#0313eb 51.5px,#0313eb 54.5px,#0313eb 57.5px,#0313eb 60.5px,#0313eb 63.5px,#0313eb 66.5px,#0313eb 69.5px,#0313eb 72.5px,#0313eb 75.5px,#0313eb 78.5px,#0313eb 81.5px,#0313eb 84.5px,#0313eb 87.5px,#0313eb 90.5px,#0313eb 93.5px,#0313eb 96.5px,#0313eb 99.5px,#0313eb 102.5px,#0313eb 105.5px,#0313eb 108.5px)"></div><div style="top:22px;background:linear-gradient(90deg,#0215e9 0.5px,#0215e9 3.5px,#0215e9 6.5px,#0215e9 9.5px,#0215e9 12.5px,#0215e9 15.5px,#0215e9 18.5px,#0215e9 21.5px,#0215e9 24.5px,#0215e9 27.5px,#0215e9 30.5px,#0215e9 33.5px,#0214e9 36.5px,#0314ea 39.5px,#0313ea 42.5px,#0313eb 45.5px,#0313eb 48.5px,#0313eb 51.5px,#0313eb 54.5px,#0313eb 57.5px,#0313eb 60.5px,#0313eb 63.5px,#0313eb 66.5px,#0313eb 69.5px,#0313eb 72.5px,#0313eb 75.5px,#0313eb 78.5px,#0313eb 81.5px,#0313eb 84.5px,#0313eb 87.5px,#0313eb 90.5px,#0313eb 93.5px,#0313eb 96.5px,#0313eb 99.5px,#0313eb 102.5px,#0313eb 105.5px,#0313eb 108.5px)"></div><div style="top:23px;background:linear-gradient(90deg,#0215e9 0.5px,#0215e9 3.5px,#0215e9 6.5px,#0215e9 9.5px,#0215e9 12.5px,#0215e9 15.5px,#0215e9 18.5px,#0215e9 21.5px,#0215e9 24.5px,#0215e9 27.5px,#0215e9 30.5px,#0215e9 33.5px,#0214e9 36.5px,#0314ea 39.5px,#0313ea 42.5px,#0313eb 45.5px,#0313eb 48.5px,#0313eb 51.5px,#0313eb 54.5px,#0313eb 57.5px,#0313eb 60.5px,#0313eb 63.5px,#0313eb 66.5px,#0313eb 69.5px,#0313eb 72.5px,#0313eb 75.5px,#0313eb 78.5px,#0313eb 81.5px,#0313eb 84.5px,#0313eb 87.5px,#0313eb 90.5px,#0313eb 93.5px,#0313eb 96.5px,#0313eb 99.5px,#0313eb 102.5px,#0313eb 105.5px,#0313eb 108.5px)"></div><div style="top:24px;background:linear-gradient(90deg,#0215e9 0.5px,#0215e9 3.5px,#0215e9 6.5px,#0215e9 9.5px,#0215e9 12.5px,#0215e9 15.5px,#0215e9 18.5px,#0215e9 21.5px,#0215e9 24.5px,#0215e9 27.5px,#0215e9 30.5px,#0215e9 33.5px,#0214e9 36.5px,#0314ea 39.5px,#0313ea 42.5px,#0313eb 45.5px,#0313eb 48.5px,#0313eb 51.5px,#0313eb 54.5px,#0313eb 57.5px,#0313eb 60.5px,#0313eb 63.5px,#0313eb 66.5px,#0313eb 69.5px,#0313eb 72.5px,#0313eb 75.5px,#0313eb 78.5px,#0313eb 81.5px,#0313eb 84.5px,#0313eb 87.5px,#0313eb 90.5px,#0313eb 93.5px,#0313eb 96.5px,#0313eb 99.5px,#0313eb 102.5px,#0313eb 105.5px,#0313eb 108.5px)"></div><div style="top:25px;background:linear-gradient(90deg,#0215e9 0.5px,#0215e9 3.5px,#0215e9 6.5px,#0215e9 9.5px,#0215e9 12.5px,#0215e9 15.5px,#0215e9 18.5px,#0215e9 21.5px,#0215e9 24.5px,#0215e9 27.5px,#0215e9 30.5px,#0215e9 33.5px,#0214e9 36.5px,#0314ea 39.5px,#0313ea 42.5px,#0313eb 45.5px,#0313eb 48.5px,#0313eb 51.5px,#0313eb 54.5px,#0313eb 57.5px,#0313eb 60.5px,#0313eb 63.5px,#0313eb 66.5px,#0313eb 69.5px,#0313eb 72.5px,#0313eb 75.5px,#0313eb 78.5px,#0313eb 81.5px,#0313eb 84.5px,#0313eb 87.5px,#0313eb 90.5px,#0313eb 93.5px,#0313eb 96.5px,#0313eb 99.5px,#0313eb 102.5px,#0313eb 105.5px,#0313eb 108.5px)"></div><div style="top:26px;background:linear-gradient(90deg,#0215e9 0.5px,#0215e9 3.5px,#0215e9 6.5px,#0215e9 9.5px,#0215e9 12.5px,#0215e9 15.5px,#0215e9 18.5px,#0215e9 21.5px,#0215e9 24.5px,#0215e9 27.5px,#0215e9 30.5px,#0215e9 33.5px,#0214e9 36.5px,#0314ea 39.5px,#0313ea 42.5px,#0313eb 45.5px,#0313eb 48.5px,#0313eb 51.5px,#0313eb 54.5px,#0313eb 57.5px,#0313eb 60.5px,#0313eb 63.5px,#0313eb 66.5px,#0313eb 69.5px,#0313eb 72.5px,#0313eb 75.5px,#0313eb 78.5px,#0313eb 81.5px,#0313eb 84.5px,#0313eb 87.5px,#0313eb 90.5px,#0313eb 93.5px,#0313eb 96.5px,#0313eb 99.5px,#0313eb 102.5px,#0313eb 105.5px,#0313eb 108.5px)"></div><div style="top:27px;background:linear-gradient(90deg,#0215e9 0.5px,#0215e9 3.5px,#0215e9 6.5px,#0215e9 9.5px,#0215e9 12.5px,#0215e9 15.5px,#0215e9 18.5px,#0215e9 21.5px,#0215e9 24.5px,#0215e9 27.5px,#0215e9 30.5px,#0215e9 33.5px,#0214e9 36.5px,#0314ea 39.5px,#0313ea 42.5px,#0313eb 45.5px,#0313eb 48.5px,#0313eb 51.5px,#0313eb 54.5px,#0313eb 57.5px,#0313eb 60.5px,#0313eb 63.5px,#0313eb 66.5px,#0313eb 69.5px,#0313eb 72.5px,#0313eb 75.5px,#0313eb 78.5px,#0313eb 81.5px,#0313eb 84.5px,#0313eb 87.5px,#0313eb 90.5px,#0313eb 93.5px,#0313eb 96.5px,#0313eb 99.5px,#0313eb 102.5px,#0313eb 105.5px,#0313eb 108.5px)"></div><div style="top:28px;background:linear-gradient(90deg,#0215e9 0.5px,#0215e9 3.5px,#0215e9 6.5px,#0215e9 9.5px,#0215e9 12.5px,#0215e9 15.5px,#0215e9 18.5px,#0215e9 21.5px,#0215e9 24.5px,#0215e9 27.5px,#0215e9 30.5px,#0215e9 33.5px,#0214e9 36.5px,#0314ea 39.5px,#0313ea 42.5px,#0313eb 45.5px,#0313eb 48.5px,#0313eb 51.5px,#0313eb 54.5px,#0313eb 57.5px,#0313eb 60.5px,#0313eb 63.5px,#0313eb 66.5px,#0313eb 69.5px,#0313eb 72.5px,#0313eb 75.5px,#0313eb 78.5px,#0313eb 81.5px,#0313eb 84.5px,#0313eb 87.5px,#0313eb 90.5px,#0313eb 93.5px,#0313eb 96.5px,#0313eb 99.5px,#0313eb 102.5px,#0313eb 105.5px,#0313eb 108.5px)"></div><div style="top:29px;background:linear-gradient(90deg,#0215e8 0.5px,#0215e8 3.5px,#0215e8 6.5px,#0215e8 9.5px,#0215e8 12.5px,#0215e8 15.5px,#0215e8 18.5px,#0215e8 21.5px,#0215e8 24.5px,#0215e8 27.5px,#0215e8 30.5px,#0215e9 33.5px,#0214e9 36.5px,#0314ea 39.5px,#0313ea 42.5px,#0313eb 45.5px,#0313eb 48.5px,#0313eb 51.5px,#0313eb 54.5px,#0313eb 57.5px,#0313eb 60.5px,#0313eb 63.5px,#0313eb 66.5px,#0313eb 69.5px,#0313eb 72.5px,#0313eb 75.5px,#0313eb 78.5px,#0313eb 81.5px,#0313eb 84.5px,#0313eb 87.5px,#0313eb 90.5px,#0313eb 93.5px,#0313eb 96.5px,#0313eb 99.5px,#0313eb 102.5px,#0313eb 105.5px,#0313eb 108.5px)"></div><div style="top:30px;background:linear-gradient(90deg,#0215e8 0.5px,#0215e8 3.5px,#0215e8 6.5px,#0215e8 9.5px,#0215e8 12.5px,#0215e8 15.5px,#0215e8 18.5px,#0215e8 21.5px,#0215e8 24.5px,#0215e8 27.5px,#0215e8 30.5px,#0215e8 33.5px,#0215e9 36.5px,#0314ea 39.5px,#0313ea 42.5px,#0313eb 45.5px,#0313eb 48.5px,#0313eb 51.5px,#0313eb 54.5px,#0313eb 57.5px,#0313eb 60.5px,#0313eb 63.5px,#0313eb 66.5px,#0313eb 69.5px,#0313eb 72.5px,#0313eb 75.5px,#0313eb 78.5px,#0313eb 81.5px,#0313eb 84.5px,#0313eb 87.5px,#0313eb 90.5px,#0313eb 93.5px,#0313eb 96.5px,#0313eb 99.5px,#0313eb 102.5px,#0313eb 105.5px,#0313eb 108.5px)"></div><div style="top:31px;background:linear-gradient(90deg,#0215e8 0.5px,#0215e8 3.5px,#0215e8 6.5px,#0215e8 9.5px,#0215e8 12.5px,#0215e8 15.5px,#0215e8 18.5px,#0215e8 21.5px,#0215e8 24.5px,#0215e8 27.5px,#0215e8 30.5px,#0215e8 33.5px,#0215e9 36.5px,#0314ea 39.5px,#0313ea 42.5px,#0313eb 45.5px,#0313eb 48.5px,#0313eb 51.5px,#0313eb 54.5px,#0313eb 57.5px,#0313eb 60.5px,#0313eb 63.5px,#0313eb 66.5px,#0313eb 69.5px,#0313eb 72.5px,#0313eb 75.5px,#0313eb 78.5px,#0313eb 81.5px,#0313eb 84.5px,#0313eb 87.5px,#0313eb 90.5px,#0313eb 93.5px,#0313eb 96.5px,#0313eb 99.5px,#0313eb 102.5px,#0313eb 105.5px,#0313eb 108.5px)"></div><div style="top:32px;background:linear-gradient(90deg,#0215e8 0.5px,#0215e8 3.5px,#0215e8 6.5px,#0215e8 9.5px,#0215e8 12.5px,#0215e8 15.5px,#0215e8 18.5px,#0215e8 21.5px,#0215e8 24.5px,#0215e8 27.5px,#0215e8 30.5px,#0215e8 33.5px,#0215e9 36.5px,#0314ea 39.5px,#0313ea 42.5px,#0313eb 45.5px,#0313eb 48.5px,#0313eb 51.5px,#0313eb 54.5px,#0313eb 57.5px,#0313eb 60.5px,#0313eb 63.5px,#0313eb 66.5px,#0313eb 69.5px,#0313eb 72.5px,#0313eb 75.5px,#0313eb 78.5px,#0313eb 81.5px,#0313eb 84.5px,#0313eb 87.5px,#0313eb 90.5px,#0313eb 93.5px,#0313eb 96.5px,#0313eb 99.5px,#0313eb 102.5px,#0313eb 105.5px,#0313eb 108.5px)"></div><div style="top:33px;background:linear-gradient(90deg,#0216e8 0.5px,#0216e8 3.5px,#0216e8 6.5px,#0216e8 9.5px,#0216e8 12.5px,#0216e8 15.5px,#0216e8 18.5px,#0216e8 21.5px,#0216e8 24.5px,#0216e8 27.5px,#0215e8 30.5px,#0215e8 33.5px,#0215e9 36.5px,#0314ea 39.5px,#0313ea 42.5px,#0313eb 45.5px,#0313eb 48.5px,#0313eb 51.5px,#0313eb 54.5px,#0313eb 57.5px,#0313eb 60.5px,#0313eb 63.5px,#0313eb 66.5px,#0313eb 69.5px,#0313eb 72.5px,#0313eb 75.5px,#0313eb 78.5px,#0313eb 81.5px,#0313eb 84.5px,#0313eb 87.5px,#0313eb 90.5px,#0313eb 93.5px,#0313eb 96.5px,#0313eb 99.5px,#0313eb 102.5px,#0313eb 105.5px,#0313eb 108.5px)"></div><div style="top:34px;background:linear-gradient(90deg,#0216e8 0.5px,#0216e8 3.5px,#0216e8 6.5px,#0216e8 9.5px,#0216e8 12.5px,#0216e8 15.5px,#0216e8 18.5px,#0216e8 21.5px,#0216e8 24.5px,#0216e8 27.5px,#0216e8 30.5px,#0215e8 33.5px,#0215e9 36.5px,#0314ea 39.5px,#0313ea 42.5px,#0313eb 45.5px,#0313eb 48.5px,#0313eb 51.5px,#0313eb 54.5px,#0313eb 57.5px,#0313eb 60.5px,#0313eb 63.5px,#0313eb 66.5px,#0313eb 69.5px,#0313eb 72.5px,#0313eb 75.5px,#0313eb 78.5px,#0313eb 81.5px,#0313eb 84.5px,#0313eb 87.5px,#0313eb 90.5px,#0313eb 93.5px,#0313eb 96.5px,#0313eb 99.5px,#0313eb 102.5px,#0313eb 105.5px,#0313eb 108.5px)"></div><div style="top:35px;background:linear-gradient(90deg,#0216e8 0.5px,#0216e8 3.5px,#0216e8 6.5px,#0216e8 9.5px,#0216e8 12.5px,#0216e8 15.5px,#0216e8 18.5px,#0216e8 21.5px,#0216e8 24.5px,#0216e8 27.5px,#0216e8 30.5px,#0216e8 33.5px,#0215e9 36.5px,#0214e9 39.5px,#0313ea 42.5px,#0313eb 45.5px,#0313eb 48.5px,#0313eb 51.5px,#0313eb 54.5px,#0313eb 57.5px,#0313eb 60.5px,#0313eb 63.5px,#0313eb 66.5px,#0313eb 69.5px,#0313eb 72.5px,#0313eb 75.5px,#0313eb 78.5px,#0313eb 81.5px,#0313eb 84.5px,#0313eb 87.5px,#0313eb 90.5px,#0313eb 93.5px,#0313eb 96.5px,#0313eb 99.5px,#0313eb 102.5px,#0313eb 105.5px,#0313eb 108.5px)"></div><div style="top:36px;background:linear-gradient(90deg,#0216e8 0.5px,#0216e8 3.5px,#0216e8 6.5px,#0216e8 9.5px,#0216e8 12.5px,#0216e8 15.5px,#0216e8 18.5px,#0216e8 21.5px,#0216e8 24.5px,#0216e8 27.5px,#0216e8 30.5px,#0216e8 33.5px,#0215e9 36.5px,#0214e9 39.5px,#0313ea 42.5px,#0313eb 45.5px,#0313eb 48.5px,#0313eb 51.5px,#0313eb 54.5px,#0313eb 57.5px,#0313eb 60.5px,#0313eb 63.5px,#0313eb 66.5px,#0313eb 69.5px,#0313eb 72.5px,#0313eb 75.5px,#0313eb 78.5px,#0313eb 81.5px,#0313eb 84.5px,#0313eb 87.5px,#0313eb 90.5px,#0313eb 93.5px,#0313eb 96.5px,#0313eb 99.5px,#0313eb 102.5px,#0313eb 105.5px,#0313eb 108.5px)"></div><div style="top:37px;background:linear-gradient(90deg,#0216e8 0.5px,#0216e8 3.5px,#0216e8 6.5px,#0216e8 9.5px,#0216e8 12.5px,#0216e8 15.5px,#0216e8 18.5px,#0216e8 21.5px,#0216e8 24.5px,#0216e8 27.5px,#0216e8 30.5px,#0216e8 33.5px,#0215e9 36.5px,#0214e9 39.5px,#0313ea 42.5px,#0313eb 45.5px,#0313eb 48.5px,#0313eb 51.5px,#0313eb 54.5px,#0313eb 57.5px,#0313eb 60.5px,#0313eb 63.5px,#0313eb 66.5px,#0313eb 69.5px,#0313eb 72.5px,#0313eb 75.5px,#0313eb 78.5px,#0313eb 81.5px,#0313eb 84.5px,#0313eb 87.5px,#0313eb 90.5px,#0313eb 93.5px,#0313eb 96.5px,#0313eb 99.5px,#0313eb 102.5px,#0313eb 105.5px,#0313eb 108.5px)"></div><div style="top:38px;background:linear-gradient(90deg,#0216e8 0.5px,#0216e8 3.5px,#0216e8 6.5px,#0216e8 9.5px,#0216e8 12.5px,#0216e8 15.5px,#0216e8 18.5px,#0216e8 21.5px,#0216e8 24.5px,#0216e8 27.5px,#0216e8 30.5px,#0216e8 33.5px,#0215e9 36.5px,#0214e9 39.5px,#0313ea 42.5px,#0313eb 45.5px,#0313eb 48.5px,#0313eb 51.5px,#0313eb 54.5px,#0313eb 57.5px,#0313eb 60.5px,#0313eb 63.5px,#0313eb 66.5px,#0313eb 69.5px,#0313eb 72.5px,#0313eb 75.5px,#0313eb 78.5px,#0313eb 81.5px,#0313eb 84.5px,#0313eb 87.5px,#0313eb 90.5px,#0313eb 93.5px,#0313eb 96.5px,#0313eb 99.5px,#0313eb 102.5px,#0313eb 105.5px,#0313eb 108.5px)"></div><div style="top:39px;background:linear-gradient(90deg,#0216e8 0.5px,#0216e8 3.5px,#0216e8 6.5px,#0216e8 9.5px,#0216e8 12.5px,#0216e8 15.5px,#0216e8 18.5px,#0216e8 21.5px,#0216e8 24.5px,#0216e8 27.5px,#0216e8 30.5px,#0216e8 33.5px,#0215e9 36.5px,#0214e9 39.5px,#0313ea 42.5px,#0313eb 45.5px,#0313eb 48.5px,#0313eb 51.5px,#0313eb 54.5px,#0313eb 57.5px,#0313eb 60.5px,#0313eb 63.5px,#0313eb 66.5px,#0313eb 69.5px,#0313eb 72.5px,#0313eb 75.5px,#0313eb 78.5px,#0313eb 81.5px,#0313eb 84.5px,#0313eb 87.5px,#0313eb 90.5px,#0313eb 93.5px,#0313eb 96.5px,#0313eb 99.5px,#0313eb 102.5px,#0313eb 105.5px,#0313eb 108.5px)"></div><div style="top:40px;background:linear-gradient(90deg,#0216e8 0.5px,#0216e8 3.5px,#0216e8 6.5px,#0216e8 9.5px,#0216e8 12.5px,#0216e8 15.5px,#0216e8 18.5px,#0216e8 21.5px,#0216e8 24.5px,#0216e8 27.5px,#0216e8 30.5px,#0216e8 33.5px,#0215e9 36.5px,#0214e9 39.5px,#0313ea 42.5px,#0313eb 45.5px,#0313eb 48.5px,#0313eb 51.5px,#0313eb 54.5px,#0313eb 57.5px,#0313eb 60.5px,#0313eb 63.5px,#0313eb 66.5px,#0313eb 69.5px,#0313eb 72.5px,#0313eb 75.5px,#0313eb 78.5px,#0313eb 81.5px,#0313eb 84.5px,#0313eb 87.5px,#0313eb 90.5px,#0313eb 93.5px,#0313eb 96.5px,#0313eb 99.5px,#0313eb 102.5px,#0313eb 105.5px,#0313eb 108.5px)"></div><div style="top:41px;background:linear-gradient(90deg,#0216e8 0.5px,#0216e8 3.5px,#0216e8 6.5px,#0216e8 9.5px,#0216e8 12.5px,#0216e8 15.5px,#0216e8 18.5px,#0216e8 21.5px,#0216e8 24.5px,#0216e8 27.5px,#0216e8 30.5px,#0216e8 33.5px,#0215e8 36.5px,#0214e9 39.5px,#0313ea 42.5px,#0313eb 45.5px,#0313eb 48.5px,#0313eb 51.5px,#0313eb 54.5px,#0313eb 57.5px,#0313eb 60.5px,#0313eb 63.5px,#0313eb 66.5px,#0313eb 69.5px,#0313eb 72.5px,#0313eb 75.5px,#0313eb 78.5px,#0313eb 81.5px,#0313eb 84.5px,#0313eb 87.5px,#0313eb 90.5px,#0313eb 93.5px,#0313eb 96.5px,#0313eb 99.5px,#0313eb 102.5px,#0313eb 105.5px,#0313eb 108.5px)"></div><div style="top:42px;background:linear-gradient(90deg,#0216e8 0.5px,#0216e8 3.5px,#0216e8 6.5px,#0216e8 9.5px,#0216e8 12.5px,#0216e8 15.5px,#0216e8 18.5px,#0216e8 21.5px,#0216e8 24.5px,#0216e8 27.5px,#0216e8 30.5px,#0216e8 33.5px,#0215e8 36.5px,#0214e9 39.5px,#0313ea 42.5px,#0313eb 45.5px,#0313eb 48.5px,#0313eb 51.5px,#0313eb 54.5px,#0313eb 57.5px,#0313eb 60.5px,#0313eb 63.5px,#0313eb 66.5px,#0313eb 69.5px,#0313eb 72.5px,#0313eb 75.5px,#0313eb 78.5px,#0313eb 81.5px,#0313eb 84.5px,#0313eb 87.5px,#0313eb 90.5px,#0313eb 93.5px,#0313eb 96.5px,#0313eb 99.5px,#0313eb 102.5px,#0313eb 105.5px,#0313eb 108.5px)"></div><div style="top:43px;background:linear-gradient(90deg,#0216e7 0.5px,#0216e7 3.5px,#0216e7 6.5px,#0216e7 9.5px,#0216e7 12.5px,#0216e7 15.5px,#0216e7 18.5px,#0216e7 21.5px,#0216e7 24.5px,#0216e7 27.5px,#0216e7 30.5px,#0216e8 33.5px,#0215e8 36.5px,#0214e9 39.5px,#0313ea 42.5px,#0313eb 45.5px,#0313eb 48.5px,#0313eb 51.5px,#0313eb 54.5px,#0313eb 57.5px,#0313eb 60.5px,#0313eb 63.5px,#0313eb 66.5px,#0313eb 69.5px,#0313eb 72.5px,#0313eb 75.5px,#0313eb 78.5px,#0313eb 81.5px,#0313eb 84.5px,#0313eb 87.5px,#0313eb 90.5px,#0313eb 93.5px,#0313eb 96.5px,#0313eb 99.5px,#0313eb 102.5px,#0313eb 105.5px,#0313eb 108.5px)"></div><div style="top:44px;background:linear-gradient(90deg,#0216e7 0.5px,#0216e7 3.5px,#0216e7 6.5px,#0216e7 9.5px,#0216e7 12.5px,#0216e7 15.5px,#0216e7 18.5px,#0216e7 21.5px,#0216e7 24.5px,#0216e7 27.5px,#0216e7 30.5px,#0216e8 33.5px,#0215e8 36.5px,#0214e9 39.5px,#0313ea 42.5px,#0313eb 45.5px,#0313eb 48.5px,#0313eb 51.5px,#0313eb 54.5px,#0313eb 57.5px,#0313eb 60.5px,#0313eb 63.5px,#0313eb 66.5px,#0313eb 69.5px,#0313eb 72.5px,#0313eb 75.5px,#0313eb 78.5px,#0313eb 81.5px,#0313eb 84.5px,#0313eb 87.5px,#0313eb 90.5px,#0313eb 93.5px,#0313eb 96.5px,#0313eb 99.5px,#0313eb 102.5px,#0313eb 105.5px,#0313eb 108.5px)"></div><div style="top:45px;background:linear-gradient(90deg,#0216e7 0.5px,#0216e7 3.5px,#0216e7 6.5px,#0216e7 9.5px,#0216e7 12.5px,#0216e7 15.5px,#0216e7 18.5px,#0216e7 21.5px,#0216e7 24.5px,#0216e7 27.5px,#0216e7 30.5px,#0216e8 33.5px,#0215e8 36.5px,#0214e9 39.5px,#0313ea 42.5px,#0313eb 45.5px,#0313eb 48.5px,#0313eb 51.5px,#0313eb 54.5px,#0313eb 57.5px,#0313eb 60.5px,#0313eb 63.5px,#0313eb 66.5px,#0313eb 69.5px,#0313eb 72.5px,#0313eb 75.5px,#0313eb 78.5px,#0313eb 81.5px,#0313eb 84.5px,#0313eb 87.5px,#0313eb 90.5px,#0313eb 93.5px,#0313eb 96.5px,#0313eb 99.5px,#0313eb 102.5px,#0313eb 105.5px,#0313eb 108.5px)"></div><div style="top:46px;background:linear-gradient(90deg,#0217e7 0.5px,#0217e7 3.5px,#0217e7 6.5px,#0217e7 9.5px,#0217e7 12.5px,#0217e7 15.5px,#0217e7 18.5px,#0217e7 21.5px,#0217e7 24.5px,#0217e7 27.5px,#0217e7 30.5px,#0216e7 33.5px,#0215e8 36.5px,#0214e9 39.5px,#0313ea 42.5px,#0313eb 45.5px,#0313eb 48.5px,#0313eb 51.5px,#0313eb 54.5px,#0313eb 57.5px,#0313eb 60.5px,#0313eb 63.5px,#0313eb 66.5px,#0313eb 69.5px,#0313eb 72.5px,#0313eb 75.5px,#0313eb 78.5px,#0313eb 81.5px,#0313eb 84.5px,#0313eb 87.5px,#0313eb 90.5px,#0313eb 93.5px,#0313eb 96.5px,#0313eb 99.5px,#0313eb 102.5px,#0313eb 105.5px,#0313eb 108.5px)"></div><div style="top:47px;background:linear-gradient(90deg,#0217e7 0.5px,#0217e7 3.5px,#0217e7 6.5px,#0217e7 9.5px,#0217e7 12.5px,#0217e7 15.5px,#0217e7 18.5px,#0217e7 21.5px,#0217e7 24.5px,#0217e7 27.5px,#0217e7 30.5px,#0216e7 33.5px,#0216e8 36.5px,#0214e9 39.5px,#0313ea 42.5px,#0313eb 45.5px,#0313eb 48.5px,#0313eb 51.5px,#0313eb 54.5px,#0313eb 57.5px,#0313eb 60.5px,#0313eb 63.5px,#0313eb 66.5px,#0313eb 69.5px,#0313eb 72.5px,#0313eb 75.5px,#0313eb 78.5px,#0313eb 81.5px,#0313eb 84.5px,#0313eb 87.5px,#0313eb 90.5px,#0313eb 93.5px,#0313eb 96.5px,#0313eb 99.5px,#0313eb 102.5px,#0313eb 105.5px,#0313eb 108.5px)"></div><div style="top:48px;background:linear-gradient(90deg,#0217e7 0.5px,#0217e7 3.5px,#0217e7 6.5px,#0217e7 9.5px,#0217e7 12.5px,#0217e7 15.5px,#0217e7 18.5px,#0217e7 21.5px,#0217e7 24.5px,#0217e7 27.5px,#0217e7 30.5px,#0217e7 33.5px,#0216e8 36.5px,#0214e9 39.5px,#0313ea 42.5px,#0313eb 45.5px,#0313eb 48.5px,#0313eb 51.5px,#0313eb 54.5px,#0313eb 57.5px,#0313eb 60.5px,#0313eb 63.5px,#0313eb 66.5px,#0313eb 69.5px,#0313eb 72.5px,#0313eb 75.5px,#0313eb 78.5px,#0313eb 81.5px,#0313eb 84.5px,#0313eb 87.5px,#0313eb 90.5px,#0313eb 93.5px,#0313eb 96.5px,#0313eb 99.5px,#0313eb 102.5px,#0313eb 105.5px,#0313eb 108.5px)"></div><div style="top:49px;background:linear-gradient(90deg,#0217e7 0.5px,#0217e7 3.5px,#0217e7 6.5px,#0217e7 9.5px,#0217e7 12.5px,#0217e7 15.5px,#0217e7 18.5px,#0217e7 21.5px,#0217e7 24.5px,#0217e7 27.5px,#0217e7 30.5px,#0217e7 33.5px,#0216e8 36.5px,#0214e9 39.5px,#0313ea 42.5px,#0313eb 45.5px,#0313eb 48.5px,#0313eb 51.5px,#0313eb 54.5px,#0313eb 57.5px,#0313eb 60.5px,#0313eb 63.5px,#0313eb 66.5px,#0313eb 69.5px,#0313eb 72.5px,#0313eb 75.5px,#0313eb 78.5px,#0313eb 81.5px,#0313eb 84.5px,#0313eb 87.5px,#0313eb 90.5px,#0313eb 93.5px,#0313eb 96.5px,#0313eb 99.5px,#0313eb 102.5px,#0313eb 105.5px,#0313eb 108.5px)"></div><div style="top:50px;background:linear-gradient(90deg,#0217e7 0.5px,#0217e7 3.5px,#0217e7 6.5px,#0217e7 9.5px,#0217e7 12.5px,#0217e7 15.5px,#0217e7 18.5px,#0217e7 21.5px,#0217e7 24.5px,#0217e7 27.5px,#0217e7 30.5px,#0217e7 33.5px,#0216e8 36.5px,#0215e9 39.5px,#0313ea 42.5px,#0313eb 45.5px,#0313eb 48.5px,#0313eb 51.5px,#0313eb 54.5px,#0313eb 57.5px,#0313eb 60.5px,#0313eb 63.5px,#0313eb 66.5px,#0313eb 69.5px,#0313eb 72.5px,#0313eb 75.5px,#0313eb 78.5px,#0313eb 81.5px,#0313eb 84.5px,#0313eb 87.5px,#0313eb 90.5px,#0313eb 93.5px,#0313eb 96.5px,#0313eb 99.5px,#0313eb 102.5px,#0313eb 105.5px,#0313eb 108.5px)"></div><div style="top:51px;background:linear-gradient(90deg,#0217e7 0.5px,#0217e7 3.5px,#0217e7 6.5px,#0217e7 9.5px,#0217e7 12.5px,#0217e7 15.5px,#0217e7 18.5px,#0217e7 21.5px,#0217e7 24.5px,#0217e7 27.5px,#0217e7 30.5px,#0217e7 33.5px,#0216e8 36.5px,#0215e9 39.5px,#0313ea 42.5px,#0313eb 45.5px,#0313eb 48.5px,#0313eb 51.5px,#0313eb 54.5px,#0313eb 57.5px,#0313eb 60.5px,#0313eb 63.5px,#0313eb 66.5px,#0313eb 69.5px,#0313eb 72.5px,#0313eb 75.5px,#0313eb 78.5px,#0313eb 81.5px,#0313eb 84.5px,#0313eb 87.5px,#0313eb 90.5px,#0313eb 93.5px,#0313eb 96.5px,#0313eb 99.5px,#0313eb 102.5px,#0313eb 105.5px,#0313eb 108.5px)"></div><div style="top:52px;background:linear-gradient(90deg,#0217e7 0.5px,#0217e7 3.5px,#0217e7 6.5px,#0217e7 9.5px,#0217e7 12.5px,#0217e7 15.5px,#0217e7 18.5px,#0217e7 21.5px,#0217e7 24.5px,#0217e7 27.5px,#0217e7 30.5px,#0217e7 33.5px,#0216e8 36.5px,#0215e9 39.5px,#0313ea 42.5px,#0313eb 45.5px,#0313eb 48.5px,#0313eb 51.5px,#0313eb 54.5px,#0313eb 57.5px,#0313eb 60.5px,#0313eb 63.5px,#0313eb 66.5px,#0313eb 69.5px,#0313eb 72.5px,#0313eb 75.5px,#0313eb 78.5px,#0313eb 81.5px,#0313eb 84.5px,#0313eb 87.5px,#0313eb 90.5px,#0313eb 93.5px,#0313eb 96.5px,#0313eb 99.5px,#0313eb 102.5px,#0313eb 105.5px,#0313eb 108.5px)"></div><div style="top:53px;background:linear-gradient(90deg,#0217e7 0.5px,#0217e7 3.5px,#0217e7 6.5px,#0217e7 9.5px,#0217e7 12.5px,#0217e7 15.5px,#0217e7 18.5px,#0217e7 21.5px,#0217e7 24.5px,#0217e7 27.5px,#0217e7 30.5px,#0217e7 33.5px,#0216e8 36.5px,#0215e9 39.5px,#0313ea 42.5px,#0313eb 45.5px,#0313eb 48.5px,#0313eb 51.5px,#0313eb 54.5px,#0313eb 57.5px,#0313eb 60.5px,#0313eb 63.5px,#0313eb 66.5px,#0313eb 69.5px,#0313eb 72.5px,#0313eb 75.5px,#0313eb 78.5px,#0313eb 81.5px,#0313eb 84.5px,#0313eb 87.5px,#0313eb 90.5px,#0313eb 93.5px,#0313eb 96.5px,#0313eb 99.5px,#0313eb 102.5px,#0313eb 105.5px,#0313eb 108.5px)"></div><div style="top:54px;background:linear-gradient(90deg,#0217e7 0.5px,#0217e7 3.5px,#0217e7 6.5px,#0217e7 9.5px,#0217e7 12.5px,#0217e7 15.5px,#0217e7 18.5px,#0217e7 21.5px,#0217e7 24.5px,#0217e7 27.5px,#0217e7 30.5px,#0217e7 33.5px,#0216e8 36.5px,#0215e9 39.5px,#0313ea 42.5px,#0313eb 45.5px,#0313eb 48.5px,#0313eb 51.5px,#0313eb 54.5px,#0313eb 57.5px,#0313eb 60.5px,#0313eb 63.5px,#0313eb 66.5px,#0313eb 69.5px,#0313eb 72.5px,#0313eb 75.5px,#0313eb 78.5px,#0313eb 81.5px,#0313eb 84.5px,#0313eb 87.5px,#0313eb 90.5px,#0313eb 93.5px,#0313eb 96.5px,#0313eb 99.5px,#0313eb 102.5px,#0313eb 105.5px,#0313eb 108.5px)"></div><div style="top:55px;background:linear-gradient(90deg,#0217e7 0.5px,#0217e7 3.5px,#0217e7 6.5px,#0217e7 9.5px,#0217e7 12.5px,#0217e7 15.5px,#0217e7 18.5px,#0217e7 21.5px,#0217e7 24.5px,#0217e7 27.5px,#0217e7 30.5px,#0217e7 33.5px,#0216e8 36.5px,#0215e9 39.5px,#0313ea 42.5px,#0313eb 45.5px,#0313eb 48.5px,#0313eb 51.5px,#0313eb 54.5px,#0313eb 57.5px,#0313eb 60.5px,#0313eb 63.5px,#0313eb 66.5px,#0313eb 69.5px,#0313eb 72.5px,#0313eb 75.5px,#0313eb 78.5px,#0313eb 81.5px,#0313eb 84.5px,#0313eb 87.5px,#0313eb 90.5px,#0313eb 93.5px,#0313eb 96.5px,#0313eb 99.5px,#0313eb 102.5px,#0313eb 105.5px,#0313eb 108.5px)"></div><div style="top:56px;background:linear-gradient(90deg,#0217e7 0.5px,#0217e7 3.5px,#0217e7 6.5px,#0217e7 9.5px,#0217e7 12.5px,#0217e7 15.5px,#0217e7 18.5px,#0217e7 21.5px,#0217e7 24.5px,#0217e7 27.5px,#0217e7 30.5px,#0217e7 33.5px,#0216e8 36.5px,#0215e9 39.5px,#0313ea 42.5px,#0313eb 45.5px,#0313eb 48.5px,#0313eb 51.5px,#0313eb 54.5px,#0313eb 57.5px,#0313eb 60.5px,#0313eb 63.5px,#0313eb 66.5px,#0313eb 69.5px,#0313eb 72.5px,#0313eb 75.5px,#0313eb 78.5px,#0313eb 81.5px,#0313eb 84.5px,#0313eb 87.5px,#0313eb 90.5px,#0313eb 93.5px,#0313eb 96.5px,#0313eb 99.5px,#0313eb 102.5px,#0313eb 105.5px,#0313eb 108.5px)"></div><div style="top:57px;background:linear-gradient(90deg,#0217e7 0.5px,#0217e7 3.5px,#0217e7 6.5px,#0217e7 9.5px,#0217e7 12.5px,#0217e7 15.5px,#0217e7 18.5px,#0217e7 21.5px,#0217e7 24.5px,#0217e7 27.5px,#0217e7 30.5px,#0217e7 33.5px,#0216e8 36.5px,#0215e9 39.5px,#0313ea 42.5px,#0313eb 45.5px,#0313eb 48.5px,#0313eb 51.5px,#0313eb 54.5px,#0313eb 57.5px,#0313eb 60.5px,#0313eb 63.5px,#0313eb 66.5px,#0313eb 69.5px,#0313eb 72.5px,#0313eb 75.5px,#0313eb 78.5px,#0313eb 81.5px,#0313eb 84.5px,#0313eb 87.5px,#0313eb 90.5px,#0313eb 93.5px,#0313eb 96.5px,#0313eb 99.5px,#0313eb 102.5px,#0313eb 105.5px,#0313eb 108.5px)"></div><div style="top:58px;background:linear-gradient(90deg,#0217e6 0.5px,#0217e6 3.5px,#0217e6 6.5px,#0217e6 9.5px,#0217e6 12.5px,#0217e6 15.5px,#0217e6 18.5px,#0217e6 21.5px,#0217e6 24.5px,#0217e6 27.5px,#0217e6 30.5px,#0217e7 33.5px,#0216e8 36.5px,#0215e9 39.5px,#0313ea 42.5px,#0313eb 45.5px,#0313eb 48.5px,#0313eb 51.5px,#0313eb 54.5px,#0313eb 57.5px,#0313eb 60.5px,#0313eb 63.5px,#0313eb 66.5px,#0313eb 69.5px,#0313eb 72.5px,#0313eb 75.5px,#0313eb 78.5px,#0313eb 81.5px,#0313eb 84.5px,#0313eb 87.5px,#0313eb 90.5px,#0313eb 93.5px,#0313eb 96.5px,#0313eb 99.5px,#0313eb 102.5px,#0313eb 105.5px,#0313eb 108.5px)"></div><div style="top:59px;background:linear-gradient(90deg,#0218e6 0.5px,#0218e6 3.5px,#0218e6 6.5px,#0218e6 9.5px,#0218e6 12.5px,#0218e6 15.5px,#0218e6 18.5px,#0218e6 21.5px,#0218e6 24.5px,#0218e6 27.5px,#0218e6 30.5px,#0217e7 33.5px,#0216e8 36.5px,#0215e9 39.5px,#0313ea 42.5px,#0313eb 45.5px,#0313eb 48.5px,#0313eb 51.5px,#0313eb 54.5px,#0313eb 57.5px,#0313eb 60.5px,#0313eb 63.5px,#0313eb 66.5px,#0313eb 69.5px,#0313eb 72.5px,#0313eb 75.5px,#0313eb 78.5px,#0313eb 81.5px,#0313eb 84.5px,#0313eb 87.5px,#0313eb 90.5px,#0313eb 93.5px,#0313eb 96.5px,#0313eb 99.5px,#0313eb 102.5px,#0313eb 105.5px,#0313eb 108.5px)"></div><div style="top:60px;background:linear-gradient(90deg,#0218e6 0.5px,#0218e6 3.5px,#0218e6 6.5px,#0218e6 9.5px,#0218e6 12.5px,#0218e6 15.5px,#0218e6 18.5px,#0218e6 21.5px,#0218e6 24.5px,#0218e6 27.5px,#0218e6 30.5px,#0217e7 33.5px,#0216e8 36.5px,#0215e9 39.5px,#0313ea 42.5px,#0313eb 45.5px,#0313eb 48.5px,#0313eb 51.5px,#0313eb 54.5px,#0313eb 57.5px,#0313eb 60.5px,#0313eb 63.5px,#0313eb 66.5px,#0313eb 69.5px,#0313eb 72.5px,#0313eb 75.5px,#0313eb 78.5px,#0313eb 81.5px,#0313eb 84.5px,#0313eb 87.5px,#0313eb 90.5px,#0313eb 93.5px,#0313eb 96.5px,#0313eb 99.5px,#0313eb 102.5px,#0313eb 105.5px,#0313eb 108.5px)"></div><div style="top:61px;background:linear-gradient(90deg,#0218e6 0.5px,#0218e6 3.5px,#0218e6 6.5px,#0218e6 9.5px,#0218e6 12.5px,#0218e6 15.5px,#0218e6 18.5px,#0218e6 21.5px,#0218e6 24.5px,#0218e6 27.5px,#0218e6 30.5px,#0217e6 33.5px,#0216e7 36.5px,#0215e9 39.5px,#0313ea 42.5px,#0313eb 45.5px,#0313eb 48.5px,#0313eb 51.5px,#0313eb 54.5px,#0313eb 57.5px,#0313eb 60.5px,#0313eb 63.5px,#0313eb 66.5px,#0313eb 69.5px,#0313eb 72.5px,#0313eb 75.5px,#0313eb 78.5px,#0313eb 81.5px,#0313eb 84.5px,#0313eb 87.5px,#0313eb 90.5px,#0313eb 93.5px,#0313eb 96.5px,#0313eb 99.5px,#0313eb 102.5px,#0313eb 105.5px,#0313eb 108.5px)"></div><div style="top:62px;background:linear-gradient(90deg,#0218e6 0.5px,#0218e6 3.5px,#0218e6 6.5px,#0218e6 9.5px,#0218e6 12.5px,#0218e6 15.5px,#0218e6 18.5px,#0218e6 21.5px,#0218e6 24.5px,#0218e6 27.5px,#0218e6 30.5px,#0218e6 33.5px,#0216e7 36.5px,#0215e9 39.5px,#0313ea 42.5px,#0313eb 45.5px,#0313eb 48.5px,#0313eb 51.5px,#0313eb 54.5px,#0313eb 57.5px,#0313eb 60.5px,#0313eb 63.5px,#0313eb 66.5px,#0313eb 69.5px,#0313eb 72.5px,#0313eb 75.5px,#0313eb 78.5px,#0313eb 81.5px,#0313eb 84.5px,#0313eb 87.5px,#0313eb 90.5px,#0313eb 93.5px,#0313eb 96.5px,#0313eb 99.5px,#0313eb 102.5px,#0313eb 105.5px,#0313eb 108.5px)"></div><div style="top:63px;background:linear-gradient(90deg,#0218e6 0.5px,#0218e6 3.5px,#0218e6 6.5px,#0218e6 9.5px,#0218e6 12.5px,#0218e6 15.5px,#0218e6 18.5px,#0218e6 21.5px,#0218e6 24.5px,#0218e6 27.5px,#0218e6 30.5px,#0218e6 33.5px,#0217e7 36.5px,#0215e9 39.5px,#0314ea 42.5px,#0313eb 45.5px,#0313eb 48.5px,#0313eb 51.5px,#0313eb 54.5px,#0313eb 57.5px,#0313eb 60.5px,#0313eb 63.5px,#0313eb 66.5px,#0313eb 69.5px,#0313eb 72.5px,#0313eb 75.5px,#0313eb 78.5px,#0313eb 81.5px,#0313eb 84.5px,#0313eb 87.5px,#0313eb 90.5px,#0313eb 93.5px,#0313eb 96.5px,#0313eb 99.5px,#0313eb 102.5px,#0313eb 105.5px,#0313eb 108.5px)"></div><div style="top:64px;background:linear-gradient(90deg,#0219e5 0.5px,#0219e5 3.5px,#0219e5 6.5px,#0219e5 9.5px,#0219e5 12.5px,#0219e5 15.5px,#0219e5 18.5px,#0219e5 21.5px,#0219e5 24.5px,#0219e5 27.5px,#0219e5 30.5px,#0219e5 33.5px,#0217e7 36.5px,#0215e8 39.5px,#0314ea 42.5px,#0313eb 45.5px,#0313eb 48.5px,#0313eb 51.5px,#0313eb 54.5px,#0313eb 57.5px,#0313eb 60.5px,#0313eb 63.5px,#0313eb 66.5px,#0313eb 69.5px,#0313eb 72.5px,#0313eb 75.5px,#0313eb 78.5px,#0313eb 81.5px,#0313eb 84.5px,#0313eb 87.5px,#0313eb 90.5px,#0313eb 93.5px,#0313eb 96.5px,#0313eb 99.5px,#0313eb 102.5px,#0313eb 105.5px,#0313eb 108.5px)"></div><div style="top:65px;background:linear-gradient(90deg,#021be3 0.5px,#021be3 3.5px,#021be3 6.5px,#021be3 9.5px,#021be3 12.5px,#021be3 15.5px,#021be3 18.5px,#021ce3 21.5px,#021ce3 24.5px,#021ce3 27.5px,#021be3 30.5px,#021ae4 33.5px,#0218e6 36.5px,#0216e8 39.5px,#0314ea 42.5px,#0313ea 45.5px,#0313eb 48.5px,#0313eb 51.5px,#0313eb 54.5px,#0313eb 57.5px,#0313eb 60.5px,#0313eb 63.5px,#0313eb 66.5px,#0313eb 69.5px,#0313eb 72.5px,#0313eb 75.5px,#0313eb 78.5px,#0313eb 81.5px,#0313eb 84.5px,#0313eb 87.5px,#0313eb 90.5px,#0313eb 93.5px,#0313eb 96.5px,#0313eb 99.5px,#0313eb 102.5px,#0313eb 105.5px,#0313eb 108.5px)"></div><div style="top:66px;background:linear-gradient(90deg,#011ee1 0.5px,#011ee1 3.5px,#011ee1 6.5px,#011ee1 9.5px,#011ee1 12.5px,#011ee1 15.5px,#011fe0 18.5px,#0120df 21.5px,#0120df 24.5px,#0120df 27.5px,#011fe0 30.5px,#011de1 33.5px,#021ae4 36.5px,#0217e7 39.5px,#0214e9 42.5px,#0313ea 45.5px,#0313eb 48.5px,#0313eb 51.5px,#0313eb 54.5px,#0313eb 57.5px,#0313eb 60.5px,#0313eb 63.5px,#0313eb 66.5px,#0313eb 69.5px,#0313eb 72.5px,#0313eb 75.5px,#0313eb 78.5px,#0313eb 81.5px,#0313eb 84.5px,#0313eb 87.5px,#0313eb 90.5px,#0313eb 93.5px,#0313eb 96.5px,#0313eb 99.5px,#0313eb 102.5px,#0313eb 105.5px,#0313eb 108.5px)"></div><div style="top:67px;background:linear-gradient(90deg,#0122dd 0.5px,#0122dd 3.5px,#0122dd 6.5px,#0122dd 9.5px,#0122dd 12.5px,#0123dd 15.5px,#0124dc 18.5px,#0025db 21.5px,#0026da 24.5px,#0025da 27.5px,#0124dc 30.5px,#0121de 33.5px,#011de2 36.5px,#0218e6 39.5px,#0215e8 42.5px,#0313ea 45.5px,#0313eb 48.5px,#0313eb 51.5px,#0313eb 54.5px,#0313eb 57.5px,#0313eb 60.5px,#0313eb 63.5px,#0313eb 66.5px,#0313eb 69.5px,#0313eb 72.5px,#0313eb 75.5px,#0313eb 78.5px,#0313eb 81.5px,#0313eb 84.5px,#0313eb 87.5px,#0313eb 90.5px,#0313eb 93.5px,#0313eb 96.5px,#0313eb 99.5px,#0313eb 102.5px,#0313eb 105.5px,#0313eb 108.5px)"></div><div style="top:68px;background:linear-gradient(90deg,#0029d7 0.5px,#0029d7 3.5px,#0029d7 6.5px,#0029d7 9.5px,#0029d7 12.5px,#002ad6 15.5px,#002cd3 18.5px,#002fcf 21.5px,#0030ce 24.5px,#002fcf 27.5px,#002cd2 30.5px,#0027d9 33.5px,#0121de 36.5px,#021be4 39.5px,#0216e7 42.5px,#0314ea 45.5px,#0313eb 48.5px,#0313eb 51.5px,#0313eb 54.5px,#0313eb 57.5px,#0313eb 60.5px,#0313eb 63.5px,#0313eb 66.5px,#0313eb 69.5px,#0313eb 72.5px,#0313eb 75.5px,#0313eb 78.5px,#0313eb 81.5px,#0313eb 84.5px,#0313eb 87.5px,#0313eb 90.5px,#0313eb 93.5px,#0313eb 96.5px,#0313eb 99.5px,#0313eb 102.5px,#0313eb 105.5px,#0313eb 108.5px)"></div><div style="top:69px;background:linear-gradient(90deg,#0037c5 0.5px,#0037c5 3.5px,#0037c5 6.5px,#0037c5 9.5px,#0037c5 12.5px,#0038c5 15.5px,#003bc1 18.5px,#003ebc 21.5px,#0040bb 24.5px,#003fbb 27.5px,#003bc0 30.5px,#0033ca 33.5px,#0027d9 36.5px,#011fe0 39.5px,#0218e6 42.5px,#0214e9 45.5px,#0313ea 48.5px,#0313eb 51.5px,#0313eb 54.5px,#0313eb 57.5px,#0313eb 60.5px,#0313eb 63.5px,#0313eb 66.5px,#0313eb 69.5px,#0313eb 72.5px,#0313eb 75.5px,#0313eb 78.5px,#0313eb 81.5px,#0313eb 84.5px,#0313eb 87.5px,#0313eb 90.5px,#0313eb 93.5px,#0313eb 96.5px,#0313eb 99.5px,#0313eb 102.5px,#0313eb 105.5px,#0313eb 108.5px)"></div><div style="top:70px;background:linear-gradient(90deg,#0049af 0.5px,#0049af 3.5px,#0049af 6.5px,#0049af 9.5px,#0049af 12.5px,#0049ae 15.5px,#004bab 18.5px,#004ea7 21.5px,#004fa5 24.5px,#004ea6 27.5px,#004caa 30.5px,#0043b6 33.5px,#0033cb 36.5px,#0124dc 39.5px,#021be4 42.5px,#0215e8 45.5px,#0313ea 48.5px,#0313eb 51.5px,#0313eb 54.5px,#0313eb 57.5px,#0313eb 60.5px,#0313eb 63.5px,#0313eb 66.5px,#0313eb 69.5px,#0313eb 72.5px,#0313eb 75.5px,#0313eb 78.5px,#0313eb 81.5px,#0313eb 84.5px,#0313eb 87.5px,#0313eb 90.5px,#0313eb 93.5px,#0313eb 96.5px,#0313eb 99.5px,#0313eb 102.5px,#0313eb 105.5px,#0313eb 108.5px)"></div><div style="top:71px;background:linear-gradient(90deg,#00559c 0.5px,#00559c 3.5px,#00559c 6.5px,#00559c 9.5px,#00559c 12.5px,#00559b 15.5px,#005897 18.5px,#005b92 21.5px,#005c90 24.5px,#005c91 27.5px,#005896 30.5px,#0050a3 33.5px,#0042b8 36.5px,#002cd4 39.5px,#011ee1 42.5px,#0216e7 45.5px,#0314ea 48.5px,#0313eb 51.5px,#0313eb 54.5px,#0313eb 57.5px,#0313eb 60.5px,#0313eb 63.5px,#0313eb 66.5px,#0313eb 69.5px,#0313eb 72.5px,#0313eb 75.5px,#0313eb 78.5px,#0313eb 81.5px,#0313eb 84.5px,#0313eb 87.5px,#0313eb 90.5px,#0313eb 93.5px,#0313eb 96.5px,#0313eb 99.5px,#0313eb 102.5px,#0313eb 105.5px,#0313eb 108.5px)"></div><div style="top:72px;background:linear-gradient(90deg,#006288 0.5px,#006288 3.5px,#006288 6.5px,#006288 9.5px,#006288 12.5px,#006287 15.5px,#006581 18.5px,#006879 21.5px,#006976 24.5px,#006977 27.5px,#00667f 30.5px,#005d90 33.5px,#004ea6 36.5px,#0037c5 39.5px,#0122dd 42.5px,#0218e6 45.5px,#0214e9 48.5px,#0313ea 51.5px,#0313ea 54.5px,#0313ea 57.5px,#0313ea 60.5px,#0313eb 63.5px,#0313eb 66.5px,#0313eb 69.5px,#0313eb 72.5px,#0313eb 75.5px,#0313eb 78.5px,#0313eb 81.5px,#0313eb 84.5px,#0313eb 87.5px,#0313eb 90.5px,#0313eb 93.5px,#0313eb 96.5px,#0313eb 99.5px,#0313eb 102.5px,#0313eb 105.5px,#0313eb 108.5px)"></div><div style="top:73px;background:linear-gradient(90deg,#006c6d 0.5px,#006c6d 3.5px,#006c6d 6.5px,#006c6d 9.5px,#006c6d 12.5px,#006d6b 15.5px,#006f64 18.5px,#00725b 21.5px,#017459 24.5px,#007459 27.5px,#007061 30.5px,#006878 33.5px,#005995 36.5px,#0045b4 39.5px,#0027d9 42.5px,#021ae4 45.5px,#0215e9 48.5px,#0314ea 51.5px,#0314ea 54.5px,#0313ea 57.5px,#0313ea 60.5px,#0313ea 63.5px,#0313ea 66.5px,#0313ea 69.5px,#0313ea 72.5px,#0313ea 75.5px,#0313ea 78.5px,#0313ea 81.5px,#0313ea 84.5px,#0313ea 87.5px,#0313ea 90.5px,#0313ea 93.5px,#0313ea 96.5px,#0313ea 99.5px,#0313ea 102.5px,#0313ea 105.5px,#0313ea 108.5px)"></div><div style="top:74px;background:linear-gradient(90deg,#017755 0.5px,#017755 3.5px,#017755 6.5px,#017755 9.5px,#017755 12.5px,#017754 15.5px,#027b50 18.5px,#038049 21.5px,#048246 24.5px,#048246 27.5px,#037d4d 30.5px,#00725c 33.5px,#006581 36.5px,#0050a4 39.5px,#0031cd 42.5px,#011de1 45.5px,#0217e7 48.5px,#0215e9 51.5px,#0214e9 54.5px,#0214e9 57.5px,#0314ea 60.5px,#0314ea 63.5px,#0314ea 66.5px,#0314ea 69.5px,#0314ea 72.5px,#0314ea 75.5px,#0314ea 78.5px,#0314ea 81.5px,#0314ea 84.5px,#0314ea 87.5px,#0314ea 90.5px,#0314ea 93.5px,#0314ea 96.5px,#0314ea 99.5px,#0314ea 102.5px,#0314ea 105.5px,#0314ea 108.5px)"></div><div style="top:75px;background:linear-gradient(90deg,#048345 0.5px,#048345 3.5px,#048345 6.5px,#048345 9.5px,#048345 12.5px,#048344 15.5px,#05873f 18.5px,#068c38 21.5px,#078f34 24.5px,#078f34 27.5px,#068a3a 30.5px,#037f4a 33.5px,#006e66 36.5px,#005a94 39.5px,#003bc0 42.5px,#0121de 45.5px,#0218e6 48.5px,#0216e8 51.5px,#0215e8 54.5px,#0215e9 57.5px,#0214e9 60.5px,#0214e9 63.5px,#0214e9 66.5px,#0214e9 69.5px,#0214e9 72.5px,#0214e9 75.5px,#0214e9 78.5px,#0214e9 81.5px,#0214e9 84.5px,#0214e9 87.5px,#0214e9 90.5px,#0214e9 93.5px,#0214e9 96.5px,#0214e9 99.5px,#0214e9 102.5px,#0214e9 105.5px,#0214e9 108.5px)"></div><div style="top:76px;background:linear-gradient(90deg,#078e36 0.5px,#078e36 3.5px,#078e36 6.5px,#078e36 9.5px,#078e36 12.5px,#078e36 15.5px,#089132 18.5px,#0b962d 21.5px,#0d9928 24.5px,#0d9928 27.5px,#0a952d 30.5px,#068c38 33.5px,#027952 36.5px,#006484 39.5px,#0046b2 42.5px,#0025db 45.5px,#021ae4 48.5px,#0217e7 51.5px,#0216e7 54.5px,#0216e8 57.5px,#0215e9 60.5px,#0215e9 63.5px,#0215e9 66.5px,#0215e9 69.5px,#0215e9 72.5px,#0215e9 75.5px,#0215e9 78.5px,#0215e9 81.5px,#0215e9 84.5px,#0215e9 87.5px,#0215e9 90.5px,#0215e9 93.5px,#0215e9 96.5px,#0215e9 99.5px,#0215e9 102.5px,#0215e9 105.5px,#0215e9 108.5px)"></div><div style="top:77px;background:linear-gradient(90deg,#0b962d 0.5px,#0b962d 3.5px,#0b962d 6.5px,#0b962d 9.5px,#0b962d 12.5px,#0b962c 15.5px,#0c9929 18.5px,#0f9e22 21.5px,#14a21f 24.5px,#15a31f 27.5px,#0f9e22 30.5px,#0b952d 33.5px,#048542 36.5px,#006b6f 39.5px,#004da7 42.5px,#0029d7 45.5px,#021ce3 48.5px,#0218e6 51.5px,#0217e7 54.5px,#0217e7 57.5px,#0216e8 60.5px,#0215e8 63.5px,#0215e8 66.5px,#0215e8 69.5px,#0215e8 72.5px,#0215e8 75.5px,#0215e8 78.5px,#0215e8 81.5px,#0215e8 84.5px,#0215e8 87.5px,#0215e8 90.5px,#0215e8 93.5px,#0215e8 96.5px,#0215e8 99.5px,#0215e8 102.5px,#0215e8 105.5px,#0215e8 108.5px)"></div><div style="top:78px;background:linear-gradient(90deg,#0e9d24 0.5px,#0e9d24 3.5px,#0e9d24 6.5px,#0e9d24 9.5px,#0e9d24 12.5px,#0f9d23 15.5px,#10a020 18.5px,#1aa51e 21.5px,#24aa1d 24.5px,#26ab1c 27.5px,#1da61e 30.5px,#0f9e23 33.5px,#078f34 36.5px,#00725b 39.5px,#00549e 42.5px,#002ed0 45.5px,#011ee1 48.5px,#021ae4 51.5px,#0219e6 54.5px,#0218e6 57.5px,#0217e7 60.5px,#0216e8 63.5px,#0216e8 66.5px,#0216e8 69.5px,#0216e8 72.5px,#0216e8 75.5px,#0216e8 78.5px,#0216e8 81.5px,#0216e8 84.5px,#0216e8 87.5px,#0216e8 90.5px,#0216e8 93.5px,#0216e8 96.5px,#0216e8 99.5px,#0216e8 102.5px,#0216e8 105.5px,#0216e8 108.5px)"></div><div style="top:79px;background:linear-gradient(90deg,#17a41f 0.5px,#17a41f 3.5px,#17a31f 6.5px,#17a31f 9.5px,#16a31f 12.5px,#17a31f 15.5px,#1ba51e 18.5px,#27ab1c 21.5px,#32b11a 24.5px,#35b21a 27.5px,#2cae1b 30.5px,#1ba61e 33.5px,#0b972b 36.5px,#027b50 39.5px,#005995 42.5px,#0034c9 45.5px,#0120df 48.5px,#021be3 51.5px,#021ae5 54.5px,#0219e5 57.5px,#0218e6 60.5px,#0217e7 63.5px,#0217e7 66.5px,#0217e7 69.5px,#0217e7 72.5px,#0217e7 75.5px,#0217e7 78.5px,#0217e7 81.5px,#0217e7 84.5px,#0217e7 87.5px,#0217e7 90.5px,#0217e7 93.5px,#0217e7 96.5px,#0217e7 99.5px,#0217e7 102.5px,#0217e7 105.5px,#0217e7 108.5px)"></div><div style="top:80px;background:linear-gradient(90deg,#23aa1d 0.5px,#23aa1d 3.5px,#22a91d 6.5px,#21a91d 9.5px,#21a81d 12.5px,#21a81d 15.5px,#25ab1c 18.5px,#32b11a 21.5px,#40b818 24.5px,#46ba18 27.5px,#3ab519 30.5px,#28ac1c 33.5px,#0f9e23 36.5px,#048246 39.5px,#005f8c 42.5px,#0039c2 45.5px,#0122de 48.5px,#011ce2 51.5px,#021be4 54.5px,#021ae5 57.5px,#0218e6 60.5px,#0218e6 63.5px,#0218e6 66.5px,#0218e6 69.5px,#0218e6 72.5px,#0218e6 75.5px,#0218e6 78.5px,#0218e6 81.5px,#0218e6 84.5px,#0218e6 87.5px,#0218e6 90.5px,#0218e6 93.5px,#0218e6 96.5px,#0218e6 99.5px,#0218e6 102.5px,#0218e6 105.5px,#0218e6 108.5px)"></div><div style="top:81px;background:linear-gradient(90deg,#2fb01b 0.5px,#2faf1b 3.5px,#2dae1b 6.5px,#2bad1c 9.5px,#29ad1c 12.5px,#29ad1c 15.5px,#2eaf1b 18.5px,#3db718 21.5px,#58c016 24.5px,#5ec216 27.5px,#4cbc17 30.5px,#34b21a 33.5px,#16a31f 36.5px,#05883e 39.5px,#006385 42.5px,#003ebc 45.5px,#0123dc 48.5px,#011de1 51.5px,#021ce3 54.5px,#021be4 57.5px,#0219e5 60.5px,#0219e5 63.5px,#0219e5 66.5px,#0219e5 69.5px,#0219e5 72.5px,#0219e5 75.5px,#0219e5 78.5px,#0219e5 81.5px,#0219e5 84.5px,#0219e5 87.5px,#0219e5 90.5px,#0219e5 93.5px,#0219e5 96.5px,#0219e5 99.5px,#0219e5 102.5px,#0219e5 105.5px,#0219e5 108.5px)"></div><div style="top:82px;background:linear-gradient(90deg,#3bb519 0.5px,#3ab519 3.5px,#37b31a 6.5px,#33b11a 9.5px,#30b01b 12.5px,#30b01b 15.5px,#36b31a 18.5px,#4ebc17 21.5px,#6ec715 24.5px,#75c914 27.5px,#60c216 30.5px,#3eb718 33.5px,#1ea71e 36.5px,#068c38 39.5px,#00677d 42.5px,#0043b7 45.5px,#0025db 48.5px,#011fe0 51.5px,#011de2 54.5px,#021ce3 57.5px,#021ae4 60.5px,#021ae4 63.5px,#021ae5 66.5px,#021ae5 69.5px,#021ae5 72.5px,#021ae5 75.5px,#021ae5 78.5px,#021ae5 81.5px,#021ae5 84.5px,#021ae5 87.5px,#021ae5 90.5px,#021ae5 93.5px,#021ae5 96.5px,#021ae5 99.5px,#021ae5 102.5px,#021ae5 105.5px,#021ae5 108.5px)"></div><div style="top:83px;background:linear-gradient(90deg,#4cbc17 0.5px,#49bb17 3.5px,#40b818 6.5px,#3ab519 9.5px,#36b31a 12.5px,#35b31a 15.5px,#3db718 18.5px,#60c216 21.5px,#83ce13 24.5px,#8ad013 27.5px,#73c914 30.5px,#4cbc17 33.5px,#24aa1d 36.5px,#088f34 39.5px,#006975 42.5px,#0047b1 45.5px,#0027d9 48.5px,#0120df 51.5px,#011ee1 54.5px,#011de2 57.5px,#021be3 60.5px,#021be4 63.5px,#021be4 66.5px,#021be4 69.5px,#021be4 72.5px,#021be4 75.5px,#021be4 78.5px,#021be4 81.5px,#021be4 84.5px,#021be4 87.5px,#021be4 90.5px,#021be4 93.5px,#021be4 96.5px,#021be4 99.5px,#021be4 102.5px,#021be4 105.5px,#021be4 108.5px)"></div><div style="top:84px;background:linear-gradient(90deg,#61c316 0.5px,#5ec216 3.5px,#52be17 6.5px,#43b918 9.5px,#3bb619 12.5px,#3bb519 15.5px,#48bb17 18.5px,#72c814 21.5px,#98d412 24.5px,#a0d711 27.5px,#86cf13 30.5px,#5bc116 33.5px,#2aad1c 36.5px,#099231 39.5px,#006c6e 42.5px,#004aad 45.5px,#0028d8 48.5px,#0121de 51.5px,#011fe0 54.5px,#011ee1 57.5px,#011ce2 60.5px,#021ce3 63.5px,#021ce3 66.5px,#021ce3 69.5px,#021ce3 72.5px,#021ce3 75.5px,#021ce3 78.5px,#021ce3 81.5px,#021ce3 84.5px,#021ce3 87.5px,#021ce3 90.5px,#021ce3 93.5px,#021ce3 96.5px,#021ce3 99.5px,#021ce3 102.5px,#021ce3 105.5px,#021ce3 108.5px)"></div><div style="top:85px;background:linear-gradient(90deg,#75c914 0.5px,#71c814 3.5px,#63c316 6.5px,#51bd17 9.5px,#42b918 12.5px,#41b818 15.5px,#56bf16 18.5px,#85ce13 21.5px,#aedb10 24.5px,#b5de0f 27.5px,#9ad512 30.5px,#6cc615 33.5px,#31b01b 36.5px,#0a942e 39.5px,#006e67 42.5px,#004caa 45.5px,#002ad5 48.5px,#0122dd 51.5px,#0120df 54.5px,#011fe0 57.5px,#011de1 60.5px,#011de2 63.5px,#011de2 66.5px,#011de2 69.5px,#011de2 72.5px,#011de2 75.5px,#011de2 78.5px,#011de2 81.5px,#011de2 84.5px,#011de2 87.5px,#011de2 90.5px,#011de2 93.5px,#011de2 96.5px,#011de2 99.5px,#011de2 102.5px,#011de2 105.5px,#011de2 108.5px)"></div><div style="top:86px;background:linear-gradient(90deg,#89cf13 0.5px,#84ce13 3.5px,#74c914 6.5px,#60c216 9.5px,#4ebd17 12.5px,#4dbc17 15.5px,#65c415 18.5px,#98d412 21.5px,#c4e20b 24.5px,#cce509 27.5px,#b0dc10 30.5px,#7dcc14 33.5px,#37b419 36.5px,#0c972b 39.5px,#007060 42.5px,#004ea6 45.5px,#002dd2 48.5px,#0123dd 51.5px,#0121de 54.5px,#0120df 57.5px,#011ee0 60.5px,#011ee1 63.5px,#011ee1 66.5px,#011ee1 69.5px,#011ee1 72.5px,#011ee1 75.5px,#011ee1 78.5px,#011ee1 81.5px,#011ee1 84.5px,#011ee1 87.5px,#011ee1 90.5px,#011ee1 93.5px,#011ee1 96.5px,#011ee1 99.5px,#011ee1 102.5px,#011ee1 105.5px,#011ee1 108.5px)"></div><div style="top:87px;background:linear-gradient(90deg,#9bd511 0.5px,#96d412 3.5px,#85ce13 6.5px,#6fc715 9.5px,#5cc116 12.5px,#5bc116 15.5px,#75c914 18.5px,#acdb10 21.5px,#dae905 24.5px,#e3ec03 27.5px,#c6e30b 30.5px,#8fd112 33.5px,#3eb718 36.5px,#0d9a27 39.5px,#00735b 42.5px,#0050a3 45.5px,#002fcf 48.5px,#0124dc 51.5px,#0122dd 54.5px,#0121de 57.5px,#0120df 60.5px,#011fe0 63.5px,#011fe0 66.5px,#011fe0 69.5px,#011fe0 72.5px,#011fe0 75.5px,#011fe0 78.5px,#011fe0 81.5px,#011fe0 84.5px,#011fe0 87.5px,#011fe0 90.5px,#011fe0 93.5px,#011fe0 96.5px,#011fe0 99.5px,#011fe0 102.5px,#011fe0 105.5px,#011fe0 108.5px)"></div><div style="top:88px;background:linear-gradient(90deg,#addb10 0.5px,#a8d911 3.5px,#96d412 6.5px,#80cd13 9.5px,#6bc615 12.5px,#6ac515 15.5px,#86ce13 18.5px,#c0e10c 21.5px,#f0f000 24.5px,#f4ed00 27.5px,#ddea05 30.5px,#a2d811 33.5px,#4bbb17 36.5px,#0e9d24 39.5px,#017558 42.5px,#0052a0 45.5px,#0031cd 48.5px,#0025db 51.5px,#0123dc 54.5px,#0122dd 57.5px,#0121df 60.5px,#0120df 63.5px,#0120df 66.5px,#0120df 69.5px,#0120df 72.5px,#0120df 75.5px,#0120df 78.5px,#0120df 81.5px,#0120df 84.5px,#0120df 87.5px,#0120df 90.5px,#0120df 93.5px,#0120df 96.5px,#0120df 99.5px,#0120df 102.5px,#0120df 105.5px,#0120df 108.5px)"></div><div style="top:89px;background:linear-gradient(90deg,#bde00d 0.5px,#b9df0e 3.5px,#a7d911 6.5px,#90d212 9.5px,#7acb14 12.5px,#79ca14 15.5px,#97d412 18.5px,#d4e707 21.5px,#f9e900 24.5px,#fce600 27.5px,#f1ef00 30.5px,#b6de0f 33.5px,#59c016 36.5px,#10a020 39.5px,#017755 42.5px,#00549d 45.5px,#0033ca 48.5px,#0026da 51.5px,#0024db 54.5px,#0123dd 57.5px,#0122de 60.5px,#0121de 63.5px,#0121de 66.5px,#0121de 69.5px,#0121de 72.5px,#0121de 75.5px,#0121de 78.5px,#0121de 81.5px,#0121de 84.5px,#0121de 87.5px,#0121de 90.5px,#0121de 93.5px,#0121de 96.5px,#0121de 99.5px,#0121de 102.5px,#0121de 105.5px,#0121de 108.5px)"></div><div style="top:90px;background:linear-gradient(90deg,#cde509 0.5px,#c8e40a 3.5px,#b7de0e 6.5px,#9fd711 9.5px,#88cf13 12.5px,#87cf13 15.5px,#a7d911 18.5px,#e8ed02 21.5px,#ffe100 24.5px,#ffdb00 27.5px,#fae800 30.5px,#c8e40a 33.5px,#66c415 36.5px,#14a21f 39.5px,#027a52 42.5px,#00559b 45.5px,#0035c7 48.5px,#0027d9 51.5px,#0025db 54.5px,#0124dc 57.5px,#0123dd 60.5px,#0122dd 63.5px,#0122dd 66.5px,#0122dd 69.5px,#0122dd 72.5px,#0122dd 75.5px,#0122dd 78.5px,#0122dd 81.5px,#0122dd 84.5px,#0122dd 87.5px,#0122dd 90.5px,#0122dd 93.5px,#0122dd 96.5px,#0122dd 99.5px,#0122dd 102.5px,#0122dd 105.5px,#0122dd 108.5px)"></div><div style="top:91px;background:linear-gradient(90deg,#dbea05 0.5px,#d7e806 3.5px,#c5e30b 6.5px,#addb10 9.5px,#94d312 12.5px,#93d312 15.5px,#b6de0e 18.5px,#f4ed00 21.5px,#ffd600 24.5px,#ffcf00 27.5px,#ffdf00 30.5px,#dbe905 33.5px,#73c814 36.5px,#19a41f 39.5px,#027c4f 42.5px,#005798 45.5px,#0037c5 48.5px,#0028d8 51.5px,#0026da 54.5px,#0025db 57.5px,#0124dc 60.5px,#0123dc 63.5px,#0123dc 66.5px,#0123dc 69.5px,#0123dc 72.5px,#0123dc 75.5px,#0123dc 78.5px,#0123dc 81.5px,#0123dc 84.5px,#0123dc 87.5px,#0123dc 90.5px,#0123dc 93.5px,#0123dc 96.5px,#0123dc 99.5px,#0123dc 102.5px,#0123dc 105.5px,#0123dc 108.5px)"></div><div style="top:92px;background:linear-gradient(90deg,#e9ee02 0.5px,#e4ec03 3.5px,#d2e707 6.5px,#b8de0e 9.5px,#9dd611 12.5px,#9dd611 15.5px,#c4e20b 18.5px,#fbe700 21.5px,#ffca00 24.5px,#ffc200 27.5px,#ffd300 30.5px,#edef01 33.5px,#7fcc13 36.5px,#1da61e 39.5px,#037d4c 42.5px,#005896 45.5px,#0039c3 48.5px,#002ad6 51.5px,#0027d9 54.5px,#0026da 57.5px,#0025db 60.5px,#0124dc 63.5px,#0124dc 66.5px,#0124dc 69.5px,#0124dc 72.5px,#0124dc 75.5px,#0124dc 78.5px,#0124dc 81.5px,#0124dc 84.5px,#0124dc 87.5px,#0124dc 90.5px,#0124dc 93.5px,#0124dc 96.5px,#0124dc 99.5px,#0124dc 102.5px,#0124dc 105.5px,#0124dc 108.5px)"></div><div style="top:93px;background:linear-gradient(90deg,#f2ee00 0.5px,#f0f000 3.5px,#deea04 6.5px,#c1e10c 9.5px,#a5d911 12.5px,#a5d911 15.5px,#d0e608 18.5px,#ffe100 21.5px,#ffbf00 24.5px,#ffb500 27.5px,#ffc700 30.5px,#f5ec00 33.5px,#8bd013 36.5px,#20a81d 39.5px,#037f4a 42.5px,#005a94 45.5px,#003bc1 48.5px,#002bd4 51.5px,#0028d8 54.5px,#0027d9 57.5px,#0026da 60.5px,#0025db 63.5px,#0025db 66.5px,#0025db 69.5px,#0025db 72.5px,#0025db 75.5px,#0025db 78.5px,#0025db 81.5px,#0025db 84.5px,#0025db 87.5px,#0025db 90.5px,#0025db 93.5px,#0025db 96.5px,#0025db 99.5px,#0025db 102.5px,#0025db 105.5px,#0025db 108.5px)"></div><div style="top:94px;background:linear-gradient(90deg,#f6eb00 0.5px,#f5ec00 3.5px,#eaee02 6.5px,#cae409 9.5px,#acdb10 12.5px,#addb10 15.5px,#dcea05 18.5px,#ffd800 21.5px,#ffb300 24.5px,#ffa800 27.5px,#ffbc00 30.5px,#fce700 33.5px,#96d412 36.5px,#24aa1d 39.5px,#038147 42.5px,#005b92 45.5px,#003cbf 48.5px,#002dd2 51.5px,#002ad6 54.5px,#0028d8 57.5px,#0027d9 60.5px,#0026da 63.5px,#0026da 66.5px,#0026da 69.5px,#0026da 72.5px,#0026da 75.5px,#0026da 78.5px,#0026da 81.5px,#0026da 84.5px,#0026da 87.5px,#0026da 90.5px,#0026da 93.5px,#0026da 96.5px,#0026da 99.5px,#0026da 102.5px,#0026da 105.5px,#0026da 108.5px)"></div><div style="top:95px;background:linear-gradient(90deg,#fbe800 0.5px,#f9e900 3.5px,#f2ef00 6.5px,#d2e707 9.5px,#b3dd0f 12.5px,#b4dd0f 15.5px,#e7ed02 18.5px,#ffcf00 21.5px,#ffa800 24.5px,#ff9b00 27.5px,#ffb000 30.5px,#ffe000 33.5px,#a2d711 36.5px,#27ab1c 39.5px,#048245 42.5px,#005c90 45.5px,#003ebd 48.5px,#002ed0 51.5px,#002bd4 54.5px,#0029d7 57.5px,#0028d8 60.5px,#0027d9 63.5px,#0027d9 66.5px,#0027d9 69.5px,#0027d9 72.5px,#0027d9 75.5px,#0027d9 78.5px,#0027d9 81.5px,#0027d9 84.5px,#0027d9 87.5px,#0027d9 90.5px,#0027d9 93.5px,#0027d9 96.5px,#0027d9 99.5px,#0027d9 102.5px,#0027d9 105.5px,#0027d9 108.5px)"></div><div style="top:96px;background:linear-gradient(90deg,#ffe400 0.5px,#fde600 3.5px,#f5ec00 6.5px,#d9e906 9.5px,#b8df0e 12.5px,#badf0e 15.5px,#f0f000 18.5px,#ffc800 21.5px,#ff9e00 24.5px,#ff8f00 27.5px,#ffa500 30.5px,#ffd800 33.5px,#addb10 36.5px,#2bad1c 39.5px,#048443 42.5px,#005d8e 45.5px,#003fbc 48.5px,#002fcf 51.5px,#002cd3 54.5px,#002ad5 57.5px,#0028d8 60.5px,#0028d8 63.5px,#0027d8 66.5px,#0027d8 69.5px,#0027d8 72.5px,#0027d8 75.5px,#0027d8 78.5px,#0027d8 81.5px,#0027d8 84.5px,#0027d8 87.5px,#0027d8 90.5px,#0027d8 93.5px,#0027d8 96.5px,#0027d8 99.5px,#0027d8 102.5px,#0027d8 105.5px,#0027d8 108.5px)"></div><div style="top:97px;background:linear-gradient(90deg,#ffdf00 0.5px,#ffe200 3.5px,#f8ea00 6.5px,#dfeb04 9.5px,#bde00d 12.5px,#bfe10c 15.5px,#f3ed00 18.5px,#ffc200 21.5px,#ff9500 24.5px,#ff8500 27.5px,#ff9b00 30.5px,#ffd000 33.5px,#b8de0e 36.5px,#2eaf1b 39.5px,#058640 42.5px,#005e8d 45.5px,#0040ba 48.5px,#0030cf 51.5px,#002dd2 54.5px,#002bd5 57.5px,#0029d7 60.5px,#0028d8 63.5px,#0028d8 66.5px,#0028d8 69.5px,#0028d8 72.5px,#0028d8 75.5px,#0028d8 78.5px,#0028d8 81.5px,#0028d8 84.5px,#0028d8 87.5px,#0028d8 90.5px,#0028d8 93.5px,#0028d8 96.5px,#0028d8 99.5px,#0028d8 102.5px,#0028d8 105.5px,#0028d8 108.5px)"></div><div style="top:98px;background:linear-gradient(90deg,#ffda00 0.5px,#ffde00 3.5px,#fae800 6.5px,#e3ec03 9.5px,#c1e10c 12.5px,#c3e20b 15.5px,#f6eb00 18.5px,#ffbc00 21.5px,#ff8e00 24.5px,#ff7c00 27.5px,#ff9200 30.5px,#ffc900 33.5px,#c3e20b 36.5px,#33b11a 39.5px,#05883e 42.5px,#005f8b 45.5px,#0040b9 48.5px,#0030ce 51.5px,#002dd2 54.5px,#002bd4 57.5px,#0029d7 60.5px,#0028d8 63.5px,#0028d8 66.5px,#0028d8 69.5px,#0028d8 72.5px,#0028d8 75.5px,#0028d8 78.5px,#0028d8 81.5px,#0028d8 84.5px,#0028d8 87.5px,#0028d8 90.5px,#0028d8 93.5px,#0028d8 96.5px,#0028d8 99.5px,#0028d8 102.5px,#0028d8 105.5px,#0028d8 108.5px)"></div><div style="top:99px;background:linear-gradient(90deg,#ffd600 0.5px,#ffd900 3.5px,#fde600 6.5px,#e7ed02 9.5px,#c4e20b 12.5px,#c7e30a 15.5px,#f8ea00 18.5px,#ffb800 21.5px,#ff8700 24.5px,#ff7300 27.5px,#ff8900 30.5px,#ffc200 33.5px,#cde509 36.5px,#37b31a 39.5px,#058a3b 42.5px,#00608a 45.5px,#0041b9 48.5px,#0030ce 51.5px,#002dd2 54.5px,#002bd4 57.5px,#0029d7 60.5px,#0028d8 63.5px,#0028d8 66.5px,#0028d8 69.5px,#0028d8 72.5px,#0028d8 75.5px,#0028d8 78.5px,#0028d8 81.5px,#0028d8 84.5px,#0028d8 87.5px,#0028d8 90.5px,#0028d8 93.5px,#0028d8 96.5px,#0028d8 99.5px,#0028d8 102.5px,#0028d8 105.5px,#0028d8 108.5px)"></div><div style="top:100px;background:linear-gradient(90deg,#ffd100 0.5px,#ffd500 3.5px,#ffe400 6.5px,#ebef01 9.5px,#c7e30a 12.5px,#cbe409 15.5px,#fae800 18.5px,#ffb300 21.5px,#ff8000 24.5px,#ff6c00 27.5px,#ff8100 30.5px,#ffbc00 33.5px,#d8e806 36.5px,#3bb519 39.5px,#068b39 42.5px,#006188 45.5px,#0042b8 48.5px,#0030ce 51.5px,#002dd2 54.5px,#002bd4 57.5px,#0029d7 60.5px,#0028d8 63.5px,#0028d8 66.5px,#0028d8 69.5px,#0028d8 72.5px,#0028d8 75.5px,#0028d8 78.5px,#0028d8 81.5px,#0028d8 84.5px,#0028d8 87.5px,#0028d8 90.5px,#0028d8 93.5px,#0028d8 96.5px,#0028d8 99.5px,#0028d8 102.5px,#0028d8 105.5px,#0028d8 108.5px)"></div><div style="top:101px;background:linear-gradient(90deg,#ffcd00 0.5px,#ffd100 3.5px,#ffe100 6.5px,#eff000 9.5px,#cae409 12.5px,#cee608 15.5px,#fce600 18.5px,#ffaf00 21.5px,#ff7a00 24.5px,#ff6400 27.5px,#ff7900 30.5px,#ffb600 33.5px,#e2eb04 36.5px,#3fb718 39.5px,#068d37 42.5px,#006287 45.5px,#0042b7 48.5px,#0030ce 51.5px,#002dd2 54.5px,#002bd4 57.5px,#0029d7 60.5px,#0028d8 63.5px,#0028d8 66.5px,#0028d8 69.5px,#0028d8 72.5px,#0028d8 75.5px,#0028d8 78.5px,#0028d8 81.5px,#0028d8 84.5px,#0028d8 87.5px,#0028d8 90.5px,#0028d8 93.5px,#0028d8 96.5px,#0028d8 99.5px,#0028d8 102.5px,#0028d8 105.5px,#0028d8 108.5px)"></div><div style="top:102px;background:linear-gradient(90deg,#ffc900 0.5px,#ffcd00 3.5px,#ffdf00 6.5px,#f1ef00 9.5px,#cde509 12.5px,#d1e608 15.5px,#fee500 18.5px,#ffab00 21.5px,#ff7500 24.5px,#ff5e00 27.5px,#ff7300 30.5px,#ffb000 33.5px,#eaee02 36.5px,#44b918 39.5px,#078e36 42.5px,#006385 45.5px,#0042b7 48.5px,#0030ce 51.5px,#002dd2 54.5px,#002bd4 57.5px,#0029d7 60.5px,#0028d8 63.5px,#0028d8 66.5px,#0028d8 69.5px,#0028d8 72.5px,#0028d8 75.5px,#0028d8 78.5px,#0028d8 81.5px,#0028d8 84.5px,#0028d8 87.5px,#0028d8 90.5px,#0028d8 93.5px,#0028d8 96.5px,#0028d8 99.5px,#0028d8 102.5px,#0028d8 105.5px,#0028d8 108.5px)"></div><div style="top:103px;background:linear-gradient(90deg,#ffc700 0.5px,#ffcb00 3.5px,#ffdd00 6.5px,#f1ef00 9.5px,#cee508 12.5px,#d3e707 15.5px,#ffe400 18.5px,#ffa900 21.5px,#ff7200 24.5px,#ff5a00 27.5px,#ff6f00 30.5px,#ffad00 33.5px,#eff000 36.5px,#48ba17 39.5px,#078e35 42.5px,#006485 45.5px,#0043b7 48.5px,#0030ce 51.5px,#002dd2 54.5px,#002bd4 57.5px,#0029d7 60.5px,#0028d8 63.5px,#0028d8 66.5px,#0028d8 69.5px,#0028d8 72.5px,#0028d8 75.5px,#0028d8 78.5px,#0028d8 81.5px,#0028d8 84.5px,#0028d8 87.5px,#0028d8 90.5px,#0028d8 93.5px,#0028d8 96.5px,#0028d8 99.5px,#0028d8 102.5px,#0028d8 105.5px,#0028d8 108.5px)"></div><div style="top:104px;background:linear-gradient(90deg,#ffc500 0.5px,#ffca00 3.5px,#ffdc00 6.5px,#f2ef00 9.5px,#cfe608 12.5px,#d4e707 15.5px,#ffe300 18.5px,#ffa700 21.5px,#ff7000 24.5px,#ff5800 27.5px,#ff6d00 30.5px,#ffab00 33.5px,#f1f000 36.5px,#49bb17 39.5px,#078f35 42.5px,#006484 45.5px,#0043b6 48.5px,#0030ce 51.5px,#002dd2 54.5px,#002bd4 57.5px,#0029d7 60.5px,#0028d8 63.5px,#0028d8 66.5px,#0028d8 69.5px,#0028d8 72.5px,#0028d8 75.5px,#0028d8 78.5px,#0028d8 81.5px,#0028d8 84.5px,#0028d8 87.5px,#0028d8 90.5px,#0028d8 93.5px,#0028d8 96.5px,#0028d8 99.5px,#0028d8 102.5px,#0028d8 105.5px,#0028d8 108.5px)"></div></div>
<svg width="685" height="287" viewBox="0 0 685 287">
<line x1="25.20" y1="120.50" x2="25.20" y2="122.80" stroke="#000" stroke-width="0.8"/>
<line x1="32.89" y1="120.50" x2="32.89" y2="121.90" stroke="#000" stroke-width="0.8"/>
<line x1="40.59" y1="120.50" x2="40.59" y2="122.80" stroke="#000" stroke-width="0.8"/>
<line x1="48.28" y1="120.50" x2="48.28" y2="121.90" stroke="#000" stroke-width="0.8"/>
<line x1="55.97" y1="120.50" x2="55.97" y2="122.80" stroke="#000" stroke-width="0.8"/>
<line x1="63.66" y1="120.50" x2="63.66" y2="121.90" stroke="#000" stroke-width="0.8"/>
<line x1="71.36" y1="120.50" x2="71.36" y2="122.80" stroke="#000" stroke-width="0.8"/>
<line x1="79.05" y1="120.50" x2="79.05" y2="121.90" stroke="#000" stroke-width="0.8"/>
<line x1="86.74" y1="120.50" x2="86.74" y2="122.80" stroke="#000" stroke-width="0.8"/>
<line x1="94.44" y1="120.50" x2="94.44" y2="121.90" stroke="#000" stroke-width="0.8"/>
<line x1="102.13" y1="120.50" x2="102.13" y2="122.80" stroke="#000" stroke-width="0.8"/>
<line x1="109.82" y1="120.50" x2="109.82" y2="121.90" stroke="#000" stroke-width="0.8"/>
<line x1="117.51" y1="120.50" x2="117.51" y2="122.80" stroke="#000" stroke-width="0.8"/>
<line x1="125.21" y1="120.50" x2="125.21" y2="121.90" stroke="#000" stroke-width="0.8"/>
<line x1="132.90" y1="120.50" x2="132.90" y2="122.80" stroke="#000" stroke-width="0.8"/>
<text x="25.20" y="130.40" font-size="6.8" text-anchor="middle" font-family='"Liberation Sans", sans-serif' fill="#2a2a2a" stroke="#2a2a2a" stroke-width="0.18">450</text>
<text x="40.59" y="130.40" font-size="6.8" text-anchor="middle" font-family='"Liberation Sans", sans-serif' fill="#2a2a2a" stroke="#2a2a2a" stroke-width="0.18">500</text>
<text x="55.97" y="130.40" font-size="6.8" text-anchor="middle" font-family='"Liberation Sans", sans-serif' fill="#2a2a2a" stroke="#2a2a2a" stroke-width="0.18">550</text>
<text x="71.36" y="130.40" font-size="6.8" text-anchor="middle" font-family='"Liberation Sans", sans-serif' fill="#2a2a2a" stroke="#2a2a2a" stroke-width="0.18">600</text>
<text x="86.74" y="130.40" font-size="6.8" text-anchor="middle" font-family='"Liberation Sans", sans-serif' fill="#2a2a2a" stroke="#2a2a2a" stroke-width="0.18">650</text>
<text x="102.13" y="130.40" font-size="6.8" text-anchor="middle" font-family='"Liberation Sans", sans-serif' fill="#2a2a2a" stroke="#2a2a2a" stroke-width="0.18">700</text>
<text x="117.51" y="130.40" font-size="6.8" text-anchor="middle" font-family='"Liberation Sans", sans-serif' fill="#2a2a2a" stroke="#2a2a2a" stroke-width="0.18">750</text>
<text x="132.90" y="130.40" font-size="6.8" text-anchor="middle" font-family='"Liberation Sans", sans-serif' fill="#2a2a2a" stroke="#2a2a2a" stroke-width="0.18">800</text>
<line x1="22.90" y1="120.10" x2="25.20" y2="120.10" stroke="#000" stroke-width="0.8"/>
<line x1="23.80" y1="113.19" x2="25.20" y2="113.19" stroke="#000" stroke-width="0.8"/>
<line x1="23.80" y1="109.15" x2="25.20" y2="109.15" stroke="#000" stroke-width="0.8"/>
<line x1="23.80" y1="106.28" x2="25.20" y2="106.28" stroke="#000" stroke-width="0.8"/>
<line x1="23.80" y1="104.06" x2="25.20" y2="104.06" stroke="#000" stroke-width="0.8"/>
<line x1="23.80" y1="102.24" x2="25.20" y2="102.24" stroke="#000" stroke-width="0.8"/>
<line x1="23.80" y1="100.70" x2="25.20" y2="100.70" stroke="#000" stroke-width="0.8"/>
<line x1="23.80" y1="99.37" x2="25.20" y2="99.37" stroke="#000" stroke-width="0.8"/>
<line x1="23.80" y1="98.20" x2="25.20" y2="98.20" stroke="#000" stroke-width="0.8"/>
<line x1="22.90" y1="97.15" x2="25.20" y2="97.15" stroke="#000" stroke-width="0.8"/>
<line x1="23.80" y1="90.24" x2="25.20" y2="90.24" stroke="#000" stroke-width="0.8"/>
<line x1="23.80" y1="86.20" x2="25.20" y2="86.20" stroke="#000" stroke-width="0.8"/>
<line x1="23.80" y1="83.33" x2="25.20" y2="83.33" stroke="#000" stroke-width="0.8"/>
<line x1="23.80" y1="81.11" x2="25.20" y2="81.11" stroke="#000" stroke-width="0.8"/>
<line x1="23.80" y1="79.29" x2="25.20" y2="79.29" stroke="#000" stroke-width="0.8"/>
<line x1="23.80" y1="77.75" x2="25.20" y2="77.75" stroke="#000" stroke-width="0.8"/>
<line x1="23.80" y1="76.42" x2="25.20" y2="76.42" stroke="#000" stroke-width="0.8"/>
<line x1="23.80" y1="75.25" x2="25.20" y2="75.25" stroke="#000" stroke-width="0.8"/>
<line x1="22.90" y1="74.20" x2="25.20" y2="74.20" stroke="#000" stroke-width="0.8"/>
<line x1="23.80" y1="67.29" x2="25.20" y2="67.29" stroke="#000" stroke-width="0.8"/>
<line x1="23.80" y1="63.25" x2="25.20" y2="63.25" stroke="#000" stroke-width="0.8"/>
<line x1="23.80" y1="60.38" x2="25.20" y2="60.38" stroke="#000" stroke-width="0.8"/>
<line x1="23.80" y1="58.16" x2="25.20" y2="58.16" stroke="#000" stroke-width="0.8"/>
<line x1="23.80" y1="56.34" x2="25.20" y2="56.34" stroke="#000" stroke-width="0.8"/>
<line x1="23.80" y1="54.80" x2="25.20" y2="54.80" stroke="#000" stroke-width="0.8"/>
<line x1="23.80" y1="53.47" x2="25.20" y2="53.47" stroke="#000" stroke-width="0.8"/>
<line x1="23.80" y1="52.30" x2="25.20" y2="52.30" stroke="#000" stroke-width="0.8"/>
<line x1="22.90" y1="51.25" x2="25.20" y2="51.25" stroke="#000" stroke-width="0.8"/>
<line x1="23.80" y1="44.34" x2="25.20" y2="44.34" stroke="#000" stroke-width="0.8"/>
<line x1="23.80" y1="40.30" x2="25.20" y2="40.30" stroke="#000" stroke-width="0.8"/>
<line x1="23.80" y1="37.43" x2="25.20" y2="37.43" stroke="#000" stroke-width="0.8"/>
<line x1="23.80" y1="35.21" x2="25.20" y2="35.21" stroke="#000" stroke-width="0.8"/>
<line x1="23.80" y1="33.39" x2="25.20" y2="33.39" stroke="#000" stroke-width="0.8"/>
<line x1="23.80" y1="31.85" x2="25.20" y2="31.85" stroke="#000" stroke-width="0.8"/>
<line x1="23.80" y1="30.52" x2="25.20" y2="30.52" stroke="#000" stroke-width="0.8"/>
<line x1="23.80" y1="29.35" x2="25.20" y2="29.35" stroke="#000" stroke-width="0.8"/>
<line x1="22.90" y1="28.30" x2="25.20" y2="28.30" stroke="#000" stroke-width="0.8"/>
<line x1="23.80" y1="21.39" x2="25.20" y2="21.39" stroke="#000" stroke-width="0.8"/>
<line x1="23.80" y1="17.35" x2="25.20" y2="17.35" stroke="#000" stroke-width="0.8"/>
<text x="22.20" y="122.50" font-size="6.7" text-anchor="end" font-family='"Liberation Sans", sans-serif' fill="#2a2a2a" stroke="#2a2a2a" stroke-width="0.18">0.1</text>
<text x="22.20" y="99.55" font-size="6.7" text-anchor="end" font-family='"Liberation Sans", sans-serif' fill="#2a2a2a" stroke="#2a2a2a" stroke-width="0.18">1</text>
<text x="22.20" y="76.60" font-size="6.7" text-anchor="end" font-family='"Liberation Sans", sans-serif' fill="#2a2a2a" stroke="#2a2a2a" stroke-width="0.18">10</text>
<text x="22.20" y="53.65" font-size="6.7" text-anchor="end" font-family='"Liberation Sans", sans-serif' fill="#2a2a2a" stroke="#2a2a2a" stroke-width="0.18">100</text>
<text x="22.20" y="30.70" font-size="6.7" text-anchor="end" font-family='"Liberation Sans", sans-serif' fill="#2a2a2a" stroke="#2a2a2a" stroke-width="0.18">1000</text>
<rect x="25.20" y="17.20" width="107.70" height="103.30" fill="none" stroke="#000" stroke-width="1.1"/>
<text x="79.40" y="141.00" font-size="7.8" text-anchor="middle" font-family='"Liberation Sans", sans-serif' fill="#2a2a2a" stroke="#2a2a2a" stroke-width="0.18">Wavelength (nm)</text>
<text transform="translate(6.40,76.80) rotate(-90) scale(1.0,1)" font-size="8.0" text-anchor="middle" font-family='"Liberation Sans", sans-serif' fill="#2a2a2a" stroke="#2a2a2a" stroke-width="0.18">Delay Time (ps)</text>
<defs><linearGradient id="cb70" x1="0" y1="0" x2="0" y2="1"><stop offset="0.000" stop-color="#ff0000"/><stop offset="0.029" stop-color="#ff1a00"/><stop offset="0.057" stop-color="#ff3300"/><stop offset="0.086" stop-color="#ff4b00"/><stop offset="0.114" stop-color="#ff6200"/><stop offset="0.143" stop-color="#ff7800"/><stop offset="0.171" stop-color="#ff8e00"/><stop offset="0.200" stop-color="#ffa500"/><stop offset="0.229" stop-color="#ffba00"/><stop offset="0.257" stop-color="#ffcf00"/><stop offset="0.286" stop-color="#ffe400"/><stop offset="0.314" stop-color="#f0f000"/><stop offset="0.343" stop-color="#c5e30b"/><stop offset="0.371" stop-color="#9ad512"/><stop offset="0.400" stop-color="#6dc615"/><stop offset="0.429" stop-color="#40b818"/><stop offset="0.457" stop-color="#28ac1c"/><stop offset="0.486" stop-color="#10a020"/><stop offset="0.514" stop-color="#099330"/><stop offset="0.543" stop-color="#048344"/><stop offset="0.571" stop-color="#00725c"/><stop offset="0.600" stop-color="#006484"/><stop offset="0.629" stop-color="#0051a1"/><stop offset="0.657" stop-color="#0038c4"/><stop offset="0.686" stop-color="#011de1"/><stop offset="0.714" stop-color="#0408f4"/><stop offset="0.743" stop-color="#070adf"/><stop offset="0.771" stop-color="#0a0bca"/><stop offset="0.800" stop-color="#0e0db4"/><stop offset="0.829" stop-color="#11109c"/><stop offset="0.857" stop-color="#141284"/><stop offset="0.886" stop-color="#1e1087"/><stop offset="0.914" stop-color="#270d8a"/><stop offset="0.943" stop-color="#320c8f"/><stop offset="0.971" stop-color="#3f0b95"/><stop offset="1.000" stop-color="#4b0a9b"/></linearGradient></defs>
<rect x="138.3" y="18.2" width="8.20" height="101.80" fill="url(#cb70)"/>
<line x1="146.95" y1="18.20" x2="146.95" y2="120.00" stroke="#000" stroke-width="1.1"/>
<line x1="146.90" y1="18.40" x2="148.80" y2="18.40" stroke="#000" stroke-width="0.9"/>
<text x="150.80" y="20.80" font-size="6.9" text-anchor="start" font-family='"Liberation Sans", sans-serif' fill="#2a2a2a" stroke="#2a2a2a" stroke-width="0.18">50</text>
<line x1="146.90" y1="32.92" x2="148.80" y2="32.92" stroke="#000" stroke-width="0.9"/>
<text x="150.80" y="35.32" font-size="6.9" text-anchor="start" font-family='"Liberation Sans", sans-serif' fill="#2a2a2a" stroke="#2a2a2a" stroke-width="0.18">40</text>
<line x1="146.90" y1="47.44" x2="148.80" y2="47.44" stroke="#000" stroke-width="0.9"/>
<text x="150.80" y="49.84" font-size="6.9" text-anchor="start" font-family='"Liberation Sans", sans-serif' fill="#2a2a2a" stroke="#2a2a2a" stroke-width="0.18">30</text>
<line x1="146.90" y1="61.96" x2="148.80" y2="61.96" stroke="#000" stroke-width="0.9"/>
<text x="150.80" y="64.36" font-size="6.9" text-anchor="start" font-family='"Liberation Sans", sans-serif' fill="#2a2a2a" stroke="#2a2a2a" stroke-width="0.18">20</text>
<line x1="146.90" y1="76.48" x2="148.80" y2="76.48" stroke="#000" stroke-width="0.9"/>
<text x="150.80" y="78.88" font-size="6.9" text-anchor="start" font-family='"Liberation Sans", sans-serif' fill="#2a2a2a" stroke="#2a2a2a" stroke-width="0.18">10</text>
<line x1="146.90" y1="91.00" x2="148.80" y2="91.00" stroke="#000" stroke-width="0.9"/>
<text x="150.80" y="93.40" font-size="6.9" text-anchor="start" font-family='"Liberation Sans", sans-serif' fill="#2a2a2a" stroke="#2a2a2a" stroke-width="0.18">0</text>
<line x1="146.90" y1="105.52" x2="148.80" y2="105.52" stroke="#000" stroke-width="0.9"/>
<text x="150.80" y="107.92" font-size="6.9" text-anchor="start" font-family='"Liberation Sans", sans-serif' fill="#2a2a2a" stroke="#2a2a2a" stroke-width="0.18">-10</text>
<line x1="146.90" y1="120.04" x2="148.80" y2="120.04" stroke="#000" stroke-width="0.9"/>
<text x="150.80" y="122.44" font-size="6.9" text-anchor="start" font-family='"Liberation Sans", sans-serif' fill="#2a2a2a" stroke="#2a2a2a" stroke-width="0.18">-20</text>
<text x="145.00" y="12.60" font-size="7.8" text-anchor="middle" font-family='"Liberation Sans", sans-serif' fill="#2a2a2a" stroke="#2a2a2a" stroke-width="0.18">m&#916;OD</text>
<line x1="371.40" y1="118.20" x2="371.40" y2="120.50" stroke="#000" stroke-width="0.8"/>
<line x1="380.39" y1="118.20" x2="380.39" y2="119.60" stroke="#000" stroke-width="0.8"/>
<line x1="389.38" y1="118.20" x2="389.38" y2="120.50" stroke="#000" stroke-width="0.8"/>
<line x1="398.38" y1="118.20" x2="398.38" y2="119.60" stroke="#000" stroke-width="0.8"/>
<line x1="407.37" y1="118.20" x2="407.37" y2="120.50" stroke="#000" stroke-width="0.8"/>
<line x1="416.36" y1="118.20" x2="416.36" y2="119.60" stroke="#000" stroke-width="0.8"/>
<line x1="425.35" y1="118.20" x2="425.35" y2="120.50" stroke="#000" stroke-width="0.8"/>
<line x1="434.34" y1="118.20" x2="434.34" y2="119.60" stroke="#000" stroke-width="0.8"/>
<line x1="443.33" y1="118.20" x2="443.33" y2="120.50" stroke="#000" stroke-width="0.8"/>
<line x1="452.32" y1="118.20" x2="452.32" y2="119.60" stroke="#000" stroke-width="0.8"/>
<line x1="461.32" y1="118.20" x2="461.32" y2="120.50" stroke="#000" stroke-width="0.8"/>
<line x1="470.31" y1="118.20" x2="470.31" y2="119.60" stroke="#000" stroke-width="0.8"/>
<line x1="479.30" y1="118.20" x2="479.30" y2="120.50" stroke="#000" stroke-width="0.8"/>
<text x="371.40" y="128.10" font-size="6.8" text-anchor="middle" font-family='"Liberation Sans", sans-serif' fill="#2a2a2a" stroke="#2a2a2a" stroke-width="0.18">450</text>
<text x="389.38" y="128.10" font-size="6.8" text-anchor="middle" font-family='"Liberation Sans", sans-serif' fill="#2a2a2a" stroke="#2a2a2a" stroke-width="0.18">500</text>
<text x="407.37" y="128.10" font-size="6.8" text-anchor="middle" font-family='"Liberation Sans", sans-serif' fill="#2a2a2a" stroke="#2a2a2a" stroke-width="0.18">550</text>
<text x="425.35" y="128.10" font-size="6.8" text-anchor="middle" font-family='"Liberation Sans", sans-serif' fill="#2a2a2a" stroke="#2a2a2a" stroke-width="0.18">600</text>
<text x="443.33" y="128.10" font-size="6.8" text-anchor="middle" font-family='"Liberation Sans", sans-serif' fill="#2a2a2a" stroke="#2a2a2a" stroke-width="0.18">650</text>
<text x="461.32" y="128.10" font-size="6.8" text-anchor="middle" font-family='"Liberation Sans", sans-serif' fill="#2a2a2a" stroke="#2a2a2a" stroke-width="0.18">700</text>
<text x="479.30" y="128.10" font-size="6.8" text-anchor="middle" font-family='"Liberation Sans", sans-serif' fill="#2a2a2a" stroke="#2a2a2a" stroke-width="0.18">750</text>
<line x1="369.10" y1="118.50" x2="371.40" y2="118.50" stroke="#000" stroke-width="0.8"/>
<line x1="370.00" y1="111.58" x2="371.40" y2="111.58" stroke="#000" stroke-width="0.8"/>
<line x1="370.00" y1="107.53" x2="371.40" y2="107.53" stroke="#000" stroke-width="0.8"/>
<line x1="370.00" y1="104.65" x2="371.40" y2="104.65" stroke="#000" stroke-width="0.8"/>
<line x1="370.00" y1="102.42" x2="371.40" y2="102.42" stroke="#000" stroke-width="0.8"/>
<line x1="370.00" y1="100.60" x2="371.40" y2="100.60" stroke="#000" stroke-width="0.8"/>
<line x1="370.00" y1="99.06" x2="371.40" y2="99.06" stroke="#000" stroke-width="0.8"/>
<line x1="370.00" y1="97.73" x2="371.40" y2="97.73" stroke="#000" stroke-width="0.8"/>
<line x1="370.00" y1="96.55" x2="371.40" y2="96.55" stroke="#000" stroke-width="0.8"/>
<line x1="369.10" y1="95.50" x2="371.40" y2="95.50" stroke="#000" stroke-width="0.8"/>
<line x1="370.00" y1="88.58" x2="371.40" y2="88.58" stroke="#000" stroke-width="0.8"/>
<line x1="370.00" y1="84.53" x2="371.40" y2="84.53" stroke="#000" stroke-width="0.8"/>
<line x1="370.00" y1="81.65" x2="371.40" y2="81.65" stroke="#000" stroke-width="0.8"/>
<line x1="370.00" y1="79.42" x2="371.40" y2="79.42" stroke="#000" stroke-width="0.8"/>
<line x1="370.00" y1="77.60" x2="371.40" y2="77.60" stroke="#000" stroke-width="0.8"/>
<line x1="370.00" y1="76.06" x2="371.40" y2="76.06" stroke="#000" stroke-width="0.8"/>
<line x1="370.00" y1="74.73" x2="371.40" y2="74.73" stroke="#000" stroke-width="0.8"/>
<line x1="370.00" y1="73.55" x2="371.40" y2="73.55" stroke="#000" stroke-width="0.8"/>
<line x1="369.10" y1="72.50" x2="371.40" y2="72.50" stroke="#000" stroke-width="0.8"/>
<line x1="370.00" y1="65.58" x2="371.40" y2="65.58" stroke="#000" stroke-width="0.8"/>
<line x1="370.00" y1="61.53" x2="371.40" y2="61.53" stroke="#000" stroke-width="0.8"/>
<line x1="370.00" y1="58.65" x2="371.40" y2="58.65" stroke="#000" stroke-width="0.8"/>
<line x1="370.00" y1="56.42" x2="371.40" y2="56.42" stroke="#000" stroke-width="0.8"/>
<line x1="370.00" y1="54.60" x2="371.40" y2="54.60" stroke="#000" stroke-width="0.8"/>
<line x1="370.00" y1="53.06" x2="371.40" y2="53.06" stroke="#000" stroke-width="0.8"/>
<line x1="370.00" y1="51.73" x2="371.40" y2="51.73" stroke="#000" stroke-width="0.8"/>
<line x1="370.00" y1="50.55" x2="371.40" y2="50.55" stroke="#000" stroke-width="0.8"/>
<line x1="369.10" y1="49.50" x2="371.40" y2="49.50" stroke="#000" stroke-width="0.8"/>
<line x1="370.00" y1="42.58" x2="371.40" y2="42.58" stroke="#000" stroke-width="0.8"/>
<line x1="370.00" y1="38.53" x2="371.40" y2="38.53" stroke="#000" stroke-width="0.8"/>
<line x1="370.00" y1="35.65" x2="371.40" y2="35.65" stroke="#000" stroke-width="0.8"/>
<line x1="370.00" y1="33.42" x2="371.40" y2="33.42" stroke="#000" stroke-width="0.8"/>
<line x1="370.00" y1="31.60" x2="371.40" y2="31.60" stroke="#000" stroke-width="0.8"/>
<line x1="370.00" y1="30.06" x2="371.40" y2="30.06" stroke="#000" stroke-width="0.8"/>
<line x1="370.00" y1="28.73" x2="371.40" y2="28.73" stroke="#000" stroke-width="0.8"/>
<line x1="370.00" y1="27.55" x2="371.40" y2="27.55" stroke="#000" stroke-width="0.8"/>
<line x1="369.10" y1="26.50" x2="371.40" y2="26.50" stroke="#000" stroke-width="0.8"/>
<line x1="370.00" y1="19.58" x2="371.40" y2="19.58" stroke="#000" stroke-width="0.8"/>
<line x1="370.00" y1="15.53" x2="371.40" y2="15.53" stroke="#000" stroke-width="0.8"/>
<text x="368.40" y="120.90" font-size="6.7" text-anchor="end" font-family='"Liberation Sans", sans-serif' fill="#2a2a2a" stroke="#2a2a2a" stroke-width="0.18">0.1</text>
<text x="368.40" y="97.90" font-size="6.7" text-anchor="end" font-family='"Liberation Sans", sans-serif' fill="#2a2a2a" stroke="#2a2a2a" stroke-width="0.18">1</text>
<text x="368.40" y="74.90" font-size="6.7" text-anchor="end" font-family='"Liberation Sans", sans-serif' fill="#2a2a2a" stroke="#2a2a2a" stroke-width="0.18">10</text>
<text x="368.40" y="51.90" font-size="6.7" text-anchor="end" font-family='"Liberation Sans", sans-serif' fill="#2a2a2a" stroke="#2a2a2a" stroke-width="0.18">100</text>
<text x="368.40" y="28.90" font-size="6.7" text-anchor="end" font-family='"Liberation Sans", sans-serif' fill="#2a2a2a" stroke="#2a2a2a" stroke-width="0.18">1000</text>
<rect x="371.40" y="15.20" width="107.90" height="103.00" fill="none" stroke="#000" stroke-width="1.1"/>
<text x="425.50" y="139.70" font-size="7.8" text-anchor="middle" font-family='"Liberation Sans", sans-serif' fill="#2a2a2a" stroke="#2a2a2a" stroke-width="0.18">Wavelength (nm)</text>
<text transform="translate(352.40,74.40) rotate(-90) scale(1.0,1)" font-size="8.1" text-anchor="middle" font-family='"Liberation Sans", sans-serif' fill="#2a2a2a" stroke="#2a2a2a" stroke-width="0.18">Delay Time (ps)</text>
<defs><linearGradient id="cb157" x1="0" y1="0" x2="0" y2="1"><stop offset="0.000" stop-color="#ff0000"/><stop offset="0.029" stop-color="#ff1a00"/><stop offset="0.057" stop-color="#ff3300"/><stop offset="0.086" stop-color="#ff4b00"/><stop offset="0.114" stop-color="#ff6200"/><stop offset="0.143" stop-color="#ff7800"/><stop offset="0.171" stop-color="#ff8e00"/><stop offset="0.200" stop-color="#ffa500"/><stop offset="0.229" stop-color="#ffba00"/><stop offset="0.257" stop-color="#ffcf00"/><stop offset="0.286" stop-color="#ffe400"/><stop offset="0.314" stop-color="#f0f000"/><stop offset="0.343" stop-color="#c5e30b"/><stop offset="0.371" stop-color="#9ad512"/><stop offset="0.400" stop-color="#6dc615"/><stop offset="0.429" stop-color="#40b818"/><stop offset="0.457" stop-color="#28ac1c"/><stop offset="0.486" stop-color="#10a020"/><stop offset="0.514" stop-color="#099330"/><stop offset="0.543" stop-color="#048344"/><stop offset="0.571" stop-color="#00725c"/><stop offset="0.600" stop-color="#006484"/><stop offset="0.629" stop-color="#0051a1"/><stop offset="0.657" stop-color="#0038c4"/><stop offset="0.686" stop-color="#011de1"/><stop offset="0.714" stop-color="#0408f4"/><stop offset="0.743" stop-color="#070adf"/><stop offset="0.771" stop-color="#0a0bca"/><stop offset="0.800" stop-color="#0e0db4"/><stop offset="0.829" stop-color="#11109c"/><stop offset="0.857" stop-color="#141284"/><stop offset="0.886" stop-color="#1e1087"/><stop offset="0.914" stop-color="#270d8a"/><stop offset="0.943" stop-color="#320c8f"/><stop offset="0.971" stop-color="#3f0b95"/><stop offset="1.000" stop-color="#4b0a9b"/></linearGradient></defs>
<rect x="484.5" y="16.4" width="7.80" height="101.10" fill="url(#cb157)"/>
<line x1="492.75" y1="16.40" x2="492.75" y2="117.50" stroke="#000" stroke-width="1.1"/>
<line x1="492.70" y1="16.80" x2="494.60" y2="16.80" stroke="#000" stroke-width="0.9"/>
<text x="496.60" y="19.20" font-size="6.9" text-anchor="start" font-family='"Liberation Sans", sans-serif' fill="#2a2a2a" stroke="#2a2a2a" stroke-width="0.18">50</text>
<line x1="492.70" y1="31.10" x2="494.60" y2="31.10" stroke="#000" stroke-width="0.9"/>
<text x="496.60" y="33.50" font-size="6.9" text-anchor="start" font-family='"Liberation Sans", sans-serif' fill="#2a2a2a" stroke="#2a2a2a" stroke-width="0.18">40</text>
<line x1="492.70" y1="45.40" x2="494.60" y2="45.40" stroke="#000" stroke-width="0.9"/>
<text x="496.60" y="47.80" font-size="6.9" text-anchor="start" font-family='"Liberation Sans", sans-serif' fill="#2a2a2a" stroke="#2a2a2a" stroke-width="0.18">30</text>
<line x1="492.70" y1="59.70" x2="494.60" y2="59.70" stroke="#000" stroke-width="0.9"/>
<text x="496.60" y="62.10" font-size="6.9" text-anchor="start" font-family='"Liberation Sans", sans-serif' fill="#2a2a2a" stroke="#2a2a2a" stroke-width="0.18">20</text>
<line x1="492.70" y1="74.00" x2="494.60" y2="74.00" stroke="#000" stroke-width="0.9"/>
<text x="496.60" y="76.40" font-size="6.9" text-anchor="start" font-family='"Liberation Sans", sans-serif' fill="#2a2a2a" stroke="#2a2a2a" stroke-width="0.18">10</text>
<line x1="492.70" y1="88.30" x2="494.60" y2="88.30" stroke="#000" stroke-width="0.9"/>
<text x="496.60" y="90.70" font-size="6.9" text-anchor="start" font-family='"Liberation Sans", sans-serif' fill="#2a2a2a" stroke="#2a2a2a" stroke-width="0.18">0</text>
<line x1="492.70" y1="102.60" x2="494.60" y2="102.60" stroke="#000" stroke-width="0.9"/>
<text x="496.60" y="105.00" font-size="6.9" text-anchor="start" font-family='"Liberation Sans", sans-serif' fill="#2a2a2a" stroke="#2a2a2a" stroke-width="0.18">-10</text>
<line x1="492.70" y1="116.90" x2="494.60" y2="116.90" stroke="#000" stroke-width="0.9"/>
<text x="496.60" y="119.30" font-size="6.9" text-anchor="start" font-family='"Liberation Sans", sans-serif' fill="#2a2a2a" stroke="#2a2a2a" stroke-width="0.18">-20</text>
<text x="491.00" y="11.00" font-size="7.8" text-anchor="middle" font-family='"Liberation Sans", sans-serif' fill="#2a2a2a" stroke="#2a2a2a" stroke-width="0.18">m&#916;OD</text>
<line x1="24.40" y1="265.00" x2="24.40" y2="267.30" stroke="#000" stroke-width="0.8"/>
<line x1="32.11" y1="265.00" x2="32.11" y2="266.40" stroke="#000" stroke-width="0.8"/>
<line x1="39.81" y1="265.00" x2="39.81" y2="267.30" stroke="#000" stroke-width="0.8"/>
<line x1="47.52" y1="265.00" x2="47.52" y2="266.40" stroke="#000" stroke-width="0.8"/>
<line x1="55.23" y1="265.00" x2="55.23" y2="267.30" stroke="#000" stroke-width="0.8"/>
<line x1="62.94" y1="265.00" x2="62.94" y2="266.40" stroke="#000" stroke-width="0.8"/>
<line x1="70.64" y1="265.00" x2="70.64" y2="267.30" stroke="#000" stroke-width="0.8"/>
<line x1="78.35" y1="265.00" x2="78.35" y2="266.40" stroke="#000" stroke-width="0.8"/>
<line x1="86.06" y1="265.00" x2="86.06" y2="267.30" stroke="#000" stroke-width="0.8"/>
<line x1="93.76" y1="265.00" x2="93.76" y2="266.40" stroke="#000" stroke-width="0.8"/>
<line x1="101.47" y1="265.00" x2="101.47" y2="267.30" stroke="#000" stroke-width="0.8"/>
<line x1="109.18" y1="265.00" x2="109.18" y2="266.40" stroke="#000" stroke-width="0.8"/>
<line x1="116.89" y1="265.00" x2="116.89" y2="267.30" stroke="#000" stroke-width="0.8"/>
<line x1="124.59" y1="265.00" x2="124.59" y2="266.40" stroke="#000" stroke-width="0.8"/>
<line x1="132.30" y1="265.00" x2="132.30" y2="267.30" stroke="#000" stroke-width="0.8"/>
<text x="24.40" y="274.20" font-size="6.8" text-anchor="middle" font-family='"Liberation Sans", sans-serif' fill="#2a2a2a" stroke="#2a2a2a" stroke-width="0.18">450</text>
<text x="39.81" y="274.20" font-size="6.8" text-anchor="middle" font-family='"Liberation Sans", sans-serif' fill="#2a2a2a" stroke="#2a2a2a" stroke-width="0.18">500</text>
<text x="55.23" y="274.20" font-size="6.8" text-anchor="middle" font-family='"Liberation Sans", sans-serif' fill="#2a2a2a" stroke="#2a2a2a" stroke-width="0.18">550</text>
<text x="70.64" y="274.20" font-size="6.8" text-anchor="middle" font-family='"Liberation Sans", sans-serif' fill="#2a2a2a" stroke="#2a2a2a" stroke-width="0.18">600</text>
<text x="86.06" y="274.20" font-size="6.8" text-anchor="middle" font-family='"Liberation Sans", sans-serif' fill="#2a2a2a" stroke="#2a2a2a" stroke-width="0.18">650</text>
<text x="101.47" y="274.20" font-size="6.8" text-anchor="middle" font-family='"Liberation Sans", sans-serif' fill="#2a2a2a" stroke="#2a2a2a" stroke-width="0.18">700</text>
<text x="116.89" y="274.20" font-size="6.8" text-anchor="middle" font-family='"Liberation Sans", sans-serif' fill="#2a2a2a" stroke="#2a2a2a" stroke-width="0.18">750</text>
<text x="132.30" y="274.20" font-size="6.8" text-anchor="middle" font-family='"Liberation Sans", sans-serif' fill="#2a2a2a" stroke="#2a2a2a" stroke-width="0.18">800</text>
<line x1="22.10" y1="264.60" x2="24.40" y2="264.60" stroke="#000" stroke-width="0.8"/>
<line x1="23.00" y1="258.01" x2="24.40" y2="258.01" stroke="#000" stroke-width="0.8"/>
<line x1="23.00" y1="254.15" x2="24.40" y2="254.15" stroke="#000" stroke-width="0.8"/>
<line x1="23.00" y1="251.41" x2="24.40" y2="251.41" stroke="#000" stroke-width="0.8"/>
<line x1="23.00" y1="249.29" x2="24.40" y2="249.29" stroke="#000" stroke-width="0.8"/>
<line x1="23.00" y1="247.56" x2="24.40" y2="247.56" stroke="#000" stroke-width="0.8"/>
<line x1="23.00" y1="246.09" x2="24.40" y2="246.09" stroke="#000" stroke-width="0.8"/>
<line x1="23.00" y1="244.82" x2="24.40" y2="244.82" stroke="#000" stroke-width="0.8"/>
<line x1="23.00" y1="243.70" x2="24.40" y2="243.70" stroke="#000" stroke-width="0.8"/>
<line x1="22.10" y1="242.70" x2="24.40" y2="242.70" stroke="#000" stroke-width="0.8"/>
<line x1="23.00" y1="236.11" x2="24.40" y2="236.11" stroke="#000" stroke-width="0.8"/>
<line x1="23.00" y1="232.25" x2="24.40" y2="232.25" stroke="#000" stroke-width="0.8"/>
<line x1="23.00" y1="229.51" x2="24.40" y2="229.51" stroke="#000" stroke-width="0.8"/>
<line x1="23.00" y1="227.39" x2="24.40" y2="227.39" stroke="#000" stroke-width="0.8"/>
<line x1="23.00" y1="225.66" x2="24.40" y2="225.66" stroke="#000" stroke-width="0.8"/>
<line x1="23.00" y1="224.19" x2="24.40" y2="224.19" stroke="#000" stroke-width="0.8"/>
<line x1="23.00" y1="222.92" x2="24.40" y2="222.92" stroke="#000" stroke-width="0.8"/>
<line x1="23.00" y1="221.80" x2="24.40" y2="221.80" stroke="#000" stroke-width="0.8"/>
<line x1="22.10" y1="220.80" x2="24.40" y2="220.80" stroke="#000" stroke-width="0.8"/>
<line x1="23.00" y1="214.21" x2="24.40" y2="214.21" stroke="#000" stroke-width="0.8"/>
<line x1="23.00" y1="210.35" x2="24.40" y2="210.35" stroke="#000" stroke-width="0.8"/>
<line x1="23.00" y1="207.61" x2="24.40" y2="207.61" stroke="#000" stroke-width="0.8"/>
<line x1="23.00" y1="205.49" x2="24.40" y2="205.49" stroke="#000" stroke-width="0.8"/>
<line x1="23.00" y1="203.76" x2="24.40" y2="203.76" stroke="#000" stroke-width="0.8"/>
<line x1="23.00" y1="202.29" x2="24.40" y2="202.29" stroke="#000" stroke-width="0.8"/>
<line x1="23.00" y1="201.02" x2="24.40" y2="201.02" stroke="#000" stroke-width="0.8"/>
<line x1="23.00" y1="199.90" x2="24.40" y2="199.90" stroke="#000" stroke-width="0.8"/>
<line x1="22.10" y1="198.90" x2="24.40" y2="198.90" stroke="#000" stroke-width="0.8"/>
<line x1="23.00" y1="192.31" x2="24.40" y2="192.31" stroke="#000" stroke-width="0.8"/>
<line x1="23.00" y1="188.45" x2="24.40" y2="188.45" stroke="#000" stroke-width="0.8"/>
<line x1="23.00" y1="185.71" x2="24.40" y2="185.71" stroke="#000" stroke-width="0.8"/>
<line x1="23.00" y1="183.59" x2="24.40" y2="183.59" stroke="#000" stroke-width="0.8"/>
<line x1="23.00" y1="181.86" x2="24.40" y2="181.86" stroke="#000" stroke-width="0.8"/>
<line x1="23.00" y1="180.39" x2="24.40" y2="180.39" stroke="#000" stroke-width="0.8"/>
<line x1="23.00" y1="179.12" x2="24.40" y2="179.12" stroke="#000" stroke-width="0.8"/>
<line x1="23.00" y1="178.00" x2="24.40" y2="178.00" stroke="#000" stroke-width="0.8"/>
<line x1="22.10" y1="177.00" x2="24.40" y2="177.00" stroke="#000" stroke-width="0.8"/>
<line x1="23.00" y1="170.41" x2="24.40" y2="170.41" stroke="#000" stroke-width="0.8"/>
<line x1="23.00" y1="166.55" x2="24.40" y2="166.55" stroke="#000" stroke-width="0.8"/>
<line x1="23.00" y1="163.81" x2="24.40" y2="163.81" stroke="#000" stroke-width="0.8"/>
<line x1="23.00" y1="161.69" x2="24.40" y2="161.69" stroke="#000" stroke-width="0.8"/>
<text x="21.40" y="267.00" font-size="6.7" text-anchor="end" font-family='"Liberation Sans", sans-serif' fill="#2a2a2a" stroke="#2a2a2a" stroke-width="0.18">0.1</text>
<text x="21.40" y="245.10" font-size="6.7" text-anchor="end" font-family='"Liberation Sans", sans-serif' fill="#2a2a2a" stroke="#2a2a2a" stroke-width="0.18">1</text>
<text x="21.40" y="223.20" font-size="6.7" text-anchor="end" font-family='"Liberation Sans", sans-serif' fill="#2a2a2a" stroke="#2a2a2a" stroke-width="0.18">10</text>
<text x="21.40" y="201.30" font-size="6.7" text-anchor="end" font-family='"Liberation Sans", sans-serif' fill="#2a2a2a" stroke="#2a2a2a" stroke-width="0.18">100</text>
<text x="21.40" y="179.40" font-size="6.7" text-anchor="end" font-family='"Liberation Sans", sans-serif' fill="#2a2a2a" stroke="#2a2a2a" stroke-width="0.18">1000</text>
<rect x="24.40" y="161.50" width="107.90" height="103.50" fill="none" stroke="#000" stroke-width="1.1"/>
<text x="79.00" y="284.60" font-size="7.8" text-anchor="middle" font-family='"Liberation Sans", sans-serif' fill="#2a2a2a" stroke="#2a2a2a" stroke-width="0.18">Wavelength (nm)</text>
<text transform="translate(7.00,221.20) rotate(-90) scale(1.0,1)" font-size="8.2" text-anchor="middle" font-family='"Liberation Sans", sans-serif' fill="#2a2a2a" stroke="#2a2a2a" stroke-width="0.18">Delay Time (ns)</text>
<defs><linearGradient id="cb249" x1="0" y1="0" x2="0" y2="1"><stop offset="0.000" stop-color="#ff0000"/><stop offset="0.029" stop-color="#ff1a00"/><stop offset="0.057" stop-color="#ff3300"/><stop offset="0.086" stop-color="#ff4b00"/><stop offset="0.114" stop-color="#ff6200"/><stop offset="0.143" stop-color="#ff7800"/><stop offset="0.171" stop-color="#ff8e00"/><stop offset="0.200" stop-color="#ffa500"/><stop offset="0.229" stop-color="#ffba00"/><stop offset="0.257" stop-color="#ffcf00"/><stop offset="0.286" stop-color="#ffe400"/><stop offset="0.314" stop-color="#f0f000"/><stop offset="0.343" stop-color="#c5e30b"/><stop offset="0.371" stop-color="#9ad512"/><stop offset="0.400" stop-color="#6dc615"/><stop offset="0.429" stop-color="#40b818"/><stop offset="0.457" stop-color="#28ac1c"/><stop offset="0.486" stop-color="#10a020"/><stop offset="0.514" stop-color="#099330"/><stop offset="0.543" stop-color="#048344"/><stop offset="0.571" stop-color="#00725c"/><stop offset="0.600" stop-color="#006484"/><stop offset="0.629" stop-color="#0051a1"/><stop offset="0.657" stop-color="#0038c4"/><stop offset="0.686" stop-color="#011de1"/><stop offset="0.714" stop-color="#0408f4"/><stop offset="0.743" stop-color="#070adf"/><stop offset="0.771" stop-color="#0a0bca"/><stop offset="0.800" stop-color="#0e0db4"/><stop offset="0.829" stop-color="#11109c"/><stop offset="0.857" stop-color="#141284"/><stop offset="0.886" stop-color="#1e1087"/><stop offset="0.914" stop-color="#270d8a"/><stop offset="0.943" stop-color="#320c8f"/><stop offset="0.971" stop-color="#3f0b95"/><stop offset="1.000" stop-color="#4b0a9b"/></linearGradient></defs>
<rect x="137.6" y="162.3" width="8.40" height="101.50" fill="url(#cb249)"/>
<line x1="146.45" y1="162.30" x2="146.45" y2="263.80" stroke="#000" stroke-width="1.1"/>
<line x1="146.40" y1="162.40" x2="148.30" y2="162.40" stroke="#000" stroke-width="0.9"/>
<text x="150.30" y="164.80" font-size="6.9" text-anchor="start" font-family='"Liberation Sans", sans-serif' fill="#2a2a2a" stroke="#2a2a2a" stroke-width="0.18">50</text>
<line x1="146.40" y1="176.90" x2="148.30" y2="176.90" stroke="#000" stroke-width="0.9"/>
<text x="150.30" y="179.30" font-size="6.9" text-anchor="start" font-family='"Liberation Sans", sans-serif' fill="#2a2a2a" stroke="#2a2a2a" stroke-width="0.18">40</text>
<line x1="146.40" y1="191.40" x2="148.30" y2="191.40" stroke="#000" stroke-width="0.9"/>
<text x="150.30" y="193.80" font-size="6.9" text-anchor="start" font-family='"Liberation Sans", sans-serif' fill="#2a2a2a" stroke="#2a2a2a" stroke-width="0.18">30</text>
<line x1="146.40" y1="205.90" x2="148.30" y2="205.90" stroke="#000" stroke-width="0.9"/>
<text x="150.30" y="208.30" font-size="6.9" text-anchor="start" font-family='"Liberation Sans", sans-serif' fill="#2a2a2a" stroke="#2a2a2a" stroke-width="0.18">20</text>
<line x1="146.40" y1="220.40" x2="148.30" y2="220.40" stroke="#000" stroke-width="0.9"/>
<text x="150.30" y="222.80" font-size="6.9" text-anchor="start" font-family='"Liberation Sans", sans-serif' fill="#2a2a2a" stroke="#2a2a2a" stroke-width="0.18">10</text>
<line x1="146.40" y1="234.90" x2="148.30" y2="234.90" stroke="#000" stroke-width="0.9"/>
<text x="150.30" y="237.30" font-size="6.9" text-anchor="start" font-family='"Liberation Sans", sans-serif' fill="#2a2a2a" stroke="#2a2a2a" stroke-width="0.18">0</text>
<line x1="146.40" y1="249.40" x2="148.30" y2="249.40" stroke="#000" stroke-width="0.9"/>
<text x="150.30" y="251.80" font-size="6.9" text-anchor="start" font-family='"Liberation Sans", sans-serif' fill="#2a2a2a" stroke="#2a2a2a" stroke-width="0.18">-10</text>
<line x1="146.40" y1="263.90" x2="148.30" y2="263.90" stroke="#000" stroke-width="0.9"/>
<text x="150.30" y="266.30" font-size="6.9" text-anchor="start" font-family='"Liberation Sans", sans-serif' fill="#2a2a2a" stroke="#2a2a2a" stroke-width="0.18">-20</text>
<text x="144.80" y="156.70" font-size="7.8" text-anchor="middle" font-family='"Liberation Sans", sans-serif' fill="#2a2a2a" stroke="#2a2a2a" stroke-width="0.18">m&#916;OD</text>
<line x1="372.30" y1="262.40" x2="372.30" y2="264.70" stroke="#000" stroke-width="0.8"/>
<line x1="380.01" y1="262.40" x2="380.01" y2="263.80" stroke="#000" stroke-width="0.8"/>
<line x1="387.73" y1="262.40" x2="387.73" y2="264.70" stroke="#000" stroke-width="0.8"/>
<line x1="395.44" y1="262.40" x2="395.44" y2="263.80" stroke="#000" stroke-width="0.8"/>
<line x1="403.16" y1="262.40" x2="403.16" y2="264.70" stroke="#000" stroke-width="0.8"/>
<line x1="410.87" y1="262.40" x2="410.87" y2="263.80" stroke="#000" stroke-width="0.8"/>
<line x1="418.59" y1="262.40" x2="418.59" y2="264.70" stroke="#000" stroke-width="0.8"/>
<line x1="426.30" y1="262.40" x2="426.30" y2="263.80" stroke="#000" stroke-width="0.8"/>
<line x1="434.01" y1="262.40" x2="434.01" y2="264.70" stroke="#000" stroke-width="0.8"/>
<line x1="441.73" y1="262.40" x2="441.73" y2="263.80" stroke="#000" stroke-width="0.8"/>
<line x1="449.44" y1="262.40" x2="449.44" y2="264.70" stroke="#000" stroke-width="0.8"/>
<line x1="457.16" y1="262.40" x2="457.16" y2="263.80" stroke="#000" stroke-width="0.8"/>
<line x1="464.87" y1="262.40" x2="464.87" y2="264.70" stroke="#000" stroke-width="0.8"/>
<line x1="472.59" y1="262.40" x2="472.59" y2="263.80" stroke="#000" stroke-width="0.8"/>
<line x1="480.30" y1="262.40" x2="480.30" y2="264.70" stroke="#000" stroke-width="0.8"/>
<text transform="translate(372.30,271.00) scale(1,1.14)" font-size="6.8" text-anchor="middle" font-family='"Liberation Sans", sans-serif' fill="#2a2a2a" stroke="#2a2a2a" stroke-width="0.18">450</text>
<text transform="translate(387.73,271.00) scale(1,1.14)" font-size="6.8" text-anchor="middle" font-family='"Liberation Sans", sans-serif' fill="#2a2a2a" stroke="#2a2a2a" stroke-width="0.18">500</text>
<text transform="translate(403.16,271.00) scale(1,1.14)" font-size="6.8" text-anchor="middle" font-family='"Liberation Sans", sans-serif' fill="#2a2a2a" stroke="#2a2a2a" stroke-width="0.18">550</text>
<text transform="translate(418.59,271.00) scale(1,1.14)" font-size="6.8" text-anchor="middle" font-family='"Liberation Sans", sans-serif' fill="#2a2a2a" stroke="#2a2a2a" stroke-width="0.18">600</text>
<text transform="translate(434.01,271.00) scale(1,1.14)" font-size="6.8" text-anchor="middle" font-family='"Liberation Sans", sans-serif' fill="#2a2a2a" stroke="#2a2a2a" stroke-width="0.18">650</text>
<text transform="translate(449.44,271.00) scale(1,1.14)" font-size="6.8" text-anchor="middle" font-family='"Liberation Sans", sans-serif' fill="#2a2a2a" stroke="#2a2a2a" stroke-width="0.18">700</text>
<text transform="translate(464.87,271.00) scale(1,1.14)" font-size="6.8" text-anchor="middle" font-family='"Liberation Sans", sans-serif' fill="#2a2a2a" stroke="#2a2a2a" stroke-width="0.18">750</text>
<text transform="translate(480.30,271.00) scale(1,1.14)" font-size="6.8" text-anchor="middle" font-family='"Liberation Sans", sans-serif' fill="#2a2a2a" stroke="#2a2a2a" stroke-width="0.18">800</text>
<line x1="370.00" y1="262.30" x2="372.30" y2="262.30" stroke="#000" stroke-width="0.8"/>
<line x1="370.90" y1="254.46" x2="372.30" y2="254.46" stroke="#000" stroke-width="0.8"/>
<line x1="370.90" y1="249.87" x2="372.30" y2="249.87" stroke="#000" stroke-width="0.8"/>
<line x1="370.90" y1="246.62" x2="372.30" y2="246.62" stroke="#000" stroke-width="0.8"/>
<line x1="370.90" y1="244.09" x2="372.30" y2="244.09" stroke="#000" stroke-width="0.8"/>
<line x1="370.90" y1="242.03" x2="372.30" y2="242.03" stroke="#000" stroke-width="0.8"/>
<line x1="370.90" y1="240.29" x2="372.30" y2="240.29" stroke="#000" stroke-width="0.8"/>
<line x1="370.90" y1="238.77" x2="372.30" y2="238.77" stroke="#000" stroke-width="0.8"/>
<line x1="370.90" y1="237.44" x2="372.30" y2="237.44" stroke="#000" stroke-width="0.8"/>
<line x1="370.00" y1="236.25" x2="372.30" y2="236.25" stroke="#000" stroke-width="0.8"/>
<line x1="370.90" y1="228.41" x2="372.30" y2="228.41" stroke="#000" stroke-width="0.8"/>
<line x1="370.90" y1="223.82" x2="372.30" y2="223.82" stroke="#000" stroke-width="0.8"/>
<line x1="370.90" y1="220.57" x2="372.30" y2="220.57" stroke="#000" stroke-width="0.8"/>
<line x1="370.90" y1="218.04" x2="372.30" y2="218.04" stroke="#000" stroke-width="0.8"/>
<line x1="370.90" y1="215.98" x2="372.30" y2="215.98" stroke="#000" stroke-width="0.8"/>
<line x1="370.90" y1="214.24" x2="372.30" y2="214.24" stroke="#000" stroke-width="0.8"/>
<line x1="370.90" y1="212.72" x2="372.30" y2="212.72" stroke="#000" stroke-width="0.8"/>
<line x1="370.90" y1="211.39" x2="372.30" y2="211.39" stroke="#000" stroke-width="0.8"/>
<line x1="370.00" y1="210.20" x2="372.30" y2="210.20" stroke="#000" stroke-width="0.8"/>
<line x1="370.90" y1="202.36" x2="372.30" y2="202.36" stroke="#000" stroke-width="0.8"/>
<line x1="370.90" y1="197.77" x2="372.30" y2="197.77" stroke="#000" stroke-width="0.8"/>
<line x1="370.90" y1="194.52" x2="372.30" y2="194.52" stroke="#000" stroke-width="0.8"/>
<line x1="370.90" y1="191.99" x2="372.30" y2="191.99" stroke="#000" stroke-width="0.8"/>
<line x1="370.90" y1="189.93" x2="372.30" y2="189.93" stroke="#000" stroke-width="0.8"/>
<line x1="370.90" y1="188.19" x2="372.30" y2="188.19" stroke="#000" stroke-width="0.8"/>
<line x1="370.90" y1="186.67" x2="372.30" y2="186.67" stroke="#000" stroke-width="0.8"/>
<line x1="370.90" y1="185.34" x2="372.30" y2="185.34" stroke="#000" stroke-width="0.8"/>
<line x1="370.00" y1="184.15" x2="372.30" y2="184.15" stroke="#000" stroke-width="0.8"/>
<line x1="370.90" y1="176.31" x2="372.30" y2="176.31" stroke="#000" stroke-width="0.8"/>
<line x1="370.90" y1="171.72" x2="372.30" y2="171.72" stroke="#000" stroke-width="0.8"/>
<line x1="370.90" y1="168.47" x2="372.30" y2="168.47" stroke="#000" stroke-width="0.8"/>
<line x1="370.90" y1="165.94" x2="372.30" y2="165.94" stroke="#000" stroke-width="0.8"/>
<line x1="370.90" y1="163.88" x2="372.30" y2="163.88" stroke="#000" stroke-width="0.8"/>
<line x1="370.90" y1="162.14" x2="372.30" y2="162.14" stroke="#000" stroke-width="0.8"/>
<line x1="370.90" y1="160.62" x2="372.30" y2="160.62" stroke="#000" stroke-width="0.8"/>
<line x1="370.90" y1="159.29" x2="372.30" y2="159.29" stroke="#000" stroke-width="0.8"/>
<text transform="translate(369.30,265.04) scale(1,1.14)" font-size="6.7" text-anchor="end" font-family='"Liberation Sans", sans-serif' fill="#2a2a2a" stroke="#2a2a2a" stroke-width="0.18">0.1</text>
<text transform="translate(369.30,238.99) scale(1,1.14)" font-size="6.7" text-anchor="end" font-family='"Liberation Sans", sans-serif' fill="#2a2a2a" stroke="#2a2a2a" stroke-width="0.18">1</text>
<text transform="translate(369.30,212.94) scale(1,1.14)" font-size="6.7" text-anchor="end" font-family='"Liberation Sans", sans-serif' fill="#2a2a2a" stroke="#2a2a2a" stroke-width="0.18">10</text>
<text transform="translate(369.30,186.89) scale(1,1.14)" font-size="6.7" text-anchor="end" font-family='"Liberation Sans", sans-serif' fill="#2a2a2a" stroke="#2a2a2a" stroke-width="0.18">100</text>
<rect x="372.30" y="158.80" width="108.00" height="103.60" fill="none" stroke="#000" stroke-width="1.1"/>
<text transform="translate(426.50,282.99) scale(1,1.14)" font-size="7.8" text-anchor="middle" font-family='"Liberation Sans", sans-serif' fill="#2a2a2a" stroke="#2a2a2a" stroke-width="0.18">Wavelength (nm)</text>
<text transform="translate(357.00,214.60) rotate(-90) scale(1.14,1)" font-size="7.9" text-anchor="middle" font-family='"Liberation Sans", sans-serif' fill="#2a2a2a" stroke="#2a2a2a" stroke-width="0.18">Delay Time (ns)</text>
<defs><linearGradient id="cb335" x1="0" y1="0" x2="0" y2="1"><stop offset="0.000" stop-color="#ff0000"/><stop offset="0.029" stop-color="#ff1a00"/><stop offset="0.057" stop-color="#ff3300"/><stop offset="0.086" stop-color="#ff4b00"/><stop offset="0.114" stop-color="#ff6200"/><stop offset="0.143" stop-color="#ff7800"/><stop offset="0.171" stop-color="#ff8e00"/><stop offset="0.200" stop-color="#ffa500"/><stop offset="0.229" stop-color="#ffba00"/><stop offset="0.257" stop-color="#ffcf00"/><stop offset="0.286" stop-color="#ffe400"/><stop offset="0.314" stop-color="#f0f000"/><stop offset="0.343" stop-color="#c5e30b"/><stop offset="0.371" stop-color="#9ad512"/><stop offset="0.400" stop-color="#6dc615"/><stop offset="0.429" stop-color="#40b818"/><stop offset="0.457" stop-color="#28ac1c"/><stop offset="0.486" stop-color="#10a020"/><stop offset="0.514" stop-color="#099330"/><stop offset="0.543" stop-color="#048344"/><stop offset="0.571" stop-color="#00725c"/><stop offset="0.600" stop-color="#006484"/><stop offset="0.629" stop-color="#0051a1"/><stop offset="0.657" stop-color="#0038c4"/><stop offset="0.686" stop-color="#011de1"/><stop offset="0.714" stop-color="#0408f4"/><stop offset="0.743" stop-color="#070adf"/><stop offset="0.771" stop-color="#0a0bca"/><stop offset="0.800" stop-color="#0e0db4"/><stop offset="0.829" stop-color="#11109c"/><stop offset="0.857" stop-color="#141284"/><stop offset="0.886" stop-color="#1e1087"/><stop offset="0.914" stop-color="#270d8a"/><stop offset="0.943" stop-color="#320c8f"/><stop offset="0.971" stop-color="#3f0b95"/><stop offset="1.000" stop-color="#4b0a9b"/></linearGradient></defs>
<rect x="486.4" y="159.4" width="7.50" height="102.60" fill="url(#cb335)"/>
<line x1="494.35" y1="159.40" x2="494.35" y2="262.00" stroke="#000" stroke-width="1.1"/>
<line x1="494.30" y1="159.80" x2="496.20" y2="159.80" stroke="#000" stroke-width="0.9"/>
<text transform="translate(498.20,162.54) scale(1,1.14)" font-size="6.9" text-anchor="start" font-family='"Liberation Sans", sans-serif' fill="#2a2a2a" stroke="#2a2a2a" stroke-width="0.18">50</text>
<line x1="494.30" y1="174.20" x2="496.20" y2="174.20" stroke="#000" stroke-width="0.9"/>
<text transform="translate(498.20,176.94) scale(1,1.14)" font-size="6.9" text-anchor="start" font-family='"Liberation Sans", sans-serif' fill="#2a2a2a" stroke="#2a2a2a" stroke-width="0.18">40</text>
<line x1="494.30" y1="188.60" x2="496.20" y2="188.60" stroke="#000" stroke-width="0.9"/>
<text transform="translate(498.20,191.34) scale(1,1.14)" font-size="6.9" text-anchor="start" font-family='"Liberation Sans", sans-serif' fill="#2a2a2a" stroke="#2a2a2a" stroke-width="0.18">30</text>
<line x1="494.30" y1="203.00" x2="496.20" y2="203.00" stroke="#000" stroke-width="0.9"/>
<text transform="translate(498.20,205.74) scale(1,1.14)" font-size="6.9" text-anchor="start" font-family='"Liberation Sans", sans-serif' fill="#2a2a2a" stroke="#2a2a2a" stroke-width="0.18">20</text>
<line x1="494.30" y1="217.40" x2="496.20" y2="217.40" stroke="#000" stroke-width="0.9"/>
<text transform="translate(498.20,220.14) scale(1,1.14)" font-size="6.9" text-anchor="start" font-family='"Liberation Sans", sans-serif' fill="#2a2a2a" stroke="#2a2a2a" stroke-width="0.18">10</text>
<line x1="494.30" y1="231.80" x2="496.20" y2="231.80" stroke="#000" stroke-width="0.9"/>
<text transform="translate(498.20,234.54) scale(1,1.14)" font-size="6.9" text-anchor="start" font-family='"Liberation Sans", sans-serif' fill="#2a2a2a" stroke="#2a2a2a" stroke-width="0.18">0</text>
<line x1="494.30" y1="246.20" x2="496.20" y2="246.20" stroke="#000" stroke-width="0.9"/>
<text transform="translate(498.20,248.94) scale(1,1.14)" font-size="6.9" text-anchor="start" font-family='"Liberation Sans", sans-serif' fill="#2a2a2a" stroke="#2a2a2a" stroke-width="0.18">-10</text>
<line x1="494.30" y1="260.60" x2="496.20" y2="260.60" stroke="#000" stroke-width="0.9"/>
<text transform="translate(498.20,263.34) scale(1,1.14)" font-size="6.9" text-anchor="start" font-family='"Liberation Sans", sans-serif' fill="#2a2a2a" stroke="#2a2a2a" stroke-width="0.18">-20</text>
<text transform="translate(492.70,153.74) scale(1,1.14)" font-size="7.8" text-anchor="middle" font-family='"Liberation Sans", sans-serif' fill="#2a2a2a" stroke="#2a2a2a" stroke-width="0.18">m&#916;OD</text>
<clipPath id="clipb"><rect x="198.30" y="16.00" width="128.50" height="103.20"/></clipPath>
<g clip-path="url(#clipb)" fill="none" stroke-linejoin="round" stroke-linecap="round"><polyline points="197.9,110.1 200.7,106.4 203.5,100.7 206.4,95.6 209.2,91.9 212.9,89.4 216.7,89.4 220.5,89.0 224.2,88.1 227.1,87.5 229.9,88.1 233.7,87.9 236.5,86.2 239.3,82.5 243.1,77.6 246.8,73.6 248.7,71.0 250.9,66.6 253.9,61.5 256.8,57.8 259.7,54.9 262.6,52.7 265.6,50.5 268.5,48.3 271.4,45.4 274.4,42.4 277.3,38.8 280.0,34.4 282.6,31.3 286.4,25.7 289.2,24.7 291.1,25.7 293.9,29.4 296.7,33.8 299.5,41.3 301.4,47.0 303.3,54.5 305.2,60.1 307.1,63.3 308.6,65.2 309.9,62.0 311.2,58.3 312.7,59.2 314.0,60.7 315.6,54.5 317.4,40.4 318.8,36.2 319.9,37.5 320.6,47.0 321.8,59.2 322.7,68.0 323.5,77.0 324.5,78.0 325.5,70.0 326.5,57.0 327.5,55.0" stroke="#ffa4d1" stroke-width="1.35"/><polyline points="197.9,57.3 201.6,55.1 205.4,51.7 209.2,47.9 212.9,45.3 216.7,43.8 220.5,41.9 223.3,39.4 226.1,33.8 229.0,28.1 231.8,24.9 233.7,25.7 236.5,29.1 240.3,33.2 244.0,36.6 246.8,38.5 250.9,38.8 253.9,39.1 256.8,40.2 259.7,42.4 262.6,45.4 264.8,48.3 267.0,52.0 269.2,56.4 271.4,61.5 273.6,68.1 275.2,73.5 276.9,79.1 279.8,86.6 282.6,94.1 285.4,101.7 288.2,106.9 291.1,109.8 293.5,110.0 295.8,108.8 297.7,106.4 299.5,102.6 301.8,99.8 303.7,95.1 305.2,89.4 307.1,87.5 309.3,85.7 310.8,88.5 312.4,91.3 313.7,88.5 315.2,86.6 316.5,92.2 318.8,98.8 320.3,95.1 322.1,81.0 323.7,75.3 325.0,79.1 326.3,84.7 327.5,88.0" stroke="#ad6af5" stroke-width="1.35"/></g>
<line x1="234.60" y1="98.30" x2="249.70" y2="98.30" stroke="#ad6af5" stroke-width="1.6"/>
<text x="251.90" y="100.70" font-size="6.8" text-anchor="start" font-family='"Liberation Sans", sans-serif' fill="#2a2a2a" stroke="#2a2a2a" stroke-width="0.18">131 ps</text>
<line x1="234.60" y1="106.40" x2="249.70" y2="106.40" stroke="#ffa4d1" stroke-width="1.6"/>
<text x="251.90" y="108.80" font-size="6.8" text-anchor="start" font-family='"Liberation Sans", sans-serif' fill="#2a2a2a" stroke="#2a2a2a" stroke-width="0.18">&gt;3.0 ns</text>
<rect x="198.30" y="16.00" width="128.50" height="103.20" fill="none" stroke="#000" stroke-width="1.1"/>
<line x1="198.30" y1="119.20" x2="198.30" y2="121.60" stroke="#000" stroke-width="0.9"/>
<text x="198.30" y="128.80" font-size="7.7" text-anchor="middle" font-family='"Liberation Sans", sans-serif' fill="#2a2a2a" stroke="#2a2a2a" stroke-width="0.18">450</text>
<line x1="207.48" y1="119.20" x2="207.48" y2="120.70" stroke="#000" stroke-width="0.9"/>
<line x1="216.66" y1="119.20" x2="216.66" y2="121.60" stroke="#000" stroke-width="0.9"/>
<text x="216.66" y="128.80" font-size="7.7" text-anchor="middle" font-family='"Liberation Sans", sans-serif' fill="#2a2a2a" stroke="#2a2a2a" stroke-width="0.18">500</text>
<line x1="225.84" y1="119.20" x2="225.84" y2="120.70" stroke="#000" stroke-width="0.9"/>
<line x1="235.01" y1="119.20" x2="235.01" y2="121.60" stroke="#000" stroke-width="0.9"/>
<text x="235.01" y="128.80" font-size="7.7" text-anchor="middle" font-family='"Liberation Sans", sans-serif' fill="#2a2a2a" stroke="#2a2a2a" stroke-width="0.18">550</text>
<line x1="244.19" y1="119.20" x2="244.19" y2="120.70" stroke="#000" stroke-width="0.9"/>
<line x1="253.37" y1="119.20" x2="253.37" y2="121.60" stroke="#000" stroke-width="0.9"/>
<text x="253.37" y="128.80" font-size="7.7" text-anchor="middle" font-family='"Liberation Sans", sans-serif' fill="#2a2a2a" stroke="#2a2a2a" stroke-width="0.18">600</text>
<line x1="262.55" y1="119.20" x2="262.55" y2="120.70" stroke="#000" stroke-width="0.9"/>
<line x1="271.73" y1="119.20" x2="271.73" y2="121.60" stroke="#000" stroke-width="0.9"/>
<text x="271.73" y="128.80" font-size="7.7" text-anchor="middle" font-family='"Liberation Sans", sans-serif' fill="#2a2a2a" stroke="#2a2a2a" stroke-width="0.18">650</text>
<line x1="280.91" y1="119.20" x2="280.91" y2="120.70" stroke="#000" stroke-width="0.9"/>
<line x1="290.09" y1="119.20" x2="290.09" y2="121.60" stroke="#000" stroke-width="0.9"/>
<text x="290.09" y="128.80" font-size="7.7" text-anchor="middle" font-family='"Liberation Sans", sans-serif' fill="#2a2a2a" stroke="#2a2a2a" stroke-width="0.18">700</text>
<line x1="299.26" y1="119.20" x2="299.26" y2="120.70" stroke="#000" stroke-width="0.9"/>
<line x1="308.44" y1="119.20" x2="308.44" y2="121.60" stroke="#000" stroke-width="0.9"/>
<text x="308.44" y="128.80" font-size="7.7" text-anchor="middle" font-family='"Liberation Sans", sans-serif' fill="#2a2a2a" stroke="#2a2a2a" stroke-width="0.18">750</text>
<line x1="317.62" y1="119.20" x2="317.62" y2="120.70" stroke="#000" stroke-width="0.9"/>
<line x1="326.80" y1="119.20" x2="326.80" y2="121.60" stroke="#000" stroke-width="0.9"/>
<text x="326.80" y="128.80" font-size="7.7" text-anchor="middle" font-family='"Liberation Sans", sans-serif' fill="#2a2a2a" stroke="#2a2a2a" stroke-width="0.18">800</text>
<line x1="195.90" y1="111.00" x2="198.30" y2="111.00" stroke="#000" stroke-width="0.9"/>
<text x="195.10" y="113.60" font-size="7.2" text-anchor="end" font-family='"Liberation Sans", sans-serif' fill="#2a2a2a" stroke="#2a2a2a" stroke-width="0.18">0.0</text>
<line x1="196.80" y1="102.34" x2="198.30" y2="102.34" stroke="#000" stroke-width="0.9"/>
<line x1="195.90" y1="93.68" x2="198.30" y2="93.68" stroke="#000" stroke-width="0.9"/>
<text x="195.10" y="96.28" font-size="7.2" text-anchor="end" font-family='"Liberation Sans", sans-serif' fill="#2a2a2a" stroke="#2a2a2a" stroke-width="0.18">0.2</text>
<line x1="196.80" y1="85.02" x2="198.30" y2="85.02" stroke="#000" stroke-width="0.9"/>
<line x1="195.90" y1="76.36" x2="198.30" y2="76.36" stroke="#000" stroke-width="0.9"/>
<text x="195.10" y="78.96" font-size="7.2" text-anchor="end" font-family='"Liberation Sans", sans-serif' fill="#2a2a2a" stroke="#2a2a2a" stroke-width="0.18">0.4</text>
<line x1="196.80" y1="67.70" x2="198.30" y2="67.70" stroke="#000" stroke-width="0.9"/>
<line x1="195.90" y1="59.04" x2="198.30" y2="59.04" stroke="#000" stroke-width="0.9"/>
<text x="195.10" y="61.64" font-size="7.2" text-anchor="end" font-family='"Liberation Sans", sans-serif' fill="#2a2a2a" stroke="#2a2a2a" stroke-width="0.18">0.6</text>
<line x1="196.80" y1="50.38" x2="198.30" y2="50.38" stroke="#000" stroke-width="0.9"/>
<line x1="195.90" y1="41.72" x2="198.30" y2="41.72" stroke="#000" stroke-width="0.9"/>
<text x="195.10" y="44.32" font-size="7.2" text-anchor="end" font-family='"Liberation Sans", sans-serif' fill="#2a2a2a" stroke="#2a2a2a" stroke-width="0.18">0.8</text>
<line x1="196.80" y1="33.06" x2="198.30" y2="33.06" stroke="#000" stroke-width="0.9"/>
<line x1="195.90" y1="24.40" x2="198.30" y2="24.40" stroke="#000" stroke-width="0.9"/>
<text x="195.10" y="27.00" font-size="7.2" text-anchor="end" font-family='"Liberation Sans", sans-serif' fill="#2a2a2a" stroke="#2a2a2a" stroke-width="0.18">1.0</text>
<text x="262.60" y="139.40" font-size="9.8" text-anchor="middle" font-family='"Liberation Sans", sans-serif' fill="#2a2a2a" stroke="#2a2a2a" stroke-width="0.18">Wavelength (nm)</text>
<text transform="translate(183.30,66.20) rotate(-90) scale(1.0,1)" font-size="10.0" text-anchor="middle" font-family='"Liberation Sans", sans-serif' fill="#2a2a2a" stroke="#2a2a2a" stroke-width="0.18">norm. EADS</text>
<clipPath id="clipd"><rect x="550.50" y="16.30" width="128.10" height="103.10"/></clipPath>
<g clip-path="url(#clipd)" fill="none" stroke-linejoin="round" stroke-linecap="round"><polyline points="550.8,93.7 551.6,91.9 552.4,92.4 553.2,91.6 554.0,91.4 554.8,90.7 555.6,90.6 556.4,89.6 557.2,89.0 558.0,89.0 558.8,88.8 559.6,88.5 560.4,88.4 561.2,88.5 562.0,88.3 562.8,88.1 563.6,88.3 564.4,88.0 565.2,89.1 566.0,88.7 566.8,89.3 567.6,89.2 568.4,89.8 569.2,89.9 570.0,89.7 570.8,90.2 571.6,89.7 572.4,90.3 573.2,89.6 574.0,90.1 574.8,90.3 575.6,90.1 576.4,90.0 577.2,90.1 578.0,90.5 578.8,91.2 579.6,91.4 580.4,91.4 581.2,91.5 582.0,92.5 582.8,92.3 583.6,92.9 584.4,93.3 585.2,94.1 586.0,94.4 586.8,94.9 587.6,95.2 588.4,95.2 589.2,95.8 590.0,96.4 590.8,96.2 591.6,96.5 592.4,96.2 593.2,96.4 594.0,96.2 594.8,95.8 595.6,95.1 596.4,95.0 597.2,93.8 598.0,93.0 598.8,92.1 599.6,91.7 600.4,90.5 601.2,89.6 602.0,89.0 602.8,88.2 603.6,87.0 604.4,85.0 605.2,84.4 606.0,83.3 606.8,82.2 607.6,81.4 608.4,81.1 609.2,79.4 610.0,78.3 610.8,77.9 611.6,76.7 612.4,75.7 613.2,74.2 614.0,73.3 614.8,72.2 615.6,70.2 616.4,69.6 617.2,70.2 618.0,69.6 618.8,68.6 619.6,67.9 620.4,67.8 621.2,66.9 622.0,66.7 622.8,67.1 623.6,65.9 624.4,65.8 625.2,64.6 626.0,64.2 626.8,63.4 627.6,60.9 628.4,60.0 629.2,59.0 630.0,58.6 630.8,58.5 631.6,57.5 632.4,55.9 633.2,55.9 634.0,55.1 634.8,54.6 635.6,55.4 636.4,53.5 637.2,53.7 638.0,52.9 638.8,53.2 639.6,52.6 640.4,52.2 641.2,52.0 642.0,52.5 642.8,51.4 643.6,51.4 644.4,51.4 645.2,52.8 646.0,52.2 646.8,52.1 647.6,52.9 648.4,54.8 649.2,54.1 650.0,55.2 650.8,55.8 651.6,56.4 652.4,56.9 653.2,58.1 654.0,59.2 654.8,59.4 655.6,62.8 656.4,63.2 657.2,63.9 658.0,65.0 658.8,67.6 659.6,71.1 660.4,69.7 661.2,68.1 662.0,64.6 662.8,60.3 663.6,60.3 664.4,58.4 665.2,58.2 666.0,56.8 666.8,56.0 667.6,54.6 668.4,52.8 669.2,50.9 670.0,49.7 670.8,47.9 671.6,48.1 672.4,49.6 673.2,54.1 674.0,58.5 674.8,65.5 675.6,78.9 676.4,88.2 677.2,92.4 678.0,95.1" stroke="#ffa4d1" stroke-width="1.35"/><polyline points="550.8,99.8 553.6,94.1 556.5,86.6 559.3,79.1 562.1,71.5 564.6,64.0 565.9,61.1 568.3,52.6 570.6,44.1 572.9,36.6 575.3,30.0 577.8,26.2 580.0,24.7 582.8,26.8 585.3,29.4 587.5,34.7 589.8,41.3 592.3,47.9 594.7,55.4 597.0,63.0 599.8,72.5 602.6,80.0 605.4,85.7 608.3,90.4 612.0,94.6 615.8,97.0 620.5,100.7 625.2,103.9 630.8,107.3 636.5,109.2 641.2,109.8 645.9,108.8 651.5,106.4 657.2,103.5 661.9,99.8 665.7,95.1 668.5,90.4 670.4,85.7 671.9,82.5 673.2,84.7 674.5,90.4 676.0,92.2 677.0,88.5 677.9,82.8 678.6,80.0" stroke="#ad6af5" stroke-width="1.35"/><polyline points="550.8,50.7 551.6,50.6 552.4,50.4 553.2,49.9 554.0,49.7 554.8,49.5 555.6,49.5 556.4,49.7 557.2,50.4 558.0,50.8 558.8,52.9 559.6,54.3 560.4,56.3 561.2,58.2 562.0,60.4 562.8,63.0 563.6,65.5 564.4,67.4 565.2,69.4 566.0,71.6 566.8,73.3 567.6,75.7 568.4,78.7 569.2,81.1 570.0,83.5 570.8,86.4 571.6,89.1 572.4,91.7 573.2,94.3 574.0,97.3 574.8,100.2 575.6,102.5 576.4,104.5 577.2,106.8 578.0,108.3 578.8,107.4 579.6,106.8 580.4,105.5 581.2,103.1 582.0,100.8 582.8,98.9 583.6,96.5 584.4,94.4 585.2,91.6 586.0,89.4 586.8,86.9 587.6,84.3 588.4,82.2 589.2,79.9 590.0,77.2 590.8,75.2 591.6,72.8 592.4,70.6 593.2,68.4 594.0,66.4 594.8,62.9 595.6,60.6 596.4,58.0 597.2,55.1 598.0,53.4 598.8,51.3 599.6,49.5 600.4,47.6 601.2,46.3 602.0,44.9 602.8,43.4 603.6,42.7 604.4,41.6 605.2,40.8 606.0,39.9 606.8,39.7 607.6,39.1 608.4,38.4 609.2,38.3 610.0,38.1 610.8,37.9 611.6,36.8 612.4,37.1 613.2,36.6 614.0,36.2 614.8,35.6 615.6,35.9 616.4,34.8 617.2,35.0 618.0,34.9 618.8,33.8 619.6,33.9 620.4,33.4 621.2,33.6 622.0,33.7 622.8,33.6 623.6,32.1 624.4,32.1 625.2,32.1 626.0,32.0 626.8,31.2 627.6,30.4 628.4,30.4 629.2,29.9 630.0,29.2 630.8,28.5 631.6,28.4 632.4,27.8 633.2,27.1 634.0,26.6 634.8,25.9 635.6,25.9 636.4,26.1 637.2,25.3 638.0,24.7 638.8,25.6 639.6,25.2 640.4,25.8 641.2,25.4 642.0,25.5 642.8,25.5 643.6,27.1 644.4,28.3 645.2,27.7 646.0,28.5 646.8,29.6 647.6,30.0 648.4,31.1 649.2,32.0 650.0,33.2 650.8,34.5 651.6,34.9 652.4,36.2 653.2,36.6 654.0,37.8 654.8,37.7 655.6,38.8 656.4,40.6 657.2,41.0 658.0,42.3 658.8,43.1 659.6,44.2 660.4,44.8 661.2,45.7 662.0,46.1 662.8,46.6 663.6,47.4 664.4,48.3 665.2,49.1 666.0,50.7 666.8,52.2 667.6,53.6 668.4,55.0 669.2,55.9 670.0,58.3 670.8,59.2 671.6,60.3 672.4,58.5 673.2,55.1 674.0,50.1 674.8,51.6 675.6,52.8 676.4,59.4 677.2,66.3 678.0,71.1" stroke="#68b2f8" stroke-width="1.35"/></g>
<line x1="618.50" y1="77.60" x2="634.00" y2="77.60" stroke="#68b2f8" stroke-width="1.6"/>
<text x="636.20" y="80.00" font-size="6.8" text-anchor="start" font-family='"Liberation Sans", sans-serif' fill="#2a2a2a" stroke="#2a2a2a" stroke-width="0.18">0.39 ps</text>
<line x1="618.50" y1="85.90" x2="634.00" y2="85.90" stroke="#ad6af5" stroke-width="1.6"/>
<text x="636.20" y="88.30" font-size="6.8" text-anchor="start" font-family='"Liberation Sans", sans-serif' fill="#2a2a2a" stroke="#2a2a2a" stroke-width="0.18">397 ps</text>
<line x1="618.50" y1="94.00" x2="634.00" y2="94.00" stroke="#ffa4d1" stroke-width="1.6"/>
<text x="636.20" y="96.40" font-size="6.8" text-anchor="start" font-family='"Liberation Sans", sans-serif' fill="#2a2a2a" stroke="#2a2a2a" stroke-width="0.18">&gt;3.0 ns</text>
<rect x="550.50" y="16.30" width="128.10" height="103.10" fill="none" stroke="#000" stroke-width="1.1"/>
<line x1="550.50" y1="119.40" x2="550.50" y2="121.80" stroke="#000" stroke-width="0.9"/>
<text x="550.50" y="129.00" font-size="7.7" text-anchor="middle" font-family='"Liberation Sans", sans-serif' fill="#2a2a2a" stroke="#2a2a2a" stroke-width="0.18">450</text>
<line x1="559.65" y1="119.40" x2="559.65" y2="120.90" stroke="#000" stroke-width="0.9"/>
<line x1="568.80" y1="119.40" x2="568.80" y2="121.80" stroke="#000" stroke-width="0.9"/>
<text x="568.80" y="129.00" font-size="7.7" text-anchor="middle" font-family='"Liberation Sans", sans-serif' fill="#2a2a2a" stroke="#2a2a2a" stroke-width="0.18">500</text>
<line x1="577.95" y1="119.40" x2="577.95" y2="120.90" stroke="#000" stroke-width="0.9"/>
<line x1="587.10" y1="119.40" x2="587.10" y2="121.80" stroke="#000" stroke-width="0.9"/>
<text x="587.10" y="129.00" font-size="7.7" text-anchor="middle" font-family='"Liberation Sans", sans-serif' fill="#2a2a2a" stroke="#2a2a2a" stroke-width="0.18">550</text>
<line x1="596.25" y1="119.40" x2="596.25" y2="120.90" stroke="#000" stroke-width="0.9"/>
<line x1="605.40" y1="119.40" x2="605.40" y2="121.80" stroke="#000" stroke-width="0.9"/>
<text x="605.40" y="129.00" font-size="7.7" text-anchor="middle" font-family='"Liberation Sans", sans-serif' fill="#2a2a2a" stroke="#2a2a2a" stroke-width="0.18">600</text>
<line x1="614.55" y1="119.40" x2="614.55" y2="120.90" stroke="#000" stroke-width="0.9"/>
<line x1="623.70" y1="119.40" x2="623.70" y2="121.80" stroke="#000" stroke-width="0.9"/>
<text x="623.70" y="129.00" font-size="7.7" text-anchor="middle" font-family='"Liberation Sans", sans-serif' fill="#2a2a2a" stroke="#2a2a2a" stroke-width="0.18">650</text>
<line x1="632.85" y1="119.40" x2="632.85" y2="120.90" stroke="#000" stroke-width="0.9"/>
<line x1="642.00" y1="119.40" x2="642.00" y2="121.80" stroke="#000" stroke-width="0.9"/>
<text x="642.00" y="129.00" font-size="7.7" text-anchor="middle" font-family='"Liberation Sans", sans-serif' fill="#2a2a2a" stroke="#2a2a2a" stroke-width="0.18">700</text>
<line x1="651.15" y1="119.40" x2="651.15" y2="120.90" stroke="#000" stroke-width="0.9"/>
<line x1="660.30" y1="119.40" x2="660.30" y2="121.80" stroke="#000" stroke-width="0.9"/>
<text x="660.30" y="129.00" font-size="7.7" text-anchor="middle" font-family='"Liberation Sans", sans-serif' fill="#2a2a2a" stroke="#2a2a2a" stroke-width="0.18">750</text>
<line x1="669.45" y1="119.40" x2="669.45" y2="120.90" stroke="#000" stroke-width="0.9"/>
<line x1="678.60" y1="119.40" x2="678.60" y2="121.80" stroke="#000" stroke-width="0.9"/>
<text x="678.60" y="129.00" font-size="7.7" text-anchor="middle" font-family='"Liberation Sans", sans-serif' fill="#2a2a2a" stroke="#2a2a2a" stroke-width="0.18">800</text>
<line x1="549.00" y1="118.43" x2="550.50" y2="118.43" stroke="#000" stroke-width="0.9"/>
<line x1="548.10" y1="109.90" x2="550.50" y2="109.90" stroke="#000" stroke-width="0.9"/>
<text x="547.30" y="112.50" font-size="7.2" text-anchor="end" font-family='"Liberation Sans", sans-serif' fill="#2a2a2a" stroke="#2a2a2a" stroke-width="0.18">0.0</text>
<line x1="549.00" y1="101.37" x2="550.50" y2="101.37" stroke="#000" stroke-width="0.9"/>
<line x1="548.10" y1="92.84" x2="550.50" y2="92.84" stroke="#000" stroke-width="0.9"/>
<text x="547.30" y="95.44" font-size="7.2" text-anchor="end" font-family='"Liberation Sans", sans-serif' fill="#2a2a2a" stroke="#2a2a2a" stroke-width="0.18">0.2</text>
<line x1="549.00" y1="84.31" x2="550.50" y2="84.31" stroke="#000" stroke-width="0.9"/>
<line x1="548.10" y1="75.78" x2="550.50" y2="75.78" stroke="#000" stroke-width="0.9"/>
<text x="547.30" y="78.38" font-size="7.2" text-anchor="end" font-family='"Liberation Sans", sans-serif' fill="#2a2a2a" stroke="#2a2a2a" stroke-width="0.18">0.4</text>
<line x1="549.00" y1="67.25" x2="550.50" y2="67.25" stroke="#000" stroke-width="0.9"/>
<line x1="548.10" y1="58.72" x2="550.50" y2="58.72" stroke="#000" stroke-width="0.9"/>
<text x="547.30" y="61.32" font-size="7.2" text-anchor="end" font-family='"Liberation Sans", sans-serif' fill="#2a2a2a" stroke="#2a2a2a" stroke-width="0.18">0.6</text>
<line x1="549.00" y1="50.19" x2="550.50" y2="50.19" stroke="#000" stroke-width="0.9"/>
<line x1="548.10" y1="41.66" x2="550.50" y2="41.66" stroke="#000" stroke-width="0.9"/>
<text x="547.30" y="44.26" font-size="7.2" text-anchor="end" font-family='"Liberation Sans", sans-serif' fill="#2a2a2a" stroke="#2a2a2a" stroke-width="0.18">0.8</text>
<line x1="549.00" y1="33.13" x2="550.50" y2="33.13" stroke="#000" stroke-width="0.9"/>
<line x1="548.10" y1="24.60" x2="550.50" y2="24.60" stroke="#000" stroke-width="0.9"/>
<text x="547.30" y="27.20" font-size="7.2" text-anchor="end" font-family='"Liberation Sans", sans-serif' fill="#2a2a2a" stroke="#2a2a2a" stroke-width="0.18">1.0</text>
<text x="614.80" y="139.40" font-size="9.8" text-anchor="middle" font-family='"Liberation Sans", sans-serif' fill="#2a2a2a" stroke="#2a2a2a" stroke-width="0.18">Wavelength (nm)</text>
<text transform="translate(535.30,66.20) rotate(-90) scale(1.0,1)" font-size="10.0" text-anchor="middle" font-family='"Liberation Sans", sans-serif' fill="#2a2a2a" stroke="#2a2a2a" stroke-width="0.18">norm. EADS</text>
<clipPath id="clipf"><rect x="198.40" y="157.20" width="128.40" height="103.60"/></clipPath>
<g clip-path="url(#clipf)" fill="none" stroke-linejoin="round" stroke-linecap="round"><polyline points="198.8,166.4 199.5,167.3 200.2,167.2 200.9,169.2 201.6,171.9 202.3,174.1 203.0,177.5 203.7,180.6 204.4,183.9 205.1,187.2 205.8,190.6 206.5,195.6 207.2,199.2 207.9,204.2 208.6,208.0 209.3,209.7 210.0,210.2 210.7,213.5 211.4,215.6 212.1,219.1 212.8,221.2 213.5,224.2 214.2,226.2 214.9,230.0 215.6,231.6 216.3,233.4 217.0,235.4 217.7,236.5 218.4,238.6 219.1,239.2 219.8,241.0 220.5,241.6 221.2,242.2 221.9,243.0 222.6,243.1 223.3,244.2 224.0,244.4 224.7,244.7 225.4,244.7 226.1,244.6 226.8,244.8 227.5,245.2 228.2,244.8 228.9,244.3 229.6,244.0 230.3,244.0 231.0,243.6 231.7,244.3 232.4,242.9 233.1,242.6 233.8,242.5 234.5,242.4 235.2,241.8 235.9,241.0 236.6,240.3 237.3,239.8 238.0,239.6 238.7,238.2 239.4,237.8 240.1,236.8 240.8,236.2 241.5,235.4 242.2,233.8 242.9,234.3 243.6,232.7 244.3,231.7 245.0,230.8 245.7,230.2 246.4,229.6 247.1,228.9 247.8,227.7 248.5,226.9 249.2,225.2 249.9,224.5 250.6,223.4 251.3,222.6 252.0,221.5 252.7,219.7 253.4,219.2 254.1,218.7 254.8,217.9 255.5,216.3 256.2,216.0 256.9,215.1 257.6,213.9 258.3,213.9 259.0,211.9 259.7,211.2 260.4,210.4 261.1,209.3 261.8,208.2 262.5,207.7 263.2,206.8 263.9,205.8 264.6,204.9 265.3,203.6 266.0,202.2 266.7,202.3 267.4,200.1 268.1,200.2 268.8,198.3 269.5,197.4 270.2,196.2 270.9,195.6 271.6,194.1 272.3,193.7 273.0,192.0 273.7,190.6 274.4,189.1 275.1,188.3 275.8,187.3 276.5,187.1 277.2,185.9 277.9,184.2 278.6,184.7 279.3,182.9 280.0,183.7 280.7,182.0 281.4,182.3 282.1,182.5 282.8,182.0 283.5,181.8 284.2,182.9 284.9,182.0 285.6,182.4 286.3,183.6 287.0,183.4 287.7,184.3 288.4,185.1 289.1,185.3 289.8,186.0 290.5,186.4 291.2,187.0 291.9,187.8 292.6,188.3 293.3,188.6 294.0,189.3 294.7,189.2 295.4,189.5 296.1,189.9 296.8,190.9 297.5,191.6 298.2,191.4 298.9,191.0 299.6,191.8 300.3,192.4 301.0,192.6 301.7,192.9 302.4,193.5 303.1,193.8 303.8,193.4 304.5,194.3 305.2,194.2 305.9,195.5 306.6,196.8 307.3,198.0 308.0,198.5 308.7,199.3 309.4,200.5 310.1,202.0 310.8,202.7 311.5,204.1 312.2,205.5 312.9,206.7 313.6,207.4 314.3,209.8 315.0,211.9 315.7,212.9 316.4,213.7 317.1,215.8 317.8,217.2 318.5,218.3 319.2,219.8 319.9,220.6 320.6,223.0 321.3,224.4 322.0,225.7 322.7,227.6 323.4,229.6 324.1,231.7 324.8,233.5 325.5,237.3 326.2,242.2" stroke="#ffa4d1" stroke-width="1.35"/><polyline points="198.8,194.5 199.6,192.6 200.4,190.5 201.2,188.6 202.0,187.2 202.8,185.4 203.6,183.6 204.4,182.0 205.2,180.6 206.0,179.7 206.8,179.3 207.6,178.6 208.4,178.2 209.2,178.5 210.0,179.4 210.8,179.7 211.6,179.1 212.4,179.4 213.2,179.1 214.0,179.7 214.8,179.9 215.6,180.6 216.4,180.3 217.2,180.6 218.0,180.2 218.8,179.6 219.6,178.3 220.4,177.5 221.2,176.4 222.0,175.0 222.8,173.1 223.6,172.0 224.4,170.5 225.2,169.7 226.0,169.3 226.8,167.9 227.6,167.5 228.4,167.3 229.2,166.9 230.0,168.6 230.8,170.1 231.6,171.7 232.4,172.8 233.2,174.8 234.0,176.7 234.8,177.5 235.6,179.8 236.4,181.2 237.2,182.6 238.0,185.0 238.8,186.2 239.6,187.1 240.4,188.5 241.2,189.7 242.0,190.6 242.8,192.6 243.6,194.1 244.4,196.2 245.2,198.0 246.0,198.6 246.8,200.1 247.6,201.1 248.4,202.6 249.2,203.8 250.0,205.5 250.8,207.2 251.6,209.0 252.4,210.6 253.2,211.1 254.0,212.7 254.8,214.7 255.6,215.0 256.4,217.1 257.2,218.6 258.0,221.0 258.8,222.7 259.6,224.1 260.4,225.9 261.2,227.7 262.0,230.3 262.8,230.9 263.6,232.6 264.4,234.3 265.2,235.3 266.0,236.5 266.8,237.1 267.6,239.0 268.4,239.7 269.2,241.8 270.0,242.4 270.8,243.0 271.6,244.4 272.4,244.5 273.2,246.3 274.0,246.3 274.8,247.5 275.6,246.7 276.4,248.4 277.2,247.3 278.0,247.5 278.8,249.4 279.6,249.0 280.4,250.0 281.2,251.9 282.0,249.4 282.8,249.6 283.6,250.1 284.4,250.2 285.2,249.4 286.0,249.2 286.8,249.8 287.6,249.3 288.4,247.5 289.2,248.2 290.0,248.0 290.8,246.4 291.6,247.2 292.4,245.5 293.2,247.0 294.0,245.7 294.8,245.4 295.6,244.4 296.4,244.7 297.2,242.3 298.0,243.1 298.8,244.5 299.6,241.2 300.4,244.4 301.2,241.0 302.0,243.7 302.8,241.5 303.6,243.2 304.4,242.1 305.2,239.8 306.0,242.9 306.8,242.7 307.6,240.4 308.4,239.8 309.2,239.5 310.0,237.9 310.8,240.0 311.6,237.4 312.4,237.5 313.2,235.9 314.0,235.5 314.8,234.0 315.6,236.6 316.4,234.1 317.2,235.1 318.0,233.5 318.8,232.1 319.6,232.2 320.4,231.5 321.2,231.5 322.0,230.3 322.8,229.7 323.6,227.6 324.4,227.3 325.2,229.5 326.0,225.5 326.8,224.5" stroke="#ad6af5" stroke-width="1.35"/></g>
<line x1="285.40" y1="165.40" x2="300.50" y2="165.40" stroke="#ad6af5" stroke-width="1.6"/>
<text x="302.70" y="167.80" font-size="6.8" text-anchor="start" font-family='"Liberation Sans", sans-serif' fill="#2a2a2a" stroke="#2a2a2a" stroke-width="0.18">729 ps</text>
<line x1="285.40" y1="173.50" x2="300.50" y2="173.50" stroke="#ffa4d1" stroke-width="1.6"/>
<text x="302.70" y="175.90" font-size="6.8" text-anchor="start" font-family='"Liberation Sans", sans-serif' fill="#2a2a2a" stroke="#2a2a2a" stroke-width="0.18">449 ns</text>
<rect x="198.40" y="157.20" width="128.40" height="103.60" fill="none" stroke="#000" stroke-width="1.1"/>
<line x1="198.40" y1="260.80" x2="198.40" y2="263.20" stroke="#000" stroke-width="0.9"/>
<text x="198.40" y="270.40" font-size="7.7" text-anchor="middle" font-family='"Liberation Sans", sans-serif' fill="#2a2a2a" stroke="#2a2a2a" stroke-width="0.18">450</text>
<line x1="207.57" y1="260.80" x2="207.57" y2="262.30" stroke="#000" stroke-width="0.9"/>
<line x1="216.74" y1="260.80" x2="216.74" y2="263.20" stroke="#000" stroke-width="0.9"/>
<text x="216.74" y="270.40" font-size="7.7" text-anchor="middle" font-family='"Liberation Sans", sans-serif' fill="#2a2a2a" stroke="#2a2a2a" stroke-width="0.18">500</text>
<line x1="225.91" y1="260.80" x2="225.91" y2="262.30" stroke="#000" stroke-width="0.9"/>
<line x1="235.09" y1="260.80" x2="235.09" y2="263.20" stroke="#000" stroke-width="0.9"/>
<text x="235.09" y="270.40" font-size="7.7" text-anchor="middle" font-family='"Liberation Sans", sans-serif' fill="#2a2a2a" stroke="#2a2a2a" stroke-width="0.18">550</text>
<line x1="244.26" y1="260.80" x2="244.26" y2="262.30" stroke="#000" stroke-width="0.9"/>
<line x1="253.43" y1="260.80" x2="253.43" y2="263.20" stroke="#000" stroke-width="0.9"/>
<text x="253.43" y="270.40" font-size="7.7" text-anchor="middle" font-family='"Liberation Sans", sans-serif' fill="#2a2a2a" stroke="#2a2a2a" stroke-width="0.18">600</text>
<line x1="262.60" y1="260.80" x2="262.60" y2="262.30" stroke="#000" stroke-width="0.9"/>
<line x1="271.77" y1="260.80" x2="271.77" y2="263.20" stroke="#000" stroke-width="0.9"/>
<text x="271.77" y="270.40" font-size="7.7" text-anchor="middle" font-family='"Liberation Sans", sans-serif' fill="#2a2a2a" stroke="#2a2a2a" stroke-width="0.18">650</text>
<line x1="280.94" y1="260.80" x2="280.94" y2="262.30" stroke="#000" stroke-width="0.9"/>
<line x1="290.11" y1="260.80" x2="290.11" y2="263.20" stroke="#000" stroke-width="0.9"/>
<text x="290.11" y="270.40" font-size="7.7" text-anchor="middle" font-family='"Liberation Sans", sans-serif' fill="#2a2a2a" stroke="#2a2a2a" stroke-width="0.18">700</text>
<line x1="299.29" y1="260.80" x2="299.29" y2="262.30" stroke="#000" stroke-width="0.9"/>
<line x1="308.46" y1="260.80" x2="308.46" y2="263.20" stroke="#000" stroke-width="0.9"/>
<text x="308.46" y="270.40" font-size="7.7" text-anchor="middle" font-family='"Liberation Sans", sans-serif' fill="#2a2a2a" stroke="#2a2a2a" stroke-width="0.18">750</text>
<line x1="317.63" y1="260.80" x2="317.63" y2="262.30" stroke="#000" stroke-width="0.9"/>
<line x1="326.80" y1="260.80" x2="326.80" y2="263.20" stroke="#000" stroke-width="0.9"/>
<text x="326.80" y="270.40" font-size="7.7" text-anchor="middle" font-family='"Liberation Sans", sans-serif' fill="#2a2a2a" stroke="#2a2a2a" stroke-width="0.18">800</text>
<line x1="196.90" y1="260.77" x2="198.40" y2="260.77" stroke="#000" stroke-width="0.9"/>
<line x1="196.00" y1="252.20" x2="198.40" y2="252.20" stroke="#000" stroke-width="0.9"/>
<text x="195.20" y="254.80" font-size="7.2" text-anchor="end" font-family='"Liberation Sans", sans-serif' fill="#2a2a2a" stroke="#2a2a2a" stroke-width="0.18">0.0</text>
<line x1="196.90" y1="243.63" x2="198.40" y2="243.63" stroke="#000" stroke-width="0.9"/>
<line x1="196.00" y1="235.06" x2="198.40" y2="235.06" stroke="#000" stroke-width="0.9"/>
<text x="195.20" y="237.66" font-size="7.2" text-anchor="end" font-family='"Liberation Sans", sans-serif' fill="#2a2a2a" stroke="#2a2a2a" stroke-width="0.18">0.2</text>
<line x1="196.90" y1="226.49" x2="198.40" y2="226.49" stroke="#000" stroke-width="0.9"/>
<line x1="196.00" y1="217.92" x2="198.40" y2="217.92" stroke="#000" stroke-width="0.9"/>
<text x="195.20" y="220.52" font-size="7.2" text-anchor="end" font-family='"Liberation Sans", sans-serif' fill="#2a2a2a" stroke="#2a2a2a" stroke-width="0.18">0.4</text>
<line x1="196.90" y1="209.35" x2="198.40" y2="209.35" stroke="#000" stroke-width="0.9"/>
<line x1="196.00" y1="200.78" x2="198.40" y2="200.78" stroke="#000" stroke-width="0.9"/>
<text x="195.20" y="203.38" font-size="7.2" text-anchor="end" font-family='"Liberation Sans", sans-serif' fill="#2a2a2a" stroke="#2a2a2a" stroke-width="0.18">0.6</text>
<line x1="196.90" y1="192.21" x2="198.40" y2="192.21" stroke="#000" stroke-width="0.9"/>
<line x1="196.00" y1="183.64" x2="198.40" y2="183.64" stroke="#000" stroke-width="0.9"/>
<text x="195.20" y="186.24" font-size="7.2" text-anchor="end" font-family='"Liberation Sans", sans-serif' fill="#2a2a2a" stroke="#2a2a2a" stroke-width="0.18">0.8</text>
<line x1="196.90" y1="175.07" x2="198.40" y2="175.07" stroke="#000" stroke-width="0.9"/>
<line x1="196.00" y1="166.50" x2="198.40" y2="166.50" stroke="#000" stroke-width="0.9"/>
<text x="195.20" y="169.10" font-size="7.2" text-anchor="end" font-family='"Liberation Sans", sans-serif' fill="#2a2a2a" stroke="#2a2a2a" stroke-width="0.18">1.0</text>
<line x1="196.90" y1="157.93" x2="198.40" y2="157.93" stroke="#000" stroke-width="0.9"/>
<text x="262.60" y="281.30" font-size="9.8" text-anchor="middle" font-family='"Liberation Sans", sans-serif' fill="#2a2a2a" stroke="#2a2a2a" stroke-width="0.18">Wavelength (nm)</text>
<text transform="translate(183.30,208.20) rotate(-90) scale(1.0,1)" font-size="10.0" text-anchor="middle" font-family='"Liberation Sans", sans-serif' fill="#2a2a2a" stroke="#2a2a2a" stroke-width="0.18">norm. EADS</text>
<clipPath id="cliph"><rect x="550.70" y="157.30" width="127.80" height="103.50"/></clipPath>
<g clip-path="url(#cliph)" fill="none" stroke-linejoin="round" stroke-linecap="round"><polyline points="550.8,165.5 551.8,166.9 552.8,170.0 553.8,172.7 554.8,175.5 555.8,176.9 556.8,178.9 557.8,182.1 558.8,187.4 559.8,192.1 560.8,193.8 561.8,195.1 562.8,198.0 563.8,203.5 564.8,203.9 565.8,203.5 566.8,210.0 567.8,212.9 568.8,217.4 569.8,221.0 570.8,222.2 571.8,225.3 572.8,225.2 573.8,225.1 574.8,226.8 575.8,227.8 576.8,225.2 577.8,227.0 578.8,226.0 579.8,227.1 580.8,225.6 581.8,227.3 582.8,227.3 583.8,226.9 584.8,226.1 585.8,227.1 586.8,226.4 587.8,226.2 588.8,228.5 589.8,227.0 590.8,230.4 591.8,230.1 592.8,226.9 593.8,230.4 594.8,228.9 595.8,230.8 596.8,230.7 597.8,227.5 598.8,229.5 599.8,229.1 600.8,230.4 601.8,226.9 602.8,229.2 603.8,225.7 604.8,226.3 605.8,224.9 606.8,228.2 607.8,226.1 608.8,228.7 609.8,224.7 610.8,224.3 611.8,223.5 612.8,219.9 613.8,220.1 614.8,221.9 615.8,216.9 616.8,216.8 617.8,215.0 618.8,215.1 619.8,211.6 620.8,210.7 621.8,210.6 622.8,209.4 623.8,206.1 624.8,209.8 625.8,203.2 626.8,202.6 627.8,201.5 628.8,206.8 629.8,202.3 630.8,199.8 631.8,198.8 632.8,202.7 633.8,198.0 634.8,196.9 635.8,201.8 636.8,196.1 637.8,198.1 638.8,198.6 639.8,196.8 640.8,197.7 641.8,201.7 642.8,196.0 643.8,193.6 644.8,191.7 645.8,196.4 646.8,195.8 647.8,197.5 648.8,195.1 649.8,195.0 650.8,194.4 651.8,195.2 652.8,197.5 653.8,196.0 654.8,197.7 655.8,203.5 656.8,199.2 657.8,192.8 658.8,203.6 659.8,199.6 660.8,195.8 661.8,202.2 662.8,199.7 663.8,198.1 664.8,198.4 665.8,197.6 666.8,202.0 667.8,206.9 668.8,203.7 669.8,207.7 670.8,214.1 671.8,205.1 672.8,211.8 673.8,212.6 674.8,212.7 675.8,215.5 676.8,221.7 677.8,225.8" stroke="#ffa4d1" stroke-width="1.25"/><polyline points="550.9,241.8 551.9,232.2 552.9,239.5 553.9,237.5 554.9,235.7 555.9,233.9 556.9,226.9 557.9,231.1 558.9,227.9 559.9,239.7 560.9,227.5 561.9,222.7 562.9,219.9 563.9,215.6 564.9,212.0 565.9,212.6 566.9,214.1 567.9,209.2 568.9,212.3 569.9,206.1 570.9,205.7 571.9,211.9 572.9,207.8 573.9,203.4 574.9,204.7 575.9,207.8 576.9,213.7 577.9,204.5 578.9,204.7 579.9,210.0 580.9,202.0 581.9,204.6 582.9,209.7 583.9,208.4 584.9,206.4 585.9,208.8 586.9,193.7 587.9,210.3 588.9,201.6 589.9,198.5 590.9,206.9 591.9,208.7 592.9,203.6 593.9,200.8 594.9,205.6 595.9,205.4 596.9,212.0 597.9,209.3 598.9,207.0 599.9,211.2 600.9,205.5 601.9,202.3 602.9,209.4 603.9,209.5 604.9,206.0 605.9,203.8 606.9,209.0 607.9,196.5 608.9,212.2 609.9,211.8 610.9,201.9 611.9,210.7 612.9,206.2 613.9,215.4 614.9,202.2 615.9,208.4 616.9,217.3 617.9,220.2 618.9,203.9 619.9,213.1 620.9,218.0 621.9,213.8 622.9,225.9 623.9,211.8 624.9,220.6 625.9,213.6 626.9,227.4 627.9,220.3 628.9,219.0 629.9,212.1 630.9,231.4 631.9,226.6 632.9,226.9 633.9,229.5 634.9,225.2 635.9,219.6 636.9,218.9 637.9,219.1 638.9,232.7 639.9,215.4 640.9,220.9 641.9,222.8 642.9,226.4 643.9,228.9 644.9,217.0 645.9,213.9 646.9,225.6 647.9,234.1 648.9,231.2 649.9,227.6 650.9,223.9 651.9,228.3 652.9,224.7 653.9,232.3 654.9,221.0 655.9,227.7 656.9,226.0 657.9,230.8 658.9,228.5 659.9,244.7 660.9,236.7 661.9,236.3 662.9,210.3 663.9,222.1 664.9,219.7 665.9,227.6 666.9,206.7 667.9,231.4 668.9,229.6 669.9,211.3 670.9,212.6 671.9,212.9 672.9,218.1 673.9,221.5 674.9,228.6 675.9,207.9 676.9,211.1 677.9,197.7" stroke="#ad6af5" stroke-width="1.35"/></g>
<line x1="590.40" y1="164.40" x2="605.40" y2="164.40" stroke="#ad6af5" stroke-width="1.6"/>
<text x="607.60" y="166.80" font-size="6.8" text-anchor="start" font-family='"Liberation Sans", sans-serif' fill="#2a2a2a" stroke="#2a2a2a" stroke-width="0.18">629 ps</text>
<line x1="590.40" y1="172.90" x2="605.40" y2="172.90" stroke="#ffa4d1" stroke-width="1.6"/>
<text x="607.60" y="175.30" font-size="6.8" text-anchor="start" font-family='"Liberation Sans", sans-serif' fill="#2a2a2a" stroke="#2a2a2a" stroke-width="0.18">266 ns</text>
<rect x="550.70" y="157.30" width="127.80" height="103.50" fill="none" stroke="#000" stroke-width="1.1"/>
<line x1="550.70" y1="260.80" x2="550.70" y2="263.20" stroke="#000" stroke-width="0.9"/>
<text x="550.70" y="270.40" font-size="7.7" text-anchor="middle" font-family='"Liberation Sans", sans-serif' fill="#2a2a2a" stroke="#2a2a2a" stroke-width="0.18">450</text>
<line x1="559.83" y1="260.80" x2="559.83" y2="262.30" stroke="#000" stroke-width="0.9"/>
<line x1="568.96" y1="260.80" x2="568.96" y2="263.20" stroke="#000" stroke-width="0.9"/>
<text x="568.96" y="270.40" font-size="7.7" text-anchor="middle" font-family='"Liberation Sans", sans-serif' fill="#2a2a2a" stroke="#2a2a2a" stroke-width="0.18">500</text>
<line x1="578.09" y1="260.80" x2="578.09" y2="262.30" stroke="#000" stroke-width="0.9"/>
<line x1="587.21" y1="260.80" x2="587.21" y2="263.20" stroke="#000" stroke-width="0.9"/>
<text x="587.21" y="270.40" font-size="7.7" text-anchor="middle" font-family='"Liberation Sans", sans-serif' fill="#2a2a2a" stroke="#2a2a2a" stroke-width="0.18">550</text>
<line x1="596.34" y1="260.80" x2="596.34" y2="262.30" stroke="#000" stroke-width="0.9"/>
<line x1="605.47" y1="260.80" x2="605.47" y2="263.20" stroke="#000" stroke-width="0.9"/>
<text x="605.47" y="270.40" font-size="7.7" text-anchor="middle" font-family='"Liberation Sans", sans-serif' fill="#2a2a2a" stroke="#2a2a2a" stroke-width="0.18">600</text>
<line x1="614.60" y1="260.80" x2="614.60" y2="262.30" stroke="#000" stroke-width="0.9"/>
<line x1="623.73" y1="260.80" x2="623.73" y2="263.20" stroke="#000" stroke-width="0.9"/>
<text x="623.73" y="270.40" font-size="7.7" text-anchor="middle" font-family='"Liberation Sans", sans-serif' fill="#2a2a2a" stroke="#2a2a2a" stroke-width="0.18">650</text>
<line x1="632.86" y1="260.80" x2="632.86" y2="262.30" stroke="#000" stroke-width="0.9"/>
<line x1="641.99" y1="260.80" x2="641.99" y2="263.20" stroke="#000" stroke-width="0.9"/>
<text x="641.99" y="270.40" font-size="7.7" text-anchor="middle" font-family='"Liberation Sans", sans-serif' fill="#2a2a2a" stroke="#2a2a2a" stroke-width="0.18">700</text>
<line x1="651.11" y1="260.80" x2="651.11" y2="262.30" stroke="#000" stroke-width="0.9"/>
<line x1="660.24" y1="260.80" x2="660.24" y2="263.20" stroke="#000" stroke-width="0.9"/>
<text x="660.24" y="270.40" font-size="7.7" text-anchor="middle" font-family='"Liberation Sans", sans-serif' fill="#2a2a2a" stroke="#2a2a2a" stroke-width="0.18">750</text>
<line x1="669.37" y1="260.80" x2="669.37" y2="262.30" stroke="#000" stroke-width="0.9"/>
<line x1="678.50" y1="260.80" x2="678.50" y2="263.20" stroke="#000" stroke-width="0.9"/>
<text x="678.50" y="270.40" font-size="7.7" text-anchor="middle" font-family='"Liberation Sans", sans-serif' fill="#2a2a2a" stroke="#2a2a2a" stroke-width="0.18">800</text>
<line x1="548.30" y1="252.50" x2="550.70" y2="252.50" stroke="#000" stroke-width="0.9"/>
<text x="547.50" y="255.10" font-size="7.2" text-anchor="end" font-family='"Liberation Sans", sans-serif' fill="#2a2a2a" stroke="#2a2a2a" stroke-width="0.18">0.0</text>
<line x1="549.20" y1="243.90" x2="550.70" y2="243.90" stroke="#000" stroke-width="0.9"/>
<line x1="548.30" y1="235.30" x2="550.70" y2="235.30" stroke="#000" stroke-width="0.9"/>
<text x="547.50" y="237.90" font-size="7.2" text-anchor="end" font-family='"Liberation Sans", sans-serif' fill="#2a2a2a" stroke="#2a2a2a" stroke-width="0.18">0.2</text>
<line x1="549.20" y1="226.70" x2="550.70" y2="226.70" stroke="#000" stroke-width="0.9"/>
<line x1="548.30" y1="218.10" x2="550.70" y2="218.10" stroke="#000" stroke-width="0.9"/>
<text x="547.50" y="220.70" font-size="7.2" text-anchor="end" font-family='"Liberation Sans", sans-serif' fill="#2a2a2a" stroke="#2a2a2a" stroke-width="0.18">0.4</text>
<line x1="549.20" y1="209.50" x2="550.70" y2="209.50" stroke="#000" stroke-width="0.9"/>
<line x1="548.30" y1="200.90" x2="550.70" y2="200.90" stroke="#000" stroke-width="0.9"/>
<text x="547.50" y="203.50" font-size="7.2" text-anchor="end" font-family='"Liberation Sans", sans-serif' fill="#2a2a2a" stroke="#2a2a2a" stroke-width="0.18">0.6</text>
<line x1="549.20" y1="192.30" x2="550.70" y2="192.30" stroke="#000" stroke-width="0.9"/>
<line x1="548.30" y1="183.70" x2="550.70" y2="183.70" stroke="#000" stroke-width="0.9"/>
<text x="547.50" y="186.30" font-size="7.2" text-anchor="end" font-family='"Liberation Sans", sans-serif' fill="#2a2a2a" stroke="#2a2a2a" stroke-width="0.18">0.8</text>
<line x1="549.20" y1="175.10" x2="550.70" y2="175.10" stroke="#000" stroke-width="0.9"/>
<line x1="548.30" y1="166.50" x2="550.70" y2="166.50" stroke="#000" stroke-width="0.9"/>
<text x="547.50" y="169.10" font-size="7.2" text-anchor="end" font-family='"Liberation Sans", sans-serif' fill="#2a2a2a" stroke="#2a2a2a" stroke-width="0.18">1.0</text>
<line x1="549.20" y1="157.90" x2="550.70" y2="157.90" stroke="#000" stroke-width="0.9"/>
<text x="614.70" y="281.30" font-size="9.8" text-anchor="middle" font-family='"Liberation Sans", sans-serif' fill="#2a2a2a" stroke="#2a2a2a" stroke-width="0.18">Wavelength (nm)</text>
<text transform="translate(535.30,208.20) rotate(-90) scale(1.0,1)" font-size="10.0" text-anchor="middle" font-family='"Liberation Sans", sans-serif' fill="#2a2a2a" stroke="#2a2a2a" stroke-width="0.18">norm. EADS</text>
<text x="6.90" y="20.00" font-size="29.5" text-anchor="start" font-family='"Liberation Serif", serif' fill="#000">a</text>
<text x="181.20" y="20.00" font-size="29.5" text-anchor="start" font-family='"Liberation Serif", serif' fill="#000">b</text>
<text x="355.90" y="19.80" font-size="29.5" text-anchor="start" font-family='"Liberation Serif", serif' fill="#000">c</text>
<text x="533.70" y="20.00" font-size="29.5" text-anchor="start" font-family='"Liberation Serif", serif' fill="#000">d</text>
<text x="6.60" y="162.40" font-size="29.5" text-anchor="start" font-family='"Liberation Serif", serif' fill="#000">e</text>
<text x="184.00" y="160.40" font-size="29.5" text-anchor="start" font-family='"Liberation Serif", serif' fill="#000">f</text>
<text x="352.80" y="156.30" font-size="29.5" text-anchor="start" font-family='"Liberation Serif", serif' fill="#000">g</text>
<text x="534.60" y="157.20" font-size="29.5" text-anchor="start" font-family='"Liberation Serif", serif' fill="#000">h</text>
</svg>
</body></html>
